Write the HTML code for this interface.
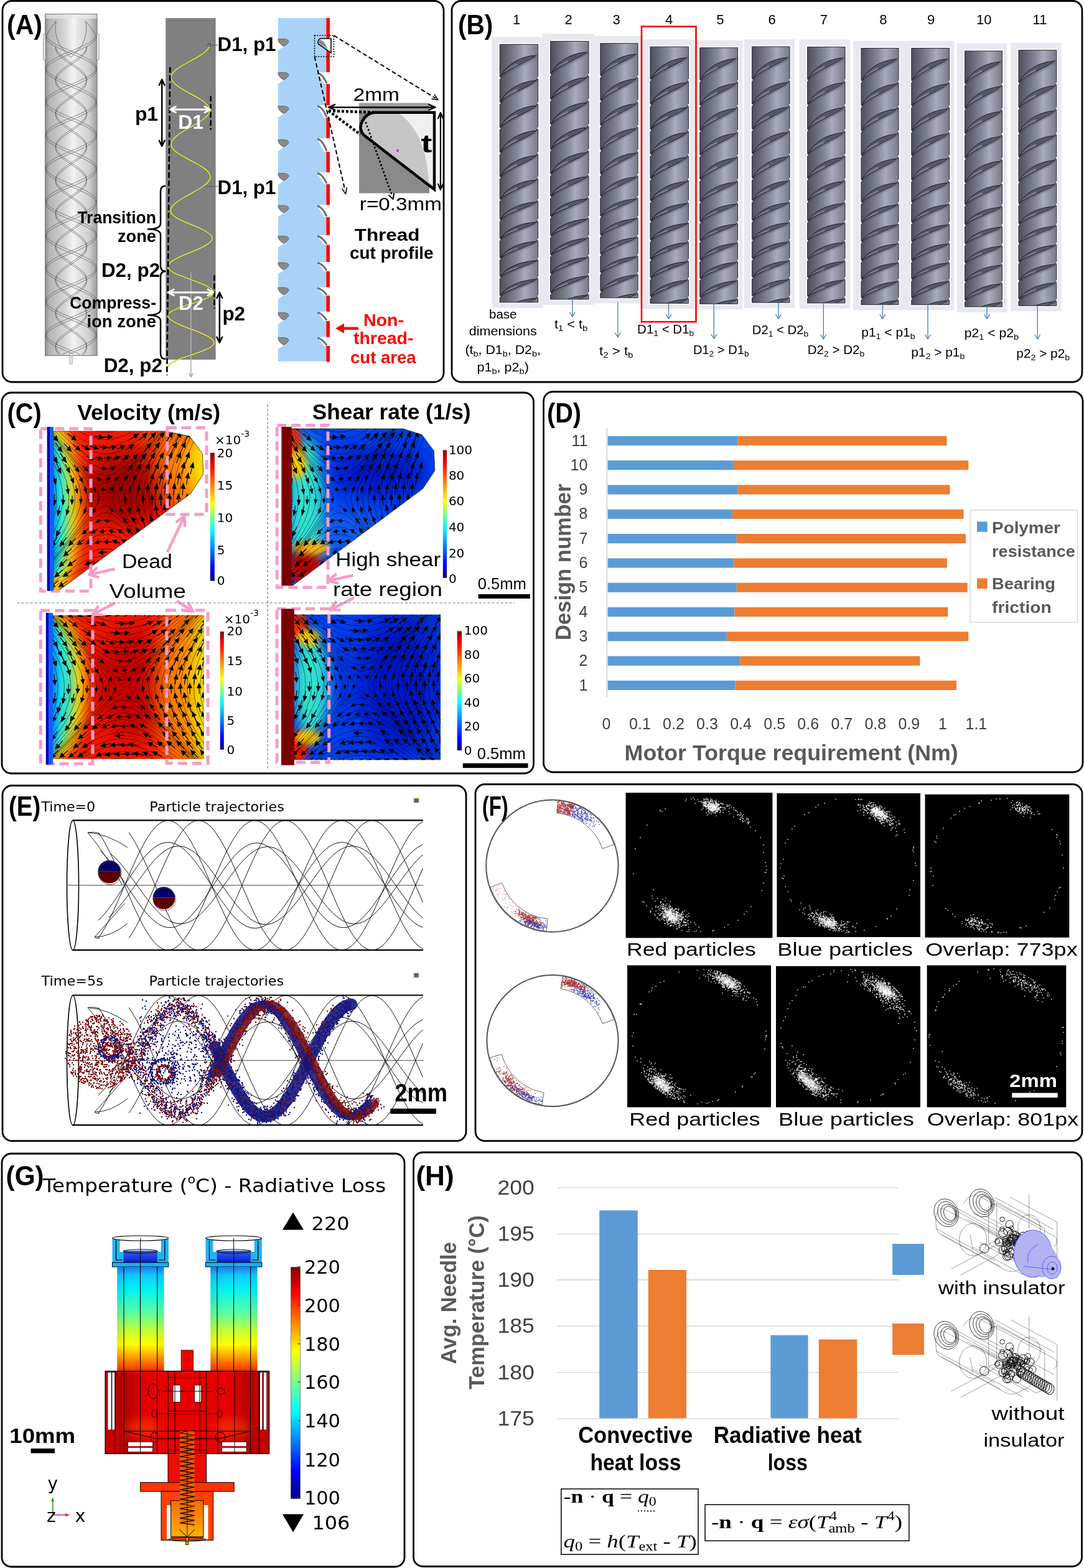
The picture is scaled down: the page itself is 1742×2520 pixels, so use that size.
<!DOCTYPE html>
<html><head><meta charset="utf-8"><title>Figure</title>
<style>html,body{margin:0;padding:0;background:#fff;}svg{display:block;}</style>
</head><body>
<svg width="1742" height="2520" viewBox="0 0 1742 2520">
<rect x="0" y="0" width="1742" height="2520" fill="#fff"/>
<rect x="4" y="1.5" width="709" height="612.5" rx="15" fill="none" stroke="#000" stroke-width="2.8"/>
<rect x="726" y="1.5" width="1013" height="612.5" rx="15" fill="none" stroke="#000" stroke-width="2.8"/>
<rect x="3" y="631" width="854.5" height="612" rx="15" fill="none" stroke="#000" stroke-width="2.8"/>
<rect x="873.5" y="629.5" width="866.5" height="611.5" rx="15" fill="none" stroke="#000" stroke-width="2.8"/>
<rect x="4" y="1262.5" width="745" height="571.1" rx="15" fill="none" stroke="#000" stroke-width="2.8"/>
<rect x="764" y="1260.5" width="975" height="573.1" rx="15" fill="none" stroke="#000" stroke-width="2.8"/>
<rect x="3" y="1854" width="647" height="664" rx="15" fill="none" stroke="#000" stroke-width="2.8"/>
<rect x="664.5" y="1852" width="1074" height="665.5" rx="15" fill="none" stroke="#000" stroke-width="2.8"/>
<defs><linearGradient id="cylA" x1="0" x2="1" y1="0" y2="0"><stop offset="0" stop-color="#8e8e8e"/><stop offset="0.08" stop-color="#b4b4b4"/><stop offset="0.35" stop-color="#d2d2d2"/><stop offset="0.55" stop-color="#f4f4f4"/><stop offset="0.62" stop-color="#e6e6e6"/><stop offset="0.85" stop-color="#cfcfcf"/><stop offset="1" stop-color="#9a9a9a"/></linearGradient><clipPath id="cylAclip"><rect x="73" y="23" width="83" height="548"/></clipPath></defs>
<rect x="72.7" y="22.6" width="83.3" height="548.8" fill="url(#cylA)" stroke="#6a6a6a" stroke-width="1"/>
<rect x="73.5" y="23" width="82" height="7" fill="#e8e8e8" opacity="0.7"/>
<rect x="69.4" y="55" width="3.6" height="41" fill="#e8e8e8" stroke="#888" stroke-width="0.8"/>
<rect x="155.5" y="55" width="3.5" height="41" fill="#e8e8e8" stroke="#888" stroke-width="0.8"/>
<rect x="112" y="571.4" width="4" height="13.6" fill="#f0f0f0" stroke="#888" stroke-width="0.8"/>
<g clip-path="url(#cylAclip)"><path d="M74 57 L75.1 59.5 L76.9 62 L79.6 64.5 L83.1 67 L87.2 69.5 L91.9 72 L97 74.5 L102.6 77 L108.4 79.5 L114.3 82 L120.2 84.5 L126 87 L131.6 89.5 L136.7 92 L141.4 94.5 L145.5 97 L149 99.5 L151.7 102 L153.5 104.5 L154.6 107 L154.8 109.5 L154.1 112 L152.5 114.5 L150.1 117 L147 119.5 L143.1 122 L138.7 124.5 L133.7 127 L128.3 129.5 L122.6 132 L116.7 134.5 L110.7 137 L104.9 139.5 L99.2 142 L93.9 144.5 L89 147 L84.6 149.5 L80.9 152 L77.9 154.5 L75.7 157 L74.3 159.5 L73.8 162 L74.2 164.5 L75.4 167 L77.4 169.5 L80.3 172 L83.8 174.5 L88.1 177 L92.9 179.5 L98.1 182 L103.7 184.5 L109.6 187 L115.5 189.5 L121.4 192 L127.2 194.5 L132.6 197 L137.7 199.5 L142.3 202 L146.3 204.5 L149.6 207 L152.1 209.5 L153.8 212 L154.7 214.5 L154.7 217 L153.8 219.5 L152.1 222 L149.6 224.5 L146.3 227 L142.3 229.5 L137.7 232 L132.6 234.5 L127.2 237 L121.4 239.5 L115.5 242 L109.6 244.5 L103.7 247 L98.1 249.5 L92.9 252 L88.1 254.5 L83.8 257 L80.3 259.5 L77.4 262 L75.4 264.5 L74.2 267 L73.8 269.5 L74.3 272 L75.7 274.5 L77.9 277 L80.9 279.5 L84.6 282 L89 284.5 L93.9 287 L99.2 289.5 L104.9 292 L110.7 294.5 L116.7 297 L122.6 299.5 L128.3 302 L133.7 304.5 L138.7 307 L143.1 309.5 L147 312 L150.1 314.5 L152.5 317 L154.1 319.5 L154.8 322 L154.6 324.5 L153.5 327 L151.7 329.5 L149 332 L145.5 334.5 L141.4 337 L136.7 339.5 L131.6 342 L126 344.5 L120.2 347 L114.3 349.5 L108.4 352 L102.6 354.5 L97 357 L91.9 359.5 L87.2 362 L83.1 364.5 L79.6 367 L76.9 369.5 L75.1 372 L74 374.5 L73.8 377 L74.5 379.5 L76.1 382 L78.5 384.5 L81.6 387 L85.5 389.5 L89.9 392 L94.9 394.5 L100.3 397 L106 399.5 L111.9 402 L117.9 404.5 L123.7 407 L129.4 409.5 L134.7 412 L139.6 414.5 L144 417 L147.7 419.5 L150.7 422 L152.9 424.5 L154.3 427 L154.8 429.5 L154.4 432 L153.2 434.5 L151.2 437 L148.3 439.5 L144.8 442 L140.5 444.5 L135.7 447 L130.5 449.5 L124.9 452 L119 454.5 L113.1 457 L107.2 459.5 L101.4 462 L96 464.5 L90.9 467 L86.3 469.5 L82.3 472 L79 474.5 L76.5 477 L74.8 479.5 L73.9 482 L73.9 484.5 L74.8 487 L76.5 489.5 L79 492 L82.3 494.5 L86.3 497 L90.9 499.5 L96 502 L101.4 504.5 L107.2 507 L113.1 509.5 L119 512 L124.9 514.5 L130.5 517 L135.7 519.5 L140.5 522 L144.8 524.5 L148.3 527 L151.2 529.5 L153.2 532 L154.4 534.5 L154.8 537 L154.3 539.5 L152.9 542 L150.7 544.5 L147.7 547 L144 549.5 L139.6 552 L134.7 554.5 L129.4 557 L123.7 559.5 L117.9 562 L111.9 564.5 L106 567 L100.3 569.5 M74.2 57 L73.8 59.5 L74.3 62 L75.7 64.5 L77.9 67 L80.9 69.5 L84.6 72 L89 74.5 L93.9 77 L99.2 79.5 L104.9 82 L110.7 84.5 L116.7 87 L122.6 89.5 L128.3 92 L133.7 94.5 L138.7 97 L143.1 99.5 L147 102 L150.1 104.5 L152.5 107 L154.1 109.5 L154.8 112 L154.6 114.5 L153.5 117 L151.7 119.5 L149 122 L145.5 124.5 L141.4 127 L136.7 129.5 L131.6 132 L126 134.5 L120.2 137 L114.3 139.5 L108.4 142 L102.6 144.5 L97 147 L91.9 149.5 L87.2 152 L83.1 154.5 L79.6 157 L76.9 159.5 L75.1 162 L74 164.5 L73.8 167 L74.5 169.5 L76.1 172 L78.5 174.5 L81.6 177 L85.5 179.5 L89.9 182 L94.9 184.5 L100.3 187 L106 189.5 L111.9 192 L117.9 194.5 L123.7 197 L129.4 199.5 L134.7 202 L139.6 204.5 L144 207 L147.7 209.5 L150.7 212 L152.9 214.5 L154.3 217 L154.8 219.5 L154.4 222 L153.2 224.5 L151.2 227 L148.3 229.5 L144.8 232 L140.5 234.5 L135.7 237 L130.5 239.5 L124.9 242 L119 244.5 L113.1 247 L107.2 249.5 L101.4 252 L96 254.5 L90.9 257 L86.3 259.5 L82.3 262 L79 264.5 L76.5 267 L74.8 269.5 L73.9 272 L73.9 274.5 L74.8 277 L76.5 279.5 L79 282 L82.3 284.5 L86.3 287 L90.9 289.5 L96 292 L101.4 294.5 L107.2 297 L113.1 299.5 L119 302 L124.9 304.5 L130.5 307 L135.7 309.5 L140.5 312 L144.8 314.5 L148.3 317 L151.2 319.5 L153.2 322 L154.4 324.5 L154.8 327 L154.3 329.5 L152.9 332 L150.7 334.5 L147.7 337 L144 339.5 L139.6 342 L134.7 344.5 L129.4 347 L123.7 349.5 L117.9 352 L111.9 354.5 L106 357 L100.3 359.5 L94.9 362 L89.9 364.5 L85.5 367 L81.6 369.5 L78.5 372 L76.1 374.5 L74.5 377 L73.8 379.5 L74 382 L75.1 384.5 L76.9 387 L79.6 389.5 L83.1 392 L87.2 394.5 L91.9 397 L97 399.5 L102.6 402 L108.4 404.5 L114.3 407 L120.2 409.5 L126 412 L131.6 414.5 L136.7 417 L141.4 419.5 L145.5 422 L149 424.5 L151.7 427 L153.5 429.5 L154.6 432 L154.8 434.5 L154.1 437 L152.5 439.5 L150.1 442 L147 444.5 L143.1 447 L138.7 449.5 L133.7 452 L128.3 454.5 L122.6 457 L116.7 459.5 L110.7 462 L104.9 464.5 L99.2 467 L93.9 469.5 L89 472 L84.6 474.5 L80.9 477 L77.9 479.5 L75.7 482 L74.3 484.5 L73.8 487 L74.2 489.5 L75.4 492 L77.4 494.5 L80.3 497 L83.8 499.5 L88.1 502 L92.9 504.5 L98.1 507 L103.7 509.5 L109.6 512 L115.5 514.5 L121.4 517 L127.2 519.5 L132.6 522 L137.7 524.5 L142.3 527 L146.3 529.5 L149.6 532 L152.1 534.5 L153.8 537 L154.7 539.5 L154.7 542 L153.8 544.5 L152.1 547 L149.6 549.5 L146.3 552 L142.3 554.5 L137.7 557 L132.6 559.5 L127.2 562 L121.4 564.5 L115.5 567 L109.6 569.5 M154.6 57 L153.5 59.5 L151.7 62 L149 64.5 L145.5 67 L141.4 69.5 L136.7 72 L131.6 74.5 L126 77 L120.2 79.5 L114.3 82 L108.4 84.5 L102.6 87 L97 89.5 L91.9 92 L87.2 94.5 L83.1 97 L79.6 99.5 L76.9 102 L75.1 104.5 L74 107 L73.8 109.5 L74.5 112 L76.1 114.5 L78.5 117 L81.6 119.5 L85.5 122 L89.9 124.5 L94.9 127 L100.3 129.5 L106 132 L111.9 134.5 L117.9 137 L123.7 139.5 L129.4 142 L134.7 144.5 L139.6 147 L144 149.5 L147.7 152 L150.7 154.5 L152.9 157 L154.3 159.5 L154.8 162 L154.4 164.5 L153.2 167 L151.2 169.5 L148.3 172 L144.8 174.5 L140.5 177 L135.7 179.5 L130.5 182 L124.9 184.5 L119 187 L113.1 189.5 L107.2 192 L101.4 194.5 L96 197 L90.9 199.5 L86.3 202 L82.3 204.5 L79 207 L76.5 209.5 L74.8 212 L73.9 214.5 L73.9 217 L74.8 219.5 L76.5 222 L79 224.5 L82.3 227 L86.3 229.5 L90.9 232 L96 234.5 L101.4 237 L107.2 239.5 L113.1 242 L119 244.5 L124.9 247 L130.5 249.5 L135.7 252 L140.5 254.5 L144.8 257 L148.3 259.5 L151.2 262 L153.2 264.5 L154.4 267 L154.8 269.5 L154.3 272 L152.9 274.5 L150.7 277 L147.7 279.5 L144 282 L139.6 284.5 L134.7 287 L129.4 289.5 L123.7 292 L117.9 294.5 L111.9 297 L106 299.5 L100.3 302 L94.9 304.5 L89.9 307 L85.5 309.5 L81.6 312 L78.5 314.5 L76.1 317 L74.5 319.5 L73.8 322 L74 324.5 L75.1 327 L76.9 329.5 L79.6 332 L83.1 334.5 L87.2 337 L91.9 339.5 L97 342 L102.6 344.5 L108.4 347 L114.3 349.5 L120.2 352 L126 354.5 L131.6 357 L136.7 359.5 L141.4 362 L145.5 364.5 L149 367 L151.7 369.5 L153.5 372 L154.6 374.5 L154.8 377 L154.1 379.5 L152.5 382 L150.1 384.5 L147 387 L143.1 389.5 L138.7 392 L133.7 394.5 L128.3 397 L122.6 399.5 L116.7 402 L110.7 404.5 L104.9 407 L99.2 409.5 L93.9 412 L89 414.5 L84.6 417 L80.9 419.5 L77.9 422 L75.7 424.5 L74.3 427 L73.8 429.5 L74.2 432 L75.4 434.5 L77.4 437 L80.3 439.5 L83.8 442 L88.1 444.5 L92.9 447 L98.1 449.5 L103.7 452 L109.6 454.5 L115.5 457 L121.4 459.5 L127.2 462 L132.6 464.5 L137.7 467 L142.3 469.5 L146.3 472 L149.6 474.5 L152.1 477 L153.8 479.5 L154.7 482 L154.7 484.5 L153.8 487 L152.1 489.5 L149.6 492 L146.3 494.5 L142.3 497 L137.7 499.5 L132.6 502 L127.2 504.5 L121.4 507 L115.5 509.5 L109.6 512 L103.7 514.5 L98.1 517 L92.9 519.5 L88.1 522 L83.8 524.5 L80.3 527 L77.4 529.5 L75.4 532 L74.2 534.5 L73.8 537 L74.3 539.5 L75.7 542 L77.9 544.5 L80.9 547 L84.6 549.5 L89 552 L93.9 554.5 L99.2 557 L104.9 559.5 L110.7 562 L116.7 564.5 L122.6 567 L128.3 569.5 M154.4 57 L154.8 59.5 L154.3 62 L152.9 64.5 L150.7 67 L147.7 69.5 L144 72 L139.6 74.5 L134.7 77 L129.4 79.5 L123.7 82 L117.9 84.5 L111.9 87 L106 89.5 L100.3 92 L94.9 94.5 L89.9 97 L85.5 99.5 L81.6 102 L78.5 104.5 L76.1 107 L74.5 109.5 L73.8 112 L74 114.5 L75.1 117 L76.9 119.5 L79.6 122 L83.1 124.5 L87.2 127 L91.9 129.5 L97 132 L102.6 134.5 L108.4 137 L114.3 139.5 L120.2 142 L126 144.5 L131.6 147 L136.7 149.5 L141.4 152 L145.5 154.5 L149 157 L151.7 159.5 L153.5 162 L154.6 164.5 L154.8 167 L154.1 169.5 L152.5 172 L150.1 174.5 L147 177 L143.1 179.5 L138.7 182 L133.7 184.5 L128.3 187 L122.6 189.5 L116.7 192 L110.7 194.5 L104.9 197 L99.2 199.5 L93.9 202 L89 204.5 L84.6 207 L80.9 209.5 L77.9 212 L75.7 214.5 L74.3 217 L73.8 219.5 L74.2 222 L75.4 224.5 L77.4 227 L80.3 229.5 L83.8 232 L88.1 234.5 L92.9 237 L98.1 239.5 L103.7 242 L109.6 244.5 L115.5 247 L121.4 249.5 L127.2 252 L132.6 254.5 L137.7 257 L142.3 259.5 L146.3 262 L149.6 264.5 L152.1 267 L153.8 269.5 L154.7 272 L154.7 274.5 L153.8 277 L152.1 279.5 L149.6 282 L146.3 284.5 L142.3 287 L137.7 289.5 L132.6 292 L127.2 294.5 L121.4 297 L115.5 299.5 L109.6 302 L103.7 304.5 L98.1 307 L92.9 309.5 L88.1 312 L83.8 314.5 L80.3 317 L77.4 319.5 L75.4 322 L74.2 324.5 L73.8 327 L74.3 329.5 L75.7 332 L77.9 334.5 L80.9 337 L84.6 339.5 L89 342 L93.9 344.5 L99.2 347 L104.9 349.5 L110.7 352 L116.7 354.5 L122.6 357 L128.3 359.5 L133.7 362 L138.7 364.5 L143.1 367 L147 369.5 L150.1 372 L152.5 374.5 L154.1 377 L154.8 379.5 L154.6 382 L153.5 384.5 L151.7 387 L149 389.5 L145.5 392 L141.4 394.5 L136.7 397 L131.6 399.5 L126 402 L120.2 404.5 L114.3 407 L108.4 409.5 L102.6 412 L97 414.5 L91.9 417 L87.2 419.5 L83.1 422 L79.6 424.5 L76.9 427 L75.1 429.5 L74 432 L73.8 434.5 L74.5 437 L76.1 439.5 L78.5 442 L81.6 444.5 L85.5 447 L89.9 449.5 L94.9 452 L100.3 454.5 L106 457 L111.9 459.5 L117.9 462 L123.7 464.5 L129.4 467 L134.7 469.5 L139.6 472 L144 474.5 L147.7 477 L150.7 479.5 L152.9 482 L154.3 484.5 L154.8 487 L154.4 489.5 L153.2 492 L151.2 494.5 L148.3 497 L144.8 499.5 L140.5 502 L135.7 504.5 L130.5 507 L124.9 509.5 L119 512 L113.1 514.5 L107.2 517 L101.4 519.5 L96 522 L90.9 524.5 L86.3 527 L82.3 529.5 L79 532 L76.5 534.5 L74.8 537 L73.9 539.5 L73.9 542 L74.8 544.5 L76.5 547 L79 549.5 L82.3 552 L86.3 554.5 L90.9 557 L96 559.5 L101.4 562 L107.2 564.5 L113.1 567 L119 569.5 M89.3 75 L89.8 77.5 L90.7 80 L92.2 82.5 L94.1 85 L96.5 87.5 L99.3 90 L102.3 92.5 L105.7 95 L109.2 97.5 L112.8 100 L116.5 102.5 L120.1 105 L123.6 107.5 L126.9 110 L129.9 112.5 L132.6 115 L134.9 117.5 L136.8 120 L138.1 122.5 L139 125 L139.3 127.5 L139.1 130 L138.3 132.5 L137.1 135 L135.3 137.5 L133.1 140 L130.5 142.5 L127.5 145 L124.3 147.5 L120.8 150 L117.2 152.5 L113.6 155 L109.9 157.5 L106.4 160 L103 162.5 L99.8 165 L97 167.5 L94.6 170 L92.5 172.5 L91 175 L89.9 177.5 L89.4 180 L89.4 182.5 L89.9 185 L91 187.5 L92.5 190 L94.6 192.5 L97 195 L99.8 197.5 L103 200 L106.4 202.5 L109.9 205 L113.6 207.5 L117.2 210 L120.8 212.5 L124.3 215 L127.5 217.5 L130.5 220 L133.1 222.5 L135.3 225 L137.1 227.5 L138.3 230 L139.1 232.5 L139.3 235 L139 237.5 L138.1 240 L136.8 242.5 L134.9 245 L132.6 247.5 L129.9 250 L126.9 252.5 L123.6 255 L120.1 257.5 L116.5 260 L112.8 262.5 L109.2 265 L105.7 267.5 L102.3 270 L99.3 272.5 L96.5 275 L94.1 277.5 L92.2 280 L90.7 282.5 L89.8 285 L89.3 287.5 L89.4 290 L90.1 292.5 L91.2 295 L92.9 297.5 L95 300 L97.6 302.5 L100.4 305 L103.6 307.5 L107.1 310 L110.6 312.5 L114.3 315 L118 317.5 L121.5 320 L125 322.5 L128.2 325 L131 327.5 L133.6 330 L135.7 332.5 L137.4 335 L138.5 337.5 L139.2 340 L139.3 342.5 L138.8 345 L137.9 347.5 L136.4 350 L134.5 352.5 L132.1 355 L129.3 357.5 L126.3 360 L122.9 362.5 L119.4 365 L115.8 367.5 L112.1 370 L108.5 372.5 L105 375 L101.7 377.5 L98.7 380 L96 382.5 L93.7 385 L91.8 387.5 L90.5 390 L89.6 392.5 L89.3 395 L89.5 397.5 L90.3 400 L91.5 402.5 L93.3 405 L95.5 407.5 L98.1 410 L101.1 412.5 L104.3 415 L107.8 417.5 L111.4 420 L115 422.5 L118.7 425 L122.2 427.5 L125.6 430 L128.8 432.5 L131.6 435 L134 437.5 L136.1 440 L137.6 442.5 L138.7 445 L139.2 447.5 L139.2 450 L138.7 452.5 L137.6 455 L136.1 457.5 L134 460 L131.6 462.5 L128.8 465 L125.6 467.5 L122.2 470 L118.7 472.5 L115 475 L111.4 477.5 L107.8 480 L104.3 482.5 L101.1 485 L98.1 487.5 L95.5 490 L93.3 492.5 L91.5 495 L90.3 497.5 L89.5 500 L89.3 502.5 L89.6 505 L90.5 507.5 L91.8 510 L93.7 512.5 L96 515 L98.7 517.5 L101.7 520 L105 522.5 L108.5 525 L112.1 527.5 L115.8 530 L119.4 532.5 L122.9 535 L126.3 537.5 L129.3 540 L132.1 542.5 L134.5 545 L136.4 547.5 L137.9 550 L138.8 552.5 L139.3 555 L139.2 557.5 L138.5 560 L137.4 562.5 L135.7 565 L133.6 567.5 L131 570 M89.5 75 L89.3 77.5 L89.6 80 L90.5 82.5 L91.8 85 L93.7 87.5 L96 90 L98.7 92.5 L101.7 95 L105 97.5 L108.5 100 L112.1 102.5 L115.8 105 L119.4 107.5 L122.9 110 L126.3 112.5 L129.3 115 L132.1 117.5 L134.5 120 L136.4 122.5 L137.9 125 L138.8 127.5 L139.3 130 L139.2 132.5 L138.5 135 L137.4 137.5 L135.7 140 L133.6 142.5 L131 145 L128.2 147.5 L125 150 L121.5 152.5 L118 155 L114.3 157.5 L110.6 160 L107.1 162.5 L103.6 165 L100.4 167.5 L97.6 170 L95 172.5 L92.9 175 L91.2 177.5 L90.1 180 L89.4 182.5 L89.3 185 L89.8 187.5 L90.7 190 L92.2 192.5 L94.1 195 L96.5 197.5 L99.3 200 L102.3 202.5 L105.7 205 L109.2 207.5 L112.8 210 L116.5 212.5 L120.1 215 L123.6 217.5 L126.9 220 L129.9 222.5 L132.6 225 L134.9 227.5 L136.8 230 L138.1 232.5 L139 235 L139.3 237.5 L139.1 240 L138.3 242.5 L137.1 245 L135.3 247.5 L133.1 250 L130.5 252.5 L127.5 255 L124.3 257.5 L120.8 260 L117.2 262.5 L113.6 265 L109.9 267.5 L106.4 270 L103 272.5 L99.8 275 L97 277.5 L94.6 280 L92.5 282.5 L91 285 L89.9 287.5 L89.4 290 L89.4 292.5 L89.9 295 L91 297.5 L92.5 300 L94.6 302.5 L97 305 L99.8 307.5 L103 310 L106.4 312.5 L109.9 315 L113.6 317.5 L117.2 320 L120.8 322.5 L124.3 325 L127.5 327.5 L130.5 330 L133.1 332.5 L135.3 335 L137.1 337.5 L138.3 340 L139.1 342.5 L139.3 345 L139 347.5 L138.1 350 L136.8 352.5 L134.9 355 L132.6 357.5 L129.9 360 L126.9 362.5 L123.6 365 L120.1 367.5 L116.5 370 L112.8 372.5 L109.2 375 L105.7 377.5 L102.3 380 L99.3 382.5 L96.5 385 L94.1 387.5 L92.2 390 L90.7 392.5 L89.8 395 L89.3 397.5 L89.4 400 L90.1 402.5 L91.2 405 L92.9 407.5 L95 410 L97.6 412.5 L100.4 415 L103.6 417.5 L107.1 420 L110.6 422.5 L114.3 425 L118 427.5 L121.5 430 L125 432.5 L128.2 435 L131 437.5 L133.6 440 L135.7 442.5 L137.4 445 L138.5 447.5 L139.2 450 L139.3 452.5 L138.8 455 L137.9 457.5 L136.4 460 L134.5 462.5 L132.1 465 L129.3 467.5 L126.3 470 L122.9 472.5 L119.4 475 L115.8 477.5 L112.1 480 L108.5 482.5 L105 485 L101.7 487.5 L98.7 490 L96 492.5 L93.7 495 L91.8 497.5 L90.5 500 L89.6 502.5 L89.3 505 L89.5 507.5 L90.3 510 L91.5 512.5 L93.3 515 L95.5 517.5 L98.1 520 L101.1 522.5 L104.3 525 L107.8 527.5 L111.4 530 L115 532.5 L118.7 535 L122.2 537.5 L125.6 540 L128.8 542.5 L131.6 545 L134 547.5 L136.1 550 L137.6 552.5 L138.7 555 L139.2 557.5 L139.2 560 L138.7 562.5 L137.6 565 L136.1 567.5 L134 570 M139.3 75 L138.8 77.5 L137.9 80 L136.4 82.5 L134.5 85 L132.1 87.5 L129.3 90 L126.3 92.5 L122.9 95 L119.4 97.5 L115.8 100 L112.1 102.5 L108.5 105 L105 107.5 L101.7 110 L98.7 112.5 L96 115 L93.7 117.5 L91.8 120 L90.5 122.5 L89.6 125 L89.3 127.5 L89.5 130 L90.3 132.5 L91.5 135 L93.3 137.5 L95.5 140 L98.1 142.5 L101.1 145 L104.3 147.5 L107.8 150 L111.4 152.5 L115 155 L118.7 157.5 L122.2 160 L125.6 162.5 L128.8 165 L131.6 167.5 L134 170 L136.1 172.5 L137.6 175 L138.7 177.5 L139.2 180 L139.2 182.5 L138.7 185 L137.6 187.5 L136.1 190 L134 192.5 L131.6 195 L128.8 197.5 L125.6 200 L122.2 202.5 L118.7 205 L115 207.5 L111.4 210 L107.8 212.5 L104.3 215 L101.1 217.5 L98.1 220 L95.5 222.5 L93.3 225 L91.5 227.5 L90.3 230 L89.5 232.5 L89.3 235 L89.6 237.5 L90.5 240 L91.8 242.5 L93.7 245 L96 247.5 L98.7 250 L101.7 252.5 L105 255 L108.5 257.5 L112.1 260 L115.8 262.5 L119.4 265 L122.9 267.5 L126.3 270 L129.3 272.5 L132.1 275 L134.5 277.5 L136.4 280 L137.9 282.5 L138.8 285 L139.3 287.5 L139.2 290 L138.5 292.5 L137.4 295 L135.7 297.5 L133.6 300 L131 302.5 L128.2 305 L125 307.5 L121.5 310 L118 312.5 L114.3 315 L110.6 317.5 L107.1 320 L103.6 322.5 L100.4 325 L97.6 327.5 L95 330 L92.9 332.5 L91.2 335 L90.1 337.5 L89.4 340 L89.3 342.5 L89.8 345 L90.7 347.5 L92.2 350 L94.1 352.5 L96.5 355 L99.3 357.5 L102.3 360 L105.7 362.5 L109.2 365 L112.8 367.5 L116.5 370 L120.1 372.5 L123.6 375 L126.9 377.5 L129.9 380 L132.6 382.5 L134.9 385 L136.8 387.5 L138.1 390 L139 392.5 L139.3 395 L139.1 397.5 L138.3 400 L137.1 402.5 L135.3 405 L133.1 407.5 L130.5 410 L127.5 412.5 L124.3 415 L120.8 417.5 L117.2 420 L113.6 422.5 L109.9 425 L106.4 427.5 L103 430 L99.8 432.5 L97 435 L94.6 437.5 L92.5 440 L91 442.5 L89.9 445 L89.4 447.5 L89.4 450 L89.9 452.5 L91 455 L92.5 457.5 L94.6 460 L97 462.5 L99.8 465 L103 467.5 L106.4 470 L109.9 472.5 L113.6 475 L117.2 477.5 L120.8 480 L124.3 482.5 L127.5 485 L130.5 487.5 L133.1 490 L135.3 492.5 L137.1 495 L138.3 497.5 L139.1 500 L139.3 502.5 L139 505 L138.1 507.5 L136.8 510 L134.9 512.5 L132.6 515 L129.9 517.5 L126.9 520 L123.6 522.5 L120.1 525 L116.5 527.5 L112.8 530 L109.2 532.5 L105.7 535 L102.3 537.5 L99.3 540 L96.5 542.5 L94.1 545 L92.2 547.5 L90.7 550 L89.8 552.5 L89.3 555 L89.4 557.5 L90.1 560 L91.2 562.5 L92.9 565 L95 567.5 L97.6 570 M139.1 75 L139.3 77.5 L139 80 L138.1 82.5 L136.8 85 L134.9 87.5 L132.6 90 L129.9 92.5 L126.9 95 L123.6 97.5 L120.1 100 L116.5 102.5 L112.8 105 L109.2 107.5 L105.7 110 L102.3 112.5 L99.3 115 L96.5 117.5 L94.1 120 L92.2 122.5 L90.7 125 L89.8 127.5 L89.3 130 L89.4 132.5 L90.1 135 L91.2 137.5 L92.9 140 L95 142.5 L97.6 145 L100.4 147.5 L103.6 150 L107.1 152.5 L110.6 155 L114.3 157.5 L118 160 L121.5 162.5 L125 165 L128.2 167.5 L131 170 L133.6 172.5 L135.7 175 L137.4 177.5 L138.5 180 L139.2 182.5 L139.3 185 L138.8 187.5 L137.9 190 L136.4 192.5 L134.5 195 L132.1 197.5 L129.3 200 L126.3 202.5 L122.9 205 L119.4 207.5 L115.8 210 L112.1 212.5 L108.5 215 L105 217.5 L101.7 220 L98.7 222.5 L96 225 L93.7 227.5 L91.8 230 L90.5 232.5 L89.6 235 L89.3 237.5 L89.5 240 L90.3 242.5 L91.5 245 L93.3 247.5 L95.5 250 L98.1 252.5 L101.1 255 L104.3 257.5 L107.8 260 L111.4 262.5 L115 265 L118.7 267.5 L122.2 270 L125.6 272.5 L128.8 275 L131.6 277.5 L134 280 L136.1 282.5 L137.6 285 L138.7 287.5 L139.2 290 L139.2 292.5 L138.7 295 L137.6 297.5 L136.1 300 L134 302.5 L131.6 305 L128.8 307.5 L125.6 310 L122.2 312.5 L118.7 315 L115 317.5 L111.4 320 L107.8 322.5 L104.3 325 L101.1 327.5 L98.1 330 L95.5 332.5 L93.3 335 L91.5 337.5 L90.3 340 L89.5 342.5 L89.3 345 L89.6 347.5 L90.5 350 L91.8 352.5 L93.7 355 L96 357.5 L98.7 360 L101.7 362.5 L105 365 L108.5 367.5 L112.1 370 L115.8 372.5 L119.4 375 L122.9 377.5 L126.3 380 L129.3 382.5 L132.1 385 L134.5 387.5 L136.4 390 L137.9 392.5 L138.8 395 L139.3 397.5 L139.2 400 L138.5 402.5 L137.4 405 L135.7 407.5 L133.6 410 L131 412.5 L128.2 415 L125 417.5 L121.5 420 L118 422.5 L114.3 425 L110.6 427.5 L107.1 430 L103.6 432.5 L100.4 435 L97.6 437.5 L95 440 L92.9 442.5 L91.2 445 L90.1 447.5 L89.4 450 L89.3 452.5 L89.8 455 L90.7 457.5 L92.2 460 L94.1 462.5 L96.5 465 L99.3 467.5 L102.3 470 L105.7 472.5 L109.2 475 L112.8 477.5 L116.5 480 L120.1 482.5 L123.6 485 L126.9 487.5 L129.9 490 L132.6 492.5 L134.9 495 L136.8 497.5 L138.1 500 L139 502.5 L139.3 505 L139.1 507.5 L138.3 510 L137.1 512.5 L135.3 515 L133.1 517.5 L130.5 520 L127.5 522.5 L124.3 525 L120.8 527.5 L117.2 530 L113.6 532.5 L109.9 535 L106.4 537.5 L103 540 L99.8 542.5 L97 545 L94.6 547.5 L92.5 550 L91 552.5 L89.9 555 L89.4 557.5 L89.4 560 L89.9 562.5 L91 565 L92.5 567.5 L94.6 570 M90 34 Q86 52 96 72 Q106 86 114 92 M90 34 Q80 46 74 58 M137.5 34 Q142 52 132 72 Q122 86 114 92 M137.5 34 Q148 46 155 58" fill="none" stroke="#4a4a4a" stroke-width="0.9" opacity="0.7"/></g>
<rect x="266.2" y="29.1" width="80.4" height="548.9" fill="#808080"/>
<path d="M336.3 72.4 L335.5 76.1 L333.3 79.8 L329.6 83.5 L324.8 87.1 L318.9 90.8 L312.5 94.5 L305.7 98.2 L298.8 101.9 L292.4 105.6 L286.5 109.3 L281.7 112.9 L278 116.6 L275.8 120.3 L275 124 L275.8 127.8 L278.1 131.6 L281.8 135.4 L286.7 139.1 L292.5 142.9 L299.1 146.7 L306 150.5 L312.9 154.3 L319.5 158.1 L325.3 161.9 L330.2 165.6 L333.9 169.4 L336.2 173.2 L337 177 L336.2 180.9 L333.9 184.9 L330.2 188.8 L325.3 192.7 L319.5 196.6 L312.9 200.6 L306 204.5 L299.1 208.4 L292.5 212.4 L286.7 216.3 L281.8 220.2 L278.1 224.1 L275.8 228.1 L275 232 L275.8 235.7 L278.1 239.4 L281.9 243.1 L286.9 246.9 L292.8 250.6 L299.5 254.3 L306.5 258 L313.5 261.7 L320.2 265.4 L326.1 269.1 L331.1 272.9 L334.9 276.6 L337.2 280.3 L338 284 L337.2 287.9 L334.8 291.9 L331 295.8 L326 299.7 L319.9 303.6 L313.1 307.6 L306 311.5 L298.9 315.4 L292.1 319.4 L286 323.3 L281 327.2 L277.2 331.1 L274.8 335.1 L274 339 L274.8 342.1 L277.3 345.3 L281.3 348.4 L286.6 351.6 L293 354.7 L300 357.9 L307.5 361 L315 364.1 L322 367.3 L328.4 370.4 L333.7 373.6 L337.7 376.7 L340.2 379.9 L341 383 L340.1 386.2 L337.5 389.5 L333.3 392.8 L327.6 396 L320.9 399.2 L313.4 402.5 L305.5 405.8 L297.6 409 L290.1 412.2 L283.4 415.5 L277.7 418.8 L273.5 422 L270.9 425.2 L270 428.5 L270.9 431.5 L273.6 434.4 L278 437.4 L283.7 440.4 L290.7 443.3 L298.4 446.3 L306.5 449.2 L314.6 452.2 L322.3 455.2 L329.3 458.1 L335 461.1 L339.4 464.1 L342.1 467 L343 470 L342.1 472.6 L339.4 475.3 L335 477.9 L329.3 480.6 L322.3 483.2 L314.6 485.9 L306.5 488.5 L298.4 491.1 L290.7 493.8 L283.7 496.4 L278 499.1 L273.6 501.7 L270.9 504.4 L270 507 L270.9 510.1 L273.7 513.3 L278.1 516.4 L283.9 519.6 L290.9 522.7 L298.8 525.9 L307 529 L315.2 532.1 L323.1 535.3 L330.1 538.4 L335.9 541.6 L340.3 544.7 L343.1 547.9 L344 551 L343.1 553.8 L340.3 556.6 L335.9 559.4 L330.1 562.1 L323.1 564.9 L315.2 567.7 L307 570.5 L298.8 573.3 L290.9 576.1 L283.9 578.9 L278.1 581.6 L273.7 584.4 L270.9 587.2 L270 590" fill="none" stroke="#3a3aa0" stroke-width="2.6" opacity="0.35"/>
<path d="M336.3 72.4 L335.5 76.1 L333.3 79.8 L329.6 83.5 L324.8 87.1 L318.9 90.8 L312.5 94.5 L305.7 98.2 L298.8 101.9 L292.4 105.6 L286.5 109.3 L281.7 112.9 L278 116.6 L275.8 120.3 L275 124 L275.8 127.8 L278.1 131.6 L281.8 135.4 L286.7 139.1 L292.5 142.9 L299.1 146.7 L306 150.5 L312.9 154.3 L319.5 158.1 L325.3 161.9 L330.2 165.6 L333.9 169.4 L336.2 173.2 L337 177 L336.2 180.9 L333.9 184.9 L330.2 188.8 L325.3 192.7 L319.5 196.6 L312.9 200.6 L306 204.5 L299.1 208.4 L292.5 212.4 L286.7 216.3 L281.8 220.2 L278.1 224.1 L275.8 228.1 L275 232 L275.8 235.7 L278.1 239.4 L281.9 243.1 L286.9 246.9 L292.8 250.6 L299.5 254.3 L306.5 258 L313.5 261.7 L320.2 265.4 L326.1 269.1 L331.1 272.9 L334.9 276.6 L337.2 280.3 L338 284 L337.2 287.9 L334.8 291.9 L331 295.8 L326 299.7 L319.9 303.6 L313.1 307.6 L306 311.5 L298.9 315.4 L292.1 319.4 L286 323.3 L281 327.2 L277.2 331.1 L274.8 335.1 L274 339 L274.8 342.1 L277.3 345.3 L281.3 348.4 L286.6 351.6 L293 354.7 L300 357.9 L307.5 361 L315 364.1 L322 367.3 L328.4 370.4 L333.7 373.6 L337.7 376.7 L340.2 379.9 L341 383 L340.1 386.2 L337.5 389.5 L333.3 392.8 L327.6 396 L320.9 399.2 L313.4 402.5 L305.5 405.8 L297.6 409 L290.1 412.2 L283.4 415.5 L277.7 418.8 L273.5 422 L270.9 425.2 L270 428.5 L270.9 431.5 L273.6 434.4 L278 437.4 L283.7 440.4 L290.7 443.3 L298.4 446.3 L306.5 449.2 L314.6 452.2 L322.3 455.2 L329.3 458.1 L335 461.1 L339.4 464.1 L342.1 467 L343 470 L342.1 472.6 L339.4 475.3 L335 477.9 L329.3 480.6 L322.3 483.2 L314.6 485.9 L306.5 488.5 L298.4 491.1 L290.7 493.8 L283.7 496.4 L278 499.1 L273.6 501.7 L270.9 504.4 L270 507 L270.9 510.1 L273.7 513.3 L278.1 516.4 L283.9 519.6 L290.9 522.7 L298.8 525.9 L307 529 L315.2 532.1 L323.1 535.3 L330.1 538.4 L335.9 541.6 L340.3 544.7 L343.1 547.9 L344 551 L343.1 553.8 L340.3 556.6 L335.9 559.4 L330.1 562.1 L323.1 564.9 L315.2 567.7 L307 570.5 L298.8 573.3 L290.9 576.1 L283.9 578.9 L278.1 581.6 L273.7 584.4 L270.9 587.2 L270 590" fill="none" stroke="#f2ee1a" stroke-width="1.6"/>
<circle cx="336.3" cy="72.4" r="2.2" fill="none" stroke="#333" stroke-width="1"/>
<line x1="338.5" y1="72.4" x2="350" y2="72.4" stroke="#555" stroke-width="1"/>
<line x1="329" y1="299.7" x2="350" y2="299.7" stroke="#555" stroke-width="1"/>
<line x1="268" y1="436" x2="266" y2="436" stroke="#555" stroke-width="1"/>
<line x1="306.8" y1="438" x2="306.8" y2="603" stroke="#b0b0b0" stroke-width="1.6"/>
<path d="M303.9 600.7 L306.8 606 L309.7 600.7" fill="none" stroke="#9a9a9a" stroke-width="1.5" stroke-linecap="round" stroke-linejoin="round"/>
<line x1="273.3" y1="108" x2="268.3" y2="603" stroke="#000" stroke-width="2.6" stroke-dasharray="9 4"/>
<line x1="338.6" y1="154" x2="338.6" y2="208.6" stroke="#000" stroke-width="2.6" stroke-dasharray="9 4"/>
<line x1="344.4" y1="442.6" x2="344.4" y2="496" stroke="#000" stroke-width="2.6" stroke-dasharray="9 4"/>
<line x1="260.2" y1="128.8" x2="260.2" y2="234" stroke="#000" stroke-width="2.5"/><path d="M264.5 136.8 L260.2 127.8 L255.9 136.8" fill="none" stroke="#000" stroke-width="2.5" stroke-linecap="round" stroke-linejoin="round"/><path d="M255.9 226 L260.2 235 L264.5 226" fill="none" stroke="#000" stroke-width="2.5" stroke-linecap="round" stroke-linejoin="round"/>
<line x1="352.8" y1="471" x2="352.8" y2="549.7" stroke="#000" stroke-width="2.5"/><path d="M357.1 479 L352.8 470 L348.5 479" fill="none" stroke="#000" stroke-width="2.5" stroke-linecap="round" stroke-linejoin="round"/><path d="M348.5 541.7 L352.8 550.7 L357.1 541.7" fill="none" stroke="#000" stroke-width="2.5" stroke-linecap="round" stroke-linejoin="round"/>
<line x1="274.5" y1="176" x2="337" y2="176" stroke="#fff" stroke-width="3"/><path d="M282.3 171.2 L273.5 176 L282.3 180.8" fill="none" stroke="#fff" stroke-width="3" stroke-linecap="round" stroke-linejoin="round"/><path d="M329.2 180.8 L338 176 L329.2 171.2" fill="none" stroke="#fff" stroke-width="3" stroke-linecap="round" stroke-linejoin="round"/>
<line x1="271.5" y1="470" x2="342" y2="470" stroke="#fff" stroke-width="3"/><path d="M279.3 465.2 L270.5 470 L279.3 474.8" fill="none" stroke="#fff" stroke-width="3" stroke-linecap="round" stroke-linejoin="round"/><path d="M334.2 474.8 L343 470 L334.2 465.2" fill="none" stroke="#fff" stroke-width="3" stroke-linecap="round" stroke-linejoin="round"/>
<path d="M266 298.8 Q258 298.8 258 307.8 L258 359.3 Q258 368.3 237 368.3 Q258 368.3 258 377.3 L258 427 Q258 436 266 436" fill="none" stroke="#000" stroke-width="2.5"/>
<path d="M266 436 Q258 436 258 445 L258 497.5 Q258 506.5 237 506.5 Q258 506.5 258 515.5 L258 568 Q258 577 266 577" fill="none" stroke="#000" stroke-width="2.5"/>
<text x="11" y="55" font-family="'Liberation Sans', Arial, sans-serif" font-size="44" font-weight="bold" fill="#000" textLength="57" lengthAdjust="spacingAndGlyphs">(A)</text>
<text x="349.6" y="82" font-family="'Liberation Sans', Arial, sans-serif" font-size="31" font-weight="bold" fill="#000" textLength="93.9" lengthAdjust="spacingAndGlyphs">D1, p1</text>
<text x="349.6" y="311.7" font-family="'Liberation Sans', Arial, sans-serif" font-size="31" font-weight="bold" fill="#000" textLength="93.7" lengthAdjust="spacingAndGlyphs">D1, p1</text>
<text x="216.9" y="193.6" font-family="'Liberation Sans', Arial, sans-serif" font-size="31" font-weight="bold" fill="#000" textLength="37.2" lengthAdjust="spacingAndGlyphs">p1</text>
<text x="286.3" y="206.8" font-family="'Liberation Sans', Arial, sans-serif" font-size="32" font-weight="bold" fill="#fff" textLength="40.8" lengthAdjust="spacingAndGlyphs">D1</text>
<text x="251" y="359" font-family="'Liberation Sans', Arial, sans-serif" font-size="28" font-weight="bold" fill="#000" text-anchor="end" textLength="126.6" lengthAdjust="spacingAndGlyphs">Transition</text>
<text x="251" y="389" font-family="'Liberation Sans', Arial, sans-serif" font-size="28" font-weight="bold" fill="#000" text-anchor="end" textLength="62" lengthAdjust="spacingAndGlyphs">zone</text>
<text x="162.9" y="445.4" font-family="'Liberation Sans', Arial, sans-serif" font-size="31" font-weight="bold" fill="#000" textLength="94.2" lengthAdjust="spacingAndGlyphs">D2, p2</text>
<text x="251" y="496" font-family="'Liberation Sans', Arial, sans-serif" font-size="28" font-weight="bold" fill="#000" text-anchor="end" textLength="139" lengthAdjust="spacingAndGlyphs">Compress-</text>
<text x="251" y="526" font-family="'Liberation Sans', Arial, sans-serif" font-size="28" font-weight="bold" fill="#000" text-anchor="end" textLength="111.6" lengthAdjust="spacingAndGlyphs">ion zone</text>
<text x="166.7" y="597.7" font-family="'Liberation Sans', Arial, sans-serif" font-size="31" font-weight="bold" fill="#000" textLength="94.2" lengthAdjust="spacingAndGlyphs">D2, p2</text>
<text x="286.9" y="498" font-family="'Liberation Sans', Arial, sans-serif" font-size="32" font-weight="bold" fill="#fff" textLength="39.8" lengthAdjust="spacingAndGlyphs">D2</text>
<text x="357.4" y="515" font-family="'Liberation Sans', Arial, sans-serif" font-size="31" font-weight="bold" fill="#000" textLength="36.7" lengthAdjust="spacingAndGlyphs">p2</text>
<rect x="447" y="29" width="77.6" height="551.8" fill="#a8d2fa"/>
<path d="M446.5 62 L460 62 L464 67 L457 74.5 L446.5 81 Z" fill="#fff"/>
<path d="M447 62.5 L458 62.5 Q464 63.5 464 67.5 Q461 72 456 74.5 Q449 71 447 65 Z" fill="#8a8a8a" stroke="#555" stroke-width="0.8"/>
<path d="M446.5 116 L460 116 L464 121 L457 128.5 L446.5 135 Z" fill="#fff"/>
<path d="M447 116.5 L458 116.5 Q464 117.5 464 121.5 Q461 126 456 128.5 Q449 125 447 119 Z" fill="#8a8a8a" stroke="#555" stroke-width="0.8"/>
<path d="M446.5 170 L460 170 L464 175 L457 182.5 L446.5 189 Z" fill="#fff"/>
<path d="M447 170.5 L458 170.5 Q464 171.5 464 175.5 Q461 180 456 182.5 Q449 179 447 173 Z" fill="#8a8a8a" stroke="#555" stroke-width="0.8"/>
<path d="M446.5 224 L460 224 L464 229 L457 236.5 L446.5 243 Z" fill="#fff"/>
<path d="M447 224.5 L458 224.5 Q464 225.5 464 229.5 Q461 234 456 236.5 Q449 233 447 227 Z" fill="#8a8a8a" stroke="#555" stroke-width="0.8"/>
<path d="M446.5 278 L460 278 L464 283 L457 290.5 L446.5 297 Z" fill="#fff"/>
<path d="M447 278.5 L458 278.5 Q464 279.5 464 283.5 Q461 288 456 290.5 Q449 287 447 281 Z" fill="#8a8a8a" stroke="#555" stroke-width="0.8"/>
<path d="M446.5 329.6 L460 329.6 L464 334.6 L457 342.1 L446.5 348.6 Z" fill="#fff"/>
<path d="M447 330.1 L458 330.1 Q464 331.1 464 335.1 Q461 339.6 456 342.1 Q449 338.6 447 332.6 Z" fill="#8a8a8a" stroke="#555" stroke-width="0.8"/>
<path d="M446.5 378.7 L460 378.7 L464 383.7 L457 391.2 L446.5 397.7 Z" fill="#fff"/>
<path d="M447 379.2 L458 379.2 Q464 380.2 464 384.2 Q461 388.7 456 391.2 Q449 387.7 447 381.7 Z" fill="#8a8a8a" stroke="#555" stroke-width="0.8"/>
<path d="M446.5 421.4 L460 421.4 L464 426.4 L457 433.9 L446.5 440.4 Z" fill="#fff"/>
<path d="M447 421.9 L458 421.9 Q464 422.9 464 426.9 Q461 431.4 456 433.9 Q449 430.4 447 424.4 Z" fill="#8a8a8a" stroke="#555" stroke-width="0.8"/>
<path d="M446.5 461.4 L460 461.4 L464 466.4 L457 473.9 L446.5 480.4 Z" fill="#fff"/>
<path d="M447 461.9 L458 461.9 Q464 462.9 464 466.9 Q461 471.4 456 473.9 Q449 470.4 447 464.4 Z" fill="#8a8a8a" stroke="#555" stroke-width="0.8"/>
<path d="M446.5 502 L460 502 L464 507 L457 514.5 L446.5 521 Z" fill="#fff"/>
<path d="M447 502.5 L458 502.5 Q464 503.5 464 507.5 Q461 512 456 514.5 Q449 511 447 505 Z" fill="#8a8a8a" stroke="#555" stroke-width="0.8"/>
<path d="M446.5 542 L460 542 L464 547 L457 554.5 L446.5 561 Z" fill="#fff"/>
<path d="M447 542.5 L458 542.5 Q464 543.5 464 547.5 Q461 552 456 554.5 Q449 551 447 545 Z" fill="#8a8a8a" stroke="#555" stroke-width="0.8"/>
<rect x="524.4" y="29" width="5.6" height="87" fill="#ff0000"/>
<rect x="524.4" y="135" width="5.6" height="34" fill="#ff0000"/>
<rect x="524.4" y="189" width="5.6" height="33" fill="#ff0000"/>
<rect x="524.4" y="244" width="5.6" height="33" fill="#ff0000"/>
<rect x="524.4" y="296" width="5.6" height="33.5" fill="#ff0000"/>
<rect x="524.4" y="349" width="5.6" height="29" fill="#ff0000"/>
<rect x="524.4" y="393.6" width="5.6" height="27.4" fill="#ff0000"/>
<rect x="524.4" y="436" width="5.6" height="25.7" fill="#ff0000"/>
<rect x="524.4" y="475" width="5.6" height="25.8" fill="#ff0000"/>
<rect x="524.4" y="516" width="5.6" height="25.7" fill="#ff0000"/>
<rect x="524.4" y="556" width="5.6" height="25.7" fill="#ff0000"/>
<path d="M509 116 L525 116 L525 135 L521 135 Z" fill="#fff"/>
<path d="M510 117 Q519 120 525 134" fill="none" stroke="#707070" stroke-width="3"/>
<path d="M509 169 L525 169 L525 189 L521 189 Z" fill="#fff"/>
<path d="M510 170 Q519 173 525 188" fill="none" stroke="#707070" stroke-width="3"/>
<path d="M509 222 L525 222 L525 244 L521 244 Z" fill="#fff"/>
<path d="M510 223 Q519 226 525 243" fill="none" stroke="#707070" stroke-width="3"/>
<path d="M509 277 L525 277 L525 296 L521 296 Z" fill="#fff"/>
<path d="M510 278 Q519 281 525 295" fill="none" stroke="#707070" stroke-width="3"/>
<path d="M509 329.5 L525 329.5 L525 349 L521 349 Z" fill="#fff"/>
<path d="M510 330.5 Q519 333.5 525 348" fill="none" stroke="#707070" stroke-width="3"/>
<path d="M509 378 L525 378 L525 393.6 L521 393.6 Z" fill="#fff"/>
<path d="M510 379 Q519 382 525 392.6" fill="none" stroke="#707070" stroke-width="3"/>
<path d="M509 421 L525 421 L525 436 L521 436 Z" fill="#fff"/>
<path d="M510 422 Q519 425 525 435" fill="none" stroke="#707070" stroke-width="3"/>
<path d="M509 461.7 L525 461.7 L525 475 L521 475 Z" fill="#fff"/>
<path d="M510 462.7 Q519 465.7 525 474" fill="none" stroke="#707070" stroke-width="3"/>
<path d="M509 500.8 L525 500.8 L525 516 L521 516 Z" fill="#fff"/>
<path d="M510 501.8 Q519 504.8 525 515" fill="none" stroke="#707070" stroke-width="3"/>
<path d="M509 541.7 L525 541.7 L525 556 L521 556 Z" fill="#fff"/>
<path d="M510 542.7 Q519 545.7 525 555" fill="none" stroke="#707070" stroke-width="3"/>
<rect x="505.5" y="57" width="30.9" height="34" fill="none" stroke="#000" stroke-width="1.6" stroke-dasharray="2 2"/>
<path d="M514 62 L532 62 L532 85 L512 71 Q509 66 514 62 Z" fill="#fff" stroke="#000" stroke-width="1.6"/>
<path d="M514 63.5 Q520 64 527 79 L513 70 Q510 66 514 63.5 Z" fill="#8a8a8a"/>
<line x1="536.4" y1="57" x2="700" y2="158" stroke="#000" stroke-width="2" stroke-dasharray="7 4"/>
<path d="M694.1 159 L704 160.5 L698.2 152.3" fill="none" stroke="#000" stroke-width="1.6" stroke-linecap="round" stroke-linejoin="round"/>
<line x1="505.5" y1="91" x2="554.5" y2="306" stroke="#000" stroke-width="2" stroke-dasharray="7 4"/>
<path d="M549.7 303.6 L555.5 311.7 L557.3 301.9" fill="none" stroke="#000" stroke-width="1.6" stroke-linecap="round" stroke-linejoin="round"/>
<rect x="577" y="165.7" width="113" height="144.8" fill="#8a8a8a"/>
<rect x="577" y="165.7" width="113" height="14.3" fill="#9c9c9c"/>
<path d="M602 180.7 L698 180.7 L698 304.5 L585.2 217.6 Q576 208 581.7 196 Q588 182 602 180.7 Z" fill="#c6c6c6"/>
<path d="M641 182 Q684 212 689 292 L698 300 L698 181 Z" fill="#efefef"/>
<path d="M602 180.7 L698 180.7 L698 304.5 L585.2 217.6 Q576 208 581.7 196 Q588 182 602 180.7 Z" fill="none" stroke="#000" stroke-width="4.5" stroke-linejoin="miter"/>
<path d="M528 178 L600 180.7 M528 178 L579 216" fill="none" stroke="#000" stroke-width="4.5" stroke-dasharray="4 3"/>
<line x1="529" y1="172.4" x2="698.5" y2="172.4" stroke="#000" stroke-width="2.5"/><path d="M538.1 168.1 L528 172.4 L538.1 176.7" fill="none" stroke="#000" stroke-width="2.5" stroke-linecap="round" stroke-linejoin="round"/><path d="M689.4 176.7 L699.5 172.4 L689.4 168.1" fill="none" stroke="#000" stroke-width="2.5" stroke-linecap="round" stroke-linejoin="round"/>
<line x1="707.9" y1="182" x2="707.9" y2="304" stroke="#000" stroke-width="2.2"/><path d="M711.8 190.2 L707.9 181 L704 190.2" fill="none" stroke="#000" stroke-width="2.2" stroke-linecap="round" stroke-linejoin="round"/><path d="M704 295.8 L707.9 305 L711.8 295.8" fill="none" stroke="#000" stroke-width="2.2" stroke-linecap="round" stroke-linejoin="round"/>
<line x1="587.6" y1="196.2" x2="630" y2="314" stroke="#000" stroke-width="2.6" stroke-dasharray="3 3"/>
<path d="M625 314 L631.7 320 L633.1 311.1" fill="none" stroke="#000" stroke-width="2" stroke-linecap="round" stroke-linejoin="round"/>
<rect x="637" y="240" width="4" height="4" fill="#d040d0"/>
<text x="567.6" y="161.7" font-family="'Liberation Sans', Arial, sans-serif" font-size="29" fill="#000" textLength="74.4" lengthAdjust="spacingAndGlyphs">2mm</text>
<text x="676.6" y="245" font-family="'Liberation Sans', Arial, sans-serif" font-size="40" font-weight="bold" fill="#000" textLength="17.8" lengthAdjust="spacingAndGlyphs">t</text>
<text x="577.8" y="337.5" font-family="'Liberation Sans', Arial, sans-serif" font-size="29" fill="#000" textLength="132.2" lengthAdjust="spacingAndGlyphs">r=0.3mm</text>
<text x="569.7" y="387" font-family="'Liberation Sans', Arial, sans-serif" font-size="28" font-weight="bold" fill="#000" textLength="104.8" lengthAdjust="spacingAndGlyphs">Thread</text>
<text x="562" y="416" font-family="'Liberation Sans', Arial, sans-serif" font-size="28" font-weight="bold" fill="#000" textLength="134.6" lengthAdjust="spacingAndGlyphs">cut profile</text>
<text x="584" y="524" font-family="'Liberation Sans', Arial, sans-serif" font-size="28" font-weight="bold" fill="#ff0000" textLength="65" lengthAdjust="spacingAndGlyphs">Non-</text>
<text x="568" y="552.6" font-family="'Liberation Sans', Arial, sans-serif" font-size="28" font-weight="bold" fill="#ff0000" textLength="96.5" lengthAdjust="spacingAndGlyphs">thread-</text>
<text x="563" y="584" font-family="'Liberation Sans', Arial, sans-serif" font-size="28" font-weight="bold" fill="#ff0000" textLength="105.7" lengthAdjust="spacingAndGlyphs">cut area</text>
<line x1="576" y1="527.8" x2="548" y2="527.8" stroke="#ff0000" stroke-width="4.5"/>
<path d="M539 527.8 L553 519.8 L553 535.8 Z" fill="#ff0000"/>
<defs><linearGradient id="scrG" x1="0" x2="1" y1="0" y2="0"><stop offset="0" stop-color="#4c4f5b"/><stop offset="0.2" stop-color="#646775"/><stop offset="0.45" stop-color="#858898"/><stop offset="0.65" stop-color="#a8abbc"/><stop offset="0.8" stop-color="#9497a8"/><stop offset="1" stop-color="#767988"/></linearGradient><clipPath id="scclip"><rect x="0" y="0" width="61" height="415" rx="3"/></clipPath><g id="scr"><rect x="-13" y="-12" width="82" height="436" fill="#e6e9f0"/><rect x="-2.5" y="-2.5" width="66" height="420" fill="#f7f8fb"/><rect x="0" y="0" width="61" height="415" fill="url(#scrG)" stroke="#2a2a30" stroke-width="1"/><g clip-path="url(#scclip)"><path d="M0 54 L1.7 51.5 L4.2 48.9 L7.3 46.4 L11.1 43.9 L15.5 41.3 L20.2 38.8 L25.3 36.3 L30.5 33.8 L35.7 31.2 L40.8 28.7 L45.5 26.2 L49.9 23.6 L53.7 21.1 L56.8 18.6 L59.3 16 L61 13.5 M0 94.5 L1.7 92 L4.2 89.4 L7.3 86.9 L11.1 84.4 L15.5 81.8 L20.2 79.3 L25.3 76.8 L30.5 74.2 L35.7 71.7 L40.8 69.2 L45.5 66.7 L49.9 64.1 L53.7 61.6 L56.8 59.1 L59.3 56.5 L61 54 M0 135 L1.7 132.5 L4.2 129.9 L7.3 127.4 L11.1 124.9 L15.5 122.3 L20.2 119.8 L25.3 117.3 L30.5 114.8 L35.7 112.2 L40.8 109.7 L45.5 107.2 L49.9 104.6 L53.7 102.1 L56.8 99.6 L59.3 97 L61 94.5 M0 175 L1.7 172.5 L4.2 170 L7.3 167.5 L11.1 165 L15.5 162.5 L20.2 160 L25.3 157.5 L30.5 155 L35.7 152.5 L40.8 150 L45.5 147.5 L49.9 145 L53.7 142.5 L56.8 140 L59.3 137.5 L61 135 M0 214.5 L1.7 212 L4.2 209.6 L7.3 207.1 L11.1 204.6 L15.5 202.2 L20.2 199.7 L25.3 197.2 L30.5 194.8 L35.7 192.3 L40.8 189.8 L45.5 187.3 L49.9 184.9 L53.7 182.4 L56.8 179.9 L59.3 177.5 L61 175 M0 250.5 L1.7 248.2 L4.2 246 L7.3 243.8 L11.1 241.5 L15.5 239.2 L20.2 237 L25.3 234.8 L30.5 232.5 L35.7 230.2 L40.8 228 L45.5 225.8 L49.9 223.5 L53.7 221.2 L56.8 219 L59.3 216.8 L61 214.5 M0 283 L1.7 281 L4.2 278.9 L7.3 276.9 L11.1 274.9 L15.5 272.8 L20.2 270.8 L25.3 268.8 L30.5 266.8 L35.7 264.7 L40.8 262.7 L45.5 260.7 L49.9 258.6 L53.7 256.6 L56.8 254.6 L59.3 252.5 L61 250.5 M0 314 L1.7 312.1 L4.2 310.1 L7.3 308.2 L11.1 306.2 L15.5 304.3 L20.2 302.4 L25.3 300.4 L30.5 298.5 L35.7 296.6 L40.8 294.6 L45.5 292.7 L49.9 290.8 L53.7 288.8 L56.8 286.9 L59.3 284.9 L61 283 M0 345 L1.7 343.1 L4.2 341.1 L7.3 339.2 L11.1 337.2 L15.5 335.3 L20.2 333.4 L25.3 331.4 L30.5 329.5 L35.7 327.6 L40.8 325.6 L45.5 323.7 L49.9 321.8 L53.7 319.8 L56.8 317.9 L59.3 315.9 L61 314 M0 375 L1.7 373.1 L4.2 371.2 L7.3 369.4 L11.1 367.5 L15.5 365.6 L20.2 363.8 L25.3 361.9 L30.5 360 L35.7 358.1 L40.8 356.2 L45.5 354.4 L49.9 352.5 L53.7 350.6 L56.8 348.8 L59.3 346.9 L61 345 M0 405.5 L1.7 403.6 L4.2 401.7 L7.3 399.8 L11.1 397.9 L15.5 396 L20.2 394.1 L25.3 392.2 L30.5 390.2 L35.7 388.3 L40.8 386.4 L45.5 384.5 L49.9 382.6 L53.7 380.7 L56.8 378.8 L59.3 376.9 L61 375 M0 436 L1.7 434.1 L4.2 432.2 L7.3 430.3 L11.1 428.4 L15.5 426.5 L20.2 424.6 L25.3 422.7 L30.5 420.8 L35.7 418.8 L40.8 416.9 L45.5 415 L49.9 413.1 L53.7 411.2 L56.8 409.3 L59.3 407.4 L61 405.5" fill="none" stroke="#2e3038" stroke-width="3" opacity="0.22" transform="translate(0 2)"/><path d="M1 51.9 L3.2 49.4 L6 46.9 L9.5 44.4 L13.6 41.9 L18.1 39.4 L22.9 37 L28 34.5 L33.1 32 L38.2 29.5 L43 27 L47.5 24.5 L51.6 22 L55.1 19.5 L57.9 17 L57.9 17.5 L55.4 17.8 L52.2 18.1 L48.5 18.7 L44.2 19.6 L39.5 20.9 L34.6 22.6 L29.5 24.8 L24.4 27.6 L19.4 30.8 L14.7 34.5 L10.4 38.6 L6.7 43 L3.5 47.6 L1 52.4 Z M1 92.4 L3.2 89.9 L6 87.4 L9.5 84.9 L13.6 82.4 L18.1 79.9 L22.9 77.5 L28 75 L33.1 72.5 L38.2 70 L43 67.5 L47.5 65 L51.6 62.5 L55.1 60 L57.9 57.5 L57.9 58 L55.4 58.3 L52.2 58.6 L48.5 59.2 L44.2 60.1 L39.5 61.4 L34.6 63.1 L29.5 65.3 L24.4 68.1 L19.4 71.3 L14.7 75 L10.4 79.1 L6.7 83.5 L3.5 88.1 L1 92.9 Z M1 132.9 L3.2 130.4 L6 127.9 L9.5 125.4 L13.6 122.9 L18.1 120.4 L22.9 118 L28 115.5 L33.1 113 L38.2 110.5 L43 108 L47.5 105.5 L51.6 103 L55.1 100.5 L57.9 98 L57.9 98.5 L55.4 98.8 L52.2 99.1 L48.5 99.7 L44.2 100.6 L39.5 101.9 L34.6 103.6 L29.5 105.8 L24.4 108.6 L19.4 111.8 L14.7 115.5 L10.4 119.6 L6.7 124 L3.5 128.6 L1 133.4 Z M1 172.9 L3.2 170.4 L6 168 L9.5 165.5 L13.6 163.1 L18.1 160.6 L22.9 158.2 L28 155.7 L33.1 153.2 L38.2 150.8 L43 148.3 L47.5 145.9 L51.6 143.4 L55.1 141 L57.9 138.5 L57.9 139 L55.4 139.2 L52.2 139.6 L48.5 140.1 L44.2 141 L39.5 142.3 L34.6 144 L29.5 146.2 L24.4 148.9 L19.4 152.1 L14.7 155.8 L10.4 159.8 L6.7 164.1 L3.5 168.7 L1 173.4 Z M1 212.4 L3.2 210 L6 207.6 L9.5 205.1 L13.6 202.7 L18.1 200.3 L22.9 197.9 L28 195.4 L33.1 193 L38.2 190.6 L43 188.2 L47.5 185.7 L51.6 183.3 L55.1 180.9 L57.9 178.4 L57.9 178.9 L55.4 179.2 L52.2 179.5 L48.5 180.1 L44.2 180.9 L39.5 182.2 L34.6 183.9 L29.5 186.1 L24.4 188.7 L19.4 191.9 L14.7 195.5 L10.4 199.5 L6.7 203.8 L3.5 208.3 L1 212.9 Z M1 248.6 L3.2 246.3 L6 244.1 L9.5 241.9 L13.6 239.7 L18.1 237.5 L22.9 235.3 L28 233.1 L33.1 230.9 L38.2 228.7 L43 226.4 L47.5 224.2 L51.6 222 L55.1 219.8 L57.9 217.6 L57.9 218.1 L55.4 218.3 L52.2 218.6 L48.5 219.1 L44.2 219.9 L39.5 221 L34.6 222.6 L29.5 224.6 L24.4 227 L19.4 229.9 L14.7 233.2 L10.4 236.8 L6.7 240.7 L3.5 244.8 L1 249.1 Z M1 281.2 L3.2 279.2 L6 277.2 L9.5 275.2 L13.6 273.2 L18.1 271.2 L22.9 269.2 L28 267.2 L33.1 265.2 L38.2 263.2 L43 261.2 L47.5 259.2 L51.6 257.2 L55.1 255.2 L57.9 253.2 L57.9 253.8 L55.4 253.9 L52.2 254.2 L48.5 254.7 L44.2 255.4 L39.5 256.4 L34.6 257.8 L29.5 259.6 L24.4 261.8 L19.4 264.4 L14.7 267.4 L10.4 270.6 L6.7 274.2 L3.5 277.9 L1 281.7 Z M1 312.3 L3.2 310.4 L6 308.5 L9.5 306.5 L13.6 304.6 L18.1 302.7 L22.9 300.8 L28 298.9 L33.1 297 L38.2 295.1 L43 293.2 L47.5 291.3 L51.6 289.4 L55.1 287.5 L57.9 285.6 L57.9 286.1 L55.4 286.3 L52.2 286.5 L48.5 287 L44.2 287.7 L39.5 288.6 L34.6 290 L29.5 291.7 L24.4 293.8 L19.4 296.3 L14.7 299.1 L10.4 302.2 L6.7 305.6 L3.5 309.1 L1 312.8 Z M1 343.3 L3.2 341.4 L6 339.5 L9.5 337.5 L13.6 335.6 L18.1 333.7 L22.9 331.8 L28 329.9 L33.1 328 L38.2 326.1 L43 324.2 L47.5 322.3 L51.6 320.4 L55.1 318.5 L57.9 316.6 L57.9 317.1 L55.4 317.3 L52.2 317.5 L48.5 318 L44.2 318.7 L39.5 319.6 L34.6 321 L29.5 322.7 L24.4 324.8 L19.4 327.3 L14.7 330.1 L10.4 333.2 L6.7 336.6 L3.5 340.1 L1 343.8 Z M1 373.3 L3.2 371.5 L6 369.6 L9.5 367.8 L13.6 365.9 L18.1 364.1 L22.9 362.2 L28 360.4 L33.1 358.6 L38.2 356.7 L43 354.9 L47.5 353 L51.6 351.2 L55.1 349.3 L57.9 347.5 L57.9 348 L55.4 348.2 L52.2 348.4 L48.5 348.9 L44.2 349.5 L39.5 350.5 L34.6 351.7 L29.5 353.4 L24.4 355.4 L19.4 357.8 L14.7 360.6 L10.4 363.6 L6.7 366.9 L3.5 370.3 L1 373.8 Z M1 403.8 L3.2 401.9 L6 400 L9.5 398.2 L13.6 396.3 L18.1 394.4 L22.9 392.5 L28 390.7 L33.1 388.8 L38.2 386.9 L43 385 L47.5 383.2 L51.6 381.3 L55.1 379.4 L57.9 377.6 L57.9 378.1 L55.4 378.2 L52.2 378.5 L48.5 378.9 L44.2 379.6 L39.5 380.5 L34.6 381.9 L29.5 383.5 L24.4 385.6 L19.4 388 L14.7 390.8 L10.4 393.9 L6.7 397.2 L3.5 400.7 L1 404.3 Z M1 434.3 L3.2 432.4 L6 430.5 L9.5 428.7 L13.6 426.8 L18.1 424.9 L22.9 423 L28 421.2 L33.1 419.3 L38.2 417.4 L43 415.5 L47.5 413.7 L51.6 411.8 L55.1 409.9 L57.9 408.1 L57.9 408.6 L55.4 408.7 L52.2 409 L48.5 409.4 L44.2 410.1 L39.5 411 L34.6 412.4 L29.5 414 L24.4 416.1 L19.4 418.5 L14.7 421.3 L10.4 424.4 L6.7 427.7 L3.5 431.2 L1 434.8 Z" fill="#555866"/><path d="M1 51.9 L3.2 49.4 L6 46.9 L9.5 44.4 L13.6 41.9 L18.1 39.4 L22.9 37 L28 34.5 L28 30.4 L22.9 33 L18.1 35.8 L13.6 38.9 L9.5 42.1 L6 45.4 L3.2 48.9 L1 52.4 Z M1 92.4 L3.2 89.9 L6 87.4 L9.5 84.9 L13.6 82.4 L18.1 79.9 L22.9 77.5 L28 75 L28 70.9 L22.9 73.5 L18.1 76.3 L13.6 79.4 L9.5 82.6 L6 85.9 L3.2 89.4 L1 92.9 Z M1 132.9 L3.2 130.4 L6 127.9 L9.5 125.4 L13.6 122.9 L18.1 120.4 L22.9 118 L28 115.5 L28 111.4 L22.9 114 L18.1 116.8 L13.6 119.9 L9.5 123.1 L6 126.4 L3.2 129.9 L1 133.4 Z M1 172.9 L3.2 170.4 L6 168 L9.5 165.5 L13.6 163.1 L18.1 160.6 L22.9 158.2 L28 155.7 L28 151.7 L22.9 154.3 L18.1 157.1 L13.6 160.1 L9.5 163.2 L6 166.5 L3.2 169.9 L1 173.4 Z M1 212.4 L3.2 210 L6 207.6 L9.5 205.1 L13.6 202.7 L18.1 200.3 L22.9 197.9 L28 195.4 L28 191.5 L22.9 194 L18.1 196.8 L13.6 199.7 L9.5 202.9 L6 206.1 L3.2 209.5 L1 212.9 Z M1 248.6 L3.2 246.3 L6 244.1 L9.5 241.9 L13.6 239.7 L18.1 237.5 L22.9 235.3 L28 233.1 L28 229.5 L22.9 231.8 L18.1 234.4 L13.6 237 L9.5 239.9 L6 242.9 L3.2 245.9 L1 249.1 Z M1 281.2 L3.2 279.2 L6 277.2 L9.5 275.2 L13.6 273.2 L18.1 271.2 L22.9 269.2 L28 267.2 L28 264.1 L22.9 266.2 L18.1 268.4 L13.6 270.9 L9.5 273.4 L6 276.1 L3.2 278.9 L1 281.7 Z M1 312.3 L3.2 310.4 L6 308.5 L9.5 306.5 L13.6 304.6 L18.1 302.7 L22.9 300.8 L28 298.9 L28 295.9 L22.9 297.9 L18.1 300.1 L13.6 302.4 L9.5 304.9 L6 307.4 L3.2 310.1 L1 312.8 Z M1 343.3 L3.2 341.4 L6 339.5 L9.5 337.5 L13.6 335.6 L18.1 333.7 L22.9 331.8 L28 329.9 L28 326.9 L22.9 328.9 L18.1 331.1 L13.6 333.4 L9.5 335.9 L6 338.4 L3.2 341.1 L1 343.8 Z M1 373.3 L3.2 371.5 L6 369.6 L9.5 367.8 L13.6 365.9 L18.1 364.1 L22.9 362.2 L28 360.4 L28 357.5 L22.9 359.5 L18.1 361.5 L13.6 363.8 L9.5 366.2 L6 368.6 L3.2 371.2 L1 373.8 Z M1 403.8 L3.2 401.9 L6 400 L9.5 398.2 L13.6 396.3 L18.1 394.4 L22.9 392.5 L28 390.7 L28 387.7 L22.9 389.7 L18.1 391.8 L13.6 394.1 L9.5 396.5 L6 399 L3.2 401.6 L1 404.3 Z M1 434.3 L3.2 432.4 L6 430.5 L9.5 428.7 L13.6 426.8 L18.1 424.9 L22.9 423 L28 421.2 L28 418.2 L22.9 420.2 L18.1 422.3 L13.6 424.6 L9.5 427 L6 429.5 L3.2 432.1 L1 434.8 Z" fill="#9a9dad" opacity="0.55"/><path d="M1 51.9 L3.2 49.4 L6 46.9 L9.5 44.4 L13.6 41.9 L18.1 39.4 L22.9 37 L28 34.5 L33.1 32 L38.2 29.5 L43 27 L47.5 24.5 L51.6 22 L55.1 19.5 L57.9 17 M1 52.4 L3.5 47.6 L6.7 43 L10.4 38.6 L14.7 34.5 L19.4 30.8 L24.4 27.6 L29.5 24.8 L34.6 22.6 L39.5 20.9 L44.2 19.6 L48.5 18.7 L52.2 18.1 L55.4 17.8 L57.9 17.5 M0 94.5 L1.7 92 L4.2 89.4 L7.3 86.9 L11.1 84.4 L15.5 81.8 L20.2 79.3 L25.3 76.8 L30.5 74.2 L35.7 71.7 L40.8 69.2 L45.5 66.7 L49.9 64.1 L53.7 61.6 L56.8 59.1 L59.3 56.5 L61 54 M1 92.9 L3.5 88.1 L6.7 83.5 L10.4 79.1 L14.7 75 L19.4 71.3 L24.4 68.1 L29.5 65.3 L34.6 63.1 L39.5 61.4 L44.2 60.1 L48.5 59.2 L52.2 58.6 L55.4 58.3 L57.9 58 M0 135 L1.7 132.5 L4.2 129.9 L7.3 127.4 L11.1 124.9 L15.5 122.3 L20.2 119.8 L25.3 117.3 L30.5 114.8 L35.7 112.2 L40.8 109.7 L45.5 107.2 L49.9 104.6 L53.7 102.1 L56.8 99.6 L59.3 97 L61 94.5 M1 133.4 L3.5 128.6 L6.7 124 L10.4 119.6 L14.7 115.5 L19.4 111.8 L24.4 108.6 L29.5 105.8 L34.6 103.6 L39.5 101.9 L44.2 100.6 L48.5 99.7 L52.2 99.1 L55.4 98.8 L57.9 98.5 M0 175 L1.7 172.5 L4.2 170 L7.3 167.5 L11.1 165 L15.5 162.5 L20.2 160 L25.3 157.5 L30.5 155 L35.7 152.5 L40.8 150 L45.5 147.5 L49.9 145 L53.7 142.5 L56.8 140 L59.3 137.5 L61 135 M1 173.4 L3.5 168.7 L6.7 164.1 L10.4 159.8 L14.7 155.8 L19.4 152.1 L24.4 148.9 L29.5 146.2 L34.6 144 L39.5 142.3 L44.2 141 L48.5 140.1 L52.2 139.6 L55.4 139.2 L57.9 139 M0 214.5 L1.7 212 L4.2 209.6 L7.3 207.1 L11.1 204.6 L15.5 202.2 L20.2 199.7 L25.3 197.2 L30.5 194.8 L35.7 192.3 L40.8 189.8 L45.5 187.3 L49.9 184.9 L53.7 182.4 L56.8 179.9 L59.3 177.5 L61 175 M1 212.9 L3.5 208.3 L6.7 203.8 L10.4 199.5 L14.7 195.5 L19.4 191.9 L24.4 188.7 L29.5 186.1 L34.6 183.9 L39.5 182.2 L44.2 180.9 L48.5 180.1 L52.2 179.5 L55.4 179.2 L57.9 178.9 M0 250.5 L1.7 248.2 L4.2 246 L7.3 243.8 L11.1 241.5 L15.5 239.2 L20.2 237 L25.3 234.8 L30.5 232.5 L35.7 230.2 L40.8 228 L45.5 225.8 L49.9 223.5 L53.7 221.2 L56.8 219 L59.3 216.8 L61 214.5 M1 249.1 L3.5 244.8 L6.7 240.7 L10.4 236.8 L14.7 233.2 L19.4 229.9 L24.4 227 L29.5 224.6 L34.6 222.6 L39.5 221 L44.2 219.9 L48.5 219.1 L52.2 218.6 L55.4 218.3 L57.9 218.1 M0 283 L1.7 281 L4.2 278.9 L7.3 276.9 L11.1 274.9 L15.5 272.8 L20.2 270.8 L25.3 268.8 L30.5 266.8 L35.7 264.7 L40.8 262.7 L45.5 260.7 L49.9 258.6 L53.7 256.6 L56.8 254.6 L59.3 252.5 L61 250.5 M1 281.7 L3.5 277.9 L6.7 274.2 L10.4 270.6 L14.7 267.4 L19.4 264.4 L24.4 261.8 L29.5 259.6 L34.6 257.8 L39.5 256.4 L44.2 255.4 L48.5 254.7 L52.2 254.2 L55.4 253.9 L57.9 253.8 M0 314 L1.7 312.1 L4.2 310.1 L7.3 308.2 L11.1 306.2 L15.5 304.3 L20.2 302.4 L25.3 300.4 L30.5 298.5 L35.7 296.6 L40.8 294.6 L45.5 292.7 L49.9 290.8 L53.7 288.8 L56.8 286.9 L59.3 284.9 L61 283 M1 312.8 L3.5 309.1 L6.7 305.6 L10.4 302.2 L14.7 299.1 L19.4 296.3 L24.4 293.8 L29.5 291.7 L34.6 290 L39.5 288.6 L44.2 287.7 L48.5 287 L52.2 286.5 L55.4 286.3 L57.9 286.1 M0 345 L1.7 343.1 L4.2 341.1 L7.3 339.2 L11.1 337.2 L15.5 335.3 L20.2 333.4 L25.3 331.4 L30.5 329.5 L35.7 327.6 L40.8 325.6 L45.5 323.7 L49.9 321.8 L53.7 319.8 L56.8 317.9 L59.3 315.9 L61 314 M1 343.8 L3.5 340.1 L6.7 336.6 L10.4 333.2 L14.7 330.1 L19.4 327.3 L24.4 324.8 L29.5 322.7 L34.6 321 L39.5 319.6 L44.2 318.7 L48.5 318 L52.2 317.5 L55.4 317.3 L57.9 317.1 M0 375 L1.7 373.1 L4.2 371.2 L7.3 369.4 L11.1 367.5 L15.5 365.6 L20.2 363.8 L25.3 361.9 L30.5 360 L35.7 358.1 L40.8 356.2 L45.5 354.4 L49.9 352.5 L53.7 350.6 L56.8 348.8 L59.3 346.9 L61 345 M1 373.8 L3.5 370.3 L6.7 366.9 L10.4 363.6 L14.7 360.6 L19.4 357.8 L24.4 355.4 L29.5 353.4 L34.6 351.7 L39.5 350.5 L44.2 349.5 L48.5 348.9 L52.2 348.4 L55.4 348.2 L57.9 348 M0 405.5 L1.7 403.6 L4.2 401.7 L7.3 399.8 L11.1 397.9 L15.5 396 L20.2 394.1 L25.3 392.2 L30.5 390.2 L35.7 388.3 L40.8 386.4 L45.5 384.5 L49.9 382.6 L53.7 380.7 L56.8 378.8 L59.3 376.9 L61 375 M1 404.3 L3.5 400.7 L6.7 397.2 L10.4 393.9 L14.7 390.8 L19.4 388 L24.4 385.6 L29.5 383.5 L34.6 381.9 L39.5 380.5 L44.2 379.6 L48.5 378.9 L52.2 378.5 L55.4 378.2 L57.9 378.1 M0 436 L1.7 434.1 L4.2 432.2 L7.3 430.3 L11.1 428.4 L15.5 426.5 L20.2 424.6 L25.3 422.7 L30.5 420.8 L35.7 418.8 L40.8 416.9 L45.5 415 L49.9 413.1 L53.7 411.2 L56.8 409.3 L59.3 407.4 L61 405.5 M1 434.8 L3.5 431.2 L6.7 427.7 L10.4 424.4 L14.7 421.3 L19.4 418.5 L24.4 416.1 L29.5 414 L34.6 412.4 L39.5 411 L44.2 410.1 L48.5 409.4 L52.2 409 L55.4 408.7 L57.9 408.6" fill="none" stroke="#1c1c22" stroke-width="1"/></g><path d="M-1 52 a2 2 0 0 1 0 4 Z M62 52 a2 2 0 0 0 0 4 Z M-1 92.5 a2 2 0 0 1 0 4 Z M62 92.5 a2 2 0 0 0 0 4 Z M-1 133 a2 2 0 0 1 0 4 Z M62 133 a2 2 0 0 0 0 4 Z M-1 173 a2 2 0 0 1 0 4 Z M62 173 a2 2 0 0 0 0 4 Z M-1 212.5 a2 2 0 0 1 0 4 Z M62 212.5 a2 2 0 0 0 0 4 Z M-1 248.5 a2 2 0 0 1 0 4 Z M62 248.5 a2 2 0 0 0 0 4 Z M-1 281 a2 2 0 0 1 0 4 Z M62 281 a2 2 0 0 0 0 4 Z M-1 312 a2 2 0 0 1 0 4 Z M62 312 a2 2 0 0 0 0 4 Z M-1 343 a2 2 0 0 1 0 4 Z M62 343 a2 2 0 0 0 0 4 Z M-1 373 a2 2 0 0 1 0 4 Z M62 373 a2 2 0 0 0 0 4 Z M-1 403.5 a2 2 0 0 1 0 4 Z M62 403.5 a2 2 0 0 0 0 4 Z" fill="#f7f8fb"/></g></defs>
<use href="#scr" transform="translate(803.2 71.4) scale(1.0066 0.9986)"/>
<text x="830" y="38.8" font-family="'Liberation Sans', Arial, sans-serif" font-size="22" fill="#000" text-anchor="middle">1</text>
<use href="#scr" transform="translate(884.6 66.4) scale(1.0066 0.9990)"/>
<text x="913.5" y="38.8" font-family="'Liberation Sans', Arial, sans-serif" font-size="22" fill="#000" text-anchor="middle">2</text>
<use href="#scr" transform="translate(964.8 69.7) scale(0.9869 0.9855)"/>
<text x="990.7" y="38.8" font-family="'Liberation Sans', Arial, sans-serif" font-size="22" fill="#000" text-anchor="middle">3</text>
<use href="#scr" transform="translate(1045 75.2) scale(1.0066 0.9933)"/>
<text x="1075" y="38.8" font-family="'Liberation Sans', Arial, sans-serif" font-size="22" fill="#000" text-anchor="middle">4</text>
<use href="#scr" transform="translate(1124.7 76.8) scale(0.9967 0.9916)"/>
<text x="1157.4" y="38.8" font-family="'Liberation Sans', Arial, sans-serif" font-size="22" fill="#000" text-anchor="middle">5</text>
<use href="#scr" transform="translate(1208.6 75) scale(0.9902 0.9908)"/>
<text x="1240.6" y="38.8" font-family="'Liberation Sans', Arial, sans-serif" font-size="22" fill="#000" text-anchor="middle">6</text>
<use href="#scr" transform="translate(1297.6 75.6) scale(0.9902 0.9913)"/>
<text x="1323.9" y="38.8" font-family="'Liberation Sans', Arial, sans-serif" font-size="22" fill="#000" text-anchor="middle">7</text>
<use href="#scr" transform="translate(1384 77.5) scale(0.9836 0.9930)"/>
<text x="1419.3" y="38.8" font-family="'Liberation Sans', Arial, sans-serif" font-size="22" fill="#000" text-anchor="middle">8</text>
<use href="#scr" transform="translate(1464.8 77.5) scale(0.9951 0.9930)"/>
<text x="1496" y="38.8" font-family="'Liberation Sans', Arial, sans-serif" font-size="22" fill="#000" text-anchor="middle">9</text>
<use href="#scr" transform="translate(1550.6 82) scale(0.9820 0.9904)"/>
<text x="1581.3" y="38.8" font-family="'Liberation Sans', Arial, sans-serif" font-size="22" fill="#000" text-anchor="middle">10</text>
<use href="#scr" transform="translate(1637 80.7) scale(0.9967 0.9894)"/>
<text x="1671" y="38.8" font-family="'Liberation Sans', Arial, sans-serif" font-size="22" fill="#000" text-anchor="middle">11</text>
<text x="736" y="55" font-family="'Liberation Sans', Arial, sans-serif" font-size="44" font-weight="bold" fill="#000" textLength="56.4" lengthAdjust="spacingAndGlyphs">(B)</text>
<rect x="1031" y="42.6" width="87.5" height="474.6" fill="none" stroke="#ff0000" stroke-width="2.6"/>
<line x1="919.8" y1="482" x2="919.8" y2="509" stroke="#4f86c6" stroke-width="1.4"/>
<path d="M915.6 502.2 L919.8 509 L924 502.2" fill="none" stroke="#4f86c6" stroke-width="1.4" stroke-linecap="round" stroke-linejoin="round"/>
<line x1="992.7" y1="485.8" x2="992.7" y2="542" stroke="#4f86c6" stroke-width="1.4"/>
<path d="M988.5 535.2 L992.7 542 L996.9 535.2" fill="none" stroke="#4f86c6" stroke-width="1.4" stroke-linecap="round" stroke-linejoin="round"/>
<line x1="1074.5" y1="487.4" x2="1074.5" y2="512.4" stroke="#4f86c6" stroke-width="1.4"/>
<path d="M1070.3 505.6 L1074.5 512.4 L1078.7 505.6" fill="none" stroke="#4f86c6" stroke-width="1.4" stroke-linecap="round" stroke-linejoin="round"/>
<line x1="1147.3" y1="488.3" x2="1147.3" y2="544.5" stroke="#4f86c6" stroke-width="1.4"/>
<path d="M1143.1 537.7 L1147.3 544.5 L1151.5 537.7" fill="none" stroke="#4f86c6" stroke-width="1.4" stroke-linecap="round" stroke-linejoin="round"/>
<line x1="1251" y1="486.2" x2="1251" y2="512.4" stroke="#4f86c6" stroke-width="1.4"/>
<path d="M1246.8 505.6 L1251 512.4 L1255.2 505.6" fill="none" stroke="#4f86c6" stroke-width="1.4" stroke-linecap="round" stroke-linejoin="round"/>
<line x1="1323.3" y1="487" x2="1323.3" y2="545" stroke="#4f86c6" stroke-width="1.4"/>
<path d="M1319.1 538.2 L1323.3 545 L1327.5 538.2" fill="none" stroke="#4f86c6" stroke-width="1.4" stroke-linecap="round" stroke-linejoin="round"/>
<line x1="1418.3" y1="489.6" x2="1418.3" y2="512.4" stroke="#4f86c6" stroke-width="1.4"/>
<path d="M1414.1 505.6 L1418.3 512.4 L1422.5 505.6" fill="none" stroke="#4f86c6" stroke-width="1.4" stroke-linecap="round" stroke-linejoin="round"/>
<line x1="1491" y1="489.6" x2="1491" y2="545" stroke="#4f86c6" stroke-width="1.4"/>
<path d="M1486.8 538.2 L1491 545 L1495.2 538.2" fill="none" stroke="#4f86c6" stroke-width="1.4" stroke-linecap="round" stroke-linejoin="round"/>
<line x1="1586" y1="493" x2="1586" y2="512.4" stroke="#4f86c6" stroke-width="1.4"/>
<path d="M1581.8 505.6 L1586 512.4 L1590.2 505.6" fill="none" stroke="#4f86c6" stroke-width="1.4" stroke-linecap="round" stroke-linejoin="round"/>
<line x1="1667.2" y1="491.3" x2="1667.2" y2="545" stroke="#4f86c6" stroke-width="1.4"/>
<path d="M1663 538.2 L1667.2 545 L1671.4 538.2" fill="none" stroke="#4f86c6" stroke-width="1.4" stroke-linecap="round" stroke-linejoin="round"/>
<text x="808.2" y="512" font-family="'Liberation Sans', Arial, sans-serif" font-size="20" fill="#000" text-anchor="middle" textLength="44.4" lengthAdjust="spacingAndGlyphs">base</text>
<text x="808.2" y="539.3" font-family="'Liberation Sans', Arial, sans-serif" font-size="20" fill="#000" text-anchor="middle" textLength="108.9" lengthAdjust="spacingAndGlyphs">dimensions</text>
<text x="808.2" y="569" font-family="'Liberation Sans', Arial, sans-serif" font-size="20" fill="#000" text-anchor="middle" textLength="121.4" lengthAdjust="spacingAndGlyphs">(t<tspan font-size="13.6" baseline-shift="-28%">b</tspan>, D1<tspan font-size="13.6" baseline-shift="-28%">b</tspan>, D2<tspan font-size="13.6" baseline-shift="-28%">b</tspan>,</text>
<text x="808.2" y="596.5" font-family="'Liberation Sans', Arial, sans-serif" font-size="20" fill="#000" text-anchor="middle" textLength="83.4" lengthAdjust="spacingAndGlyphs">p1<tspan font-size="13.6" baseline-shift="-28%">b</tspan>, p2<tspan font-size="13.6" baseline-shift="-28%">b</tspan>)</text>
<text x="890.9" y="528.4" font-family="'Liberation Sans', Arial, sans-serif" font-size="20" fill="#000" textLength="53.4" lengthAdjust="spacingAndGlyphs">t<tspan font-size="13.6" baseline-shift="-28%">1</tspan> < t<tspan font-size="13.6" baseline-shift="-28%">b</tspan></text>
<text x="963.1" y="570.8" font-family="'Liberation Sans', Arial, sans-serif" font-size="20" fill="#000" textLength="54.4" lengthAdjust="spacingAndGlyphs">t<tspan font-size="13.6" baseline-shift="-28%">2</tspan> > t<tspan font-size="13.6" baseline-shift="-28%">b</tspan></text>
<text x="1024.1" y="536" font-family="'Liberation Sans', Arial, sans-serif" font-size="20" fill="#000" textLength="91.2" lengthAdjust="spacingAndGlyphs">D1<tspan font-size="13.6" baseline-shift="-28%">1</tspan> < D1<tspan font-size="13.6" baseline-shift="-28%">b</tspan></text>
<text x="1113.9" y="569" font-family="'Liberation Sans', Arial, sans-serif" font-size="20" fill="#000" textLength="89.6" lengthAdjust="spacingAndGlyphs">D1<tspan font-size="13.6" baseline-shift="-28%">2</tspan> > D1<tspan font-size="13.6" baseline-shift="-28%">b</tspan></text>
<text x="1208.8" y="537" font-family="'Liberation Sans', Arial, sans-serif" font-size="20" fill="#000" textLength="90.4" lengthAdjust="spacingAndGlyphs">D2<tspan font-size="13.6" baseline-shift="-28%">1</tspan> < D2<tspan font-size="13.6" baseline-shift="-28%">b</tspan></text>
<text x="1297.8" y="569.4" font-family="'Liberation Sans', Arial, sans-serif" font-size="20" fill="#000" textLength="91.4" lengthAdjust="spacingAndGlyphs">D2<tspan font-size="13.6" baseline-shift="-28%">2</tspan> > D2<tspan font-size="13.6" baseline-shift="-28%">b</tspan></text>
<text x="1384.3" y="540.5" font-family="'Liberation Sans', Arial, sans-serif" font-size="20" fill="#000" textLength="86.4" lengthAdjust="spacingAndGlyphs">p1<tspan font-size="13.6" baseline-shift="-28%">1</tspan> < p1<tspan font-size="13.6" baseline-shift="-28%">b</tspan></text>
<text x="1464.2" y="572.8" font-family="'Liberation Sans', Arial, sans-serif" font-size="20" fill="#000" textLength="86.2" lengthAdjust="spacingAndGlyphs">p1<tspan font-size="13.6" baseline-shift="-28%">2</tspan> > p1<tspan font-size="13.6" baseline-shift="-28%">b</tspan></text>
<text x="1549.7" y="542.2" font-family="'Liberation Sans', Arial, sans-serif" font-size="20" fill="#000" textLength="87.3" lengthAdjust="spacingAndGlyphs">p2<tspan font-size="13.6" baseline-shift="-28%">1</tspan> < p2<tspan font-size="13.6" baseline-shift="-28%">b</tspan></text>
<text x="1633.3" y="574.5" font-family="'Liberation Sans', Arial, sans-serif" font-size="20" fill="#000" textLength="85.9" lengthAdjust="spacingAndGlyphs">p2<tspan font-size="13.6" baseline-shift="-28%">2</tspan> > p2<tspan font-size="13.6" baseline-shift="-28%">b</tspan></text>
<defs><linearGradient id="jetV" x1="0" x2="0" y1="0" y2="1"><stop offset="0" stop-color="#7f0000"/><stop offset="0.1" stop-color="#ff0000"/><stop offset="0.4" stop-color="#ffff00"/><stop offset="0.6" stop-color="#00ffff"/><stop offset="0.9" stop-color="#0000ff"/><stop offset="1" stop-color="#00007f"/></linearGradient><g id="fp"><path d="M-144 144.4 L-132 132.4 L-120 120.4 L-108 108.5 L-96 96.6 L-84 84.6 L-72 72.7 L-60 60.9 L-48 49.1 L-36 37.5 L-24 26.2 L-12 15.9 L0 10.4 L12 15.9 L24 26.2 L36 37.5 L48 49.1 L60 60.9 L72 72.7 L84 84.6 L96 96.6 L108 108.5 L120 120.4 L132 132.4 L144 144.4 M144.4 -144 L132.4 -132 L120.4 -120 L108.5 -108 L96.6 -96 L84.6 -84 L72.7 -72 L60.9 -60 L49.1 -48 L37.5 -36 L26.2 -24 L15.9 -12 L10.4 0 L15.9 12 L26.2 24 L37.5 36 L49.1 48 L60.9 60 L72.7 72 L84.6 84 L96.6 96 L108.5 108 L120.4 120 L132.4 132 L144.4 144 M-144 -144.4 L-132 -132.4 L-120 -120.4 L-108 -108.5 L-96 -96.6 L-84 -84.6 L-72 -72.7 L-60 -60.9 L-48 -49.1 L-36 -37.5 L-24 -26.2 L-12 -15.9 L0 -10.4 L12 -15.9 L24 -26.2 L36 -37.5 L48 -49.1 L60 -60.9 L72 -72.7 L84 -84.6 L96 -96.6 L108 -108.5 L120 -120.4 L132 -132.4 L144 -144.4 M-144.4 -144 L-132.4 -132 L-120.4 -120 L-108.5 -108 L-96.6 -96 L-84.6 -84 L-72.7 -72 L-60.9 -60 L-49.1 -48 L-37.5 -36 L-26.2 -24 L-15.9 -12 L-10.4 0 L-15.9 12 L-26.2 24 L-37.5 36 L-49.1 48 L-60.9 60 L-72.7 72 L-84.6 84 L-96.6 96 L-108.5 108 L-120.4 120 L-132.4 132 L-144.4 144 M-144 145.5 L-132 133.6 L-120 121.8 L-108 110 L-96 98.2 L-84 86.5 L-72 74.9 L-60 63.5 L-48 52.3 L-36 41.6 L-24 31.8 L-12 24 L0 20.8 L12 24 L24 31.8 L36 41.6 L48 52.3 L60 63.5 L72 74.9 L84 86.5 L96 98.2 L108 110 L120 121.8 L132 133.6 L144 145.5 M145.5 -144 L133.6 -132 L121.8 -120 L110 -108 L98.2 -96 L86.5 -84 L74.9 -72 L63.5 -60 L52.3 -48 L41.6 -36 L31.8 -24 L24 -12 L20.8 0 L24 12 L31.8 24 L41.6 36 L52.3 48 L63.5 60 L74.9 72 L86.5 84 L98.2 96 L110 108 L121.8 120 L133.6 132 L145.5 144 M-144 -145.5 L-132 -133.6 L-120 -121.8 L-108 -110 L-96 -98.2 L-84 -86.5 L-72 -74.9 L-60 -63.5 L-48 -52.3 L-36 -41.6 L-24 -31.8 L-12 -24 L0 -20.8 L12 -24 L24 -31.8 L36 -41.6 L48 -52.3 L60 -63.5 L72 -74.9 L84 -86.5 L96 -98.2 L108 -110 L120 -121.8 L132 -133.6 L144 -145.5 M-145.5 -144 L-133.6 -132 L-121.8 -120 L-110 -108 L-98.2 -96 L-86.5 -84 L-74.9 -72 L-63.5 -60 L-52.3 -48 L-41.6 -36 L-31.8 -24 L-24 -12 L-20.8 0 L-24 12 L-31.8 24 L-41.6 36 L-52.3 48 L-63.5 60 L-74.9 72 L-86.5 84 L-98.2 96 L-110 108 L-121.8 120 L-133.6 132 L-145.5 144 M-144 147.3 L-132 135.6 L-120 124 L-108 112.4 L-96 100.9 L-84 89.6 L-72 78.5 L-60 67.6 L-48 57.2 L-36 47.6 L-24 39.4 L-12 33.4 L0 31.2 L12 33.4 L24 39.4 L36 47.6 L48 57.2 L60 67.6 L72 78.5 L84 89.6 L96 100.9 L108 112.4 L120 124 L132 135.6 L144 147.3 M147.3 -144 L135.6 -132 L124 -120 L112.4 -108 L100.9 -96 L89.6 -84 L78.5 -72 L67.6 -60 L57.2 -48 L47.6 -36 L39.4 -24 L33.4 -12 L31.2 0 L33.4 12 L39.4 24 L47.6 36 L57.2 48 L67.6 60 L78.5 72 L89.6 84 L100.9 96 L112.4 108 L124 120 L135.6 132 L147.3 144 M-144 -147.3 L-132 -135.6 L-120 -124 L-108 -112.4 L-96 -100.9 L-84 -89.6 L-72 -78.5 L-60 -67.6 L-48 -57.2 L-36 -47.6 L-24 -39.4 L-12 -33.4 L0 -31.2 L12 -33.4 L24 -39.4 L36 -47.6 L48 -57.2 L60 -67.6 L72 -78.5 L84 -89.6 L96 -100.9 L108 -112.4 L120 -124 L132 -135.6 L144 -147.3 M-147.3 -144 L-135.6 -132 L-124 -120 L-112.4 -108 L-100.9 -96 L-89.6 -84 L-78.5 -72 L-67.6 -60 L-57.2 -48 L-47.6 -36 L-39.4 -24 L-33.4 -12 L-31.2 0 L-33.4 12 L-39.4 24 L-47.6 36 L-57.2 48 L-67.6 60 L-78.5 72 L-89.6 84 L-100.9 96 L-112.4 108 L-124 120 L-135.6 132 L-147.3 144 M-144 149.9 L-132 138.4 L-120 127 L-108 115.7 L-96 104.6 L-84 93.7 L-72 83.2 L-60 73 L-48 63.5 L-36 55 L-24 48 L-12 43.3 L0 41.6 L12 43.3 L24 48 L36 55 L48 63.5 L60 73 L72 83.2 L84 93.7 L96 104.6 L108 115.7 L120 127 L132 138.4 L144 149.9 M149.9 -144 L138.4 -132 L127 -120 L115.7 -108 L104.6 -96 L93.7 -84 L83.2 -72 L73 -60 L63.5 -48 L55 -36 L48 -24 L43.3 -12 L41.6 0 L43.3 12 L48 24 L55 36 L63.5 48 L73 60 L83.2 72 L93.7 84 L104.6 96 L115.7 108 L127 120 L138.4 132 L149.9 144 M-144 -149.9 L-132 -138.4 L-120 -127 L-108 -115.7 L-96 -104.6 L-84 -93.7 L-72 -83.2 L-60 -73 L-48 -63.5 L-36 -55 L-24 -48 L-12 -43.3 L0 -41.6 L12 -43.3 L24 -48 L36 -55 L48 -63.5 L60 -73 L72 -83.2 L84 -93.7 L96 -104.6 L108 -115.7 L120 -127 L132 -138.4 L144 -149.9 M-149.9 -144 L-138.4 -132 L-127 -120 L-115.7 -108 L-104.6 -96 L-93.7 -84 L-83.2 -72 L-73 -60 L-63.5 -48 L-55 -36 L-48 -24 L-43.3 -12 L-41.6 0 L-43.3 12 L-48 24 L-55 36 L-63.5 48 L-73 60 L-83.2 72 L-93.7 84 L-104.6 96 L-115.7 108 L-127 120 L-138.4 132 L-149.9 144 M-144 153.1 L-132 141.9 L-120 130.8 L-108 119.9 L-96 109.2 L-84 98.8 L-72 88.8 L-60 79.4 L-48 70.8 L-36 63.2 L-24 57.3 L-12 53.4 L0 52 L12 53.4 L24 57.3 L36 63.2 L48 70.8 L60 79.4 L72 88.8 L84 98.8 L96 109.2 L108 119.9 L120 130.8 L132 141.9 L144 153.1 M153.1 -144 L141.9 -132 L130.8 -120 L119.9 -108 L109.2 -96 L98.8 -84 L88.8 -72 L79.4 -60 L70.8 -48 L63.2 -36 L57.3 -24 L53.4 -12 L52 0 L53.4 12 L57.3 24 L63.2 36 L70.8 48 L79.4 60 L88.8 72 L98.8 84 L109.2 96 L119.9 108 L130.8 120 L141.9 132 L153.1 144 M-144 -153.1 L-132 -141.9 L-120 -130.8 L-108 -119.9 L-96 -109.2 L-84 -98.8 L-72 -88.8 L-60 -79.4 L-48 -70.8 L-36 -63.2 L-24 -57.3 L-12 -53.4 L0 -52 L12 -53.4 L24 -57.3 L36 -63.2 L48 -70.8 L60 -79.4 L72 -88.8 L84 -98.8 L96 -109.2 L108 -119.9 L120 -130.8 L132 -141.9 L144 -153.1 M-153.1 -144 L-141.9 -132 L-130.8 -120 L-119.9 -108 L-109.2 -96 L-98.8 -84 L-88.8 -72 L-79.4 -60 L-70.8 -48 L-63.2 -36 L-57.3 -24 L-53.4 -12 L-52 0 L-53.4 12 L-57.3 24 L-63.2 36 L-70.8 48 L-79.4 60 L-88.8 72 L-98.8 84 L-109.2 96 L-119.9 108 L-130.8 120 L-141.9 132 L-153.1 144 M-144 156.9 L-132 146 L-120 135.3 L-108 124.7 L-96 114.5 L-84 104.6 L-72 95.3 L-60 86.6 L-48 78.7 L-36 72 L-24 66.9 L-12 63.5 L0 62.4 L12 63.5 L24 66.9 L36 72 L48 78.7 L60 86.6 L72 95.3 L84 104.6 L96 114.5 L108 124.7 L120 135.3 L132 146 L144 156.9 M156.9 -144 L146 -132 L135.3 -120 L124.7 -108 L114.5 -96 L104.6 -84 L95.3 -72 L86.6 -60 L78.7 -48 L72 -36 L66.9 -24 L63.5 -12 L62.4 0 L63.5 12 L66.9 24 L72 36 L78.7 48 L86.6 60 L95.3 72 L104.6 84 L114.5 96 L124.7 108 L135.3 120 L146 132 L156.9 144 M-144 -156.9 L-132 -146 L-120 -135.3 L-108 -124.7 L-96 -114.5 L-84 -104.6 L-72 -95.3 L-60 -86.6 L-48 -78.7 L-36 -72 L-24 -66.9 L-12 -63.5 L0 -62.4 L12 -63.5 L24 -66.9 L36 -72 L48 -78.7 L60 -86.6 L72 -95.3 L84 -104.6 L96 -114.5 L108 -124.7 L120 -135.3 L132 -146 L144 -156.9 M-156.9 -144 L-146 -132 L-135.3 -120 L-124.7 -108 L-114.5 -96 L-104.6 -84 L-95.3 -72 L-86.6 -60 L-78.7 -48 L-72 -36 L-66.9 -24 L-63.5 -12 L-62.4 0 L-63.5 12 L-66.9 24 L-72 36 L-78.7 48 L-86.6 60 L-95.3 72 L-104.6 84 L-114.5 96 L-124.7 108 L-135.3 120 L-146 132 L-156.9 144 M-132 150.7 L-120 140.4 L-108 130.2 L-96 120.5 L-84 111.2 L-72 102.4 L-60 94.3 L-48 87.2 L-36 81.2 L-24 76.7 L-12 73.8 L0 72.8 L12 73.8 L24 76.7 L36 81.2 L48 87.2 L60 94.3 L72 102.4 L84 111.2 L96 120.5 L108 130.2 L120 140.4 L132 150.7 M150.7 -132 L140.4 -120 L130.2 -108 L120.5 -96 L111.2 -84 L102.4 -72 L94.3 -60 L87.2 -48 L81.2 -36 L76.7 -24 L73.8 -12 L72.8 0 L73.8 12 L76.7 24 L81.2 36 L87.2 48 L94.3 60 L102.4 72 L111.2 84 L120.5 96 L130.2 108 L140.4 120 L150.7 132 M-132 -150.7 L-120 -140.4 L-108 -130.2 L-96 -120.5 L-84 -111.2 L-72 -102.4 L-60 -94.3 L-48 -87.2 L-36 -81.2 L-24 -76.7 L-12 -73.8 L0 -72.8 L12 -73.8 L24 -76.7 L36 -81.2 L48 -87.2 L60 -94.3 L72 -102.4 L84 -111.2 L96 -120.5 L108 -130.2 L120 -140.4 L132 -150.7 M-150.7 -132 L-140.4 -120 L-130.2 -108 L-120.5 -96 L-111.2 -84 L-102.4 -72 L-94.3 -60 L-87.2 -48 L-81.2 -36 L-76.7 -24 L-73.8 -12 L-72.8 0 L-73.8 12 L-76.7 24 L-81.2 36 L-87.2 48 L-94.3 60 L-102.4 72 L-111.2 84 L-120.5 96 L-130.2 108 L-140.4 120 L-150.7 132 M-132 156 L-120 146 L-108 136.3 L-96 127 L-84 118.2 L-72 110 L-60 102.6 L-48 96.1 L-36 90.7 L-24 86.6 L-12 84.1 L0 83.2 L12 84.1 L24 86.6 L36 90.7 L48 96.1 L60 102.6 L72 110 L84 118.2 L96 127 L108 136.3 L120 146 L132 156 M156 -132 L146 -120 L136.3 -108 L127 -96 L118.2 -84 L110 -72 L102.6 -60 L96.1 -48 L90.7 -36 L86.6 -24 L84.1 -12 L83.2 0 L84.1 12 L86.6 24 L90.7 36 L96.1 48 L102.6 60 L110 72 L118.2 84 L127 96 L136.3 108 L146 120 L156 132 M-132 -156 L-120 -146 L-108 -136.3 L-96 -127 L-84 -118.2 L-72 -110 L-60 -102.6 L-48 -96.1 L-36 -90.7 L-24 -86.6 L-12 -84.1 L0 -83.2 L12 -84.1 L24 -86.6 L36 -90.7 L48 -96.1 L60 -102.6 L72 -110 L84 -118.2 L96 -127 L108 -136.3 L120 -146 L132 -156 M-156 -132 L-146 -120 L-136.3 -108 L-127 -96 L-118.2 -84 L-110 -72 L-102.6 -60 L-96.1 -48 L-90.7 -36 L-86.6 -24 L-84.1 -12 L-83.2 0 L-84.1 12 L-86.6 24 L-90.7 36 L-96.1 48 L-102.6 60 L-110 72 L-118.2 84 L-127 96 L-136.3 108 L-146 120 L-156 132 M-120 152.2 L-108 142.9 L-96 134.1 L-84 125.8 L-72 118.1 L-60 111.2 L-48 105.2 L-36 100.3 L-24 96.6 L-12 94.4 L0 93.6 L12 94.4 L24 96.6 L36 100.3 L48 105.2 L60 111.2 L72 118.1 L84 125.8 L96 134.1 L108 142.9 L120 152.2 M152.2 -120 L142.9 -108 L134.1 -96 L125.8 -84 L118.1 -72 L111.2 -60 L105.2 -48 L100.3 -36 L96.6 -24 L94.4 -12 L93.6 0 L94.4 12 L96.6 24 L100.3 36 L105.2 48 L111.2 60 L118.1 72 L125.8 84 L134.1 96 L142.9 108 L152.2 120 M-120 -152.2 L-108 -142.9 L-96 -134.1 L-84 -125.8 L-72 -118.1 L-60 -111.2 L-48 -105.2 L-36 -100.3 L-24 -96.6 L-12 -94.4 L0 -93.6 L12 -94.4 L24 -96.6 L36 -100.3 L48 -105.2 L60 -111.2 L72 -118.1 L84 -125.8 L96 -134.1 L108 -142.9 L120 -152.2 M-152.2 -120 L-142.9 -108 L-134.1 -96 L-125.8 -84 L-118.1 -72 L-111.2 -60 L-105.2 -48 L-100.3 -36 L-96.6 -24 L-94.4 -12 L-93.6 0 L-94.4 12 L-96.6 24 L-100.3 36 L-105.2 48 L-111.2 60 L-118.1 72 L-125.8 84 L-134.1 96 L-142.9 108 L-152.2 120 M-120 158.8 L-108 149.9 L-96 141.5 L-84 133.7 L-72 126.5 L-60 120.1 L-48 114.5 L-36 110.1 L-24 106.7 L-12 104.7 L0 104 L12 104.7 L24 106.7 L36 110.1 L48 114.5 L60 120.1 L72 126.5 L84 133.7 L96 141.5 L108 149.9 L120 158.8 M158.8 -120 L149.9 -108 L141.5 -96 L133.7 -84 L126.5 -72 L120.1 -60 L114.5 -48 L110.1 -36 L106.7 -24 L104.7 -12 L104 0 L104.7 12 L106.7 24 L110.1 36 L114.5 48 L120.1 60 L126.5 72 L133.7 84 L141.5 96 L149.9 108 L158.8 120 M-120 -158.8 L-108 -149.9 L-96 -141.5 L-84 -133.7 L-72 -126.5 L-60 -120.1 L-48 -114.5 L-36 -110.1 L-24 -106.7 L-12 -104.7 L0 -104 L12 -104.7 L24 -106.7 L36 -110.1 L48 -114.5 L60 -120.1 L72 -126.5 L84 -133.7 L96 -141.5 L108 -149.9 L120 -158.8 M-158.8 -120 L-149.9 -108 L-141.5 -96 L-133.7 -84 L-126.5 -72 L-120.1 -60 L-114.5 -48 L-110.1 -36 L-106.7 -24 L-104.7 -12 L-104 0 L-104.7 12 L-106.7 24 L-110.1 36 L-114.5 48 L-120.1 60 L-126.5 72 L-133.7 84 L-141.5 96 L-149.9 108 L-158.8 120 M-108 157.3 L-96 149.3 L-84 141.9 L-72 135.2 L-60 129.2 L-48 124.1 L-36 119.9 L-24 116.9 L-12 115 L0 114.4 L12 115 L24 116.9 L36 119.9 L48 124.1 L60 129.2 L72 135.2 L84 141.9 L96 149.3 L108 157.3 M157.3 -108 L149.3 -96 L141.9 -84 L135.2 -72 L129.2 -60 L124.1 -48 L119.9 -36 L116.9 -24 L115 -12 L114.4 0 L115 12 L116.9 24 L119.9 36 L124.1 48 L129.2 60 L135.2 72 L141.9 84 L149.3 96 L157.3 108 M-108 -157.3 L-96 -149.3 L-84 -141.9 L-72 -135.2 L-60 -129.2 L-48 -124.1 L-36 -119.9 L-24 -116.9 L-12 -115 L0 -114.4 L12 -115 L24 -116.9 L36 -119.9 L48 -124.1 L60 -129.2 L72 -135.2 L84 -141.9 L96 -149.3 L108 -157.3 M-157.3 -108 L-149.3 -96 L-141.9 -84 L-135.2 -72 L-129.2 -60 L-124.1 -48 L-119.9 -36 L-116.9 -24 L-115 -12 L-114.4 0 L-115 12 L-116.9 24 L-119.9 36 L-124.1 48 L-129.2 60 L-135.2 72 L-141.9 84 L-149.3 96 L-157.3 108 M-96 157.5 L-84 150.4 L-72 144.1 L-60 138.5 L-48 133.7 L-36 129.9 L-24 127.1 L-12 125.4 L0 124.8 L12 125.4 L24 127.1 L36 129.9 L48 133.7 L60 138.5 L72 144.1 L84 150.4 L96 157.5 M157.5 -96 L150.4 -84 L144.1 -72 L138.5 -60 L133.7 -48 L129.9 -36 L127.1 -24 L125.4 -12 L124.8 0 L125.4 12 L127.1 24 L129.9 36 L133.7 48 L138.5 60 L144.1 72 L150.4 84 L157.5 96 M-96 -157.5 L-84 -150.4 L-72 -144.1 L-60 -138.5 L-48 -133.7 L-36 -129.9 L-24 -127.1 L-12 -125.4 L0 -124.8 L12 -125.4 L24 -127.1 L36 -129.9 L48 -133.7 L60 -138.5 L72 -144.1 L84 -150.4 L96 -157.5 M-157.5 -96 L-150.4 -84 L-144.1 -72 L-138.5 -60 L-133.7 -48 L-129.9 -36 L-127.1 -24 L-125.4 -12 L-124.8 0 L-125.4 12 L-127.1 24 L-129.9 36 L-133.7 48 L-138.5 60 L-144.1 72 L-150.4 84 L-157.5 96" fill="none" stroke="#000" stroke-width="0.7" opacity="0.7"/><path d="M-153 -153L-145.9 -145.9M-141 -141L-148.2 -143.7L-143.7 -148.2ZM-138.3 -152.7L-130.9 -146M-125.7 -141.3L-133 -143.7L-128.8 -148.3ZM-123.7 -152.3L-115.8 -146.1M-110.3 -141.7L-117.8 -143.6L-113.9 -148.5ZM-109 -151.8L-100.8 -146.1M-95 -142.2L-102.6 -143.6L-99 -148.7ZM-94.3 -151.3L-85.7 -146.2M-79.7 -142.7L-87.3 -143.5L-84.1 -148.9ZM-50.2 -149.3L-40.6 -146.6M-33.8 -144.7L-41.4 -143.6L-39.7 -149.6ZM-35.4 -148.5L-25.5 -146.7M-18.6 -145.5L-26.1 -143.6L-25 -149.8ZM-20.5 -147.7L-10.5 -146.9M-3.5 -146.3L-10.8 -143.7L-10.2 -150ZM-5.5 -146.8L4.5 -147M11.5 -147.2L4.6 -143.9L4.4 -150.2ZM9.6 -146L19.5 -147.2M26.4 -148L19.9 -144.1L19.1 -150.3ZM24.7 -145.1L34.5 -147.3M41.3 -148.9L35.2 -144.3L33.8 -150.4ZM39.9 -144.4L49.4 -147.5M56.1 -149.6L50.4 -144.5L48.4 -150.5ZM55.2 -143.7L64.4 -147.6M70.8 -150.3L65.6 -144.7L63.1 -150.5ZM85.8 -142.5L94.3 -147.8M100.2 -151.5L96 -145.1L92.6 -150.5ZM101.2 -142L109.2 -147.9M114.8 -152L111.1 -145.3L107.3 -150.4ZM116.5 -141.5L124.2 -148M129.5 -152.5L126.2 -145.5L122.1 -150.4ZM131.8 -141.2L139.1 -148M144.2 -152.8L141.2 -145.7L136.9 -150.3ZM-145.3 -138.2L-138.5 -130.9M-133.7 -125.8L-140.8 -128.7L-136.2 -133.1ZM-116 -137.4L-108.3 -131M-103 -126.6L-110.4 -128.6L-106.3 -133.5ZM-101.4 -136.9L-93.3 -131.1M-87.6 -127.1L-95.1 -128.6L-91.4 -133.7ZM-86.8 -136.4L-78.2 -131.2M-72.2 -127.6L-79.8 -128.5L-76.6 -133.9ZM-57.5 -135L-48.1 -131.5M-41.5 -129L-49.2 -128.5L-47 -134.4ZM-42.7 -134.1L-33 -131.6M-26.3 -129.9L-33.8 -128.6L-32.3 -134.7ZM-27.9 -133.2L-18 -131.8M-11.1 -130.8L-18.5 -128.7L-17.6 -134.9ZM-13 -132.3L-3 -131.9M4 -131.7L-3.1 -128.8L-2.9 -135.1ZM2 -131.3L12 -132.1M19 -132.7L12.2 -129L11.7 -135.3ZM17.2 -130.4L27 -132.3M33.8 -133.6L27.6 -129.2L26.4 -135.4ZM32.4 -129.5L41.9 -132.4M48.6 -134.5L42.9 -129.4L41 -135.5ZM47.7 -128.7L56.9 -132.6M63.3 -135.3L58.1 -129.7L55.7 -135.5ZM63 -128L71.8 -132.7M78 -136L73.3 -129.9L70.3 -135.5ZM78.4 -127.4L86.8 -132.8M92.6 -136.6L88.5 -130.2L85 -135.5ZM93.7 -126.9L101.7 -132.9M107.3 -137.1L103.6 -130.4L99.8 -135.4ZM139.8 -125.7L146.5 -133.1M151.2 -138.3L148.8 -131L144.2 -135.2ZM-152.3 -123.7L-146.1 -115.8M-141.7 -110.3L-148.5 -113.9L-143.6 -117.8ZM-137.6 -123.4L-131 -115.9M-126.4 -110.6L-133.4 -113.8L-128.6 -118ZM-123 -123L-115.9 -115.9M-111 -111L-118.2 -113.7L-113.7 -118.2ZM-108.4 -122.6L-100.9 -116M-95.6 -111.4L-102.9 -113.6L-98.8 -118.4ZM-93.8 -122.1L-85.8 -116.1M-80.2 -111.9L-87.7 -113.6L-83.9 -118.6ZM-79.2 -121.5L-70.7 -116.2M-64.8 -112.5L-72.4 -113.5L-69.1 -118.9ZM-64.6 -120.7L-55.7 -116.3M-49.4 -113.3L-57 -113.5L-54.3 -119.2ZM-50 -119.9L-40.6 -116.5M-34 -114.1L-41.7 -113.5L-39.5 -119.5ZM-35.3 -118.9L-25.5 -116.7M-18.7 -115.1L-26.2 -113.6L-24.8 -119.7ZM-20.5 -117.9L-10.5 -116.8M-3.5 -116.1L-10.8 -113.7L-10.2 -120ZM-5.5 -116.8L4.5 -117M11.5 -117.2L4.6 -113.9L4.4 -120.2ZM9.6 -115.7L19.5 -117.2M26.4 -118.3L20 -114.1L19 -120.3ZM24.8 -114.7L34.4 -117.4M41.2 -119.3L35.3 -114.4L33.6 -120.4ZM40.1 -113.8L49.4 -117.6M55.9 -120.2L50.6 -114.7L48.2 -120.5ZM55.5 -113L64.3 -117.7M70.5 -121L65.8 -114.9L62.8 -120.5ZM86.3 -111.7L94.2 -117.9M99.7 -122.3L96.1 -115.5L92.2 -120.4ZM101.8 -111.2L109.1 -118M114.2 -122.8L111.2 -115.7L107 -120.3ZM117.1 -110.8L124 -118.1M128.9 -123.2L126.3 -115.9L121.8 -120.3ZM132.5 -110.5L139 -118.1M143.5 -123.5L141.4 -116.1L136.6 -120.2ZM-144.5 -108.9L-138.6 -100.8M-134.5 -95.1L-141.2 -98.9L-136.1 -102.6ZM-129.9 -108.6L-123.5 -100.8M-119.1 -95.4L-126 -98.8L-121.1 -102.8ZM-115.3 -108.2L-108.5 -100.9M-103.7 -95.8L-110.8 -98.8L-106.2 -103ZM-100.7 -107.8L-93.4 -101M-88.3 -96.2L-95.5 -98.7L-91.3 -103.3ZM-86.2 -107.2L-78.3 -101.1M-72.8 -96.8L-80.3 -98.6L-76.4 -103.6ZM-57.1 -105.7L-48.2 -101.3M-41.9 -98.3L-49.5 -98.5L-46.8 -104.2ZM-42.6 -104.7L-33.1 -101.5M-26.4 -99.3L-34.1 -98.5L-32.1 -104.5ZM-13 -102.4L-3 -101.9M4 -101.6L-3.1 -98.8L-2.9 -105.1ZM2 -101.1L12 -102.2M19 -102.9L12.3 -99L11.7 -105.3ZM32.6 -98.9L41.9 -102.6M48.4 -105.1L43.1 -99.6L40.7 -105.5ZM48 -97.9L56.8 -102.7M63 -106.1L58.3 -99.9L55.3 -105.5ZM63.5 -97.2L71.7 -102.9M77.5 -106.8L73.5 -100.3L69.9 -105.4ZM94.4 -96L101.6 -103.1M106.6 -108L103.8 -100.8L99.4 -105.3ZM125.3 -95.3L131.4 -103.2M135.7 -108.7L133.9 -101.2L128.9 -105.1ZM140.6 -95L146.4 -103.2M150.4 -109L148.9 -101.4L143.8 -105ZM-151.3 -94.3L-146.2 -85.7M-142.7 -79.7L-148.9 -84.1L-143.5 -87.3ZM-136.7 -94.1L-131.2 -85.7M-127.3 -79.9L-133.8 -84L-128.5 -87.5ZM-122.1 -93.8L-116.1 -85.8M-111.9 -80.2L-118.6 -83.9L-113.6 -87.7ZM-107.5 -93.5L-101 -85.9M-96.5 -80.5L-103.4 -83.8L-98.6 -87.9ZM-93 -93L-85.9 -85.9M-81 -81L-88.2 -83.7L-83.7 -88.2ZM-64.1 -91.7L-55.7 -86.2M-49.9 -82.3L-57.5 -83.5L-54 -88.8ZM-19.7 -88.1L-11.1 -86.9M-4.3 -85.9L-11.5 -83.8L-10.7 -89.9ZM-4.7 -86.7L3.9 -87M10.7 -87.3L4 -84L3.8 -90.1ZM40.6 -82.9L49.3 -87.7M55.4 -91.1L50.8 -84.9L47.8 -90.5ZM56.1 -82L64.2 -87.9M69.9 -92L66.1 -85.3L62.4 -90.4ZM71.7 -81.3L79.1 -88M84.3 -92.7L81.2 -85.7L77 -90.3ZM87.2 -80.8L94 -88.1M98.8 -93.2L96.3 -85.9L91.7 -90.2ZM102.7 -80.4L108.9 -88.2M113.3 -93.6L111.4 -86.2L106.5 -90.1ZM118.1 -80.1L123.9 -88.2M127.9 -93.9L126.4 -86.4L121.3 -90ZM133.5 -79.8L138.8 -88.3M142.5 -94.2L141.5 -86.6L136.1 -89.9ZM-143.4 -79.6L-138.8 -70.7M-135.6 -64.4L-141.6 -69.2L-136 -72.1ZM-128.8 -79.4L-123.7 -70.7M-120.2 -64.6L-126.5 -69.1L-121 -72.3ZM-114.2 -79.1L-108.7 -70.7M-104.8 -64.9L-111.3 -69L-106 -72.5ZM-99.7 -78.8L-93.6 -70.8M-89.3 -65.2L-96.1 -68.9L-91.1 -72.7ZM-85.2 -78.3L-78.5 -70.9M-73.8 -65.7L-80.8 -68.8L-76.2 -73ZM-70.7 -77.5L-63.5 -71.1M-58.3 -66.5L-65.6 -68.8L-61.4 -73.5ZM-55.9 -76.4L-48.8 -71.5M-43.1 -67.6L-50.5 -69L-47 -74ZM-41.1 -75.2L-33.9 -71.7M-27.9 -68.8L-35.1 -69L-32.6 -74.4ZM-26.2 -73.8L-19 -71.9M-12.8 -70.2L-19.7 -69.1L-18.2 -74.6ZM-11.3 -72.4L-4 -72M2.3 -71.6L-4.2 -69.1L-3.8 -74.8ZM3.7 -71L11 -72.1M17.3 -73L11.4 -69.2L10.6 -74.9ZM18.8 -69.6L26.1 -72.2M32.2 -74.4L27.1 -69.5L25.1 -74.9ZM34 -68.3L41.2 -72.4M47 -75.7L42.7 -69.8L39.7 -75ZM64.4 -66.1L71.6 -73M76.6 -77.9L73.8 -70.8L69.4 -75.3ZM80 -65.5L86.5 -73.1M91 -78.5L88.9 -71.1L84.1 -75.2ZM111 -64.8L116.3 -73.3M120 -79.2L119 -71.6L113.6 -74.9ZM126.4 -64.6L131.2 -73.3M134.6 -79.4L134 -71.8L128.5 -74.8ZM-150.1 -64.9L-146.5 -55.6M-143.9 -49.1L-149.4 -54.5L-143.5 -56.7ZM-135.4 -64.8L-131.4 -55.6M-128.6 -49.2L-134.3 -54.4L-128.5 -56.9ZM-120.7 -64.6L-116.3 -55.7M-113.3 -49.4L-119.2 -54.3L-113.5 -57ZM-106.1 -64.4L-101.3 -55.7M-97.9 -49.6L-104 -54.2L-98.5 -57.2ZM-91.7 -64.1L-86.2 -55.7M-82.3 -49.9L-88.8 -54L-83.5 -57.5ZM-77 -63.3L-71.4 -56.2M-67 -50.7L-73.8 -54.2L-68.9 -58.1ZM-32.7 -59.7L-26.8 -56.9M-21.3 -54.3L-27.9 -54.4L-25.6 -59.3ZM-17.9 -58.2L-11.9 -57M-6.1 -55.8L-12.4 -54.4L-11.3 -59.6ZM-2.9 -56.7L3.1 -57M8.9 -57.3L3.2 -54.4L3 -59.6ZM12.2 -55.2L18.2 -57.1M23.8 -58.8L19 -54.5L17.4 -59.6ZM27.4 -53.8L33.3 -57.2M38.6 -60.2L34.7 -54.8L31.9 -59.6ZM42.7 -52.5L48.4 -57.4M53.3 -61.5L50.3 -55.2L46.6 -59.6ZM57.9 -51.4L63.6 -57.6M68.1 -62.6L65.8 -55.6L61.3 -59.7ZM73.1 -50.3L78.8 -58M82.9 -63.7L81.3 -56.2L76.2 -59.9ZM88.6 -49.8L93.8 -58.3M97.4 -64.2L96.5 -56.6L91.1 -59.9ZM104 -49.5L108.7 -58.3M112 -64.5L111.5 -56.9L105.9 -59.8ZM119.4 -49.3L123.6 -58.4M126.6 -64.7L126.5 -57L120.8 -59.7ZM134.8 -49.1L138.6 -58.4M141.2 -64.9L141.5 -57.2L135.7 -59.6ZM-142 -50.1L-139.1 -40.6M-137 -33.9L-142.1 -39.7L-136.1 -41.5ZM-112.5 -49.9L-109 -40.6M-106.5 -34.1L-111.9 -39.5L-106 -41.7ZM-98 -49.8L-93.9 -40.6M-91 -34.2L-96.8 -39.3L-91 -41.9ZM-83.2 -49L-79 -41.1M-75.8 -35L-81.8 -39.7L-76.3 -42.6ZM-68.4 -48L-64.2 -41.5M-60.6 -36L-66.6 -39.9L-61.7 -43.1ZM-53.6 -46.9L-49.3 -41.8M-45.4 -37.1L-51.4 -40L-47.2 -43.5ZM-39 -45.7L-34.5 -42M-30 -38.3L-36.1 -40L-32.8 -44ZM-9.5 -42.5L-4.8 -42M0.5 -41.5L-5 -39.7L-4.5 -44.4ZM5.6 -40.8L10.3 -41.9M15.4 -43.2L10.8 -39.6L9.7 -44.3ZM36.2 -37.8L40.6 -42.1M44.8 -46.2L42.4 -40.2L38.8 -44ZM51.5 -36.7L55.8 -42.3M59.5 -47.3L58 -40.7L53.5 -44ZM66.7 -35.6L70.9 -42.7M74.3 -48.4L73.5 -41.1L68.3 -44.2ZM81.9 -34.6L86 -43.1M89.1 -49.4L88.9 -41.7L83.2 -44.5ZM97.2 -34.2L101.1 -43.4M103.8 -49.8L104 -42.2L98.2 -44.6ZM127.9 -33.9L131 -43.4M133.1 -50.1L134 -42.5L128 -44.4ZM143.1 -33.8L145.9 -43.4M147.9 -50.2L148.9 -42.6L142.9 -44.3ZM-148.5 -35.4L-146.7 -25.5M-145.5 -18.6L-149.8 -25L-143.6 -26.1ZM-133.7 -35.3L-131.7 -25.5M-130.3 -18.7L-134.8 -24.9L-128.6 -26.2ZM-118.9 -35.3L-116.7 -25.5M-115.1 -18.7L-119.7 -24.8L-113.6 -26.2ZM-89.4 -34.6L-86.7 -26M-84.6 -19.4L-89.7 -25.1L-83.7 -27ZM-59.7 -32.7L-56.9 -26.8M-54.3 -21.3L-59.3 -25.6L-54.4 -27.9ZM-45 -31.6L-42 -27.1M-39 -22.4L-44.2 -25.7L-39.9 -28.4ZM-15.9 -28.7L-12.6 -27.3M-8.1 -25.3L-13.5 -25.2L-11.7 -29.3ZM-1.1 -26.5L2.3 -26.9M7.1 -27.5L2.6 -24.8L2.1 -29.1ZM14.3 -24.5L17.5 -26.7M21.7 -29.5L18.8 -24.8L16.3 -28.6ZM29.8 -23.1L32.8 -26.8M36.2 -30.9L34.7 -25.3L31 -28.3ZM45.2 -21.9L48 -27M50.8 -32.1L50.3 -25.8L45.8 -28.3ZM75.6 -20L78.3 -27.7M80.4 -34L81.1 -26.8L75.4 -28.7ZM90.7 -19L93.4 -28.3M95.3 -35L96.4 -27.4L90.3 -29.1ZM105.9 -18.8L108.4 -28.5M110.1 -35.2L111.4 -27.7L105.3 -29.2ZM121.2 -18.7L123.3 -28.5M124.8 -35.3L126.4 -27.8L120.2 -29.1ZM136.4 -18.7L138.3 -28.5M139.6 -35.3L141.4 -27.9L135.2 -29.1ZM-140.2 -20.5L-139.4 -10.5M-138.8 -3.5L-142.5 -10.2L-136.2 -10.8ZM-125.3 -20.5L-124.4 -10.5M-123.7 -3.5L-127.5 -10.2L-121.2 -10.8ZM-110.4 -20.4L-109.3 -10.5M-108.6 -3.6L-112.5 -10.2L-106.2 -10.9ZM-65.7 -18.3L-64.4 -11.7M-63.3 -5.7L-67.1 -11.2L-61.7 -12.2ZM-50.8 -17.4L-49.5 -12.1M-48.2 -6.6L-52 -11.5L-47.1 -12.6ZM-36 -16.4L-34.6 -12.4M-33 -7.6L-36.8 -11.7L-32.5 -13.2ZM-21.5 -15.3L-19.9 -12.7M-17.5 -8.7L-21.7 -11.6L-18.1 -13.8ZM-7.6 -13.1L-5.5 -12.4M-1.4 -10.9L-6.2 -10.5L-4.8 -14.2ZM7.9 -9.7L9.8 -11.4M13.1 -14.3L11.1 -9.9L8.4 -12.9ZM23.7 -8.2L25.2 -11.4M27.3 -15.8L27.2 -10.5L23.2 -12.3ZM39.1 -7.2L40.4 -11.7M41.9 -16.8L42.7 -11L38.1 -12.4ZM54.3 -6.2L55.5 -12.1M56.7 -17.8L58.1 -11.5L53 -12.6ZM69.4 -5.3L70.6 -12.5M71.6 -18.7L73.4 -12L67.8 -13ZM84.4 -4.4L85.6 -12.9M86.6 -19.6L88.7 -12.4L82.6 -13.3ZM99.5 -3.6L100.7 -13.5M101.5 -20.4L103.8 -13.1L97.6 -13.9ZM114.6 -3.5L115.7 -13.5M116.4 -20.5L118.8 -13.2L112.5 -13.8ZM129.7 -3.5L130.6 -13.5M131.3 -20.5L133.8 -13.2L127.5 -13.8ZM-146.8 -5.5L-147 4.5M-147.2 11.5L-150.2 4.4L-143.9 4.6ZM-131.8 -5.5L-132 4.5M-132.2 11.5L-135.2 4.4L-128.9 4.6ZM-116.8 -5.5L-117 4.5M-117.2 11.5L-120.2 4.4L-113.9 4.6ZM-86.7 -4.7L-87 3.9M-87.3 10.7L-90.1 3.8L-84 4ZM-71.7 -3.8L-72 3.5M-72.3 9.8L-74.9 3.4L-69.2 3.6ZM-56.7 -2.9L-57 3.1M-57.3 8.9L-59.6 3L-54.4 3.2ZM-41.6 -2L-42 2.7M-42.4 8L-44.4 2.5L-39.6 2.9ZM-26.5 -1.1L-26.9 2.3M-27.5 7.1L-29.1 2.1L-24.8 2.6ZM-11.2 -0.1L-11.7 2M-12.8 6.1L-13.6 1.5L-9.9 2.4ZM33.4 7.5L33 3.5M32.6 -1.5L35.3 3.3L30.8 3.7ZM63.3 9.3L63 2.7M62.7 -3.3L65.7 2.6L60.3 2.9ZM78.3 10.2L78 2.3M77.7 -4.2L80.9 2.2L75 2.5ZM93.3 11.1L93 1.9M92.7 -5.1L96.1 1.8L89.8 2ZM108.2 11.5L108 1.5M107.8 -5.5L111.1 1.4L104.8 1.6ZM123.2 11.5L123 1.5M122.8 -5.5L126.1 1.4L119.8 1.6ZM138.2 11.5L138 1.5M137.8 -5.5L141.1 1.4L134.8 1.6ZM-138.4 9.6L-139.7 19.5M-140.6 26.4L-142.8 19.1L-136.6 19.9ZM-123.3 9.6L-124.7 19.5M-125.7 26.4L-127.8 19L-121.6 19.9ZM-108.1 9.6L-109.7 19.5M-110.9 26.4L-112.9 19L-106.6 20ZM-93 9.9L-94.7 19.2M-96 26.1L-97.8 18.7L-91.6 19.8ZM-77.9 10.8L-79.7 18.7M-81.1 25.2L-82.6 18.1L-76.8 19.4ZM-62.7 11.7L-64.6 18.4M-66.3 24.3L-67.3 17.6L-61.9 19.1ZM-32.3 13.7L-34.3 17.7M-36.7 22.3L-36.4 16.6L-32.3 18.8ZM-16.7 15L-19 17.5M-22.3 21L-20.6 16L-17.4 18.9ZM13.7 19.9L11.2 18.4M7.3 16.1L12.3 16.6L10.2 20.2ZM28 21.6L25.8 18.5M23 14.4L27.7 17.2L24 19.8ZM42.6 22.7L40.6 18.2M38.4 13.3L42.8 17.2L38.4 19.2ZM57.4 23.7L55.5 17.9M53.6 12.3L58 17.1L52.9 18.7ZM87.1 25.6L85.3 17.1M83.9 10.4L88.3 16.5L82.3 17.7ZM102 26.4L100.2 16.5M99 9.6L103.3 16L97.1 17.1ZM131.7 26.4L130.3 16.5M129.3 9.6L133.4 16.1L127.2 16.9ZM146.5 26.4L145.3 16.5M144.5 9.6L148.4 16.1L142.2 16.9ZM-145.1 24.7L-147.3 34.5M-148.9 41.3L-150.4 33.8L-144.3 35.2ZM-129.9 24.8L-132.4 34.5M-134.1 41.2L-135.4 33.7L-129.3 35.2ZM-114.7 24.8L-117.4 34.4M-119.3 41.2L-120.4 33.6L-114.4 35.3ZM-99.4 24.9L-102.5 34.4M-104.6 41.1L-105.5 33.5L-99.5 35.4ZM-7.7 31.4L-11.6 32.8M-16.3 34.6L-12.3 30.7L-10.8 35ZM7.5 33.4L3.5 33M-1.5 32.6L3.7 30.8L3.3 35.3ZM36.7 36.7L33.1 33.1M29.3 29.3L34.9 31.4L31.4 34.9ZM51.4 37.9L47.9 32.9M44.6 28.1L50.1 31.4L45.7 34.4ZM66.1 39L62.8 32.6M59.9 27L65.3 31.3L60.3 33.9ZM81 40L77.7 32.2M75 26L80.5 31L74.9 33.4ZM95.8 40.9L92.5 31.7M90.2 25.1L95.5 30.6L89.6 32.7ZM110.5 41.1L107.6 31.6M105.5 24.9L110.6 30.6L104.5 32.5ZM125.2 41.2L122.6 31.6M120.8 24.8L125.7 30.7L119.6 32.4ZM-136.7 40L-140 49.4M-142.3 56L-143 48.4L-137 50.4ZM-106.1 40.2L-110.1 49.4M-112.9 55.8L-113 48.1L-107.2 50.6ZM-90.7 40.4L-95.2 49.3M-98.3 55.6L-98 47.9L-92.4 50.8ZM-75.3 41.1L-80.1 48.9M-83.7 54.9L-82.8 47.3L-77.4 50.5ZM-29.6 44.5L-34.6 48.1M-39.4 51.5L-36.2 45.9L-33.1 50.2ZM-14.3 45.9L-19.5 48M-24.7 50.1L-20.4 45.6L-18.5 50.3ZM0.9 47.5L-4.4 48M-9.9 48.5L-4.6 45.5L-4.1 50.5ZM15.8 49.2L10.6 48M5.2 46.8L11.1 45.6L10.1 50.5ZM30.6 50.7L25.5 48M20.4 45.3L26.7 45.7L24.3 50.3ZM45.3 52L40.3 47.8M35.7 44L42 45.8L38.6 49.9ZM60 53.2L55.1 47.6M51 42.8L57.3 45.7L53 49.5ZM74.8 54.3L70 47.3M66.2 41.7L72.5 45.6L67.5 49ZM89.6 55.3L84.8 46.8M81.4 40.7L87.6 45.3L82.1 48.3ZM104.2 55.7L99.9 46.6M96.8 40.3L102.7 45.3L97 48ZM118.8 55.8L114.9 46.6M112.2 40.2L117.8 45.4L112 47.8ZM133.4 56L130 46.6M127.6 40L132.9 45.5L127 47.7ZM148.2 56.1L145 46.6M142.8 39.9L148 45.6L142 47.6ZM-143.7 55.2L-147.6 64.4M-150.3 70.8L-150.5 63.1L-144.7 65.6ZM-128.3 55.3L-132.6 64.4M-135.7 70.7L-135.5 63L-129.8 65.7ZM-113 55.5L-117.7 64.3M-121 70.5L-120.5 62.8L-114.9 65.8ZM-82 56.1L-87.9 64.2M-92 69.9L-90.4 62.4L-85.3 66.1ZM-66.6 56.8L-72.8 63.9M-77.4 69.2L-75.2 61.9L-70.4 66ZM-51.4 57.9L-57.6 63.6M-62.6 68.1L-59.7 61.3L-55.6 65.8ZM-36.1 59.1L-42.5 63.3M-47.9 66.9L-44.1 60.9L-40.9 65.7ZM-20.9 60.4L-27.4 63.2M-33.1 65.6L-28.5 60.6L-26.3 65.7ZM-5.8 61.8L-12.3 63.1M-18.2 64.2L-12.8 60.4L-11.8 65.7ZM9.3 63.3L2.7 63M-3.3 62.7L2.9 60.3L2.6 65.7ZM24.2 64.8L17.7 62.9M11.8 61.2L18.4 60.3L16.9 65.5ZM39 66.1L32.6 62.8M27 59.9L33.9 60.3L31.3 65.3ZM68.5 68.5L62.3 62.3M57.5 57.5L64.5 60.1L60.1 64.5ZM83.3 69.6L77.1 61.8M72.7 56.4L79.5 59.9L74.6 63.8ZM97.8 70L92.2 61.8M88.2 56L94.8 60L89.6 63.5ZM112.3 70.3L107.2 61.7M103.7 55.7L110 60.1L104.5 63.3ZM126.9 70.6L122.3 61.7M119.1 55.4L125.1 60.2L119.5 63.1ZM141.5 70.7L137.4 61.6M134.5 55.3L140.2 60.3L134.5 62.9ZM-135.4 70.6L-140.2 79.3M-143.6 85.4L-143 77.8L-137.5 80.8ZM-104.6 71.1L-110.4 79.2M-114.4 84.9L-112.9 77.4L-107.8 81ZM-57.9 72.6L-65.7 79M-71.1 83.4L-67.7 76.5L-63.6 81.4ZM2.7 77.6L-5.2 78M-11.7 78.4L-5.3 75.1L-5 81ZM47.4 81.6L39.7 77.6M33.6 74.4L41.1 74.8L38.3 80.3ZM76.8 83.7L69.4 77M64.2 72.3L71.5 74.7L67.3 79.3ZM91.2 84.3L84.5 76.9M79.8 71.7L86.8 74.8L82.2 79ZM105.7 84.7L99.6 76.8M95.3 71.3L102.1 74.9L97.1 78.7ZM120.3 85L114.7 76.8M110.7 71L117.3 75L112.1 78.5ZM134.9 85.3L129.7 76.7M126.1 70.7L132.4 75.1L127 78.3ZM149.5 85.5L144.8 76.7M141.5 70.5L147.6 75.2L142 78.2ZM-127.1 86.1L-132.9 94.2M-136.9 99.9L-135.4 92.4L-130.3 96ZM-111.7 86.3L-117.9 94.2M-122.3 99.7L-120.4 92.2L-115.5 96.1ZM-96.3 86.7L-103 94.1M-107.7 99.3L-105.3 92L-100.7 96.2ZM-65.3 87.8L-73.2 93.9M-78.7 98.2L-75.1 91.4L-71.3 96.4ZM-49.8 88.6L-58.3 93.8M-64.2 97.4L-59.9 91.1L-56.6 96.5ZM-19 90.7L-28.3 93.4M-35 95.3L-29.1 90.3L-27.4 96.4ZM-3.9 92L-13.1 93.1M-20.1 94L-13.5 90L-12.7 96.3ZM11.1 93.3L1.9 93M-5.1 92.7L2 89.8L1.8 96.1ZM26 94.6L16.8 92.8M10 91.4L17.4 89.7L16.2 95.9ZM55.6 96.9L46.7 92.3M40.4 89.1L48.1 89.5L45.2 95.1ZM70 97.8L61.8 92.2M56 88.2L63.5 89.6L60 94.8ZM84.5 98.5L76.9 92M71.5 87.5L78.9 89.6L74.8 94.4ZM99 99L91.9 91.9M87 87L94.2 89.7L89.7 94.2ZM113.5 99.4L107 91.9M102.5 86.6L109.4 89.8L104.6 93.9ZM128.1 99.8L122.1 91.8M117.9 86.2L124.6 89.9L119.6 93.7ZM142.8 100L137.2 91.8M133.2 86L139.8 90L134.5 93.5ZM-134.3 101.3L-140.4 109.2M-144.7 114.7L-142.9 107.3L-137.9 111.1ZM-103.5 101.9L-110.6 109.1M-115.5 114.1L-112.8 106.9L-108.3 111.3ZM-88.1 102.4L-95.6 109M-100.9 113.6L-97.7 106.6L-93.6 111.4ZM-72.7 103L-80.7 108.9M-86.3 113L-82.6 106.4L-78.8 111.4ZM-57.2 103.6L-65.8 108.8M-71.8 112.4L-67.4 106.1L-64.2 111.5ZM-26.4 105.4L-35.9 108.5M-42.6 110.6L-36.9 105.5L-35 111.5ZM-11.1 106.5L-21 108.3M-27.9 109.5L-21.5 105.2L-20.4 111.4ZM4 107.6L-6 108.1M-13 108.4L-6.1 104.9L-5.9 111.2ZM19 108.8L9 107.9M2 107.2L9.3 104.7L8.7 111ZM33.8 110L24 107.7M17.2 106L24.8 104.6L23.3 110.7ZM48.5 111L39.1 107.5M32.5 105L40.2 104.5L38 110.4ZM63.1 111.9L54.2 107.3M47.9 104.1L55.6 104.5L52.7 110.1ZM106.7 113.8L99.4 107M94.3 102.2L101.5 104.7L97.3 109.3ZM121.3 114.2L114.5 106.9M109.7 101.8L116.8 104.8L112.2 109.1ZM135.9 114.5L129.5 106.8M125.1 101.5L132 104.8L127.1 108.9ZM150.6 114.8L144.6 106.8M140.4 101.2L147.1 104.9L142.1 108.7ZM-141.5 116.5L-148 124.2M-152.5 129.5L-150.4 122.1L-145.5 126.2ZM-110.8 117.1L-118.1 124M-123.2 128.9L-120.3 121.8L-115.9 126.3ZM-80.1 118.1L-88.2 123.9M-93.9 127.9L-90 121.3L-86.4 126.4ZM-64.7 118.7L-73.3 123.8M-79.3 127.3L-74.9 121L-71.7 126.5ZM-49.3 119.4L-58.4 123.6M-64.7 126.6L-59.7 120.8L-57 126.5ZM-34 120.3L-43.4 123.5M-50 125.7L-44.4 120.5L-42.4 126.5ZM-18.7 121.2L-28.5 123.3M-35.3 124.8L-29.1 120.2L-27.8 126.4ZM-3.5 122.2L-13.5 123.1M-20.5 123.8L-13.8 120L-13.2 126.3ZM11.5 123.2L1.5 123M-5.5 122.8L1.6 119.8L1.4 126.1ZM26.4 124.2L16.5 122.8M9.6 121.8L17 119.7L16.1 125.9ZM41.2 125.2L31.6 122.6M24.8 120.8L32.4 119.6L30.7 125.7ZM55.9 126.1L46.6 122.5M40.1 119.9L47.7 119.5L45.5 125.4ZM70.6 126.9L61.7 122.3M55.4 119.1L63.1 119.5L60.2 125.1ZM85.2 127.6L76.7 122.2M70.8 118.4L78.4 119.5L75 124.9ZM114.4 128.6L106.9 122M101.6 117.4L109 119.6L104.8 124.4ZM129 129L121.9 121.9M117 117L124.2 119.7L119.7 124.2ZM-133.5 132L-140.6 139.1M-145.5 144L-142.8 136.9L-138.3 141.3ZM-118.2 132.3L-125.6 139M-130.8 143.7L-127.7 136.7L-123.5 141.3ZM-102.8 132.7L-110.7 138.9M-116.2 143.3L-112.6 136.5L-108.7 141.4ZM-72.1 133.8L-80.8 138.7M-86.9 142.2L-82.4 136L-79.2 141.5ZM-56.8 134.4L-65.9 138.6M-72.2 141.6L-67.2 135.8L-64.5 141.5ZM-41.5 135.1L-50.9 138.5M-57.5 140.9L-52 135.5L-49.8 141.5ZM-26.3 135.9L-36 138.4M-42.7 140.1L-36.7 135.3L-35.2 141.4ZM-11.1 136.8L-21 138.2M-27.9 139.2L-21.4 135.1L-20.5 141.3ZM4 137.7L-6 138M-13 138.3L-6.1 134.9L-5.9 141.2ZM19 138.6L9 137.9M2 137.4L9.2 134.7L8.8 141ZM33.9 139.5L24 137.7M17.1 136.5L24.6 134.6L23.5 140.8ZM48.7 140.4L39.1 137.6M32.3 135.6L39.9 134.6L38.2 140.6ZM63.4 141.2L54.1 137.4M47.6 134.8L55.3 134.5L52.9 140.4ZM78.1 141.9L69.2 137.3M62.9 134.1L70.6 134.5L67.7 140.1ZM92.7 142.5L84.2 137.2M78.3 133.5L85.9 134.5L82.6 139.9ZM107.4 143L99.3 137.1M93.6 133L101.1 134.6L97.4 139.7ZM122 143.5L114.3 137M109 132.5L116.4 134.6L112.3 139.5ZM136.7 143.8L129.4 137M124.3 132.2L131.6 134.7L127.2 139.3ZM151.3 144.2L144.5 136.9M139.7 131.8L146.8 134.7L142.2 139.1Z" fill="#000" stroke="#000" stroke-width="1.2"/></g><filter id="bl3" x="-50%" y="-50%" width="200%" height="200%"><feGaussianBlur stdDeviation="3"/></filter><filter id="bl4" x="-50%" y="-50%" width="200%" height="200%"><feGaussianBlur stdDeviation="4"/></filter><filter id="bl5" x="-50%" y="-50%" width="200%" height="200%"><feGaussianBlur stdDeviation="5"/></filter><filter id="bl6" x="-50%" y="-50%" width="200%" height="200%"><feGaussianBlur stdDeviation="6"/></filter><filter id="bl8" x="-50%" y="-50%" width="200%" height="200%"><feGaussianBlur stdDeviation="8"/></filter><filter id="bl10" x="-50%" y="-50%" width="200%" height="200%"><feGaussianBlur stdDeviation="10"/></filter><filter id="bl12" x="-50%" y="-50%" width="200%" height="200%"><feGaussianBlur stdDeviation="12"/></filter><filter id="bl15" x="-50%" y="-50%" width="200%" height="200%"><feGaussianBlur stdDeviation="15"/></filter><filter id="bl18" x="-50%" y="-50%" width="200%" height="200%"><feGaussianBlur stdDeviation="18"/></filter><filter id="bl22" x="-50%" y="-50%" width="200%" height="200%"><feGaussianBlur stdDeviation="22"/></filter><filter id="bl25" x="-50%" y="-50%" width="200%" height="200%"><feGaussianBlur stdDeviation="25"/></filter><clipPath id="cv1"><path d="M86 693 L266 693 L304.7 701 L325.3 729 L326.7 762 L306 793.7 L93.7 949.5 L86 949.5 Z"/></clipPath><clipPath id="cs1"><path d="M468.6 689 L647.8 689 L678 698.6 L697.4 724.8 L698.8 756.5 L679.5 785.4 L470 941.2 L468.6 941.2 Z"/></clipPath><clipPath id="cv2"><path d="M85 988.8 L327.5 988.8 L327.5 1219.8 L85 1219.8 Z"/></clipPath><clipPath id="cs2"><path d="M472.7 987.7 L708 987.7 L708 1221.2 L472.7 1221.2 Z"/></clipPath></defs>
<g clip-path="url(#cv1)">
<rect x="80" y="680" width="260" height="280" fill="#f21a00"/>
<ellipse cx="205" cy="785" rx="70" ry="55" fill="#a00000" filter="url(#bl18)"/>
<ellipse cx="300" cy="740" rx="45" ry="85" fill="#ff8a00" filter="url(#bl18)"/>
<ellipse cx="330" cy="745" rx="25" ry="60" fill="#ffe000" filter="url(#bl10)"/>
<ellipse cx="270" cy="700" rx="50" ry="12" fill="#ff6000" filter="url(#bl8)" opacity="0.7"/>
<ellipse cx="88" cy="818" rx="40" ry="140" fill="#ffe000" filter="url(#bl10)"/>
<ellipse cx="86" cy="820" rx="24" ry="118" fill="#20e8d8" filter="url(#bl8)"/>
<ellipse cx="85" cy="820" rx="7" ry="120" fill="#0090ff" filter="url(#bl4)"/>
<ellipse cx="96" cy="938" rx="12" ry="12" fill="#ffc000" filter="url(#bl5)"/>
<use href="#fp" transform="translate(170 800) scale(0.950 1.125)"/>
</g>
<path d="M86 693 L266 693 L304.7 701 L325.3 729 L326.7 762 L306 793.7 L93.7 949.5 L86 949.5 Z" fill="none" stroke="#333" stroke-width="0.8"/>
<rect x="75.8" y="686" width="4.2" height="263.5" fill="#0000b0"/>
<rect x="80" y="686" width="6" height="263.5" fill="#1060ff"/>
<g clip-path="url(#cs1)">
<rect x="460" y="680" width="250" height="270" fill="#0044ee"/>
<ellipse cx="610" cy="760" rx="80" ry="40" fill="#0018c8" filter="url(#bl18)"/>
<ellipse cx="560" cy="860" rx="60" ry="40" fill="#0a5af0" filter="url(#bl15)"/>
<ellipse cx="492" cy="820" rx="28" ry="120" fill="#30e0d0" filter="url(#bl10)"/>
<ellipse cx="472" cy="720" rx="12" ry="40" fill="#ff3000" filter="url(#bl6)"/>
<ellipse cx="478" cy="745" rx="14" ry="25" fill="#ffd000" filter="url(#bl6)"/>
<ellipse cx="490" cy="912" rx="30" ry="30" fill="#c00000" filter="url(#bl8)"/>
<ellipse cx="500" cy="880" rx="30" ry="10" fill="#ffb000" filter="url(#bl5)"/>
<use href="#fp" transform="translate(545 800) scale(0.900 1.125)"/>
</g>
<path d="M468.6 689 L647.8 689 L678 698.6 L697.4 724.8 L698.8 756.5 L679.5 785.4 L470 941.2 L468.6 941.2 Z" fill="none" stroke="#333" stroke-width="0.8"/>
<rect x="452.6" y="686" width="16" height="255.2" fill="#7a0000"/>
<g clip-path="url(#cv2)">
<rect x="80" y="980" width="255" height="245" fill="#f01800"/>
<ellipse cx="215" cy="1100" rx="60" ry="90" fill="#c00000" filter="url(#bl22)"/>
<ellipse cx="295" cy="1105" rx="40" ry="140" fill="#ff8800" filter="url(#bl18)"/>
<ellipse cx="325" cy="1105" rx="18" ry="140" fill="#f0e000" filter="url(#bl10)"/>
<ellipse cx="88" cy="1104" rx="50" ry="118" fill="#ffe000" filter="url(#bl10)"/>
<ellipse cx="86" cy="1104" rx="32" ry="104" fill="#20e0d8" filter="url(#bl8)"/>
<ellipse cx="85" cy="1104" rx="8" ry="115" fill="#0090ff" filter="url(#bl4)"/>
<use href="#fp" transform="translate(197 1104) scale(1.000 1.000)"/>
</g>
<rect x="73.9" y="985" width="4.1" height="243.6" fill="#0000b0"/>
<rect x="78" y="985" width="7" height="243.6" fill="#1060ff"/>
<g clip-path="url(#cs2)">
<rect x="465" y="980" width="250" height="245" fill="#0040ec"/>
<ellipse cx="640" cy="1100" rx="70" ry="120" fill="#0016c4" filter="url(#bl22)"/>
<ellipse cx="500" cy="1100" rx="28" ry="85" fill="#30e0d0" filter="url(#bl10)"/>
<ellipse cx="478" cy="1005" rx="16" ry="22" fill="#ff3000" filter="url(#bl5)"/>
<ellipse cx="495" cy="1025" rx="18" ry="14" fill="#ffd000" filter="url(#bl5)"/>
<ellipse cx="478" cy="1200" rx="18" ry="25" fill="#ff2000" filter="url(#bl5)"/>
<ellipse cx="495" cy="1185" rx="20" ry="12" fill="#ffd000" filter="url(#bl5)"/>
<use href="#fp" transform="translate(580 1100) scale(0.950 1.000)"/>
</g>
<rect x="452" y="978.6" width="20.7" height="250.9" fill="#7a0000"/>
<rect x="65.3" y="689" width="80.7" height="261" fill="none" stroke="#f79cc8" stroke-width="5" stroke-dasharray="15 8"/>
<rect x="268.8" y="687.5" width="63.2" height="139.3" fill="none" stroke="#f79cc8" stroke-width="5" stroke-dasharray="15 8"/>
<rect x="445.2" y="683.4" width="81.8" height="260.6" fill="none" stroke="#f79cc8" stroke-width="5" stroke-dasharray="15 8"/>
<rect x="65.3" y="981.3" width="83.6" height="246.2" fill="none" stroke="#f79cc8" stroke-width="5" stroke-dasharray="15 8"/>
<rect x="268" y="980.8" width="66" height="245.9" fill="none" stroke="#f79cc8" stroke-width="5" stroke-dasharray="15 8"/>
<rect x="445" y="978.6" width="83.7" height="246.7" fill="none" stroke="#f79cc8" stroke-width="5" stroke-dasharray="15 8"/>
<rect x="75.8" y="686" width="4.2" height="263.5" fill="#0000b0"/><rect x="80" y="686" width="6" height="263.5" fill="#1060ff"/>
<rect x="73.9" y="985" width="4.1" height="243.6" fill="#0000b0"/><rect x="78" y="985" width="7" height="243.6" fill="#1060ff"/>
<rect x="452.6" y="686" width="16" height="255.2" fill="#7a0000"/>
<rect x="452" y="978.6" width="20.7" height="250.9" fill="#7a0000"/>
<line x1="268.8" y1="887.4" x2="295.1" y2="832.2" stroke="#f79cc8" stroke-width="4.5"/><path d="M297.2 844.5 L296.4 829.5 L284.2 838.3" fill="none" stroke="#f79cc8" stroke-width="4.5" stroke-linecap="round" stroke-linejoin="round"/>
<line x1="184.7" y1="914.5" x2="146.3" y2="922.7" stroke="#f79cc8" stroke-width="4.5"/><path d="M154.8 913.5 L143.4 923.3 L157.8 927.6" fill="none" stroke="#f79cc8" stroke-width="4.5" stroke-linecap="round" stroke-linejoin="round"/>
<line x1="184.7" y1="969" x2="151.6" y2="986.3" stroke="#f79cc8" stroke-width="4.5"/><path d="M157.2 975.2 L148.9 987.7 L163.9 988" fill="none" stroke="#f79cc8" stroke-width="4.5" stroke-linecap="round" stroke-linejoin="round"/>
<line x1="284" y1="965.6" x2="307.7" y2="981.1" stroke="#f79cc8" stroke-width="4.5"/><path d="M295.2 981.5 L310.2 982.7 L303.1 969.5" fill="none" stroke="#f79cc8" stroke-width="4.5" stroke-linecap="round" stroke-linejoin="round"/>
<line x1="567.9" y1="924.7" x2="530.8" y2="932.4" stroke="#f79cc8" stroke-width="4.5"/><path d="M539.3 923.3 L527.9 933 L542.3 937.4" fill="none" stroke="#f79cc8" stroke-width="4.5" stroke-linecap="round" stroke-linejoin="round"/>
<line x1="569.2" y1="960.7" x2="533.3" y2="978.7" stroke="#f79cc8" stroke-width="4.5"/><path d="M539.2 967.7 L530.6 980 L545.6 980.5" fill="none" stroke="#f79cc8" stroke-width="4.5" stroke-linecap="round" stroke-linejoin="round"/>
<line x1="430" y1="650" x2="430" y2="1235" stroke="#777" stroke-width="1.2" stroke-dasharray="4 3"/>
<line x1="27.6" y1="969" x2="827" y2="969" stroke="#777" stroke-width="1.2" stroke-dasharray="4 3"/>
<rect x="337.8" y="727.7" width="7.1" height="205.9" fill="url(#jetV)"/>
<text x="348.7" y="735.4" font-family="'DejaVu Sans', 'Liberation Sans', sans-serif" font-size="20" fill="#000">20</text>
<text x="348.7" y="787" font-family="'DejaVu Sans', 'Liberation Sans', sans-serif" font-size="20" fill="#000">15</text>
<text x="348.7" y="839.1" font-family="'DejaVu Sans', 'Liberation Sans', sans-serif" font-size="20" fill="#000">10</text>
<text x="348.7" y="890.6" font-family="'DejaVu Sans', 'Liberation Sans', sans-serif" font-size="20" fill="#000">5</text>
<text x="348.7" y="940.3" font-family="'DejaVu Sans', 'Liberation Sans', sans-serif" font-size="20" fill="#000">0</text>
<text x="345" y="714" font-family="'DejaVu Sans', 'Liberation Sans', sans-serif" font-size="20" fill="#000">×10<tspan font-size="14" dy="-12">-3</tspan></text>
<rect x="711.8" y="723.4" width="6.2" height="205.4" fill="url(#jetV)"/>
<text x="720.9" y="730.3" font-family="'DejaVu Sans', 'Liberation Sans', sans-serif" font-size="20" fill="#000">100</text>
<text x="720.9" y="771" font-family="'DejaVu Sans', 'Liberation Sans', sans-serif" font-size="20" fill="#000">80</text>
<text x="720.9" y="812.4" font-family="'DejaVu Sans', 'Liberation Sans', sans-serif" font-size="20" fill="#000">60</text>
<text x="720.9" y="854.4" font-family="'DejaVu Sans', 'Liberation Sans', sans-serif" font-size="20" fill="#000">40</text>
<text x="720.9" y="895.7" font-family="'DejaVu Sans', 'Liberation Sans', sans-serif" font-size="20" fill="#000">20</text>
<text x="720.9" y="937" font-family="'DejaVu Sans', 'Liberation Sans', sans-serif" font-size="20" fill="#000">0</text>
<rect x="353.7" y="1015" width="6.1" height="189.7" fill="url(#jetV)"/>
<text x="364.5" y="1021.3" font-family="'DejaVu Sans', 'Liberation Sans', sans-serif" font-size="20" fill="#000">20</text>
<text x="364.5" y="1068.7" font-family="'DejaVu Sans', 'Liberation Sans', sans-serif" font-size="20" fill="#000">15</text>
<text x="364.5" y="1117.8" font-family="'DejaVu Sans', 'Liberation Sans', sans-serif" font-size="20" fill="#000">10</text>
<text x="364.5" y="1164.7" font-family="'DejaVu Sans', 'Liberation Sans', sans-serif" font-size="20" fill="#000">5</text>
<text x="364.5" y="1212.4" font-family="'DejaVu Sans', 'Liberation Sans', sans-serif" font-size="20" fill="#000">0</text>
<text x="359.8" y="1002" font-family="'DejaVu Sans', 'Liberation Sans', sans-serif" font-size="20" fill="#000">×10<tspan font-size="14" dy="-12">-3</tspan></text>
<rect x="734.7" y="1014.4" width="7.3" height="191.6" fill="url(#jetV)"/>
<text x="745.7" y="1020" font-family="'DejaVu Sans', 'Liberation Sans', sans-serif" font-size="20" fill="#000">100</text>
<text x="745.7" y="1058.5" font-family="'DejaVu Sans', 'Liberation Sans', sans-serif" font-size="20" fill="#000">80</text>
<text x="745.7" y="1097" font-family="'DejaVu Sans', 'Liberation Sans', sans-serif" font-size="20" fill="#000">60</text>
<text x="745.7" y="1135.7" font-family="'DejaVu Sans', 'Liberation Sans', sans-serif" font-size="20" fill="#000">40</text>
<text x="745.7" y="1174.3" font-family="'DejaVu Sans', 'Liberation Sans', sans-serif" font-size="20" fill="#000">20</text>
<text x="745.7" y="1213" font-family="'DejaVu Sans', 'Liberation Sans', sans-serif" font-size="20" fill="#000">0</text>
<text x="767.7" y="946.7" font-family="'Liberation Sans', Arial, sans-serif" font-size="25" fill="#000" textLength="78.2" lengthAdjust="spacingAndGlyphs">0.5mm</text>
<rect x="768.6" y="955" width="83.2" height="7" fill="#000"/>
<text x="766.8" y="1219.8" font-family="'Liberation Sans', Arial, sans-serif" font-size="25" fill="#000" textLength="77.8" lengthAdjust="spacingAndGlyphs">0.5mm</text>
<rect x="743.8" y="1226.7" width="104.7" height="7.5" fill="#000"/>
<text x="11.6" y="679" font-family="'Liberation Sans', Arial, sans-serif" font-size="44" font-weight="bold" fill="#000" textLength="55.2" lengthAdjust="spacingAndGlyphs">(C)</text>
<text x="124.2" y="675" font-family="'Liberation Sans', Arial, sans-serif" font-size="35" font-weight="bold" fill="#000" textLength="230" lengthAdjust="spacingAndGlyphs">Velocity (m/s)</text>
<text x="501.8" y="673.8" font-family="'Liberation Sans', Arial, sans-serif" font-size="35" font-weight="bold" fill="#000" textLength="254.8" lengthAdjust="spacingAndGlyphs">Shear rate (1/s)</text>
<text x="195.9" y="912.8" font-family="'Liberation Sans', Arial, sans-serif" font-size="31" fill="#000" textLength="80.9" lengthAdjust="spacingAndGlyphs">Dead</text>
<text x="175.4" y="960.7" font-family="'Liberation Sans', Arial, sans-serif" font-size="31" fill="#000" textLength="123.5" lengthAdjust="spacingAndGlyphs">Volume</text>
<text x="539.2" y="909.5" font-family="'Liberation Sans', Arial, sans-serif" font-size="31" fill="#000" textLength="168.9" lengthAdjust="spacingAndGlyphs">High shear</text>
<text x="534.9" y="958" font-family="'Liberation Sans', Arial, sans-serif" font-size="31" fill="#000" textLength="176" lengthAdjust="spacingAndGlyphs">rate region</text>
<rect x="976.7" y="700.8" width="209" height="15.2" fill="#5b9bd5"/>
<rect x="1185.7" y="700.8" width="335.8" height="15.2" fill="#ed7d31"/>
<text x="944.4" y="716.5" font-family="'Liberation Sans', Arial, sans-serif" font-size="25" fill="#404040" text-anchor="end">11</text>
<rect x="976.7" y="740.1" width="201.3" height="15.2" fill="#5b9bd5"/>
<rect x="1178" y="740.1" width="378.3" height="15.2" fill="#ed7d31"/>
<text x="944.4" y="755.8" font-family="'Liberation Sans', Arial, sans-serif" font-size="25" fill="#404040" text-anchor="end">10</text>
<rect x="976.7" y="779.4" width="209" height="15.2" fill="#5b9bd5"/>
<rect x="1185.7" y="779.4" width="340.8" height="15.2" fill="#ed7d31"/>
<text x="944.4" y="795.1" font-family="'Liberation Sans', Arial, sans-serif" font-size="25" fill="#404040" text-anchor="end">9</text>
<rect x="976.7" y="818.7" width="200.2" height="15.2" fill="#5b9bd5"/>
<rect x="1176.9" y="818.7" width="371.7" height="15.2" fill="#ed7d31"/>
<text x="944.4" y="834.4" font-family="'Liberation Sans', Arial, sans-serif" font-size="25" fill="#404040" text-anchor="end">8</text>
<rect x="976.7" y="858" width="207.1" height="15.2" fill="#5b9bd5"/>
<rect x="1183.8" y="858" width="368.1" height="15.2" fill="#ed7d31"/>
<text x="944.4" y="873.7" font-family="'Liberation Sans', Arial, sans-serif" font-size="25" fill="#404040" text-anchor="end">7</text>
<rect x="976.7" y="897.3" width="202.9" height="15.2" fill="#5b9bd5"/>
<rect x="1179.6" y="897.3" width="342.4" height="15.2" fill="#ed7d31"/>
<text x="944.4" y="913" font-family="'Liberation Sans', Arial, sans-serif" font-size="25" fill="#404040" text-anchor="end">6</text>
<rect x="976.7" y="936.6" width="207.1" height="15.2" fill="#5b9bd5"/>
<rect x="1183.8" y="936.6" width="370.9" height="15.2" fill="#ed7d31"/>
<text x="944.4" y="952.3" font-family="'Liberation Sans', Arial, sans-serif" font-size="25" fill="#404040" text-anchor="end">5</text>
<rect x="976.7" y="975.9" width="203.8" height="15.2" fill="#5b9bd5"/>
<rect x="1180.5" y="975.9" width="342.7" height="15.2" fill="#ed7d31"/>
<text x="944.4" y="991.6" font-family="'Liberation Sans', Arial, sans-serif" font-size="25" fill="#404040" text-anchor="end">4</text>
<rect x="976.7" y="1015.2" width="191.1" height="15.2" fill="#5b9bd5"/>
<rect x="1167.8" y="1015.2" width="388.5" height="15.2" fill="#ed7d31"/>
<text x="944.4" y="1030.9" font-family="'Liberation Sans', Arial, sans-serif" font-size="25" fill="#404040" text-anchor="end">3</text>
<rect x="976.7" y="1054.5" width="212.7" height="15.2" fill="#5b9bd5"/>
<rect x="1189.4" y="1054.5" width="289" height="15.2" fill="#ed7d31"/>
<text x="944.4" y="1070.2" font-family="'Liberation Sans', Arial, sans-serif" font-size="25" fill="#404040" text-anchor="end">2</text>
<rect x="976.7" y="1093.8" width="204.9" height="15.2" fill="#5b9bd5"/>
<rect x="1181.6" y="1093.8" width="355.4" height="15.2" fill="#ed7d31"/>
<text x="944.4" y="1109.5" font-family="'Liberation Sans', Arial, sans-serif" font-size="25" fill="#404040" text-anchor="end">1</text>
<line x1="975.3" y1="687.5" x2="975.3" y2="1120" stroke="#c8c8c8" stroke-width="1.3"/>
<text x="974.4" y="1171.5" font-family="'Liberation Sans', Arial, sans-serif" font-size="25" fill="#404040" text-anchor="middle">0</text>
<text x="1028.5" y="1171.5" font-family="'Liberation Sans', Arial, sans-serif" font-size="25" fill="#404040" text-anchor="middle">0.1</text>
<text x="1082.5" y="1171.5" font-family="'Liberation Sans', Arial, sans-serif" font-size="25" fill="#404040" text-anchor="middle">0.2</text>
<text x="1136.5" y="1171.5" font-family="'Liberation Sans', Arial, sans-serif" font-size="25" fill="#404040" text-anchor="middle">0.3</text>
<text x="1190.6" y="1171.5" font-family="'Liberation Sans', Arial, sans-serif" font-size="25" fill="#404040" text-anchor="middle">0.4</text>
<text x="1244.7" y="1171.5" font-family="'Liberation Sans', Arial, sans-serif" font-size="25" fill="#404040" text-anchor="middle">0.5</text>
<text x="1298.7" y="1171.5" font-family="'Liberation Sans', Arial, sans-serif" font-size="25" fill="#404040" text-anchor="middle">0.6</text>
<text x="1352.8" y="1171.5" font-family="'Liberation Sans', Arial, sans-serif" font-size="25" fill="#404040" text-anchor="middle">0.7</text>
<text x="1406.8" y="1171.5" font-family="'Liberation Sans', Arial, sans-serif" font-size="25" fill="#404040" text-anchor="middle">0.8</text>
<text x="1460.8" y="1171.5" font-family="'Liberation Sans', Arial, sans-serif" font-size="25" fill="#404040" text-anchor="middle">0.9</text>
<text x="1514.9" y="1171.5" font-family="'Liberation Sans', Arial, sans-serif" font-size="25" fill="#404040" text-anchor="middle">1</text>
<text x="1568.9" y="1171.5" font-family="'Liberation Sans', Arial, sans-serif" font-size="25" fill="#404040" text-anchor="middle">1.1</text>
<text x="1003.6" y="1222.4" font-family="'Liberation Sans', Arial, sans-serif" font-size="35" font-weight="bold" fill="#595959" textLength="536.2" lengthAdjust="spacingAndGlyphs">Motor Torque requirement (Nm)</text>
<text x="0" y="0" font-family="'Liberation Sans', Arial, sans-serif" font-size="35" font-weight="bold" fill="#595959" textLength="251.5" lengthAdjust="spacingAndGlyphs" transform="translate(917 1029) rotate(-90)">Design number</text>
<rect x="1559" y="820" width="172.5" height="180.2" fill="#fff" stroke="#d0d0d0" stroke-width="1.3"/>
<rect x="1570" y="838.3" width="16.7" height="16.6" fill="#5b9bd5"/>
<rect x="1570" y="929.5" width="16.7" height="16.5" fill="#ed7d31"/>
<text x="1594.1" y="856.5" font-family="'Liberation Sans', Arial, sans-serif" font-size="26" font-weight="bold" fill="#595959" textLength="109.8" lengthAdjust="spacingAndGlyphs">Polymer</text>
<text x="1594.1" y="894.7" font-family="'Liberation Sans', Arial, sans-serif" font-size="26" font-weight="bold" fill="#595959" textLength="133.8" lengthAdjust="spacingAndGlyphs">resistance</text>
<text x="1594.1" y="947.2" font-family="'Liberation Sans', Arial, sans-serif" font-size="26" font-weight="bold" fill="#595959" textLength="101.8" lengthAdjust="spacingAndGlyphs">Bearing</text>
<text x="1594.1" y="984.7" font-family="'Liberation Sans', Arial, sans-serif" font-size="26" font-weight="bold" fill="#595959" textLength="95.8" lengthAdjust="spacingAndGlyphs">friction</text>
<text x="879" y="679" font-family="'Liberation Sans', Arial, sans-serif" font-size="44" font-weight="bold" fill="#000" textLength="55" lengthAdjust="spacingAndGlyphs">(D)</text>
<text x="14" y="1311" font-family="'Liberation Sans', Arial, sans-serif" font-size="44" font-weight="bold" fill="#000" textLength="51.2" lengthAdjust="spacingAndGlyphs">(E)</text>
<text x="66.5" y="1304" font-family="'DejaVu Sans', 'Liberation Sans', sans-serif" font-size="21" fill="#000" textLength="86.7" lengthAdjust="spacingAndGlyphs">Time=0</text>
<text x="240.3" y="1303.5" font-family="'DejaVu Sans', 'Liberation Sans', sans-serif" font-size="21" fill="#000" textLength="216.5" lengthAdjust="spacingAndGlyphs">Particle trajectories</text>
<text x="66.5" y="1584.4" font-family="'DejaVu Sans', 'Liberation Sans', sans-serif" font-size="21" fill="#000" textLength="99.5" lengthAdjust="spacingAndGlyphs">Time=5s</text>
<text x="239.6" y="1584.4" font-family="'DejaVu Sans', 'Liberation Sans', sans-serif" font-size="21" fill="#000" textLength="216.5" lengthAdjust="spacingAndGlyphs">Particle trajectories</text>
<rect x="665" y="1283" width="8" height="7" fill="#2a5fd0" stroke="#e0c020" stroke-width="1.2"/>
<rect x="665" y="1564" width="8" height="7" fill="#2a5fd0" stroke="#e0c020" stroke-width="1.2"/>
<line x1="116.5" y1="1318.4" x2="680" y2="1318.4" stroke="#000" stroke-width="2.2"/>
<line x1="116.5" y1="1526.9" x2="680" y2="1526.9" stroke="#000" stroke-width="2.2"/>
<ellipse cx="117" cy="1422.8" rx="9.5" ry="104.2" fill="none" stroke="#000" stroke-width="1.6"/>
<line x1="107" y1="1422.8" x2="680" y2="1422.8" stroke="#444" stroke-width="1.1"/>
<path d="M158 1507.6 L164 1498.7 L170 1488.4 L176 1476.9 L182 1464.4 L188 1451.2 L194 1437.4 L200 1423.4 L206 1409.3 L212 1395.5 L218 1382.2 L224 1369.7 L230 1358.1 L236 1347.7 L242 1338.6 L248 1331.1 L254 1325.3 L260 1321.2 L266 1319 L272 1318.7 L278 1320.3 L284 1323.7 L290 1329 L296 1336 L302 1344.5 L308 1354.5 L314 1365.7 L320 1378 L326 1391 L332 1404.7 L338 1418.7 L344 1432.8 L350 1446.6 L356 1460.1 L362 1472.9 L368 1484.7 L374 1495.4 L380 1504.8 L386 1512.7 L392 1519 L398 1523.5 L404 1526.2 L410 1527 L416 1525.9 L422 1522.9 L428 1518.1 L434 1511.5 L440 1503.4 L446 1493.7 L452 1482.8 L458 1470.8 L464 1457.9 L470 1444.3 L476 1430.4 L482 1416.4 L488 1402.4 L494 1388.8 L500 1375.9 L506 1363.8 L512 1352.7 L518 1343 L524 1334.7 L530 1328 L536 1323 L542 1319.9 L548 1318.6 L554 1319.3 L560 1321.8 L566 1326.1 L572 1332.3 L578 1340 L584 1349.3 L590 1360 L596 1371.7 L602 1384.4 L608 1397.8 L614 1411.7 L620 1425.7 L626 1439.7 L632 1453.4 L638 1466.6 L644 1478.9 L650 1490.2 L656 1500.3 L662 1509 L668 1516.1 L674 1521.5 L679.5 1524.9 M207 1507.6 L213 1498.7 L219 1488.4 L225 1476.9 L231 1464.4 L237 1451.2 L243 1437.4 L249 1423.4 L255 1409.3 L261 1395.5 L267 1382.2 L273 1369.7 L279 1358.1 L285 1347.7 L291 1338.6 L297 1331.1 L303 1325.3 L309 1321.2 L315 1319 L321 1318.7 L327 1320.3 L333 1323.7 L339 1329 L345 1336 L351 1344.5 L357 1354.5 L363 1365.7 L369 1378 L375 1391 L381 1404.7 L387 1418.7 L393 1432.8 L399 1446.6 L405 1460.1 L411 1472.9 L417 1484.7 L423 1495.4 L429 1504.8 L435 1512.7 L441 1519 L447 1523.5 L453 1526.2 L459 1527 L465 1525.9 L471 1522.9 L477 1518.1 L483 1511.5 L489 1503.4 L495 1493.7 L501 1482.8 L507 1470.8 L513 1457.9 L519 1444.3 L525 1430.4 L531 1416.4 L537 1402.4 L543 1388.8 L549 1375.9 L555 1363.8 L561 1352.7 L567 1343 L573 1334.7 L579 1328 L585 1323 L591 1319.9 L597 1318.6 L603 1319.3 L609 1321.8 L615 1326.1 L621 1332.3 L627 1340 L633 1349.3 L639 1360 L645 1371.7 L651 1384.4 L657 1397.8 L663 1411.7 L669 1425.7 L675 1439.7 L679.5 1450.1 M158 1338 L164 1346.9 L170 1357.2 L176 1368.7 L182 1381.2 L188 1394.4 L194 1408.2 L200 1422.2 L206 1436.3 L212 1450.1 L218 1463.4 L224 1475.9 L230 1487.5 L236 1497.9 L242 1507 L248 1514.5 L254 1520.3 L260 1524.4 L266 1526.6 L272 1526.9 L278 1525.3 L284 1521.9 L290 1516.6 L296 1509.6 L302 1501.1 L308 1491.1 L314 1479.9 L320 1467.6 L326 1454.6 L332 1440.9 L338 1426.9 L344 1412.8 L350 1399 L356 1385.5 L362 1372.7 L368 1360.9 L374 1350.2 L380 1340.8 L386 1332.9 L392 1326.6 L398 1322.1 L404 1319.4 L410 1318.6 L416 1319.7 L422 1322.7 L428 1327.5 L434 1334.1 L440 1342.2 L446 1351.9 L452 1362.8 L458 1374.8 L464 1387.7 L470 1401.3 L476 1415.2 L482 1429.2 L488 1443.2 L494 1456.8 L500 1469.7 L506 1481.8 L512 1492.9 L518 1502.6 L524 1510.9 L530 1517.6 L536 1522.6 L542 1525.7 L548 1527 L554 1526.3 L560 1523.8 L566 1519.5 L572 1513.3 L578 1505.6 L584 1496.3 L590 1485.6 L596 1473.9 L602 1461.2 L608 1447.8 L614 1433.9 L620 1419.9 L626 1405.9 L632 1392.2 L638 1379 L644 1366.7 L650 1355.4 L656 1345.3 L662 1336.6 L668 1329.5 L674 1324.1 L679.5 1320.7 M207 1338 L213 1346.9 L219 1357.2 L225 1368.7 L231 1381.2 L237 1394.4 L243 1408.2 L249 1422.2 L255 1436.3 L261 1450.1 L267 1463.4 L273 1475.9 L279 1487.5 L285 1497.9 L291 1507 L297 1514.5 L303 1520.3 L309 1524.4 L315 1526.6 L321 1526.9 L327 1525.3 L333 1521.9 L339 1516.6 L345 1509.6 L351 1501.1 L357 1491.1 L363 1479.9 L369 1467.6 L375 1454.6 L381 1440.9 L387 1426.9 L393 1412.8 L399 1399 L405 1385.5 L411 1372.7 L417 1360.9 L423 1350.2 L429 1340.8 L435 1332.9 L441 1326.6 L447 1322.1 L453 1319.4 L459 1318.6 L465 1319.7 L471 1322.7 L477 1327.5 L483 1334.1 L489 1342.2 L495 1351.9 L501 1362.8 L507 1374.8 L513 1387.7 L519 1401.3 L525 1415.2 L531 1429.2 L537 1443.2 L543 1456.8 L549 1469.7 L555 1481.8 L561 1492.9 L567 1502.6 L573 1510.9 L579 1517.6 L585 1522.6 L591 1525.7 L597 1527 L603 1526.3 L609 1523.8 L615 1519.5 L621 1513.3 L627 1505.6 L633 1496.3 L639 1485.6 L645 1473.9 L651 1461.2 L657 1447.8 L663 1433.9 L669 1419.9 L675 1405.9 L679.5 1395.5 M158 1479 L164 1473.1 L170 1466.3 L176 1458.6 L182 1450.4 L188 1441.6 L194 1432.5 L200 1423.2 L206 1413.9 L212 1404.8 L218 1395.9 L224 1387.6 L230 1380 L236 1373.1 L242 1367.1 L248 1362.1 L254 1358.2 L260 1355.5 L266 1354.1 L272 1353.9 L278 1354.9 L284 1357.2 L290 1360.7 L296 1365.3 L302 1371 L308 1377.6 L314 1385 L320 1393.1 L326 1401.8 L332 1410.8 L338 1420.1 L344 1429.4 L350 1438.6 L356 1447.5 L362 1455.9 L368 1463.8 L374 1470.9 L380 1477.1 L386 1482.4 L392 1486.5 L398 1489.5 L404 1491.3 L410 1491.8 L416 1491.1 L422 1489.1 L428 1485.9 L434 1481.6 L440 1476.2 L446 1469.8 L452 1462.5 L458 1454.6 L464 1446 L470 1437.1 L476 1427.8 L482 1418.5 L488 1409.3 L494 1400.3 L500 1391.7 L506 1383.7 L512 1376.4 L518 1369.9 L524 1364.4 L530 1360 L536 1356.7 L542 1354.7 L548 1353.8 L554 1354.2 L560 1355.9 L566 1358.8 L572 1362.9 L578 1368 L584 1374.1 L590 1381.2 L596 1389 L602 1397.4 L608 1406.3 L614 1415.4 L620 1424.7 L626 1434 L632 1443.1 L638 1451.8 L644 1460 L650 1467.4 L656 1474.1 L662 1479.9 L668 1484.6 L674 1488.2 L679.5 1490.4 M175 1474.1 L181 1468.7 L187 1462.5 L193 1455.5 L199 1448 L205 1440 L211 1431.6 L217 1423.2 L223 1414.7 L229 1406.3 L235 1398.3 L241 1390.7 L247 1383.7 L253 1377.4 L259 1371.9 L265 1367.4 L271 1363.8 L277 1361.4 L283 1360.1 L289 1359.9 L295 1360.8 L301 1362.9 L307 1366.1 L313 1370.3 L319 1375.5 L325 1381.5 L331 1388.3 L337 1395.7 L343 1403.6 L349 1411.9 L355 1420.3 L361 1428.8 L367 1437.2 L373 1445.3 L379 1453.1 L385 1460.2 L391 1466.7 L397 1472.4 L403 1477.2 L409 1481 L415 1483.7 L421 1485.3 L427 1485.8 L433 1485.1 L439 1483.3 L445 1480.4 L451 1476.5 L457 1471.5 L463 1465.7 L469 1459.1 L475 1451.8 L481 1444 L487 1435.8 L493 1427.4 L499 1418.9 L505 1410.5 L511 1402.3 L517 1394.4 L523 1387.1 L529 1380.4 L535 1374.5 L541 1369.5 L547 1365.5 L553 1362.5 L559 1360.6 L565 1359.8 L571 1360.2 L577 1361.7 L583 1364.4 L589 1368.1 L595 1372.8 L601 1378.4 L607 1384.8 L613 1391.9 L619 1399.6 L625 1407.7 L631 1416.1 L637 1424.6 L643 1433 L649 1441.3 L655 1449.3 L661 1456.7 L667 1463.6 L673 1469.7 L679 1474.9 L679.5 1475.3 M161 1367.4 L167 1373.3 L173 1380 L179 1387.5 L185 1395.6 L191 1404.3 L197 1413.3 L203 1422.4 L209 1431.6 L215 1440.6 L221 1449.3 L227 1457.5 L233 1465 L239 1471.8 L245 1477.7 L251 1482.6 L257 1486.4 L263 1489.1 L269 1490.5 L275 1490.7 L281 1489.7 L287 1487.4 L293 1484 L299 1479.5 L305 1473.9 L311 1467.4 L317 1460.1 L323 1452.1 L329 1443.5 L335 1434.6 L341 1425.5 L347 1416.3 L353 1407.2 L359 1398.5 L365 1390.1 L371 1382.4 L377 1375.4 L383 1369.3 L389 1364.1 L395 1360 L401 1357.1 L407 1355.3 L413 1354.8 L419 1355.5 L425 1357.5 L431 1360.6 L437 1364.9 L443 1370.2 L449 1376.5 L455 1383.6 L461 1391.5 L467 1399.9 L473 1408.7 L479 1417.8 L485 1427 L491 1436.1 L497 1445 L503 1453.4 L509 1461.3 L515 1468.5 L521 1474.9 L527 1480.3 L533 1484.7 L539 1487.9 L545 1490 L551 1490.8 L557 1490.4 L563 1488.7 L569 1485.9 L575 1481.9 L581 1476.8 L587 1470.7 L593 1463.8 L599 1456.1 L605 1447.8 L611 1439.1 L617 1430.1 L623 1420.9 L629 1411.7 L635 1402.8 L641 1394.2 L647 1386.2 L653 1378.8 L659 1372.2 L665 1366.6 L671 1361.9 L677 1358.4 L679.5 1357.3 M178 1372.3 L184 1377.6 L190 1383.8 L196 1390.6 L202 1398 L208 1405.9 L214 1414.1 L220 1422.5 L226 1430.8 L232 1439 L238 1446.9 L244 1454.4 L250 1461.3 L256 1467.5 L262 1472.9 L268 1477.3 L274 1480.8 L280 1483.2 L286 1484.5 L292 1484.7 L298 1483.8 L304 1481.7 L310 1478.6 L316 1474.5 L322 1469.4 L328 1463.4 L334 1456.8 L340 1449.5 L346 1441.7 L352 1433.6 L358 1425.2 L364 1416.9 L370 1408.6 L376 1400.6 L382 1393 L388 1386 L394 1379.6 L400 1374 L406 1369.3 L412 1365.6 L418 1362.9 L424 1361.3 L430 1360.8 L436 1361.5 L442 1363.2 L448 1366.1 L454 1370 L460 1374.9 L466 1380.6 L472 1387.1 L478 1394.2 L484 1401.9 L490 1410 L496 1418.3 L502 1426.6 L508 1434.9 L514 1443 L520 1450.7 L526 1457.9 L532 1464.5 L538 1470.3 L544 1475.2 L550 1479.2 L556 1482.2 L562 1484 L568 1484.8 L574 1484.4 L580 1482.9 L586 1480.3 L592 1476.7 L598 1472 L604 1466.5 L610 1460.2 L616 1453.2 L622 1445.6 L628 1437.7 L634 1429.4 L640 1421.1 L646 1412.7 L652 1404.6 L658 1396.8 L664 1389.4 L670 1382.7 L676 1376.7 L679.5 1373.6" fill="none" stroke="#111" stroke-width="1"/>
<path d="M160 1339.5 Q150 1336 141 1338 Q170 1372 196 1422 M141 1338 Q172 1340 205 1362 M160 1507 Q158 1510 152 1506 Q178 1506 205 1484 M152 1506 Q176 1480 200 1452" fill="none" stroke="#222" stroke-width="1"/>
<clipPath id="bc175"><circle cx="175.7" cy="1401.2" r="18.5"/></clipPath><g clip-path="url(#bc175)"><rect x="157.2" y="1382.7" width="37" height="17.5" fill="#000066"/><rect x="157.2" y="1400.2" width="37" height="19.5" fill="#5a0000"/></g><circle cx="176.7" cy="1403.2" r="18.5" fill="none" stroke="#444" stroke-width="0.8"/>
<clipPath id="bc263"><circle cx="263.3" cy="1443.3" r="18"/></clipPath><g clip-path="url(#bc263)"><rect x="245.3" y="1425.3" width="36" height="17" fill="#000066"/><rect x="245.3" y="1442.3" width="36" height="19" fill="#5a0000"/></g><circle cx="264.3" cy="1445.3" r="18" fill="none" stroke="#444" stroke-width="0.8"/>
<line x1="116.5" y1="1599.5" x2="680" y2="1599.5" stroke="#000" stroke-width="2.2"/>
<line x1="116.5" y1="1808.2" x2="680" y2="1808.2" stroke="#000" stroke-width="2.2"/>
<ellipse cx="117" cy="1704.2" rx="9.5" ry="104.4" fill="none" stroke="#000" stroke-width="1.6"/>
<line x1="107" y1="1704.2" x2="680" y2="1704.2" stroke="#444" stroke-width="1.1"/>
<path d="M158 1789 L164 1780.1 L170 1769.8 L176 1758.3 L182 1745.8 L188 1732.6 L194 1718.8 L200 1704.8 L206 1690.7 L212 1676.9 L218 1663.6 L224 1651.1 L230 1639.5 L236 1629.1 L242 1620 L248 1612.5 L254 1606.7 L260 1602.6 L266 1600.4 L272 1600.1 L278 1601.7 L284 1605.1 L290 1610.4 L296 1617.4 L302 1625.9 L308 1635.9 L314 1647.1 L320 1659.4 L326 1672.4 L332 1686.1 L338 1700.1 L344 1714.2 L350 1728 L356 1741.5 L362 1754.3 L368 1766.1 L374 1776.8 L380 1786.2 L386 1794.1 L392 1800.4 L398 1804.9 L404 1807.6 L410 1808.4 L416 1807.3 L422 1804.3 L428 1799.5 L434 1792.9 L440 1784.8 L446 1775.1 L452 1764.2 L458 1752.2 L464 1739.3 L470 1725.7 L476 1711.8 L482 1697.8 L488 1683.8 L494 1670.2 L500 1657.3 L506 1645.2 L512 1634.1 L518 1624.4 L524 1616.1 L530 1609.4 L536 1604.4 L542 1601.3 L548 1600 L554 1600.7 L560 1603.2 L566 1607.5 L572 1613.7 L578 1621.4 L584 1630.7 L590 1641.4 L596 1653.1 L602 1665.8 L608 1679.2 L614 1693.1 L620 1707.1 L626 1721.1 L632 1734.8 L638 1748 L644 1760.3 L650 1771.6 L656 1781.7 L662 1790.4 L668 1797.5 L674 1802.9 L679.5 1806.3 M207 1789 L213 1780.1 L219 1769.8 L225 1758.3 L231 1745.8 L237 1732.6 L243 1718.8 L249 1704.8 L255 1690.7 L261 1676.9 L267 1663.6 L273 1651.1 L279 1639.5 L285 1629.1 L291 1620 L297 1612.5 L303 1606.7 L309 1602.6 L315 1600.4 L321 1600.1 L327 1601.7 L333 1605.1 L339 1610.4 L345 1617.4 L351 1625.9 L357 1635.9 L363 1647.1 L369 1659.4 L375 1672.4 L381 1686.1 L387 1700.1 L393 1714.2 L399 1728 L405 1741.5 L411 1754.3 L417 1766.1 L423 1776.8 L429 1786.2 L435 1794.1 L441 1800.4 L447 1804.9 L453 1807.6 L459 1808.4 L465 1807.3 L471 1804.3 L477 1799.5 L483 1792.9 L489 1784.8 L495 1775.1 L501 1764.2 L507 1752.2 L513 1739.3 L519 1725.7 L525 1711.8 L531 1697.8 L537 1683.8 L543 1670.2 L549 1657.3 L555 1645.2 L561 1634.1 L567 1624.4 L573 1616.1 L579 1609.4 L585 1604.4 L591 1601.3 L597 1600 L603 1600.7 L609 1603.2 L615 1607.5 L621 1613.7 L627 1621.4 L633 1630.7 L639 1641.4 L645 1653.1 L651 1665.8 L657 1679.2 L663 1693.1 L669 1707.1 L675 1721.1 L679.5 1731.5 M158 1619.4 L164 1628.3 L170 1638.6 L176 1650.1 L182 1662.6 L188 1675.8 L194 1689.6 L200 1703.6 L206 1717.7 L212 1731.5 L218 1744.8 L224 1757.3 L230 1768.9 L236 1779.3 L242 1788.4 L248 1795.9 L254 1801.7 L260 1805.8 L266 1808 L272 1808.3 L278 1806.7 L284 1803.3 L290 1798 L296 1791 L302 1782.5 L308 1772.5 L314 1761.3 L320 1749 L326 1736 L332 1722.3 L338 1708.3 L344 1694.2 L350 1680.4 L356 1666.9 L362 1654.1 L368 1642.3 L374 1631.6 L380 1622.2 L386 1614.3 L392 1608 L398 1603.5 L404 1600.8 L410 1600 L416 1601.1 L422 1604.1 L428 1608.9 L434 1615.5 L440 1623.6 L446 1633.3 L452 1644.2 L458 1656.2 L464 1669.1 L470 1682.7 L476 1696.6 L482 1710.6 L488 1724.6 L494 1738.2 L500 1751.1 L506 1763.2 L512 1774.3 L518 1784 L524 1792.3 L530 1799 L536 1804 L542 1807.1 L548 1808.4 L554 1807.7 L560 1805.2 L566 1800.9 L572 1794.7 L578 1787 L584 1777.7 L590 1767 L596 1755.3 L602 1742.6 L608 1729.2 L614 1715.3 L620 1701.3 L626 1687.3 L632 1673.6 L638 1660.4 L644 1648.1 L650 1636.8 L656 1626.7 L662 1618 L668 1610.9 L674 1605.5 L679.5 1602.1 M207 1619.4 L213 1628.3 L219 1638.6 L225 1650.1 L231 1662.6 L237 1675.8 L243 1689.6 L249 1703.6 L255 1717.7 L261 1731.5 L267 1744.8 L273 1757.3 L279 1768.9 L285 1779.3 L291 1788.4 L297 1795.9 L303 1801.7 L309 1805.8 L315 1808 L321 1808.3 L327 1806.7 L333 1803.3 L339 1798 L345 1791 L351 1782.5 L357 1772.5 L363 1761.3 L369 1749 L375 1736 L381 1722.3 L387 1708.3 L393 1694.2 L399 1680.4 L405 1666.9 L411 1654.1 L417 1642.3 L423 1631.6 L429 1622.2 L435 1614.3 L441 1608 L447 1603.5 L453 1600.8 L459 1600 L465 1601.1 L471 1604.1 L477 1608.9 L483 1615.5 L489 1623.6 L495 1633.3 L501 1644.2 L507 1656.2 L513 1669.1 L519 1682.7 L525 1696.6 L531 1710.6 L537 1724.6 L543 1738.2 L549 1751.1 L555 1763.2 L561 1774.3 L567 1784 L573 1792.3 L579 1799 L585 1804 L591 1807.1 L597 1808.4 L603 1807.7 L609 1805.2 L615 1800.9 L621 1794.7 L627 1787 L633 1777.7 L639 1767 L645 1755.3 L651 1742.6 L657 1729.2 L663 1715.3 L669 1701.3 L675 1687.3 L679.5 1676.9 M158 1760.4 L164 1754.5 L170 1747.7 L176 1740 L182 1731.8 L188 1723 L194 1713.9 L200 1704.6 L206 1695.3 L212 1686.2 L218 1677.3 L224 1669 L230 1661.4 L236 1654.5 L242 1648.5 L248 1643.5 L254 1639.6 L260 1636.9 L266 1635.5 L272 1635.3 L278 1636.3 L284 1638.6 L290 1642.1 L296 1646.7 L302 1652.4 L308 1659 L314 1666.4 L320 1674.5 L326 1683.2 L332 1692.2 L338 1701.5 L344 1710.8 L350 1720 L356 1728.9 L362 1737.3 L368 1745.2 L374 1752.3 L380 1758.5 L386 1763.8 L392 1767.9 L398 1770.9 L404 1772.7 L410 1773.2 L416 1772.5 L422 1770.5 L428 1767.3 L434 1763 L440 1757.6 L446 1751.2 L452 1743.9 L458 1736 L464 1727.4 L470 1718.5 L476 1709.2 L482 1699.9 L488 1690.7 L494 1681.7 L500 1673.1 L506 1665.1 L512 1657.8 L518 1651.3 L524 1645.8 L530 1641.4 L536 1638.1 L542 1636.1 L548 1635.2 L554 1635.6 L560 1637.3 L566 1640.2 L572 1644.3 L578 1649.4 L584 1655.5 L590 1662.6 L596 1670.4 L602 1678.8 L608 1687.7 L614 1696.8 L620 1706.1 L626 1715.4 L632 1724.5 L638 1733.2 L644 1741.4 L650 1748.8 L656 1755.5 L662 1761.3 L668 1766 L674 1769.6 L679.5 1771.8 M175 1755.5 L181 1750.1 L187 1743.9 L193 1736.9 L199 1729.4 L205 1721.4 L211 1713 L217 1704.6 L223 1696.1 L229 1687.7 L235 1679.7 L241 1672.1 L247 1665.1 L253 1658.8 L259 1653.3 L265 1648.8 L271 1645.2 L277 1642.8 L283 1641.5 L289 1641.3 L295 1642.2 L301 1644.3 L307 1647.5 L313 1651.7 L319 1656.9 L325 1662.9 L331 1669.7 L337 1677.1 L343 1685 L349 1693.3 L355 1701.7 L361 1710.2 L367 1718.6 L373 1726.7 L379 1734.5 L385 1741.6 L391 1748.1 L397 1753.8 L403 1758.6 L409 1762.4 L415 1765.1 L421 1766.7 L427 1767.2 L433 1766.5 L439 1764.7 L445 1761.8 L451 1757.9 L457 1752.9 L463 1747.1 L469 1740.5 L475 1733.2 L481 1725.4 L487 1717.2 L493 1708.8 L499 1700.3 L505 1691.9 L511 1683.7 L517 1675.8 L523 1668.5 L529 1661.8 L535 1655.9 L541 1650.9 L547 1646.9 L553 1643.9 L559 1642 L565 1641.2 L571 1641.6 L577 1643.1 L583 1645.8 L589 1649.5 L595 1654.2 L601 1659.8 L607 1666.2 L613 1673.3 L619 1681 L625 1689.1 L631 1697.5 L637 1706 L643 1714.4 L649 1722.7 L655 1730.7 L661 1738.1 L667 1745 L673 1751.1 L679 1756.3 L679.5 1756.7 M161 1648.8 L167 1654.7 L173 1661.4 L179 1668.9 L185 1677 L191 1685.7 L197 1694.7 L203 1703.8 L209 1713 L215 1722 L221 1730.7 L227 1738.9 L233 1746.4 L239 1753.2 L245 1759.1 L251 1764 L257 1767.8 L263 1770.5 L269 1771.9 L275 1772.1 L281 1771.1 L287 1768.8 L293 1765.4 L299 1760.9 L305 1755.3 L311 1748.8 L317 1741.5 L323 1733.5 L329 1724.9 L335 1716 L341 1706.9 L347 1697.7 L353 1688.6 L359 1679.9 L365 1671.5 L371 1663.8 L377 1656.8 L383 1650.7 L389 1645.5 L395 1641.4 L401 1638.5 L407 1636.7 L413 1636.2 L419 1636.9 L425 1638.9 L431 1642 L437 1646.3 L443 1651.6 L449 1657.9 L455 1665 L461 1672.9 L467 1681.3 L473 1690.1 L479 1699.2 L485 1708.4 L491 1717.5 L497 1726.4 L503 1734.8 L509 1742.7 L515 1749.9 L521 1756.3 L527 1761.7 L533 1766.1 L539 1769.3 L545 1771.4 L551 1772.2 L557 1771.8 L563 1770.1 L569 1767.3 L575 1763.3 L581 1758.2 L587 1752.1 L593 1745.2 L599 1737.5 L605 1729.2 L611 1720.5 L617 1711.5 L623 1702.3 L629 1693.1 L635 1684.2 L641 1675.6 L647 1667.6 L653 1660.2 L659 1653.6 L665 1648 L671 1643.3 L677 1639.8 L679.5 1638.7 M178 1653.7 L184 1659 L190 1665.2 L196 1672 L202 1679.4 L208 1687.3 L214 1695.5 L220 1703.9 L226 1712.2 L232 1720.4 L238 1728.3 L244 1735.8 L250 1742.7 L256 1748.9 L262 1754.3 L268 1758.7 L274 1762.2 L280 1764.6 L286 1765.9 L292 1766.1 L298 1765.2 L304 1763.1 L310 1760 L316 1755.9 L322 1750.8 L328 1744.8 L334 1738.2 L340 1730.9 L346 1723.1 L352 1715 L358 1706.6 L364 1698.3 L370 1690 L376 1682 L382 1674.4 L388 1667.4 L394 1661 L400 1655.4 L406 1650.7 L412 1647 L418 1644.3 L424 1642.7 L430 1642.2 L436 1642.9 L442 1644.6 L448 1647.5 L454 1651.4 L460 1656.3 L466 1662 L472 1668.5 L478 1675.6 L484 1683.3 L490 1691.4 L496 1699.7 L502 1708 L508 1716.3 L514 1724.4 L520 1732.1 L526 1739.3 L532 1745.9 L538 1751.7 L544 1756.6 L550 1760.6 L556 1763.6 L562 1765.4 L568 1766.2 L574 1765.8 L580 1764.3 L586 1761.7 L592 1758.1 L598 1753.4 L604 1747.9 L610 1741.6 L616 1734.6 L622 1727 L628 1719.1 L634 1710.8 L640 1702.5 L646 1694.1 L652 1686 L658 1678.2 L664 1670.8 L670 1664.1 L676 1658.1 L679.5 1655" fill="none" stroke="#111" stroke-width="1"/>
<path d="M160 1620.8 Q150 1617.3 141 1619.3 Q170 1653.3 196 1703.3 M141 1619.3 Q172 1621.3 205 1643.3 M160 1788.3 Q158 1791.3 152 1787.3 Q178 1787.3 205 1765.3 M152 1787.3 Q176 1761.3 200 1733.3" fill="none" stroke="#222" stroke-width="1"/>
<path d="M345 1682.2 L349 1690.1 L353 1698.1 L357 1706.2 L361 1714.3 L365 1722.3 L369 1730.1 L373 1737.7 L377 1745.1 L381 1752.1 L385 1758.7 L389 1764.9 L393 1770.6 L397 1775.8 L401 1780.4 L405 1784.4 L409 1787.7 L413 1790.4 L417 1792.4 L421 1793.6 L425 1794.2 L429 1794 L433 1793.1 L437 1791.5 L441 1789.1 L445 1786.1 L449 1782.5 L453 1778.2 L457 1773.3 L461 1767.8 L465 1761.9 L469 1755.5 L473 1748.6 L477 1741.4 L481 1733.9 L485 1726.2 L489 1718.3 L493 1710.3 L497 1702.2 L501 1694.1 L505 1686.1 L509 1678.3 L513 1670.7 L517 1663.3 L521 1656.3 L525 1649.7 L529 1643.5 L533 1637.8 L537 1632.6 L541 1628 L545 1624 L549 1620.7 L553 1618 L557 1616 L561 1614.8 L565 1614.2" fill="none" stroke="#16167e" stroke-width="19" stroke-linecap="round" opacity="0.88"/>
<g transform="translate(-5 0)"><path d="M345 1726.2 L349 1718.3 L353 1710.3 L357 1702.2 L361 1694.1 L365 1686.1 L369 1678.3 L373 1670.7 L377 1663.3 L381 1656.3 L385 1649.7 L389 1643.5 L393 1637.8 L397 1632.6 L401 1628 L405 1624 L409 1620.7 L413 1618 L417 1616 L421 1614.8 L425 1614.2 L429 1614.4 L433 1615.3 L437 1616.9 L441 1619.3 L445 1622.3 L449 1625.9 L453 1630.2 L457 1635.1 L461 1640.6 L465 1646.5 L469 1652.9 L473 1659.8 L477 1667 L481 1674.5 L485 1682.2 L489 1690.1 L493 1698.1 L497 1706.2 L501 1714.3 L505 1722.3 L509 1730.1 L513 1737.7 L517 1745.1 L521 1752.1 L525 1758.7 L529 1764.9 L533 1770.6 L537 1775.8 L541 1780.4 L545 1784.4 L549 1787.7 L553 1790.4 L557 1792.4 L561 1793.6 L565 1794.2 L569 1794 L573 1793.1 L577 1791.5 L581 1789.1 L585 1786.1 L589 1782.5 L593 1778.2 L597 1773.3" fill="none" stroke="#16167e" stroke-width="12" stroke-linecap="round" opacity="0.88"/></g>
<g transform="translate(6 0)"><path d="M345 1726.2 L349 1718.3 L353 1710.3 L357 1702.2 L361 1694.1 L365 1686.1 L369 1678.3 L373 1670.7 L377 1663.3 L381 1656.3 L385 1649.7 L389 1643.5 L393 1637.8 L397 1632.6 L401 1628 L405 1624 L409 1620.7 L413 1618 L417 1616 L421 1614.8 L425 1614.2 L429 1614.4 L433 1615.3 L437 1616.9 L441 1619.3 L445 1622.3 L449 1625.9 L453 1630.2 L457 1635.1 L461 1640.6 L465 1646.5 L469 1652.9 L473 1659.8 L477 1667 L481 1674.5 L485 1682.2 L489 1690.1 L493 1698.1 L497 1706.2 L501 1714.3 L505 1722.3 L509 1730.1 L513 1737.7 L517 1745.1 L521 1752.1 L525 1758.7 L529 1764.9 L533 1770.6 L537 1775.8 L541 1780.4 L545 1784.4 L549 1787.7 L553 1790.4 L557 1792.4 L561 1793.6 L565 1794.2 L569 1794 L573 1793.1 L577 1791.5 L581 1789.1 L585 1786.1 L589 1782.5 L593 1778.2 L597 1773.3" fill="none" stroke="#7c1010" stroke-width="12" stroke-linecap="round" opacity="0.88"/></g>
<path d="M477 1735h0M453 1771h0M365 1722h0M469 1772h0M359 1709h0M535 1643h0M527 1648h0M467 1773h0M410 1791h0M378 1752h0M558 1610h0M558 1611h0M433 1786h0M397 1771h0M475 1757h0M452 1793h0M518 1666h0M532 1624h0M477 1736h0M517 1663h0M375 1728h0M357 1699h0M458 1762h0M395 1766h0M503 1677h0M461 1749h0M506 1691h0M524 1650h0M439 1790h0M539 1628h0M356 1710h0M455 1780h0M372 1740h0M469 1761h0M425 1796h0M389 1764h0M385 1757h0M543 1627h0M378 1746h0M352 1682h0M513 1684h0M556 1617h0M410 1789h0M426 1789h0M448 1790h0M410 1781h0M533 1634h0M328 1671h0M434 1796h0M346 1665h0M455 1775h0M371 1707h0M504 1692h0M380 1750h0M514 1661h0M527 1655h0M371 1737h0M478 1761h0M486 1732h0M471 1737h0M407 1785h0M507 1683h0M380 1773h0M478 1733h0M386 1756h0M417 1798h0M360 1688h0M395 1774h0M344 1717h0M496 1689h0M428 1785h0M369 1716h0M545 1614h0M482 1734h0M545 1626h0M457 1772h0M443 1777h0M497 1713h0M412 1792h0M451 1779h0M367 1750h0M414 1781h0M344 1666h0M337 1665h0M358 1702h0M345 1686h0M479 1735h0M399 1767h0M407 1786h0M356 1686h0M472 1746h0M430 1783h0M460 1750h0M530 1655h0M468 1767h0M471 1747h0M509 1677h0M343 1679h0M376 1767h0M497 1695h0M407 1789h0M350 1688h0M533 1645h0M476 1753h0M522 1646h0M426 1800h0M437 1796h0M509 1647h0M514 1664h0M557 1618h0M460 1770h0M427 1786h0M538 1624h0M476 1733h0M400 1772h0M342 1690h0M381 1779h0M405 1790h0M521 1651h0M455 1788h0M402 1791h0M421 1798h0M371 1746h0M545 1636h0M481 1736h0M381 1758h0M401 1787h0M521 1649h0M513 1698h0M563 1626h0M414 1792h0M350 1720h0M430 1800h0M526 1625h0M463 1767h0M451 1781h0M354 1696h0M440 1787h0M401 1770h0M420 1791h0M409 1789h0M434 1792h0M498 1684h0M483 1752h0M455 1774h0M365 1733h0M515 1655h0M354 1691h0M371 1734h0M472 1757h0M539 1639h0M360 1714h0M409 1798h0M335 1674h0M566 1623h0M397 1774h0M521 1644h0M442 1795h0M493 1738h0M434 1780h0M396 1771h0M529 1664h0M535 1653h0M478 1751h0M388 1768h0M452 1781h0M518 1642h0M454 1788h0M555 1614h0M479 1745h0M370 1746h0M529 1632h0M357 1695h0M404 1797h0M518 1655h0M559 1617h0M508 1678h0M484 1714h0M452 1782h0M479 1724h0M369 1734h0M383 1756h0M500 1699h0M355 1693h0M394 1764h0M357 1713h0M347 1658h0M484 1750h0M486 1727h0M496 1714h0M381 1742h0M338 1673h0M454 1770h0M428 1788h0M402 1780h0M339 1669h0M386 1762h0M365 1723h0M544 1640h0M473 1756h0M428 1794h0M459 1783h0M367 1776h0M487 1684h0M380 1670h0M576 1799h0M402 1635h0M502 1743h0M352 1720h0M412 1617h0M599 1779h0M564 1788h0M514 1732h0M512 1736h0M542 1802h0M484 1691h0M407 1637h0M477 1664h0M505 1717h0M518 1745h0M411 1643h0M580 1798h0M538 1766h0M377 1682h0M393 1638h0M433 1606h0M450 1632h0M510 1748h0M510 1726h0M415 1616h0M501 1695h0M329 1732h0M351 1707h0M381 1655h0M596 1775h0M465 1644h0M353 1718h0M408 1626h0M477 1644h0M583 1784h0M522 1752h0M372 1701h0M387 1624h0M517 1737h0M493 1695h0M343 1729h0M512 1724h0M516 1737h0M379 1664h0M550 1786h0M355 1719h0M367 1702h0M538 1756h0M465 1647h0M423 1626h0M413 1624h0M602 1773h0M503 1715h0M353 1709h0M362 1697h0M542 1781h0M367 1691h0M559 1795h0M382 1655h0M361 1676h0M600 1777h0M454 1648h0M462 1638h0M367 1690h0M606 1770h0M565 1792h0M427 1618h0M565 1783h0M434 1622h0M401 1638h0M536 1764h0M554 1791h0M558 1804h0M486 1669h0M574 1805h0M354 1723h0M426 1607h0M399 1624h0M425 1627h0M356 1709h0M421 1622h0M499 1695h0M513 1740h0M436 1603h0M454 1624h0M594 1757h0M387 1638h0M455 1645h0M406 1637h0M397 1648h0M529 1765h0M594 1800h0M363 1702h0M550 1787h0M425 1615h0M503 1714h0M362 1702h0M459 1652h0M497 1699h0M454 1621h0M579 1783h0M564 1793h0M488 1675h0M394 1657h0M352 1737h0M442 1612h0M547 1785h0M481 1672h0M384 1665h0M342 1735h0M377 1669h0M453 1628h0M533 1778h0M494 1704h0M368 1679h0M528 1758h0M453 1628h0M508 1769h0M387 1654h0M356 1717h0M579 1786h0M439 1616h0M340 1745h0M450 1620h0M599 1786h0M438 1613h0M580 1794h0M421 1615h0M469 1647h0M596 1799h0M502 1693h0M593 1794h0M413 1626h0M568 1783h0M351 1688h0M511 1734h0M456 1621h0M455 1647h0M510 1751h0M591 1761h0M509 1723h0M403 1627h0M578 1800h0M427 1619h0M555 1789h0M379 1646h0M546 1786h0M587 1805h0M597 1775h0M565 1784h0M372 1698h0M541 1769h0M487 1679h0M487 1702h0M385 1678h0M348 1734h0M598 1789h0M361 1716h0M471 1657h0M596 1775h0M340 1739h0M411 1627h0M370 1689h0M410 1625h0M596 1762h0M537 1763h0M430 1619h0M375 1661h0M493 1689h0M447 1622h0M449 1625h0M538 1778h0M372 1703h0M443 1613h0M470 1624h0M383 1652h0M468 1662h0M579 1788h0M340 1718h0M563 1791h0M426 1624h0M466 1662h0M524 1737h0M580 1795h0M392 1633h0M425 1613h0M354 1689h0M515 1742h0M555 1786h0M448 1652h0M345 1721h0M419 1602h0M493 1695h0M436 1609h0M414 1627h0M531 1761h0M438 1617h0M468 1644h0M488 1701h0M514 1739h0M480 1668h0M408 1633h0M432 1612h0M527 1774h0M400 1633h0M515 1719h0M412 1626h0M596 1779h0M504 1748h0M426 1611h0M549 1787h0M460 1625h0M421 1620h0M441 1636h0M495 1702h0M436 1618h0M509 1715h0M336 1733h0M580 1791h0M424 1624h0M361 1677h0M402 1632h0M438 1613h0M492 1673h0M411 1631h0M392 1639h0M366 1699h0M468 1659h0M542 1746h0M474 1658h0M432 1611h0M505 1711h0M438 1628h0M517 1736h0M337 1728h0M471 1636h0M375 1652h0M517 1725h0M476 1682h0M468 1645h0M520 1745h0M499 1715h0M461 1625h0M503 1737h0M532 1767h0M345 1740h0M525 1748h0M567 1799h0M356 1739h0M361 1715h0M382 1664h0M551 1785h0M518 1779h0M367 1701h0M567 1790h0M534 1749h0M410 1619h0M534 1747h0M398 1637h0M434 1603h0M429 1613h0M486 1660h0M390 1646h0M430 1616h0M509 1723h0M438 1612h0M407 1629h0M511 1715h0M547 1781h0M459 1624h0M437 1622h0M482 1671h0M388 1643h0M548 1775h0M548 1782h0M346 1708h0M491 1674h0M369 1695h0M393 1618h0M408 1631h0M418 1621h0M434 1619h0M386 1628h0M425 1623h0M609 1769h0M445 1612h0M362 1711h0M455 1628h0M560 1789h0M575 1793h0M520 1734h0M601 1774h0M512 1715h0M527 1761h0M516 1733h0M426 1617h0M518 1741h0M442 1629h0M481 1662h0M438 1642h0M411 1621h0M570 1795h0M453 1631h0M480 1660h0M590 1787h0M449 1622h0M529 1759h0M587 1791h0M344 1737h0M368 1678h0M395 1635h0M362 1699h0M403 1627h0M523 1782h0M367 1695h0M530 1748h0M474 1649h0M454 1628h0M415 1629h0M360 1701h0M472 1655h0M572 1786h0M359 1705h0M504 1712h0M460 1638h0M510 1731h0M455 1620h0M590 1758h0M593 1790h0M555 1776h0M385 1659h0M426 1622h0M416 1616h0M343 1741h0M589 1774h0M405 1628h0M369 1680h0M553 1789h0M512 1716h0M585 1791h0M588 1785h0M545 1773h0M356 1683h0M374 1680h0M453 1634h0M588 1768h0M474 1646h0M423 1621h0M605 1766h0M366 1699h0M563 1784h0M485 1698h0M501 1716h0M486 1671h0M368 1694h0M552 1786h0M438 1614h0M544 1776h0M569 1771h0M466 1632h0M507 1723h0M571 1793h0M401 1632h0M594 1782h0M490 1652h0M386 1664h0M451 1606h0M423 1609h0M378 1686h0M557 1793h0M522 1747h0M488 1687h0M574 1793h0M378 1686h0M542 1780h0M572 1796h0M355 1707h0M355 1700h0M402 1631h0M488 1663h0M365 1676h0M531 1774h0M587 1794h0M567 1791h0M409 1630h0M382 1666h0M575 1793h0M521 1733h0M475 1660h0M572 1772h0M584 1790h0M566 1774h0M465 1638h0M391 1647h0M589 1765h0M593 1786h0M501 1697h0M448 1639h0M348 1717h0M428 1617h0M555 1773h0M482 1671h0M515 1740h0M346 1729h0M505 1718h0M392 1654h0M560 1781h0M518 1730h0M602 1777h0M480 1668h0M430 1608h0M584 1757h0M573 1803h0M393 1642h0M474 1644h0M541 1783h0M410 1630h0M544 1776h0M520 1738h0M488 1666h0M390 1660h0M366 1683h0M416 1632h0M546 1768h0M355 1747h0M348 1737h0M423 1631h0M393 1640h0M433 1619h0M553 1781h0M353 1733h0M472 1651h0M346 1724h0M474 1669h0M374 1681h0M553 1769h0M426 1630h0M373 1686h0M506 1701h0M601 1785h0M422 1623h0M440 1616h0M363 1707h0M600 1786h0M493 1711h0M411 1624h0M583 1787h0M604 1767h0M399 1646h0M480 1701h0M375 1696h0M471 1648h0M551 1789h0M570 1789h0M596 1765h0M337 1735h0M444 1629h0M500 1700h0M607 1779h0M399 1645h0M487 1654h0M517 1732h0M468 1651h0M457 1620h0M456 1624h0M452 1625h0M597 1775h0M498 1699h0M408 1613h0M576 1794h0M599 1768h0M357 1711h0M588 1777h0M508 1725h0M484 1684h0M410 1621h0M381 1660h0M425 1618h0M545 1774h0M479 1664h0M463 1635h0M354 1709h0M395 1642h0M396 1621h0M509 1735h0M405 1626h0M559 1786h0M426 1635h0M562 1800h0M519 1729h0M373 1697h0M410 1618h0M360 1700h0M429 1614h0M448 1633h0M506 1720h0M467 1662h0M394 1662h0M481 1656h0M576 1793h0M347 1724h0M516 1753h0M518 1751h0M519 1733h0M374 1676h0M493 1674h0M568 1805h0M551 1781h0M422 1618h0M422 1622h0M380 1667h0M427 1607h0M473 1660h0M535 1745h0M567 1795h0M551 1788h0M597 1778h0M558 1782h0M446 1621h0M362 1699h0M517 1742h0M555 1785h0M324 1732h0M384 1667h0M547 1783h0M471 1645h0M493 1681h0M527 1762h0M601 1765h0M421 1614h0M584 1797h0M491 1680h0M591 1778h0M601 1785h0M399 1639h0M524 1739h0M536 1768h0M534 1758h0M347 1725h0M604 1773h0M370 1688h0M426 1620h0M416 1638h0M326 1729h0M397 1629h0M576 1780h0M524 1753h0M606 1766h0M495 1660h0M562 1792h0M396 1657h0M495 1700h0M527 1762h0M370 1648h0M542 1773h0M454 1625h0M489 1701h0M522 1753h0M422 1623h0M545 1793h0M518 1740h0M465 1640h0M505 1721h0M393 1645h0M604 1773h0M585 1786h0M333 1727h0M565 1792h0M411 1629h0M464 1657h0M411 1607h0M551 1778h0M534 1770h0M560 1789h0M473 1672h0M579 1793h0M547 1788h0M473 1662h0M425 1629h0M531 1795h0M544 1770h0M420 1602h0M438 1642h0M539 1767h0M353 1703h0M419 1617h0M381 1655h0M420 1624h0M497 1695h0M369 1678h0M393 1634h0M471 1649h0M402 1622h0M407 1627h0M343 1737h0M534 1771h0M577 1791h0M396 1645h0M482 1647h0M356 1706h0M515 1744h0M545 1794h0M536 1778h0M407 1635h0M370 1705h0M496 1700h0M488 1686h0M357 1703h0M482 1665h0M550 1773h0M405 1638h0M532 1754h0M612 1775h0M515 1741h0M583 1779h0M420 1622h0M386 1659h0M430 1605h0M371 1675h0M467 1651h0M451 1608h0M518 1722h0M481 1669h0M436 1615h0M415 1624h0M574 1789h0M395 1605h0M393 1641h0M544 1793h0M579 1802h0M408 1628h0M464 1639h0M413 1631h0M378 1659h0M462 1641h0M533 1760h0M605 1773h0M406 1627h0M576 1799h0M387 1651h0M608 1775h0M586 1789h0M361 1727h0M517 1770h0M477 1660h0M456 1632h0M559 1792h0M346 1717h0M558 1763h0M371 1684h0M332 1737h0M370 1689h0M572 1783h0M502 1707h0M545 1779h0M511 1733h0M481 1698h0M492 1695h0M463 1642h0M560 1782h0M405 1627h0M428 1627h0M348 1736h0M461 1625h0M484 1701h0M388 1645h0M487 1650h0M361 1700h0M531 1752h0M560 1792h0M523 1722h0M592 1780h0M572 1801h0M425 1620h0M580 1793h0M473 1647h0M508 1738h0M412 1626h0M417 1615h0M458 1653h0M532 1752h0M469 1644h0M529 1750h0M420 1621h0M533 1756h0M439 1616h0M519 1728h0M562 1786h0M434 1610h0M570 1786h0M432 1611h0M399 1618h0M608 1784h0M469 1663h0M353 1720h0M422 1612h0M549 1779h0M503 1725h0M486 1684h0M558 1789h0M506 1720h0M549 1780h0M372 1723h0M362 1708h0M565 1792h0M411 1623h0M386 1647h0M489 1674h0M472 1673h0M524 1737h0M532 1761h0M359 1683h0M388 1653h0M584 1799h0M402 1629h0M487 1695h0M555 1787h0M518 1732h0M495 1732h0M478 1657h0M398 1644h0M454 1621h0M486 1680h0M392 1644h0M402 1636h0M353 1734h0M371 1688h0M466 1659h0M571 1787h0M563 1786h0M395 1648h0M529 1773h0M348 1738h0M526 1725h0M489 1657h0M582 1769h0M395 1638h0M584 1774h0M530 1742h0M448 1610h0M524 1727h0M393 1633h0M540 1775h0M479 1653h0M522 1750h0M431 1609h0M560 1777h0M425 1616h0M343 1742h0M592 1777h0M471 1664h0M511 1730h0M487 1675h0M586 1800h0M388 1653h0M361 1717h0M482 1666h0M382 1659h0M389 1643h0M535 1784h0M378 1684h0M379 1656h0M551 1772h0M564 1788h0M369 1669h0M531 1760h0M531 1780h0M473 1658h0M399 1647h0M415 1631h0M346 1745h0M478 1660h0M519 1740h0M369 1714h0M575 1804h0M533 1770h0M448 1613h0M405 1624h0M563 1790h0M499 1686h0M321 1733h0M455 1644h0M404 1626h0M409 1630h0M518 1747h0M364 1689h0M410 1634h0M529 1759h0M482 1687h0M399 1629h0M456 1634h0M577 1801h0M422 1624h0M573 1796h0M394 1658h0M564 1793h0M484 1670h0M574 1791h0M371 1688h0M601 1766h0M468 1656h0M395 1618h0M370 1681h0M362 1698h0M572 1796h0M548 1794h0M559 1784h0M539 1776h0M519 1741h0M360 1718h0M502 1696h0M543 1773h0M391 1638h0M468 1668h0M479 1653h0M499 1690h0M573 1796h0M547 1784h0M473 1646h0M552 1788h0M553 1770h0M383 1654h0M367 1673h0M525 1746h0M409 1608h0M469 1685h0M401 1604h0M485 1705h0M372 1645h0M343 1724h0M550 1783h0M390 1680h0M355 1728h0M535 1785h0M412 1623h0M389 1671h0M397 1651h0M340 1742h0M588 1792h0M473 1662h0M490 1673h0M538 1772h0M516 1737h0M495 1693h0M394 1653h0M509 1743h0M333 1735h0M452 1620h0M569 1802h0M586 1782h0M397 1639h0M452 1624h0M334 1744h0M552 1791h0M412 1608h0M608 1766h0M541 1787h0M492 1667h0M483 1714h0M458 1625h0M438 1616h0M335 1735h0M376 1651h0M573 1803h0M598 1788h0M542 1785h0M450 1622h0M411 1620h0M531 1758h0M419 1617h0M390 1646h0M525 1752h0M351 1712h0M354 1715h0M348 1743h0M499 1692h0M425 1621h0M553 1790h0M480 1643h0M396 1635h0M363 1690h0M569 1785h0M366 1633h0M409 1625h0M425 1616h0M559 1778h0M464 1647h0M597 1781h0M507 1697h0M596 1787h0M563 1785h0M548 1764h0M403 1642h0M374 1682h0M458 1625h0M415 1616h0M524 1747h0M425 1626h0M540 1778h0M379 1674h0M438 1613h0M477 1666h0M441 1620h0M475 1665h0M576 1802h0M543 1773h0M490 1687h0M427 1605h0M437 1608h0M407 1621h0M473 1653h0M494 1697h0M426 1615h0M539 1774h0M467 1646h0M581 1778h0M499 1737h0M560 1785h0M434 1619h0M523 1752h0M584 1784h0M597 1768h0M399 1637h0M357 1709h0M372 1675h0M462 1611h0M364 1667h0M576 1788h0M512 1710h0M532 1772h0M506 1714h0M599 1778h0M242 1739h0M320 1754h0M331 1756h0M319 1633h0M269 1618h0M355 1709h0M295 1604h0M317 1628h0M340 1686h0M301 1786h0M310 1634h0M337 1657h0M302 1622h0M267 1780h0M257 1635h0M294 1637h0M230 1720h0M219 1675h0M245 1640h0M224 1670h0M231 1681h0M332 1733h0M238 1634h0M231 1695h0M345 1727h0M280 1795h0M275 1788h0M265 1789h0M242 1745h0M341 1667h0M310 1754h0M253 1632h0M224 1676h0M210 1687h0M234 1685h0M268 1791h0M221 1728h0M254 1772h0M238 1678h0M336 1681h0M247 1632h0M322 1742h0M354 1717h0M259 1765h0M345 1704h0M344 1713h0M245 1755h0M257 1788h0M284 1800h0M351 1691h0M263 1626h0M234 1717h0M311 1788h0M302 1608h0M241 1657h0M276 1618h0M338 1748h0M361 1701h0M266 1780h0M253 1781h0M281 1792h0M353 1707h0M288 1799h0M241 1749h0M292 1796h0M236 1737h0M262 1783h0M294 1804h0M272 1789h0M345 1698h0M206 1719h0M245 1763h0M275 1783h0M235 1657h0M265 1776h0M218 1703h0M343 1685h0M260 1770h0M314 1777h0M324 1656h0M330 1752h0M285 1621h0M248 1643h0M316 1798h0M217 1709h0M267 1789h0M263 1769h0M209 1694h0M337 1663h0M266 1625h0M260 1771h0M342 1722h0M220 1717h0M348 1716h0M217 1719h0M301 1783h0M335 1662h0M207 1690h0M222 1703h0M322 1641h0M292 1626h0M312 1616h0M282 1783h0M210 1716h0M308 1634h0M354 1684h0M342 1684h0M321 1769h0M306 1775h0M309 1767h0M345 1723h0M352 1715h0M251 1623h0M233 1694h0M248 1763h0M267 1773h0M318 1638h0M279 1795h0M314 1764h0M270 1795h0M209 1687h0M293 1791h0M294 1626h0M291 1612h0M300 1628h0M338 1708h0M235 1665h0M260 1638h0M348 1691h0M285 1617h0M324 1641h0M311 1626h0M199 1688h0M285 1621h0M343 1730h0M335 1664h0M299 1618h0M328 1753h0M243 1641h0M241 1760h0M237 1655h0M293 1624h0M281 1778h0M315 1661h0M335 1742h0M291 1606h0M360 1705h0M300 1788h0M267 1620h0M325 1772h0M243 1639h0M230 1713h0M194 1732h0M245 1765h0M321 1768h0M330 1752h0M267 1634h0M254 1648h0M305 1623h0M205 1722h0M204 1710h0M267 1766h0M235 1636h0M204 1727h0M317 1768h0M240 1654h0M259 1624h0M287 1605h0M288 1620h0M253 1637h0M266 1653h0M246 1763h0M310 1785h0M215 1704h0M224 1706h0M283 1797h0M294 1783h0M299 1633h0M309 1617h0M296 1622h0M273 1612h0M311 1783h0M282 1780h0M268 1781h0M346 1735h0M276 1628h0M342 1740h0M274 1639h0M249 1646h0M227 1756h0M267 1788h0M316 1632h0M311 1628h0M255 1631h0M336 1746h0M277 1792h0M306 1621h0M273 1780h0M272 1787h0M224 1706h0M340 1747h0M309 1625h0M239 1761h0M236 1736h0M256 1771h0M249 1664h0M263 1640h0M272 1631h0M229 1699h0M312 1773h0M345 1675h0M262 1769h0M227 1689h0M314 1762h0M336 1664h0M283 1632h0M316 1628h0M263 1648h0M359 1710h0M209 1692h0M212 1706h0M265 1783h0M306 1640h0M216 1715h0M306 1620h0M222 1734h0M293 1613h0M325 1767h0M259 1612h0M282 1618h0M351 1675h0M348 1700h0M323 1774h0M216 1703h0M224 1722h0M295 1796h0M295 1626h0M239 1729h0M324 1663h0M238 1652h0M289 1795h0M358 1712h0M257 1771h0M286 1605h0M238 1659h0M210 1683h0M211 1730h0M230 1678h0M236 1679h0M342 1675h0M263 1781h0M211 1714h0M304 1625h0M241 1685h0M312 1768h0M336 1760h0M260 1621h0M290 1790h0M307 1621h0M246 1750h0M228 1733h0M210 1730h0M333 1742h0M275 1773h0M348 1712h0M335 1737h0M233 1759h0M235 1672h0M251 1771h0M258 1638h0M218 1710h0M249 1731h0M322 1747h0M333 1741h0M249 1753h0M205 1695h0M303 1638h0M342 1728h0M330 1654h0M364 1694h0M238 1644h0M330 1656h0M294 1623h0M306 1627h0M301 1785h0M232 1681h0M332 1659h0M256 1626h0M216 1677h0M247 1747h0M251 1638h0M333 1755h0M264 1635h0M350 1706h0M272 1616h0M321 1644h0M318 1755h0M275 1792h0M230 1676h0M251 1654h0M248 1755h0M284 1607h0M229 1715h0M317 1789h0M288 1604h0M327 1651h0M233 1716h0M238 1748h0M299 1771h0M240 1774h0M273 1786h0M256 1636h0M301 1787h0M210 1705h0M323 1759h0M264 1630h0M217 1705h0M274 1636h0M240 1632h0M352 1691h0M249 1661h0M248 1651h0M304 1616h0M217 1713h0M276 1792h0M215 1691h0M241 1659h0M351 1719h0M338 1734h0M254 1625h0M258 1651h0M320 1773h0M343 1740h0M221 1666h0M231 1686h0M295 1616h0M308 1617h0M305 1780h0M331 1641h0M246 1771h0M350 1696h0M366 1693h0M275 1780h0M217 1699h0M209 1699h0M359 1707h0M234 1677h0M289 1797h0M304 1608h0M222 1707h0M344 1672h0M285 1798h0M229 1741h0M312 1782h0M227 1696h0M310 1771h0M331 1746h0M239 1746h0M227 1694h0M207 1712h0M216 1707h0M238 1746h0M293 1778h0M249 1675h0M339 1664h0M245 1743h0M261 1775h0M369 1683h0M321 1774h0M354 1705h0M347 1711h0M262 1640h0M258 1645h0M337 1647h0M208 1701h0M265 1787h0M250 1641h0M341 1739h0M290 1794h0M268 1622h0M252 1778h0M213 1691h0M292 1622h0M208 1690h0M263 1766h0M352 1698h0M317 1633h0M318 1776h0M221 1732h0M299 1783h0M301 1785h0M252 1750h0M252 1728h0M225 1702h0M258 1755h0M246 1762h0M337 1724h0M334 1678h0M343 1722h0M216 1701h0M214 1699h0M314 1635h0M360 1709h0M296 1634h0M357 1695h0M339 1721h0M209 1723h0M311 1759h0M333 1672h0M363 1696h0M291 1769h0M280 1617h0M223 1714h0M287 1616h0M255 1778h0M259 1623h0M255 1617h0M299 1774h0M316 1772h0M345 1666h0M362 1721h0M239 1742h0M259 1648h0M339 1744h0M219 1687h0M299 1619h0M251 1643h0M234 1732h0M251 1657h0M268 1777h0M255 1636h0M317 1651h0M221 1681h0M335 1669h0M339 1742h0M318 1642h0M344 1714h0M354 1704h0M328 1659h0M282 1632h0M350 1709h0M356 1699h0M285 1626h0M233 1738h0M360 1697h0M323 1773h0M230 1724h0M261 1652h0M346 1690h0M317 1640h0M341 1740h0M303 1780h0M296 1605h0M337 1742h0M244 1738h0M212 1685h0M301 1624h0M352 1728h0M282 1786h0M349 1714h0M270 1621h0M310 1770h0M227 1666h0M313 1644h0M247 1647h0M233 1742h0M310 1643h0M353 1685h0M288 1625h0M228 1689h0M303 1633h0M347 1686h0M252 1640h0M227 1634h0M216 1713h0M331 1642h0M216 1698h0M293 1620h0M203 1678h0M231 1663h0M345 1686h0M219 1712h0M352 1691h0M321 1766h0M272 1781h0M281 1779h0M266 1777h0M262 1761h0M258 1636h0M280 1783h0M299 1619h0M353 1705h0M227 1676h0M301 1801h0M289 1779h0M235 1760h0M348 1686h0M202 1686h0M270 1786h0M252 1640h0M339 1744h0M272 1623h0M213 1734h0M347 1693h0M296 1794h0M307 1764h0M223 1670h0M316 1631h0M258 1775h0M319 1635h0M213 1708h0M256 1627h0M287 1769h0M243 1662h0M304 1641h0M337 1738h0M231 1688h0M326 1664h0M229 1660h0M284 1615h0M351 1696h0M213 1708h0M316 1775h0M343 1747h0M283 1781h0M259 1630h0M304 1627h0M340 1739h0M218 1726h0M241 1759h0M252 1637h0M241 1669h0M216 1707h0M247 1745h0M262 1766h0M340 1711h0M282 1779h0M227 1691h0M236 1677h0M312 1630h0M293 1787h0M257 1756h0M223 1709h0M276 1787h0M296 1635h0M314 1766h0M296 1607h0M276 1790h0M223 1715h0M305 1633h0M357 1703h0M253 1777h0M264 1776h0M237 1746h0M228 1687h0M269 1629h0M244 1782h0M234 1690h0M359 1689h0M343 1743h0M337 1742h0M258 1780h0M258 1784h0M300 1768h0M226 1728h0M301 1618h0M252 1653h0M252 1639h0M273 1616h0M277 1803h0M267 1768h0M342 1697h0M234 1726h0M291 1794h0M214 1704h0M296 1798h0M208 1696h0M216 1725h0M343 1678h0M227 1723h0M287 1606h0M198 1725h0M227 1702h0M344 1674h0M287 1626h0M268 1626h0M233 1736h0M298 1800h0M286 1616h0M371 1695h0M250 1775h0M358 1695h0M208 1692h0M242 1642h0M357 1698h0M231 1741h0M228 1687h0M319 1781h0M335 1721h0M221 1687h0M342 1733h0M344 1677h0M346 1667h0M244 1754h0M268 1788h0M338 1737h0M340 1750h0M268 1776h0M261 1640h0M249 1784h0M348 1686h0M325 1645h0M289 1796h0M215 1707h0M284 1626h0M226 1740h0M261 1628h0M207 1713h0M312 1632h0M335 1755h0M313 1649h0M240 1742h0M265 1776h0M311 1780h0M349 1711h0M197 1716h0M226 1651h0M224 1688h0M275 1785h0M266 1790h0M286 1625h0M213 1702h0M288 1788h0M336 1739h0M309 1626h0M280 1616h0M220 1712h0M329 1664h0M302 1633h0M299 1620h0M242 1654h0M264 1619h0M270 1618h0M324 1766h0M242 1770h0M309 1787h0M250 1658h0M332 1652h0M302 1776h0M329 1751h0M235 1727h0M234 1731h0M307 1634h0M223 1730h0M338 1749h0M316 1790h0M243 1652h0M342 1678h0M273 1788h0M345 1725h0M332 1667h0M325 1665h0M340 1659h0M225 1716h0M231 1691h0M362 1701h0M227 1719h0M352 1724h0M263 1625h0M280 1769h0M300 1771h0M328 1773h0M298 1626h0M332 1673h0M280 1781h0M226 1693h0M329 1720h0M230 1692h0M335 1667h0M352 1726h0M245 1660h0M255 1762h0M213 1689h0M350 1712h0M318 1641h0M228 1696h0M302 1789h0M371 1690h0M247 1761h0M324 1638h0M327 1668h0M323 1760h0M230 1694h0M301 1786h0M217 1707h0M327 1724h0M317 1780h0M344 1693h0M323 1643h0M273 1622h0M303 1646h0M324 1737h0M306 1779h0M306 1654h0M236 1745h0M250 1772h0M211 1693h0M287 1612h0M353 1694h0M261 1769h0M233 1670h0M296 1789h0M248 1776h0M250 1639h0M241 1658h0M215 1690h0M207 1697h0M323 1764h0M263 1786h0M235 1679h0M203 1706h0M349 1707h0M308 1629h0M265 1781h0M316 1643h0M307 1633h0M303 1784h0M281 1622h0M303 1627h0M355 1697h0M208 1706h0M280 1606h0M267 1611h0M234 1680h0M231 1676h0M331 1761h0M339 1731h0M232 1737h0M345 1728h0M225 1711h0M266 1631h0M260 1785h0M222 1725h0M353 1682h0M275 1621h0M282 1787h0M308 1783h0M279 1785h0M249 1769h0M360 1713h0M229 1718h0M208 1716h0M304 1633h0M281 1606h0M320 1763h0M318 1765h0M245 1667h0M318 1777h0M291 1615h0M303 1784h0M292 1623h0M261 1762h0M289 1630h0M280 1618h0M356 1721h0M302 1617h0M256 1628h0M302 1792h0M266 1785h0M348 1727h0M322 1755h0M210 1706h0M294 1625h0M275 1792h0M223 1723h0M292 1627h0M346 1695h0M241 1667h0M276 1629h0M244 1656h0M316 1657h0M208 1689h0M199 1714h0M237 1680h0M355 1687h0M228 1698h0M305 1781h0M254 1643h0M281 1788h0M311 1613h0M315 1781h0M338 1735h0M241 1742h0M279 1609h0M314 1643h0M313 1775h0M269 1634h0M287 1608h0M270 1617h0M325 1638h0M265 1620h0M251 1664h0M287 1629h0M310 1644h0M261 1788h0M234 1737h0M294 1785h0M273 1792h0M342 1748h0M290 1610h0M254 1620h0M298 1622h0M327 1641h0M304 1622h0M344 1699h0M211 1712h0M331 1656h0M325 1760h0M332 1751h0M234 1667h0M234 1734h0M208 1690h0M318 1633h0M247 1638h0M299 1787h0M222 1734h0M357 1689h0M213 1683h0M347 1721h0M305 1782h0M211 1727h0M315 1618h0M223 1702h0M250 1645h0M243 1635h0M320 1666h0M222 1725h0M224 1672h0M279 1794h0M335 1665h0M282 1783h0M286 1617h0M345 1719h0M259 1635h0M335 1750h0M213 1709h0M273 1604h0M335 1743h0M235 1770h0M341 1747h0M278 1616h0M299 1793h0M344 1694h0M329 1684h0M236 1737h0M222 1681h0M330 1636h0M336 1752h0M275 1777h0M240 1723h0M322 1776h0M288 1790h0M253 1645h0M296 1794h0M331 1728h0M307 1627h0M217 1694h0M232 1644h0M219 1716h0M340 1737h0M285 1610h0M260 1772h0M227 1669h0M273 1613h0M275 1789h0M242 1747h0M283 1779h0M310 1627h0M252 1772h0M332 1744h0M346 1720h0M207 1695h0M317 1634h0M356 1688h0M324 1775h0M358 1706h0M336 1735h0M210 1712h0M265 1629h0M333 1748h0M272 1793h0M350 1725h0M292 1614h0M214 1710h0M324 1749h0M257 1628h0M232 1728h0M248 1636h0M339 1712h0M228 1702h0M259 1769h0M205 1690h0M261 1631h0M258 1758h0M254 1629h0M204 1727h0M244 1763h0M275 1794h0M275 1779h0M280 1784h0M349 1715h0M272 1614h0M278 1801h0M239 1663h0M336 1646h0M197 1723h0M279 1622h0M278 1775h0M212 1707h0M286 1632h0M335 1688h0M310 1778h0M238 1759h0M303 1617h0M258 1763h0M261 1637h0M309 1769h0M300 1802h0M300 1781h0M230 1749h0M207 1694h0M336 1654h0M273 1630h0M201 1707h0M309 1626h0M344 1732h0M287 1611h0M291 1796h0M295 1626h0M225 1732h0M276 1620h0M269 1771h0M295 1618h0M231 1724h0M295 1615h0M354 1692h0M244 1759h0M288 1618h0M219 1723h0M256 1661h0M313 1638h0M229 1680h0M255 1747h0M339 1735h0M244 1753h0M232 1720h0M265 1627h0M235 1659h0M298 1779h0M272 1789h0M284 1627h0M290 1792h0M325 1762h0M196 1724h0M225 1677h0M250 1648h0M218 1715h0M325 1631h0M330 1751h0M264 1639h0M302 1782h0M252 1747h0M297 1621h0M345 1730h0M313 1635h0M311 1632h0M291 1779h0M343 1677h0M292 1620h0M347 1720h0M346 1688h0M280 1793h0M351 1703h0M252 1661h0M274 1770h0M232 1683h0M343 1688h0M296 1608h0M349 1728h0M263 1632h0M240 1758h0M216 1702h0M271 1787h0M204 1713h0M310 1636h0M289 1613h0M242 1682h0M275 1778h0M186 1719h0M147 1710h0M138 1655h0M142 1638h0M119 1682h0M203 1705h0M150 1687h0M186 1661h0M145 1714h0M145 1665h0M202 1722h0M146 1656h0M167 1639h0M157 1666h0M190 1664h0M174 1667h0M119 1654h0M148 1710h0M186 1665h0M141 1703h0M127 1683h0M209 1700h0M185 1704h0M137 1656h0M153 1637h0M184 1689h0M163 1697h0M133 1652h0M146 1656h0M146 1727h0M132 1705h0M157 1671h0M140 1678h0M182 1637h0M181 1740h0M212 1694h0M157 1718h0M208 1684h0M135 1690h0M156 1658h0M166 1687h0M175 1720h0M154 1636h0M198 1653h0M126 1707h0M110 1692h0M140 1671h0M164 1650h0M175 1636h0M147 1685h0M198 1701h0M192 1691h0M172 1739h0M177 1671h0M149 1661h0M130 1654h0M164 1706h0M121 1725h0M130 1691h0M158 1679h0M210 1679h0M149 1659h0M196 1645h0M198 1679h0M122 1673h0M178 1732h0M125 1689h0M114 1670h0M194 1684h0M168 1705h0M194 1685h0M129 1714h0M167 1744h0M206 1715h0M202 1673h0M163 1737h0M170 1664h0M188 1677h0M191 1713h0M158 1639h0M208 1693h0M126 1692h0M206 1722h0M139 1722h0M118 1704h0M129 1693h0M202 1701h0M160 1724h0M142 1715h0M141 1713h0M166 1739h0M210 1718h0M156 1658h0M145 1736h0M154 1659h0M173 1655h0M193 1737h0M166 1739h0M195 1662h0M193 1656h0M154 1724h0M134 1724h0M160 1733h0M141 1673h0M163 1710h0M155 1673h0M158 1714h0M109 1683h0M143 1726h0M168 1647h0M183 1717h0M154 1665h0M197 1672h0M155 1663h0M154 1727h0M140 1736h0M136 1699h0M193 1710h0M115 1725h0M185 1716h0M170 1711h0M146 1685h0M188 1651h0M171 1661h0M207 1708h0M169 1715h0M160 1634h0M162 1705h0M145 1673h0M196 1676h0M149 1744h0M131 1690h0M171 1653h0M178 1670h0M127 1719h0M128 1738h0M210 1678h0M215 1684h0M167 1651h0M146 1742h0M195 1671h0M144 1740h0M198 1725h0M129 1673h0M193 1692h0M128 1660h0M184 1732h0M176 1694h0M202 1700h0M135 1690h0M147 1656h0M140 1688h0M173 1727h0M211 1666h0M161 1749h0M158 1681h0M130 1736h0M172 1659h0M125 1666h0M113 1683h0M113 1671h0M210 1693h0M194 1666h0M147 1651h0M199 1672h0M158 1706h0M177 1672h0M181 1745h0M162 1722h0M150 1645h0M174 1663h0M123 1691h0M128 1700h0M171 1693h0M147 1747h0M194 1685h0M188 1708h0M118 1723h0M147 1736h0M165 1711h0M113 1677h0M155 1642h0M143 1649h0M171 1714h0M181 1657h0M166 1662h0M156 1636h0M174 1704h0M171 1743h0M154 1685h0M182 1645h0M121 1661h0M192 1674h0M133 1699h0M144 1681h0M114 1685h0M195 1700h0M205 1703h0M124 1655h0M133 1643h0M151 1741h0M114 1660h0M130 1720h0M126 1649h0M129 1661h0M211 1686h0M186 1684h0M133 1703h0M180 1643h0M149 1723h0M120 1695h0M150 1726h0M167 1687h0M190 1672h0M196 1720h0M144 1708h0M181 1706h0M111 1693h0M139 1688h0M185 1648h0M170 1728h0M152 1684h0M202 1689h0M188 1700h0M147 1649h0M157 1719h0M175 1668h0M154 1735h0M160 1726h0M165 1682h0M141 1738h0M191 1675h0M152 1661h0M143 1744h0M140 1738h0M196 1737h0M153 1666h0M129 1700h0M189 1737h0M141 1671h0M135 1699h0M143 1669h0M205 1705h0M208 1670h0M168 1658h0M187 1670h0M146 1634h0M140 1722h0M179 1673h0M147 1634h0M133 1740h0M145 1692h0M114 1656h0M130 1646h0M125 1693h0M139 1709h0M210 1662h0M149 1645h0M141 1663h0M209 1716h0M187 1742h0M173 1692h0M159 1652h0M187 1680h0M193 1730h0M173 1742h0M207 1706h0M131 1734h0M204 1711h0M131 1718h0M142 1701h0M216 1703h0M131 1739h0M181 1640h0M129 1659h0M108 1710h0M110 1696h0M193 1689h0M181 1683h0M183 1736h0M213 1704h0M208 1678h0M204 1664h0M155 1640h0M210 1665h0M177 1722h0M189 1713h0M112 1714h0M205 1728h0M130 1665h0M152 1655h0M190 1696h0M109 1677h0M168 1657h0M155 1708h0M186 1657h0M119 1701h0M202 1670h0M175 1724h0M189 1723h0M146 1665h0M178 1726h0M163 1690h0M127 1648h0M119 1696h0M217 1687h0M128 1643h0M202 1668h0M134 1691h0M142 1730h0M123 1667h0M108 1704h0M126 1678h0M164 1691h0M168 1683h0M163 1634h0M139 1670h0M140 1684h0M143 1651h0M179 1681h0M205 1690h0M158 1672h0M213 1688h0M148 1716h0M144 1636h0M146 1678h0M171 1659h0M158 1671h0M181 1722h0M170 1661h0M215 1677h0M169 1682h0M126 1720h0M159 1678h0M170 1733h0M198 1711h0M193 1642h0M210 1688h0M137 1693h0M207 1657h0M196 1721h0M123 1676h0M151 1733h0M152 1717h0M189 1683h0M167 1714h0M200 1733h0M153 1697h0M138 1653h0M207 1662h0M163 1683h0M140 1672h0M198 1728h0M199 1671h0M138 1660h0M128 1730h0M154 1671h0M169 1686h0M124 1676h0M140 1685h0M139 1657h0M157 1708h0M167 1646h0M207 1698h0M117 1726h0M206 1685h0M128 1732h0M132 1688h0M188 1722h0M185 1651h0M143 1673h0M171 1733h0M195 1732h0M206 1714h0M154 1746h0M137 1647h0M167 1641h0M133 1701h0M151 1645h0M139 1720h0M199 1716h0M127 1716h0M139 1734h0M157 1677h0M190 1705h0M172 1686h0M187 1723h0M148 1685h0M197 1701h0M119 1688h0M195 1719h0M158 1687h0M158 1690h0M185 1662h0M186 1725h0M170 1669h0M138 1674h0M150 1723h0M136 1665h0M144 1721h0M181 1661h0M165 1631h0M125 1726h0M138 1645h0M164 1750h0M158 1690h0M141 1736h0M179 1746h0M188 1651h0M118 1729h0M191 1730h0M188 1722h0M112 1679h0M174 1688h0M185 1657h0M114 1660h0M145 1654h0M178 1728h0M161 1688h0M149 1634h0M183 1653h0M155 1724h0M199 1655h0M119 1682h0M127 1720h0M195 1707h0M176 1647h0M151 1656h0M142 1643h0M139 1698h0M194 1659h0M168 1695h0M168 1665h0M139 1685h0M150 1659h0M156 1729h0M193 1663h0M109 1678h0M204 1667h0M126 1656h0M199 1724h0M158 1735h0M196 1712h0M131 1687h0M212 1683h0M120 1649h0M121 1724h0M154 1710h0M118 1671h0M165 1710h0M205 1672h0M123 1685h0M158 1633h0M116 1677h0M137 1738h0M166 1677h0M199 1719h0M107 1703h0M195 1709h0M169 1668h0M118 1668h0M135 1724h0M211 1683h0M159 1708h0M142 1641h0M194 1730h0M125 1697h0M153 1686h0M138 1690h0M203 1719h0M160 1632h0M189 1710h0M118 1711h0M105 1701h0M137 1730h0M143 1702h0M134 1689h0M157 1660h0M138 1640h0M190 1701h0M121 1721h0M202 1731h0M189 1653h0M136 1711h0M190 1693h0M116 1724h0M213 1692h0M107 1694h0M143 1741h0M134 1697h0M143 1723h0M185 1695h0M166 1697h0M174 1667h0M118 1672h0M155 1705h0M205 1654h0M127 1734h0M161 1738h0M116 1680h0M202 1705h0M155 1718h0M146 1730h0M126 1691h0M134 1725h0M131 1674h0M158 1643h0M194 1723h0M139 1663h0M201 1662h0M121 1660h0M156 1737h0M132 1724h0M167 1724h0M216 1678h0M130 1687h0M168 1676h0M179 1665h0M134 1688h0M122 1662h0M156 1633h0M130 1716h0M127 1701h0M212 1700h0M151 1659h0M167 1671h0M186 1666h0M165 1661h0M137 1739h0M168 1645h0M111 1664h0M203 1654h0M177 1747h0M132 1663h0M197 1718h0M199 1668h0M179 1730h0M188 1672h0M193 1709h0M134 1676h0M138 1691h0M141 1654h0M172 1719h0M177 1727h0M128 1718h0M182 1741h0M154 1733h0M175 1707h0M119 1685h0M142 1647h0M176 1687h0M158 1748h0M167 1666h0M151 1677h0M192 1683h0M140 1691h0M175 1705h0M172 1641h0M183 1689h0M155 1712h0M160 1720h0M205 1693h0M182 1641h0M128 1643h0M156 1711h0M180 1681h0M151 1644h0M161 1637h0M184 1744h0M127 1696h0M116 1690h0M150 1718h0M203 1713h0M205 1719h0M187 1662h0M137 1687h0M181 1708h0M197 1662h0M193 1671h0M147 1659h0M184 1740h0M151 1740h0M183 1720h0M148 1745h0M181 1659h0M129 1672h0M171 1645h0M190 1663h0M188 1689h0M163 1684h0M190 1660h0M180 1703h0M118 1717h0M178 1664h0M172 1735h0M126 1663h0M149 1688h0M178 1733h0M123 1730h0M144 1731h0M198 1685h0M127 1698h0M137 1707h0M191 1682h0M195 1736h0M200 1657h0M204 1672h0M186 1674h0M140 1642h0M155 1650h0M185 1742h0M155 1682h0M173 1681h0M214 1689h0M142 1699h0M157 1676h0M176 1703h0M175 1713h0M208 1663h0M146 1642h0M172 1728h0M183 1703h0M158 1708h0M199 1709h0M118 1690h0M189 1706h0M182 1659h0M149 1640h0M176 1719h0M204 1717h0M136 1721h0M185 1698h0M133 1676h0M177 1651h0M205 1679h0M152 1717h0M182 1718h0M131 1690h0M152 1726h0M154 1638h0M108 1674h0M125 1664h0M135 1741h0M108 1688h0M172 1639h0M135 1672h0M181 1725h0M195 1679h0M184 1716h0M114 1699h0M192 1724h0M122 1704h0M118 1697h0M203 1687h0M179 1697h0M186 1714h0M161 1679h0M213 1692h0M167 1715h0M196 1688h0M149 1701h0M173 1732h0M152 1657h0M174 1642h0M137 1733h0M182 1692h0M174 1643h0M123 1660h0M196 1701h0M190 1716h0M164 1658h0M195 1661h0M152 1635h0M193 1738h0M128 1652h0M192 1721h0M194 1666h0M205 1668h0M207 1711h0M181 1659h0M113 1693h0M131 1715h0M140 1719h0M128 1668h0M172 1711h0M121 1669h0M121 1685h0M195 1689h0M131 1683h0M136 1670h0M133 1705h0M154 1701h0M132 1663h0M209 1706h0M163 1724h0M193 1668h0M152 1633h0M106 1690h0M191 1725h0M156 1741h0M166 1734h0M129 1716h0M108 1682h0M159 1742h0M121 1683h0M134 1707h0M166 1697h0M147 1659h0M151 1645h0M164 1708h0M197 1734h0M139 1681h0M188 1661h0M115 1662h0M125 1704h0M204 1728h0M164 1648h0M199 1718h0M207 1666h0M184 1736h0M194 1735h0M159 1683h0M170 1641h0M199 1709h0M154 1681h0M133 1733h0M125 1726h0M146 1653h0M133 1650h0M153 1669h0M162 1637h0M123 1664h0M189 1689h0M158 1749h0M162 1641h0M151 1730h0M180 1720h0M110 1684h0M174 1748h0M128 1642h0M194 1718h0M146 1690h0M148 1674h0M185 1676h0M205 1705h0M139 1639h0M142 1710h0M198 1659h0M174 1655h0M214 1673h0M180 1647h0M157 1674h0M131 1735h0M130 1735h0M136 1738h0M130 1659h0M178 1700h0M130 1705h0M205 1678h0M200 1732h0M197 1724h0M173 1699h0M147 1635h0M125 1670h0M197 1719h0M194 1667h0M158 1680h0M146 1687h0M182 1701h0M148 1697h0M195 1737h0M148 1727h0M168 1726h0M197 1685h0M171 1670h0M112 1703h0M116 1674h0M215 1709h0M182 1643h0M206 1681h0M151 1681h0M205 1713h0M178 1650h0M127 1723h0M205 1662h0M161 1719h0M163 1636h0M198 1688h0M114 1657h0M191 1710h0M156 1694h0M193 1710h0M179 1669h0M130 1730h0M178 1682h0M166 1633h0M142 1645h0M133 1679h0M160 1693h0M180 1707h0M116 1708h0M167 1657h0M140 1647h0M182 1742h0M195 1707h0M161 1639h0M155 1699h0M167 1675h0M162 1737h0M204 1669h0M121 1727h0M155 1697h0M153 1660h0M180 1662h0M185 1670h0M108 1675h0M164 1679h0M196 1731h0M202 1718h0M153 1723h0M147 1671h0M156 1748h0M157 1711h0M137 1738h0M184 1664h0M126 1718h0M194 1734h0M142 1672h0M145 1651h0M140 1640h0M157 1665h0M184 1706h0M138 1712h0M191 1719h0M128 1723h0M179 1639h0M138 1650h0M175 1681h0M210 1662h0M165 1707h0M176 1720h0M185 1707h0M191 1657h0M178 1660h0M114 1665h0M160 1746h0M134 1653h0M164 1690h0M132 1687h0M111 1697h0M181 1689h0M108 1692h0M193 1691h0M193 1686h0M191 1732h0M200 1715h0M199 1678h0M152 1690h0M207 1724h0M173 1652h0M110 1678h0M119 1678h0M207 1683h0M168 1738h0M134 1692h0M174 1643h0M172 1719h0M162 1672h0M171 1691h0M174 1653h0M155 1749h0M187 1712h0M168 1711h0M148 1638h0M168 1640h0M186 1685h0M157 1734h0M162 1744h0M161 1682h0M181 1689h0M134 1737h0M114 1658h0M152 1733h0M120 1653h0M149 1720h0M146 1719h0M112 1663h0M159 1643h0M150 1681h0M205 1716h0M106 1693h0M168 1689h0M178 1656h0M216 1702h0M131 1692h0M154 1658h0M127 1695h0M167 1652h0M129 1719h0M112 1711h0M200 1734h0M155 1673h0M212 1708h0M157 1655h0M115 1673h0M194 1654h0M130 1722h0M148 1714h0M193 1648h0M164 1726h0M214 1710h0M131 1711h0M207 1702h0M207 1702h0M137 1700h0M179 1739h0M207 1697h0M153 1712h0M167 1674h0M182 1650h0M125 1676h0M170 1686h0M141 1664h0M117 1720h0M164 1655h0M204 1661h0M142 1722h0M128 1666h0M183 1647h0M160 1738h0M169 1638h0M203 1722h0M183 1660h0M180 1722h0M158 1679h0M155 1699h0M180 1726h0M157 1650h0M154 1704h0M127 1656h0M152 1734h0M192 1675h0M152 1730h0M190 1717h0M201 1674h0M207 1691h0M178 1742h0M159 1701h0M203 1691h0M114 1723h0M159 1685h0M217 1699h0M178 1706h0M136 1715h0M171 1688h0M151 1741h0M116 1696h0M164 1744h0M155 1632h0M120 1671h0M207 1697h0M107 1694h0M145 1711h0M171 1640h0M141 1708h0M213 1713h0M195 1679h0M113 1684h0M196 1707h0M135 1734h0M176 1687h0M145 1693h0M115 1677h0M159 1652h0M153 1662h0M197 1682h0M170 1745h0M110 1709h0M181 1718h0M184 1696h0M141 1708h0M200 1662h0M207 1679h0M198 1647h0M191 1699h0M132 1724h0M217 1699h0M150 1747h0M155 1641h0M167 1649h0M198 1729h0M212 1685h0M118 1660h0M197 1717h0M149 1733h0M186 1678h0M170 1719h0M109 1678h0M188 1685h0M172 1679h0M186 1695h0M173 1676h0M171 1697h0M169 1700h0M168 1697h0M177 1676h0M186 1689h0M171 1679h0M177 1696h0M187 1683h0M183 1694h0M188 1689h0M185 1697h0M190 1688h0M179 1696h0M189 1685h0M186 1681h0M167 1683h0M165 1686h0M188 1683h0M168 1689h0M169 1680h0M186 1686h0M173 1678h0M168 1686h0M185 1694h0M178 1677h0M169 1697h0M179 1699h0M182 1679h0M166 1681h0M166 1695h0M168 1682h0M171 1698h0M165 1681h0M166 1688h0M177 1677h0M186 1691h0M185 1680h0M173 1699h0M174 1679h0M184 1698h0M179 1677h0M184 1683h0M189 1691h0M169 1689h0M167 1698h0M187 1685h0M188 1691h0M186 1690h0M183 1676h0M168 1686h0M165 1682h0M174 1700h0M182 1677h0M176 1700h0M167 1686h0M164 1689h0M183 1697h0M167 1692h0M168 1682h0M166 1686h0M185 1682h0M183 1677h0M183 1678h0M179 1697h0M185 1695h0M171 1679h0M182 1695h0M170 1679h0M174 1695h0M178 1679h0M166 1692h0M180 1699h0M187 1690h0M185 1691h0M184 1686h0M181 1699h0M170 1676h0M175 1698h0M186 1684h0M164 1689h0M174 1700h0M185 1694h0M172 1698h0M184 1691h0M177 1677h0M166 1685h0M184 1683h0M175 1680h0M177 1700h0M184 1694h0M165 1697h0M188 1689h0M185 1680h0M171 1678h0M168 1684h0M169 1695h0M166 1694h0M184 1681h0M167 1684h0M165 1687h0M171 1677h0M172 1678h0M175 1701h0M177 1677h0M181 1699h0M183 1695h0M166 1692h0M188 1681h0M168 1695h0M169 1699h0M167 1682h0M179 1698h0M185 1695h0M186 1683h0M189 1693h0M177 1680h0M186 1687h0M166 1681h0M185 1688h0M173 1698h0M175 1699h0M182 1698h0M189 1692h0M166 1687h0M174 1675h0M185 1676h0M165 1691h0M189 1689h0M184 1695h0M186 1683h0M170 1682h0M169 1688h0M168 1694h0M181 1697h0M186 1695h0M181 1696h0M186 1680h0M171 1698h0M178 1682h0M176 1681h0M179 1678h0M169 1687h0M187 1685h0M170 1682h0M168 1689h0M183 1676h0M257 1714h0M254 1731h0M277 1724h0M277 1730h0M276 1727h0M252 1720h0M280 1729h0M270 1735h0M254 1729h0M266 1736h0M266 1734h0M269 1714h0M257 1735h0M257 1734h0M274 1731h0M250 1727h0M262 1734h0M279 1724h0M260 1711h0M275 1716h0M252 1729h0M271 1712h0M277 1723h0M270 1734h0M278 1720h0M274 1729h0M271 1731h0M264 1715h0M256 1720h0M271 1716h0M252 1728h0M254 1727h0M276 1724h0M275 1726h0M254 1731h0M278 1729h0M257 1730h0M259 1738h0M264 1715h0M268 1715h0M274 1716h0M278 1728h0M253 1718h0M275 1718h0M256 1731h0M268 1713h0M257 1724h0M272 1735h0M279 1727h0M264 1715h0M269 1714h0M269 1736h0M262 1712h0M254 1733h0M276 1720h0M272 1732h0M254 1722h0M253 1726h0M272 1733h0M278 1718h0M274 1731h0M278 1720h0M275 1717h0M265 1714h0M259 1713h0M253 1724h0M270 1737h0M279 1725h0M260 1734h0M253 1723h0M273 1719h0M260 1714h0M276 1715h0M277 1717h0M277 1718h0M257 1738h0M258 1734h0M255 1714h0M272 1734h0M272 1713h0M256 1718h0M271 1716h0M257 1718h0M255 1720h0M261 1733h0M251 1730h0M269 1735h0M262 1713h0M268 1736h0M256 1730h0M252 1718h0M268 1736h0M259 1737h0M277 1717h0M276 1729h0M252 1723h0M272 1713h0M253 1734h0M257 1723h0M274 1722h0M273 1724h0M267 1715h0M255 1720h0M271 1734h0M253 1728h0M276 1720h0M268 1739h0M264 1737h0M254 1733h0M260 1737h0M277 1725h0M277 1718h0M267 1738h0M259 1733h0M257 1732h0M256 1717h0M266 1712h0M256 1720h0M270 1732h0M269 1736h0M277 1731h0M256 1733h0M257 1723h0M251 1719h0M274 1717h0M252 1722h0M277 1725h0M263 1715h0M252 1724h0M275 1721h0M275 1724h0M278 1725h0M256 1722h0M264 1712h0M262 1713h0M259 1735h0M255 1716h0M267 1714h0M269 1717h0M265 1713h0M259 1714h0M271 1715h0M275 1728h0M254 1723h0M271 1715h0M265 1711h0M256 1723h0M276 1723h0M273 1729h0M278 1728h0" stroke="#7c1010" stroke-width="2.4" stroke-linecap="round"/>
<path d="M407 1793h0M465 1775h0M350 1688h0M351 1694h0M434 1795h0M456 1749h0M542 1644h0M365 1731h0M373 1746h0M478 1728h0M344 1692h0M488 1710h0M441 1792h0M517 1660h0M500 1687h0M372 1731h0M512 1673h0M534 1630h0M477 1760h0M535 1647h0M351 1689h0M495 1733h0M424 1794h0M344 1671h0M348 1690h0M348 1702h0M405 1773h0M414 1804h0M385 1737h0M396 1760h0M335 1665h0M424 1779h0M449 1773h0M503 1720h0M541 1636h0M426 1792h0M348 1692h0M381 1757h0M331 1666h0M478 1742h0M396 1769h0M441 1786h0M414 1791h0M458 1774h0M536 1637h0M397 1772h0M460 1774h0M541 1646h0M524 1651h0M419 1788h0M342 1675h0M558 1621h0M560 1633h0M387 1760h0M536 1648h0M487 1725h0M543 1622h0M505 1678h0M412 1790h0M506 1693h0M357 1725h0M359 1735h0M561 1611h0M370 1720h0M527 1649h0M387 1770h0M416 1794h0M448 1778h0M461 1779h0M335 1665h0M384 1736h0M409 1790h0M464 1765h0M395 1768h0M506 1666h0M546 1623h0M470 1739h0M439 1790h0M551 1615h0M474 1769h0M367 1717h0M352 1696h0M372 1732h0M380 1763h0M563 1612h0M379 1733h0M377 1752h0M509 1696h0M338 1671h0M359 1711h0M396 1778h0M435 1803h0M466 1759h0M492 1707h0M344 1699h0M346 1695h0M393 1779h0M355 1715h0M345 1686h0M515 1678h0M452 1783h0M388 1774h0M501 1686h0M550 1618h0M518 1647h0M426 1797h0M499 1711h0M498 1699h0M428 1793h0M350 1696h0M393 1773h0M538 1635h0M400 1780h0M367 1737h0M383 1785h0M407 1786h0M445 1787h0M382 1752h0M356 1704h0M340 1684h0M471 1754h0M425 1786h0M563 1621h0M338 1686h0M536 1623h0M374 1723h0M456 1784h0M491 1710h0M370 1722h0M355 1713h0M473 1733h0M456 1792h0M451 1780h0M496 1726h0M348 1698h0M456 1790h0M443 1782h0M474 1725h0M369 1730h0M475 1766h0M350 1690h0M500 1718h0M449 1772h0M543 1629h0M561 1616h0M380 1759h0M382 1720h0M522 1649h0M444 1781h0M342 1661h0M367 1727h0M408 1787h0M529 1644h0M547 1618h0M424 1780h0M566 1609h0M401 1776h0M396 1767h0M544 1634h0M492 1741h0M494 1690h0M495 1683h0M399 1783h0M552 1625h0M400 1787h0M560 1614h0M472 1769h0M453 1784h0M549 1630h0M380 1749h0M412 1795h0M503 1677h0M421 1797h0M352 1689h0M464 1791h0M535 1637h0M428 1799h0M559 1624h0M352 1672h0M536 1621h0M535 1654h0M372 1707h0M451 1771h0M472 1721h0M440 1788h0M483 1727h0M485 1734h0M354 1717h0M424 1798h0M479 1750h0M557 1617h0M536 1627h0M557 1617h0M401 1791h0M432 1794h0M493 1720h0M414 1789h0M496 1713h0M460 1787h0M558 1611h0M377 1767h0M398 1788h0M388 1760h0M492 1720h0M366 1729h0M518 1694h0M516 1686h0M421 1796h0M369 1742h0M556 1617h0M558 1617h0M530 1653h0M379 1750h0M547 1631h0M513 1673h0M331 1685h0M414 1789h0M383 1784h0M408 1787h0M547 1623h0M555 1622h0M424 1794h0M553 1626h0M520 1657h0M465 1739h0M413 1782h0M373 1756h0M391 1770h0M543 1633h0M358 1707h0M495 1696h0M480 1740h0M513 1683h0M523 1639h0M460 1756h0M386 1774h0M365 1736h0M453 1780h0M565 1626h0M354 1676h0M357 1720h0M559 1633h0M531 1632h0M554 1619h0M470 1747h0M370 1726h0M400 1767h0M342 1666h0M494 1714h0M523 1663h0M345 1694h0M486 1733h0M375 1736h0M411 1782h0M418 1796h0M438 1784h0M358 1702h0M422 1790h0M380 1752h0M557 1624h0M548 1620h0M538 1619h0M509 1660h0M429 1801h0M394 1754h0M453 1775h0M353 1677h0M525 1642h0M466 1743h0M431 1791h0M432 1789h0M346 1671h0M449 1784h0M447 1798h0M446 1789h0M354 1706h0M460 1784h0M507 1688h0M459 1783h0M556 1619h0M541 1644h0M458 1793h0M356 1689h0M548 1633h0M378 1759h0M451 1779h0M495 1714h0M364 1714h0M475 1728h0M351 1715h0M519 1659h0M563 1609h0M436 1789h0M517 1688h0M468 1752h0M347 1676h0M363 1725h0M486 1725h0M360 1711h0M393 1758h0M475 1735h0M362 1727h0M359 1706h0M537 1634h0M343 1665h0M460 1759h0M556 1625h0M391 1771h0M429 1793h0M348 1689h0M552 1618h0M386 1749h0M519 1651h0M518 1666h0M331 1669h0M498 1679h0M384 1764h0M411 1793h0M501 1708h0M456 1760h0M513 1661h0M558 1615h0M542 1634h0M502 1679h0M438 1780h0M500 1706h0M462 1756h0M370 1728h0M355 1714h0M344 1674h0M489 1703h0M357 1689h0M548 1625h0M362 1714h0M534 1643h0M473 1730h0M350 1712h0M405 1793h0M340 1672h0M419 1798h0M553 1604h0M342 1677h0M436 1793h0M454 1767h0M542 1642h0M330 1667h0M512 1675h0M448 1783h0M383 1743h0M399 1781h0M352 1717h0M352 1701h0M471 1731h0M427 1783h0M546 1634h0M384 1754h0M395 1761h0M511 1679h0M416 1790h0M491 1722h0M383 1735h0M360 1722h0M540 1630h0M501 1703h0M368 1735h0M459 1778h0M407 1794h0M371 1703h0M515 1693h0M382 1750h0M425 1792h0M427 1797h0M473 1729h0M372 1725h0M542 1621h0M468 1758h0M510 1667h0M472 1724h0M409 1785h0M514 1665h0M480 1735h0M485 1742h0M494 1716h0M513 1667h0M449 1785h0M372 1736h0M551 1616h0M460 1769h0M447 1773h0M386 1755h0M415 1797h0M336 1670h0M432 1791h0M392 1759h0M550 1615h0M426 1793h0M363 1723h0M436 1778h0M382 1765h0M523 1650h0M442 1786h0M534 1650h0M531 1639h0M435 1799h0M336 1664h0M408 1780h0M432 1787h0M342 1691h0M379 1721h0M487 1723h0M356 1710h0M413 1795h0M472 1742h0M497 1721h0M387 1748h0M457 1761h0M385 1768h0M446 1792h0M336 1666h0M438 1781h0M422 1790h0M560 1624h0M338 1678h0M451 1777h0M550 1634h0M422 1786h0M383 1757h0M429 1782h0M523 1646h0M493 1727h0M413 1788h0M486 1735h0M346 1680h0M358 1679h0M332 1669h0M499 1728h0M541 1619h0M491 1702h0M494 1713h0M519 1678h0M489 1724h0M527 1651h0M410 1778h0M344 1689h0M336 1684h0M552 1628h0M563 1620h0M432 1801h0M365 1735h0M356 1726h0M505 1688h0M494 1684h0M502 1695h0M524 1652h0M445 1781h0M422 1787h0M371 1728h0M421 1788h0M425 1787h0M554 1619h0M500 1702h0M560 1610h0M421 1800h0M482 1751h0M342 1661h0M350 1679h0M527 1657h0M527 1636h0M498 1712h0M460 1763h0M381 1753h0M462 1737h0M443 1789h0M522 1664h0M352 1704h0M534 1625h0M380 1748h0M378 1744h0M427 1788h0M350 1741h0M354 1714h0M521 1666h0M461 1780h0M331 1684h0M465 1760h0M503 1660h0M390 1774h0M353 1701h0M542 1620h0M393 1774h0M491 1734h0M437 1788h0M560 1620h0M394 1772h0M551 1633h0M511 1661h0M486 1728h0M489 1712h0M352 1715h0M390 1776h0M386 1769h0M501 1718h0M372 1724h0M347 1712h0M437 1785h0M517 1645h0M385 1761h0M397 1774h0M372 1733h0M363 1745h0M491 1718h0M389 1777h0M359 1707h0M549 1634h0M562 1618h0M520 1655h0M530 1648h0M389 1740h0M472 1762h0M375 1745h0M362 1694h0M471 1742h0M477 1742h0M519 1652h0M502 1687h0M512 1698h0M459 1793h0M538 1634h0M375 1748h0M422 1788h0M342 1662h0M364 1718h0M527 1654h0M424 1790h0M339 1695h0M445 1770h0M473 1780h0M375 1746h0M392 1771h0M495 1703h0M345 1668h0M493 1699h0M536 1634h0M448 1781h0M396 1782h0M378 1726h0M425 1783h0M512 1667h0M530 1662h0M353 1684h0M558 1620h0M479 1733h0M463 1776h0M337 1674h0M560 1618h0M546 1636h0M494 1714h0M467 1774h0M452 1773h0M554 1616h0M358 1720h0M554 1612h0M458 1771h0M360 1721h0M399 1784h0M366 1697h0M464 1757h0M383 1752h0M470 1739h0M407 1786h0M423 1799h0M345 1665h0M472 1770h0M397 1784h0M372 1735h0M535 1632h0M437 1792h0M358 1714h0M356 1741h0M418 1788h0M518 1646h0M505 1685h0M507 1659h0M552 1630h0M520 1677h0M456 1787h0M471 1742h0M506 1694h0M425 1788h0M515 1663h0M448 1778h0M367 1730h0M480 1761h0M536 1647h0M332 1671h0M453 1753h0M447 1770h0M418 1792h0M412 1800h0M361 1707h0M557 1613h0M430 1778h0M445 1763h0M381 1737h0M466 1788h0M532 1621h0M373 1733h0M372 1751h0M479 1730h0M430 1795h0M341 1662h0M523 1638h0M446 1778h0M462 1754h0M358 1721h0M350 1713h0M459 1777h0M357 1687h0M509 1669h0M366 1744h0M352 1711h0M436 1786h0M434 1787h0M398 1763h0M448 1785h0M419 1788h0M559 1613h0M465 1776h0M428 1797h0M416 1793h0M380 1748h0M493 1721h0M372 1734h0M526 1644h0M440 1797h0M420 1783h0M451 1779h0M443 1796h0M548 1631h0M420 1794h0M543 1639h0M450 1774h0M424 1793h0M464 1759h0M410 1787h0M419 1790h0M400 1787h0M362 1722h0M409 1772h0M366 1723h0M490 1720h0M429 1788h0M524 1636h0M507 1688h0M341 1683h0M404 1785h0M347 1679h0M536 1648h0M500 1695h0M413 1798h0M528 1646h0M528 1636h0M346 1684h0M516 1684h0M512 1683h0M390 1788h0M555 1627h0M510 1687h0M355 1684h0M429 1779h0M510 1674h0M499 1702h0M557 1611h0M461 1768h0M431 1796h0M402 1791h0M384 1771h0M443 1768h0M373 1725h0M460 1766h0M378 1738h0M505 1669h0M363 1714h0M344 1693h0M382 1750h0M414 1783h0M418 1794h0M564 1616h0M358 1699h0M376 1705h0M436 1795h0M552 1628h0M488 1740h0M395 1767h0M340 1676h0M389 1741h0M533 1643h0M525 1646h0M408 1793h0M417 1804h0M420 1796h0M462 1758h0M440 1773h0M374 1733h0M501 1712h0M439 1794h0M436 1791h0M517 1664h0M403 1777h0M417 1785h0M495 1721h0M412 1774h0M463 1760h0M408 1791h0M555 1609h0M530 1659h0M401 1786h0M551 1609h0M338 1677h0M347 1706h0M422 1788h0M463 1759h0M356 1718h0M388 1775h0M451 1787h0M390 1761h0M470 1751h0M465 1768h0M523 1684h0M347 1715h0M425 1802h0M527 1676h0M518 1670h0M337 1671h0M387 1756h0M547 1635h0M379 1737h0M413 1792h0M372 1715h0M514 1690h0M472 1744h0M488 1713h0M390 1744h0M358 1717h0M359 1714h0M405 1779h0M422 1802h0M504 1712h0M557 1623h0M523 1660h0M493 1713h0M449 1791h0M545 1640h0M475 1754h0M378 1738h0M424 1800h0M341 1663h0M340 1686h0M392 1782h0M564 1611h0M466 1764h0M470 1727h0M558 1628h0M405 1785h0M472 1728h0M461 1765h0M444 1783h0M414 1795h0M332 1669h0M462 1757h0M370 1742h0M505 1691h0M547 1612h0M342 1705h0M474 1758h0M363 1687h0M393 1773h0M374 1737h0M428 1804h0M480 1749h0M411 1796h0M390 1741h0M546 1619h0M411 1789h0M483 1708h0M350 1688h0M412 1791h0M473 1748h0M553 1627h0M564 1623h0M409 1792h0M365 1737h0M530 1657h0M454 1766h0M470 1745h0M506 1684h0M523 1673h0M520 1673h0M359 1726h0M514 1669h0M564 1616h0M332 1680h0M356 1686h0M552 1618h0M364 1741h0M515 1668h0M498 1741h0M359 1713h0M354 1687h0M393 1757h0M399 1771h0M512 1677h0M401 1787h0M535 1633h0M392 1787h0M449 1786h0M471 1747h0M419 1790h0M396 1792h0M370 1732h0M353 1709h0M512 1701h0M399 1758h0M501 1711h0M435 1794h0M363 1718h0M370 1723h0M368 1731h0M454 1784h0M550 1625h0M373 1765h0M400 1775h0M395 1776h0M429 1795h0M416 1802h0M461 1769h0M506 1713h0M427 1793h0M433 1800h0M430 1793h0M394 1772h0M422 1794h0M533 1645h0M551 1631h0M487 1729h0M408 1787h0M532 1639h0M476 1753h0M507 1683h0M494 1694h0M496 1716h0M476 1733h0M443 1786h0M393 1756h0M545 1614h0M522 1652h0M372 1743h0M540 1638h0M525 1652h0M371 1733h0M523 1659h0M499 1707h0M448 1788h0M483 1707h0M456 1776h0M422 1800h0M383 1752h0M500 1694h0M409 1789h0M390 1748h0M420 1799h0M434 1785h0M430 1801h0M519 1652h0M552 1625h0M559 1614h0M414 1784h0M505 1674h0M547 1630h0M346 1671h0M526 1641h0M448 1791h0M450 1775h0M490 1716h0M486 1709h0M513 1671h0M356 1696h0M350 1713h0M343 1690h0M497 1697h0M432 1794h0M566 1620h0M419 1780h0M332 1668h0M408 1786h0M528 1633h0M349 1685h0M538 1637h0M392 1747h0M455 1768h0M474 1757h0M524 1660h0M334 1692h0M453 1768h0M395 1780h0M404 1780h0M439 1793h0M481 1730h0M541 1641h0M550 1624h0M512 1653h0M403 1783h0M536 1649h0M348 1714h0M522 1668h0M495 1710h0M343 1682h0M402 1783h0M472 1767h0M542 1619h0M425 1800h0M385 1762h0M366 1701h0M494 1714h0M557 1627h0M407 1777h0M555 1627h0M451 1789h0M361 1700h0M390 1783h0M544 1615h0M486 1722h0M414 1786h0M375 1745h0M399 1789h0M465 1768h0M471 1749h0M357 1707h0M370 1721h0M486 1719h0M369 1743h0M535 1632h0M360 1736h0M455 1787h0M366 1715h0M453 1780h0M384 1750h0M447 1783h0M465 1758h0M374 1731h0M348 1674h0M544 1632h0M469 1757h0M507 1702h0M404 1760h0M468 1735h0M518 1649h0M554 1629h0M549 1614h0M389 1771h0M495 1714h0M377 1754h0M444 1783h0M523 1671h0M386 1749h0M531 1642h0M417 1789h0M556 1611h0M544 1625h0M461 1745h0M528 1650h0M552 1604h0M560 1629h0M384 1778h0M387 1766h0M492 1709h0M513 1658h0M554 1621h0M480 1722h0M418 1782h0M342 1662h0M331 1675h0M481 1749h0M412 1791h0M483 1742h0M357 1702h0M497 1725h0M364 1718h0M379 1745h0M426 1778h0M563 1614h0M530 1649h0M441 1791h0M362 1707h0M541 1627h0M420 1788h0M476 1731h0M548 1628h0M418 1795h0M493 1710h0M438 1791h0M496 1674h0M358 1734h0M474 1760h0M485 1731h0M509 1673h0M563 1622h0M494 1696h0M396 1781h0M525 1665h0M379 1721h0M504 1684h0M404 1790h0M383 1744h0M400 1799h0M360 1712h0M560 1622h0M377 1757h0M479 1730h0M404 1792h0M472 1768h0M462 1777h0M480 1734h0M535 1654h0M415 1797h0M353 1694h0M507 1677h0M366 1711h0M492 1732h0M512 1668h0M552 1618h0M516 1653h0M373 1749h0M367 1723h0M484 1715h0M401 1775h0M519 1664h0M506 1676h0M549 1632h0M368 1722h0M406 1771h0M476 1747h0M391 1759h0M502 1719h0M495 1702h0M529 1644h0M367 1727h0M356 1686h0M342 1682h0M359 1714h0M407 1797h0M384 1760h0M518 1653h0M342 1677h0M432 1792h0M479 1734h0M447 1772h0M375 1770h0M551 1601h0M564 1621h0M442 1793h0M494 1696h0M428 1796h0M380 1750h0M387 1748h0M381 1751h0M562 1623h0M558 1625h0M354 1689h0M332 1672h0M402 1770h0M385 1731h0M358 1676h0M414 1801h0M365 1706h0M541 1618h0M446 1787h0M463 1760h0M560 1605h0M526 1656h0M362 1726h0M422 1794h0M528 1648h0M535 1624h0M452 1790h0M382 1755h0M346 1717h0M362 1722h0M488 1735h0M441 1800h0M446 1791h0M489 1715h0M491 1704h0M361 1731h0M395 1758h0M488 1736h0M331 1687h0M335 1684h0M387 1770h0M549 1618h0M547 1622h0M513 1678h0M560 1614h0M376 1735h0M466 1766h0M466 1746h0M346 1701h0M427 1797h0M518 1688h0M442 1791h0M487 1727h0M562 1621h0M413 1800h0M536 1644h0M421 1790h0M515 1673h0M495 1706h0M450 1772h0M508 1689h0M488 1689h0M436 1790h0M418 1787h0M372 1698h0M554 1625h0M537 1651h0M393 1770h0M403 1800h0M522 1673h0M366 1707h0M410 1783h0M557 1611h0M497 1709h0M367 1748h0M490 1707h0M401 1764h0M343 1674h0M556 1612h0M467 1749h0M410 1779h0M345 1696h0M361 1715h0M558 1613h0M380 1741h0M411 1778h0M508 1692h0M547 1614h0M535 1653h0M535 1640h0M345 1663h0M548 1629h0M495 1724h0M355 1735h0M495 1730h0M419 1793h0M396 1769h0M459 1777h0M399 1782h0M512 1674h0M423 1798h0M472 1724h0M490 1721h0M384 1769h0M442 1790h0M352 1708h0M384 1767h0M357 1719h0M553 1621h0M350 1696h0M543 1645h0M382 1773h0M535 1636h0M550 1623h0M510 1691h0M380 1756h0M414 1806h0M365 1750h0M485 1724h0M506 1684h0M396 1760h0M368 1729h0M553 1617h0M535 1616h0M397 1756h0M392 1755h0M438 1794h0M390 1764h0M476 1737h0M534 1650h0M412 1784h0M337 1675h0M372 1737h0M395 1773h0M364 1680h0M439 1629h0M578 1773h0M345 1700h0M516 1743h0M502 1734h0M594 1780h0M443 1623h0M342 1697h0M430 1627h0M520 1761h0M561 1781h0M406 1622h0M604 1771h0M425 1608h0M501 1719h0M526 1764h0M383 1645h0M505 1723h0M473 1672h0M497 1715h0M517 1770h0M587 1788h0M458 1639h0M472 1665h0M352 1707h0M526 1762h0M580 1781h0M496 1718h0M347 1694h0M576 1796h0M530 1772h0M426 1614h0M443 1629h0M326 1734h0M485 1715h0M403 1619h0M572 1789h0M409 1636h0M560 1806h0M505 1752h0M543 1787h0M532 1774h0M546 1796h0M415 1605h0M572 1781h0M481 1659h0M381 1686h0M338 1724h0M471 1668h0M385 1628h0M549 1791h0M440 1639h0M522 1763h0M423 1612h0M378 1645h0M371 1668h0M577 1786h0M536 1782h0M459 1661h0M481 1654h0M480 1686h0M443 1632h0M404 1623h0M331 1739h0M470 1664h0M401 1612h0M510 1724h0M373 1658h0M419 1610h0M453 1630h0M390 1662h0M440 1625h0M384 1670h0M476 1697h0M430 1615h0M480 1683h0M530 1773h0M496 1698h0M470 1641h0M429 1615h0M581 1782h0M431 1622h0M350 1715h0M586 1800h0M481 1680h0M569 1788h0M381 1650h0M510 1746h0M405 1627h0M511 1751h0M488 1693h0M571 1788h0M586 1780h0M326 1736h0M450 1616h0M591 1760h0M373 1659h0M376 1667h0M528 1771h0M429 1631h0M552 1790h0M448 1614h0M357 1699h0M527 1765h0M585 1786h0M453 1644h0M363 1653h0M459 1643h0M403 1617h0M569 1781h0M590 1771h0M366 1679h0M430 1625h0M567 1791h0M433 1610h0M398 1626h0M562 1788h0M594 1761h0M525 1763h0M481 1691h0M493 1700h0M366 1693h0M590 1772h0M512 1761h0M596 1784h0M492 1699h0M506 1747h0M356 1701h0M447 1628h0M416 1614h0M348 1713h0M517 1752h0M436 1629h0M450 1629h0M603 1769h0M458 1651h0M483 1697h0M359 1696h0M567 1791h0M430 1614h0M597 1761h0M587 1768h0M376 1637h0M404 1613h0M537 1794h0M411 1614h0M523 1762h0M386 1634h0M402 1615h0M517 1767h0M410 1619h0M565 1787h0M545 1780h0M451 1632h0M435 1616h0M381 1639h0M422 1608h0M417 1610h0M369 1685h0M548 1790h0M468 1642h0M346 1715h0M542 1786h0M451 1633h0M434 1619h0M590 1778h0M361 1682h0M422 1607h0M392 1627h0M455 1639h0M590 1775h0M496 1714h0M487 1687h0M590 1770h0M590 1790h0M418 1632h0M595 1763h0M390 1647h0M456 1667h0M342 1732h0M577 1781h0M333 1743h0M505 1753h0M347 1685h0M469 1660h0M381 1649h0M470 1656h0M529 1768h0M431 1625h0M345 1727h0M399 1626h0M568 1800h0M361 1671h0M335 1731h0M470 1682h0M366 1684h0M339 1731h0M433 1619h0M592 1772h0M435 1627h0M450 1636h0M552 1800h0M583 1776h0M358 1681h0M613 1781h0M394 1614h0M493 1715h0M360 1688h0M592 1777h0M503 1736h0M493 1686h0M594 1776h0M532 1775h0M416 1607h0M561 1804h0M376 1663h0M423 1609h0M447 1634h0M491 1695h0M398 1625h0M617 1779h0M481 1679h0M404 1620h0M384 1646h0M579 1780h0M357 1689h0M500 1734h0M527 1744h0M595 1786h0M354 1705h0M446 1623h0M441 1629h0M391 1623h0M445 1630h0M569 1792h0M528 1788h0M412 1624h0M556 1797h0M582 1783h0M522 1773h0M524 1759h0M541 1795h0M394 1632h0M421 1606h0M428 1616h0M546 1780h0M339 1735h0M368 1673h0M464 1661h0M402 1644h0M553 1790h0M540 1782h0M591 1763h0M558 1799h0M376 1676h0M540 1784h0M553 1793h0M509 1741h0M338 1727h0M422 1611h0M452 1653h0M595 1763h0M361 1676h0M585 1796h0M561 1806h0M435 1619h0M439 1609h0M433 1618h0M490 1697h0M594 1767h0M384 1658h0M419 1613h0M432 1628h0M347 1707h0M511 1734h0M550 1793h0M395 1631h0M326 1732h0M524 1767h0M396 1631h0M481 1694h0M541 1783h0M416 1609h0M355 1691h0M400 1623h0M486 1684h0M422 1617h0M488 1695h0M412 1604h0M428 1612h0M368 1673h0M486 1716h0M389 1621h0M382 1644h0M381 1646h0M544 1794h0M440 1623h0M485 1675h0M445 1623h0M460 1643h0M337 1730h0M590 1768h0M578 1780h0M446 1624h0M350 1716h0M343 1722h0M456 1639h0M482 1692h0M574 1776h0M530 1769h0M416 1616h0M373 1654h0M503 1734h0M441 1620h0M571 1798h0M400 1629h0M452 1648h0M401 1634h0M353 1678h0M344 1710h0M571 1783h0M494 1718h0M406 1631h0M528 1771h0M486 1692h0M452 1632h0M424 1610h0M440 1629h0M413 1605h0M396 1618h0M456 1627h0M540 1786h0M446 1630h0M438 1617h0M431 1619h0M425 1613h0M471 1680h0M406 1613h0M513 1761h0M596 1768h0M546 1799h0M372 1669h0M542 1788h0M435 1623h0M425 1622h0M367 1683h0M471 1677h0M545 1793h0M431 1625h0M403 1613h0M541 1788h0M577 1791h0M405 1614h0M430 1623h0M477 1668h0M563 1798h0M554 1797h0M354 1704h0M428 1617h0M356 1673h0M352 1670h0M476 1668h0M496 1716h0M464 1650h0M333 1740h0M379 1652h0M492 1700h0M534 1768h0M591 1789h0M475 1673h0M483 1685h0M475 1700h0M399 1620h0M431 1624h0M454 1640h0M464 1668h0M483 1684h0M338 1731h0M480 1696h0M407 1629h0M379 1623h0M370 1656h0M357 1689h0M358 1687h0M537 1780h0M377 1645h0M466 1687h0M599 1761h0M581 1777h0M533 1775h0M345 1726h0M588 1774h0M336 1743h0M482 1662h0M584 1791h0M507 1721h0M427 1613h0M333 1741h0M552 1792h0M561 1795h0M590 1764h0M485 1698h0M594 1758h0M541 1781h0M446 1623h0M414 1605h0M530 1770h0M388 1640h0M385 1625h0M441 1619h0M501 1724h0M458 1650h0M427 1635h0M421 1609h0M363 1681h0M496 1725h0M436 1618h0M568 1795h0M385 1641h0M554 1795h0M401 1619h0M370 1672h0M467 1670h0M347 1701h0M585 1778h0M560 1798h0M591 1776h0M538 1780h0M393 1634h0M460 1643h0M480 1686h0M421 1614h0M390 1641h0M478 1698h0M338 1723h0M345 1701h0M571 1785h0M385 1663h0M487 1692h0M504 1708h0M590 1778h0M363 1668h0M587 1783h0M581 1796h0M355 1686h0M536 1776h0M342 1698h0M489 1733h0M365 1678h0M363 1673h0M596 1773h0M364 1689h0M428 1628h0M491 1695h0M431 1625h0M419 1614h0M476 1670h0M345 1703h0M370 1657h0M393 1637h0M487 1691h0M478 1684h0M408 1616h0M587 1784h0M339 1724h0M578 1790h0M375 1657h0M347 1693h0M376 1671h0M522 1759h0M451 1645h0M361 1708h0M516 1763h0M422 1608h0M403 1613h0M527 1763h0M345 1725h0M578 1788h0M409 1616h0M536 1780h0M570 1790h0M524 1737h0M466 1657h0M543 1777h0M436 1625h0M512 1703h0M348 1702h0M592 1772h0M541 1795h0M422 1610h0M512 1718h0M462 1646h0M548 1791h0M354 1716h0M346 1721h0M374 1668h0M446 1634h0M447 1616h0M509 1750h0M583 1785h0M453 1640h0M349 1692h0M540 1786h0M598 1785h0M366 1674h0M569 1786h0M483 1677h0M486 1693h0M412 1613h0M389 1639h0M473 1666h0M583 1778h0M382 1647h0M559 1794h0M391 1636h0M378 1653h0M533 1786h0M416 1636h0M426 1603h0M511 1750h0M335 1737h0M363 1695h0M490 1677h0M511 1758h0M346 1690h0M381 1649h0M535 1764h0M439 1621h0M386 1628h0M512 1739h0M353 1712h0M405 1618h0M578 1790h0M395 1630h0M403 1607h0M533 1775h0M407 1616h0M564 1790h0M433 1617h0M352 1698h0M467 1651h0M560 1802h0M474 1693h0M496 1715h0M504 1723h0M520 1771h0M494 1728h0M572 1783h0M572 1789h0M560 1794h0M449 1647h0M541 1805h0M551 1787h0M589 1779h0M466 1673h0M485 1698h0M426 1619h0M597 1763h0M401 1620h0M417 1610h0M493 1705h0M341 1707h0M404 1617h0M585 1792h0M568 1799h0M352 1724h0M358 1694h0M460 1646h0M508 1759h0M418 1612h0M426 1639h0M587 1792h0M432 1625h0M444 1627h0M462 1638h0M433 1620h0M347 1736h0M512 1760h0M596 1774h0M381 1654h0M546 1799h0M545 1795h0M340 1723h0M527 1765h0M574 1786h0M425 1610h0M533 1777h0M456 1637h0M434 1626h0M496 1741h0M359 1682h0M488 1689h0M465 1649h0M349 1693h0M370 1685h0M518 1764h0M363 1686h0M439 1627h0M391 1657h0M358 1697h0M595 1764h0M551 1795h0M586 1781h0M348 1697h0M382 1652h0M595 1775h0M504 1750h0M573 1783h0M582 1802h0M343 1721h0M485 1672h0M593 1759h0M464 1673h0M578 1781h0M596 1769h0M398 1635h0M430 1615h0M482 1641h0M441 1626h0M418 1615h0M356 1688h0M530 1772h0M370 1676h0M536 1779h0M386 1647h0M419 1614h0M534 1776h0M510 1695h0M552 1788h0M355 1713h0M580 1778h0M405 1622h0M524 1784h0M543 1786h0M526 1765h0M339 1735h0M353 1731h0M476 1674h0M498 1732h0M363 1682h0M424 1626h0M475 1665h0M525 1744h0M442 1617h0M441 1629h0M360 1698h0M377 1652h0M520 1751h0M411 1612h0M510 1747h0M434 1613h0M360 1670h0M537 1766h0M269 1798h0M206 1685h0M253 1775h0M310 1775h0M320 1646h0M343 1741h0M330 1656h0M280 1630h0M204 1673h0M343 1687h0M301 1785h0M269 1629h0M253 1749h0M311 1778h0M211 1677h0M218 1714h0M284 1782h0M278 1624h0M242 1668h0M244 1659h0M336 1664h0M248 1772h0M285 1628h0M217 1687h0M287 1626h0M321 1766h0M211 1709h0M221 1741h0M260 1639h0M245 1652h0M292 1625h0M289 1797h0M319 1781h0M226 1659h0M333 1773h0M300 1784h0M353 1722h0M285 1622h0M247 1769h0M226 1724h0M332 1660h0M324 1645h0M291 1795h0M327 1663h0M270 1791h0M208 1691h0M296 1789h0M301 1615h0M260 1633h0M343 1682h0M301 1782h0M298 1793h0M203 1716h0M245 1655h0M261 1638h0M309 1625h0M340 1751h0M305 1775h0M339 1722h0M287 1613h0M219 1690h0M290 1623h0M310 1627h0M298 1616h0M214 1690h0M359 1700h0M277 1620h0M234 1666h0M248 1643h0M315 1790h0M248 1659h0M280 1784h0M206 1678h0M214 1705h0M275 1774h0M219 1719h0M252 1753h0M307 1639h0M309 1773h0M315 1634h0M246 1652h0M219 1694h0M266 1625h0M232 1727h0M235 1685h0M311 1780h0M266 1621h0M237 1657h0M235 1664h0M222 1720h0M329 1759h0M228 1680h0M332 1752h0M322 1751h0M305 1782h0M363 1699h0M318 1639h0M309 1625h0M247 1661h0M360 1690h0M211 1694h0M280 1629h0M275 1625h0M206 1704h0M296 1607h0M360 1686h0M339 1728h0M324 1754h0M312 1778h0M321 1754h0M238 1776h0M275 1615h0M323 1643h0M274 1632h0M224 1687h0M270 1628h0M258 1634h0M235 1746h0M358 1717h0M268 1625h0M318 1786h0M243 1653h0M233 1738h0M289 1787h0M203 1713h0M327 1763h0M325 1767h0M252 1632h0M318 1638h0M298 1608h0M350 1714h0M347 1727h0M321 1642h0M237 1640h0M260 1777h0M355 1706h0M304 1783h0M280 1607h0M290 1773h0M323 1771h0M305 1779h0M309 1765h0M321 1767h0M343 1669h0M326 1647h0M265 1787h0M315 1777h0M249 1645h0M352 1698h0M301 1784h0M340 1727h0M229 1711h0M347 1689h0M223 1676h0M213 1720h0M246 1767h0M239 1663h0M340 1738h0M286 1783h0M333 1734h0M243 1741h0M340 1727h0M256 1777h0M354 1705h0M222 1675h0M247 1637h0M260 1782h0M293 1791h0M264 1633h0M285 1771h0M363 1699h0M208 1693h0M228 1717h0M235 1721h0M357 1675h0M360 1706h0M352 1679h0M351 1683h0M307 1789h0M287 1792h0M311 1618h0M351 1703h0M253 1656h0M212 1730h0M299 1770h0M263 1772h0M210 1719h0M208 1732h0M227 1665h0M317 1783h0M345 1725h0M264 1634h0M284 1611h0M344 1674h0M233 1748h0M218 1691h0M231 1678h0M312 1767h0M194 1709h0M298 1791h0M330 1649h0M264 1624h0M226 1736h0M303 1637h0M339 1719h0M239 1727h0M352 1700h0M296 1618h0M286 1620h0M294 1605h0M294 1786h0M206 1711h0M252 1675h0M333 1682h0M280 1616h0M267 1785h0M265 1643h0M229 1670h0M281 1781h0M230 1662h0M337 1721h0M222 1724h0M219 1704h0M357 1709h0M272 1621h0M312 1636h0M221 1735h0M343 1690h0M276 1622h0M286 1795h0M314 1789h0M273 1627h0M338 1730h0M318 1759h0M230 1675h0M300 1799h0M335 1651h0M247 1644h0M336 1754h0M290 1770h0M271 1614h0M212 1732h0M338 1748h0M350 1711h0M287 1607h0M226 1728h0M227 1685h0M230 1729h0M330 1651h0M213 1694h0M333 1758h0M241 1656h0M336 1659h0M362 1692h0M245 1746h0M346 1708h0M275 1788h0M355 1696h0M252 1767h0M249 1757h0M299 1626h0M333 1731h0M333 1663h0M268 1789h0M295 1621h0M260 1774h0M281 1790h0M231 1659h0M258 1765h0M207 1686h0M215 1691h0M251 1639h0M333 1747h0M343 1665h0M230 1731h0M351 1702h0M237 1737h0M279 1786h0M314 1628h0M253 1660h0M233 1714h0M215 1717h0M254 1774h0M324 1663h0M247 1779h0M319 1772h0M251 1658h0M233 1746h0M358 1705h0M259 1639h0M306 1618h0M258 1631h0M246 1678h0M248 1655h0M201 1719h0M337 1730h0M340 1723h0M281 1632h0M275 1620h0M290 1632h0M265 1778h0M298 1788h0M309 1777h0M340 1683h0M251 1760h0M248 1752h0M339 1682h0M227 1717h0M238 1756h0M276 1614h0M348 1701h0M216 1737h0M262 1648h0M353 1694h0M253 1644h0M323 1720h0M261 1617h0M258 1634h0M331 1655h0M328 1662h0M240 1638h0M318 1763h0M245 1649h0M337 1751h0M353 1703h0M257 1782h0M336 1751h0M331 1756h0M329 1636h0M219 1695h0M232 1676h0M317 1637h0M250 1630h0M303 1628h0M286 1783h0M228 1701h0M263 1766h0M294 1777h0M301 1616h0M281 1795h0M271 1795h0M242 1653h0M333 1643h0M229 1682h0M206 1723h0M252 1759h0M267 1775h0M298 1629h0M241 1652h0M255 1770h0M268 1772h0M296 1622h0M262 1635h0M312 1775h0M210 1670h0M250 1750h0M244 1745h0M288 1616h0M302 1622h0M260 1647h0M323 1745h0M236 1708h0M293 1621h0M227 1692h0M252 1635h0M302 1627h0M272 1626h0M289 1783h0M252 1769h0M304 1792h0M277 1778h0M260 1795h0M343 1753h0M215 1676h0M327 1736h0M336 1640h0M330 1665h0M281 1607h0M334 1653h0M222 1671h0M352 1685h0M238 1749h0M353 1686h0M315 1774h0M226 1737h0M224 1708h0M361 1685h0M355 1714h0M228 1744h0M346 1691h0M230 1703h0M333 1661h0M220 1698h0M232 1693h0M315 1625h0M266 1765h0M257 1632h0M267 1794h0M347 1713h0M350 1728h0M267 1621h0M273 1620h0M324 1746h0M260 1785h0M315 1633h0M323 1773h0M227 1738h0M250 1658h0M270 1609h0M224 1718h0M321 1778h0M302 1630h0M223 1681h0M216 1718h0M231 1669h0M335 1744h0M280 1788h0M300 1777h0M239 1742h0M318 1765h0M278 1609h0M259 1769h0M207 1690h0M264 1777h0M323 1621h0M358 1679h0M268 1636h0M313 1778h0M223 1714h0M283 1612h0M339 1714h0M232 1654h0M225 1679h0M294 1789h0M371 1704h0M326 1640h0M287 1618h0M345 1734h0M272 1622h0M306 1627h0M361 1678h0M220 1694h0M248 1766h0M234 1657h0M301 1620h0M226 1647h0M334 1652h0M292 1789h0M260 1766h0M234 1672h0M243 1677h0M270 1785h0M289 1789h0M279 1626h0M290 1620h0M297 1636h0M302 1634h0M351 1708h0M362 1708h0M219 1721h0M237 1643h0M250 1633h0M311 1638h0M248 1784h0M299 1774h0M238 1751h0M318 1659h0M258 1636h0M359 1688h0M294 1614h0M361 1695h0M253 1779h0M264 1615h0M266 1781h0M342 1713h0M301 1630h0M289 1791h0M277 1615h0M336 1660h0M303 1792h0M249 1652h0M324 1644h0M312 1633h0M276 1796h0M210 1687h0M246 1661h0M328 1635h0M301 1635h0M299 1784h0M280 1629h0M228 1673h0M246 1658h0M256 1753h0M352 1724h0M261 1758h0M266 1611h0M264 1628h0M332 1641h0M321 1728h0M271 1763h0M322 1663h0M264 1668h0M237 1676h0M325 1685h0M253 1674h0M278 1724h0M327 1721h0M285 1707h0M282 1723h0M298 1656h0M299 1661h0M248 1719h0M237 1745h0M238 1676h0M318 1657h0M312 1711h0M258 1663h0M299 1629h0M243 1736h0M292 1734h0M265 1734h0M334 1671h0M245 1742h0M247 1657h0M290 1696h0M237 1707h0M237 1694h0M262 1702h0M243 1641h0M291 1787h0M240 1681h0M302 1755h0M261 1729h0M294 1726h0M260 1669h0M231 1662h0M300 1640h0M234 1674h0M242 1716h0M237 1700h0M320 1765h0M292 1675h0M324 1721h0M240 1759h0M255 1751h0M330 1685h0M260 1707h0M320 1723h0M283 1649h0M273 1640h0M268 1764h0M237 1658h0M260 1671h0M329 1669h0M327 1653h0M245 1734h0M237 1782h0M307 1686h0M329 1707h0M304 1679h0M304 1713h0M308 1687h0M264 1700h0M285 1668h0M277 1751h0M249 1670h0M303 1684h0M332 1693h0M289 1714h0M252 1724h0M245 1719h0M300 1663h0M325 1689h0M285 1707h0M253 1625h0M249 1679h0M306 1734h0M238 1689h0M313 1697h0M327 1648h0M272 1662h0M261 1689h0M251 1691h0M278 1662h0M242 1735h0M267 1714h0M334 1679h0M225 1789h0M326 1671h0M335 1734h0M315 1683h0M245 1700h0M319 1669h0M310 1664h0M261 1630h0M314 1738h0M300 1665h0M251 1641h0M290 1725h0M285 1694h0M278 1695h0M315 1711h0M333 1689h0M256 1729h0M313 1684h0M288 1681h0M240 1679h0M325 1739h0M330 1708h0M295 1637h0M312 1663h0M257 1715h0M294 1711h0M249 1664h0M263 1724h0M296 1734h0M313 1672h0M251 1749h0M237 1643h0M227 1665h0M226 1704h0M243 1709h0M295 1650h0M280 1775h0M328 1758h0M274 1746h0M271 1678h0M238 1701h0M271 1689h0M261 1685h0M231 1653h0M268 1740h0M328 1699h0M298 1737h0M286 1678h0M288 1723h0M276 1695h0M284 1738h0M262 1655h0M333 1679h0M282 1681h0M257 1648h0M317 1721h0M305 1737h0M237 1674h0M289 1714h0M332 1666h0M233 1669h0M290 1672h0M251 1666h0M327 1686h0M326 1667h0M285 1688h0M247 1755h0M238 1657h0M241 1672h0M238 1667h0M244 1764h0M240 1708h0M233 1688h0M311 1699h0M327 1667h0M289 1724h0M226 1743h0M330 1703h0M239 1635h0M314 1710h0M272 1602h0M266 1718h0M299 1662h0M308 1703h0M314 1737h0M333 1690h0M276 1724h0M243 1746h0M307 1691h0M271 1715h0M238 1719h0M294 1718h0M231 1702h0M280 1740h0M238 1662h0M240 1682h0M290 1676h0M229 1754h0M269 1736h0M260 1748h0M286 1709h0M304 1721h0M260 1711h0M226 1647h0M280 1709h0M304 1649h0M245 1703h0M270 1695h0M297 1730h0M278 1699h0M240 1753h0M317 1709h0M245 1673h0M286 1734h0M279 1701h0M312 1714h0M234 1749h0M282 1658h0M278 1707h0M262 1674h0M225 1636h0M272 1673h0M316 1743h0M311 1760h0M285 1639h0M227 1670h0M325 1614h0M272 1722h0M242 1721h0M258 1721h0M331 1756h0M316 1623h0M325 1649h0M271 1667h0M246 1712h0M315 1673h0M320 1725h0M290 1741h0M236 1703h0M280 1692h0M287 1756h0M275 1694h0M271 1608h0M302 1744h0M234 1766h0M297 1677h0M239 1701h0M269 1718h0M334 1727h0M309 1720h0M245 1661h0M230 1654h0M300 1674h0M259 1679h0M325 1743h0M275 1691h0M281 1681h0M321 1755h0M273 1700h0M234 1622h0M266 1610h0M239 1677h0M332 1688h0M294 1675h0M266 1692h0M225 1719h0M258 1723h0M277 1685h0M329 1680h0M294 1680h0M330 1687h0M267 1693h0M278 1749h0M248 1752h0M314 1736h0M332 1673h0M326 1653h0M233 1617h0M284 1712h0M313 1695h0M330 1659h0M228 1691h0M238 1684h0M229 1709h0M271 1735h0M288 1718h0M232 1670h0M324 1788h0M325 1678h0M285 1759h0M330 1743h0M264 1696h0M269 1701h0M250 1670h0M313 1719h0M270 1715h0M278 1734h0M233 1659h0M253 1696h0M324 1734h0M323 1690h0M271 1720h0M259 1656h0M260 1752h0M327 1645h0M327 1690h0M300 1699h0M290 1676h0M305 1715h0M310 1710h0M261 1717h0M256 1691h0M262 1683h0M312 1727h0M332 1707h0M332 1671h0M293 1626h0M270 1733h0M225 1698h0M235 1609h0M269 1682h0M281 1726h0M325 1729h0M333 1716h0M276 1699h0M277 1742h0M290 1659h0M244 1669h0M300 1650h0M225 1665h0M270 1712h0M281 1701h0M248 1645h0M278 1679h0M289 1685h0M287 1655h0M308 1645h0M234 1678h0M295 1718h0M323 1646h0M227 1740h0M253 1612h0M305 1669h0M323 1719h0M328 1683h0M243 1667h0M237 1678h0M260 1673h0M243 1634h0M263 1740h0M315 1679h0M335 1699h0M316 1698h0M315 1663h0M301 1754h0M262 1665h0M281 1628h0M284 1695h0M232 1704h0M312 1759h0M320 1686h0M276 1756h0M285 1743h0M290 1685h0M328 1663h0M287 1663h0M288 1668h0M330 1703h0M302 1713h0M303 1626h0M283 1693h0M248 1678h0M265 1721h0M242 1719h0M246 1670h0M238 1676h0M274 1692h0M241 1670h0M252 1693h0M330 1733h0M315 1703h0M309 1710h0M287 1715h0M305 1731h0M240 1667h0M229 1620h0M253 1656h0M301 1690h0M246 1687h0M279 1693h0M297 1708h0M229 1607h0M252 1725h0M311 1716h0M308 1677h0M285 1721h0M284 1764h0M313 1729h0M306 1732h0M240 1715h0M327 1697h0M282 1706h0M279 1633h0M287 1711h0M271 1709h0M283 1672h0M233 1696h0M287 1665h0M302 1704h0M280 1698h0M292 1702h0M329 1723h0M296 1714h0M254 1736h0M229 1758h0M331 1694h0M251 1682h0M243 1626h0M331 1699h0M251 1682h0M305 1675h0M228 1703h0M323 1729h0M307 1675h0M299 1722h0M278 1689h0M292 1768h0M311 1658h0M283 1634h0M307 1781h0M331 1681h0M275 1732h0M271 1723h0M306 1661h0M281 1749h0M258 1650h0M335 1732h0M300 1637h0M273 1701h0M264 1703h0M294 1716h0M302 1664h0M291 1759h0M226 1641h0M306 1667h0M232 1778h0M266 1741h0M230 1702h0M234 1671h0M226 1679h0M322 1713h0M319 1652h0M290 1703h0M229 1677h0M300 1675h0M307 1737h0M281 1664h0M267 1779h0M161 1690h0M161 1681h0M163 1673h0M159 1691h0M192 1679h0M192 1677h0M173 1704h0M168 1698h0M159 1685h0M186 1695h0M172 1703h0M174 1703h0M174 1699h0M181 1697h0M162 1683h0M168 1701h0M184 1700h0M156 1686h0M194 1680h0M192 1677h0M189 1695h0M188 1697h0M159 1688h0M192 1686h0M182 1705h0M160 1683h0M170 1700h0M179 1702h0M185 1673h0M196 1680h0M170 1670h0M191 1698h0M179 1702h0M188 1671h0M162 1685h0M159 1690h0M171 1699h0M171 1702h0M168 1695h0M183 1668h0M185 1675h0M194 1691h0M187 1671h0M186 1671h0M169 1700h0M167 1672h0M168 1672h0M182 1667h0M193 1675h0M160 1682h0M171 1700h0M188 1669h0M182 1672h0M196 1682h0M189 1700h0M195 1697h0M176 1705h0M182 1701h0M162 1695h0M180 1668h0M177 1698h0M167 1669h0M158 1694h0M192 1680h0M159 1682h0M185 1701h0M173 1703h0M180 1666h0M195 1687h0M163 1684h0M194 1683h0M190 1697h0M188 1699h0M187 1695h0M185 1670h0M175 1700h0M162 1698h0M193 1691h0M164 1691h0M161 1682h0M181 1701h0M170 1672h0M195 1683h0M178 1669h0M181 1701h0M181 1668h0M180 1703h0M184 1672h0M171 1668h0M184 1667h0M161 1692h0M190 1694h0M158 1684h0M193 1677h0M188 1672h0M186 1697h0M158 1683h0M183 1667h0M191 1693h0M163 1697h0M170 1666h0M168 1670h0M180 1703h0M187 1699h0M160 1689h0M165 1697h0M197 1690h0M163 1675h0M176 1702h0M160 1694h0M163 1673h0M164 1671h0M189 1671h0M165 1678h0M195 1691h0M165 1676h0M166 1699h0M192 1675h0M163 1688h0M158 1687h0M170 1699h0M163 1673h0M172 1666h0M173 1668h0M191 1677h0M195 1682h0M172 1704h0M175 1671h0M174 1699h0M174 1702h0M160 1676h0M164 1675h0M161 1691h0M194 1696h0M164 1687h0M183 1697h0M193 1680h0M170 1700h0M189 1700h0M189 1675h0M190 1689h0M189 1699h0M169 1697h0M180 1699h0M180 1704h0M166 1671h0M195 1690h0M164 1672h0M195 1690h0M166 1675h0M250 1708h0M245 1736h0M261 1703h0M248 1736h0M281 1730h0M244 1729h0M260 1702h0M268 1741h0M245 1732h0M267 1745h0M281 1716h0M245 1731h0M243 1711h0M277 1740h0M255 1707h0M279 1732h0M274 1736h0M262 1741h0M254 1740h0M273 1736h0M250 1706h0M259 1742h0M248 1734h0M274 1738h0M272 1703h0M269 1702h0M251 1737h0M251 1707h0M284 1733h0M280 1717h0M254 1706h0M269 1703h0M276 1710h0M269 1741h0M257 1741h0M247 1709h0M281 1728h0M244 1728h0M275 1706h0M253 1705h0M246 1736h0M247 1709h0M245 1725h0M245 1732h0M266 1703h0M267 1740h0M251 1707h0M244 1730h0M278 1713h0M247 1708h0M278 1728h0M285 1727h0M275 1736h0M282 1727h0M242 1720h0M258 1703h0M244 1716h0M249 1708h0M283 1722h0M281 1725h0M249 1737h0M249 1710h0M254 1705h0M262 1701h0M244 1726h0M243 1717h0M246 1708h0M245 1716h0M274 1705h0M276 1732h0M279 1714h0M262 1702h0M271 1739h0M253 1705h0M266 1703h0M265 1705h0M267 1739h0M258 1742h0M282 1712h0M281 1724h0M254 1740h0M259 1705h0M242 1714h0M278 1717h0M242 1722h0M262 1739h0M282 1715h0M281 1732h0M277 1709h0M252 1739h0M256 1703h0M254 1742h0M247 1734h0M257 1741h0M280 1711h0M267 1742h0M243 1723h0M279 1716h0M241 1724h0M245 1710h0M279 1733h0M262 1739h0M283 1717h0M274 1738h0M243 1726h0M278 1739h0M245 1723h0M244 1735h0M278 1737h0M247 1736h0M245 1733h0M244 1719h0M279 1736h0M254 1703h0M253 1740h0M277 1735h0M263 1742h0M272 1740h0M280 1720h0M281 1708h0M243 1729h0M251 1709h0M245 1713h0M249 1707h0M244 1708h0M244 1723h0M247 1709h0M274 1740h0M246 1711h0M259 1701h0M281 1708h0M248 1741h0M246 1730h0M271 1708h0M272 1707h0M280 1723h0M239 1717h0M258 1743h0M247 1704h0M270 1742h0M280 1729h0M243 1710h0M257 1741h0M270 1740h0M279 1735h0M251 1706h0M248 1704h0M269 1702h0M264 1702h0M251 1705h0" stroke="#16167e" stroke-width="2.4" stroke-linecap="round"/>
<text x="634.4" y="1770.4" font-family="'Liberation Sans', Arial, sans-serif" font-size="40" font-weight="bold" fill="#000" textLength="84.6" lengthAdjust="spacingAndGlyphs">2mm</text>
<rect x="627.4" y="1781.7" width="73.4" height="8.4" fill="#000"/>
<text x="774.8" y="1311" font-family="'Liberation Sans', Arial, sans-serif" font-size="44" font-weight="bold" fill="#000" textLength="42" lengthAdjust="spacingAndGlyphs">(F)</text>
<circle cx="887.4" cy="1391.6" r="106.2" fill="#fff" stroke="#555" stroke-width="2"/>
<path d="M896.6 1286.8 A105.2 105.2 0 0 1 986.9 1357.4 L968 1363.9 A85.2 85.2 0 0 0 894.8 1306.7 Z" fill="#fff" stroke="#666" stroke-width="1"/>
<path d="M878.2 1496.4 A105.2 105.2 0 0 1 787.9 1425.8 L806.8 1419.3 A85.2 85.2 0 0 0 880 1476.5 Z" fill="#fff" stroke="#666" stroke-width="1"/>
<circle cx="888" cy="1672.6" r="105.6" fill="#fff" stroke="#555" stroke-width="2"/>
<path d="M904.4 1569.3 A104.6 104.6 0 0 1 986.9 1638.5 L968 1645.1 A84.6 84.6 0 0 0 901.2 1589 Z" fill="#fff" stroke="#666" stroke-width="1"/>
<path d="M870.7 1775.8 A104.6 104.6 0 0 1 787 1699.7 L806.3 1694.5 A84.6 84.6 0 0 0 874 1756 Z" fill="#fff" stroke="#666" stroke-width="1"/>
<path d="M817 1443h0M793 1427h0M833 1465h0M800 1440h0M819 1445h0M814 1437h0M813 1452h0M798 1431h0M850 1488h0M806 1443h0M853 1485h0M823 1466h0M792 1428h0M847 1483h0M821 1466h0M828 1465h0M829 1457h0M829 1472h0M852 1472h0M801 1438h0M823 1451h0M847 1474h0M799 1428h0M805 1428h0M825 1464h0M810 1433h0M803 1433h0M853 1479h0M826 1468h0M800 1430h0M812 1446h0M812 1437h0M813 1440h0M819 1450h0M833 1462h0M829 1468h0M821 1456h0M811 1458h0M828 1468h0M815 1466h0M829 1471h0M840 1469h0M807 1445h0M840 1465h0M806 1436h0M810 1444h0M813 1452h0M792 1429h0M823 1461h0M835 1476h0M849 1474h0M811 1432h0M809 1447h0M819 1454h0M840 1483h0M802 1445h0M845 1482h0M841 1468h0M817 1458h0M844 1481h0M810 1458h0M797 1431h0M824 1473h0M812 1443h0M799 1437h0M838 1467h0M853 1481h0M838 1468h0M840 1466h0M824 1457h0M836 1467h0M815 1463h0M840 1481h0M801 1436h0M815 1459h0M816 1459h0M796 1432h0M840 1465h0M802 1428h0M810 1438h0" stroke="#d06060" stroke-width="1.6" stroke-linecap="round" opacity="0.7"/>
<path d="M926 1310h0M940 1304h0M919 1293h0M928 1304h0M953 1315h0M928 1314h0M911 1308h0M921 1295h0M936 1317h0M944 1315h0M932 1299h0M928 1307h0M913 1303h0M927 1310h0M921 1307h0M919 1298h0M929 1311h0M930 1316h0M943 1317h0M954 1314h0M936 1300h0M931 1298h0M954 1326h0M944 1316h0M942 1313h0M934 1300h0M933 1299h0M919 1296h0M928 1303h0M928 1306h0M933 1308h0M933 1316h0M913 1301h0M936 1315h0M921 1298h0M925 1304h0M929 1312h0M955 1318h0M951 1318h0M927 1301h0M941 1311h0M917 1297h0M920 1308h0M936 1301h0M934 1314h0M932 1310h0M928 1305h0M924 1313h0M949 1318h0M943 1312h0M919 1308h0M941 1316h0M928 1314h0M904 1305h0M941 1307h0M913 1305h0M925 1298h0M935 1312h0M907 1302h0M931 1308h0M947 1328h0M942 1323h0M919 1298h0M924 1308h0M930 1313h0M928 1302h0M944 1310h0M939 1308h0M929 1309h0M941 1308h0M929 1302h0M937 1309h0M962 1321h0M916 1302h0M934 1313h0M920 1304h0M952 1328h0M920 1305h0M923 1305h0M940 1315h0M940 1306h0M948 1317h0M937 1318h0M918 1297h0M935 1319h0M925 1304h0M917 1293h0M928 1303h0M934 1308h0M930 1301h0M939 1307h0M938 1303h0M943 1323h0M944 1310h0M924 1309h0M926 1299h0M908 1301h0M928 1309h0M950 1320h0M928 1305h0M931 1299h0M910 1301h0M944 1308h0M915 1295h0M950 1310h0M907 1296h0M912 1294h0M928 1307h0M927 1301h0M940 1302h0M924 1310h0M937 1312h0M920 1311h0M949 1313h0M941 1320h0M946 1315h0M941 1305h0M935 1316h0M931 1313h0M935 1307h0M948 1325h0M933 1315h0M944 1310h0M928 1299h0M946 1318h0M934 1300h0M955 1328h0M920 1308h0M963 1325h0M940 1315h0M914 1305h0M933 1298h0M923 1313h0M924 1304h0M916 1297h0M949 1317h0M935 1313h0M936 1315h0M944 1312h0M923 1294h0M927 1312h0M950 1314h0M959 1320h0M935 1303h0M943 1310h0M933 1317h0M919 1293h0M935 1307h0M942 1307h0M922 1305h0M940 1306h0M927 1311h0M914 1307h0M930 1300h0M924 1312h0M940 1317h0M910 1302h0M938 1307h0M942 1314h0M945 1305h0M936 1320h0M914 1303h0M930 1305h0M922 1304h0M932 1314h0M923 1306h0M925 1304h0M928 1308h0M945 1312h0M934 1304h0M939 1315h0M950 1315h0M925 1308h0M931 1315h0M924 1312h0M921 1309h0M912 1302h0M937 1319h0M915 1306h0M935 1311h0M933 1317h0M944 1315h0M926 1302h0M934 1311h0M906 1301h0M929 1308h0M935 1305h0M955 1321h0M930 1305h0M942 1317h0M935 1306h0M942 1314h0M943 1308h0M937 1318h0M917 1296h0M943 1318h0M922 1303h0M950 1309h0M947 1318h0M924 1310h0M908 1291h0M923 1312h0M924 1309h0M912 1303h0M925 1296h0M920 1310h0M948 1308h0M950 1319h0M953 1321h0M925 1296h0M932 1298h0M935 1318h0M917 1295h0M923 1309h0M957 1325h0M936 1309h0M921 1311h0M945 1305h0M938 1302h0M927 1302h0M924 1299h0M920 1297h0M938 1322h0M933 1316h0M944 1318h0M925 1304h0M927 1310h0M922 1300h0M924 1313h0M932 1298h0M938 1594h0M942 1599h0M933 1594h0M955 1612h0M929 1595h0M940 1602h0M935 1596h0M947 1603h0M952 1601h0M940 1601h0M939 1588h0M950 1613h0M941 1602h0M961 1616h0M922 1591h0M922 1593h0M938 1601h0M938 1592h0M938 1590h0M947 1591h0M943 1603h0M936 1590h0M963 1613h0M923 1591h0M919 1591h0M938 1582h0M940 1595h0M937 1594h0M962 1628h0M935 1598h0M958 1609h0M938 1602h0M954 1602h0M953 1601h0M936 1594h0M923 1590h0M945 1603h0M930 1598h0M943 1603h0M953 1608h0M940 1595h0M957 1611h0M945 1600h0M932 1585h0M940 1590h0M950 1605h0M959 1616h0M920 1585h0M942 1597h0M935 1593h0M945 1597h0M955 1603h0M938 1596h0M963 1614h0M923 1581h0M954 1609h0M959 1611h0M955 1605h0M938 1598h0M962 1620h0M938 1593h0M947 1605h0M957 1618h0M923 1594h0M951 1608h0M938 1601h0M940 1599h0M945 1604h0M951 1600h0M955 1605h0M934 1600h0M941 1597h0M925 1588h0M948 1603h0M936 1593h0M940 1594h0M955 1604h0M926 1589h0M919 1586h0M938 1594h0M935 1593h0M950 1591h0M944 1602h0M950 1592h0M925 1586h0M942 1599h0M950 1601h0M945 1603h0M937 1591h0M951 1609h0M942 1605h0M933 1597h0M954 1599h0M946 1599h0M957 1597h0M940 1602h0M935 1590h0M948 1605h0M928 1593h0M915 1580h0M942 1601h0M959 1612h0M923 1584h0M954 1608h0M939 1586h0M940 1593h0M923 1582h0M911 1579h0M926 1586h0M936 1601h0M953 1599h0M960 1605h0M946 1603h0M949 1607h0M951 1600h0M937 1601h0M956 1605h0M961 1614h0M954 1609h0M941 1597h0M940 1599h0M954 1598h0M944 1591h0M948 1602h0M952 1609h0M917 1580h0M935 1596h0M949 1608h0M948 1596h0M959 1609h0M938 1598h0M939 1590h0M945 1597h0M934 1591h0M941 1596h0M945 1603h0M928 1586h0M934 1587h0M954 1603h0M944 1596h0M945 1594h0M949 1598h0M953 1605h0M933 1586h0M951 1608h0M938 1590h0M928 1585h0M940 1595h0M923 1588h0M939 1601h0M939 1602h0M931 1593h0M943 1593h0M928 1596h0M946 1599h0M931 1586h0M932 1597h0M948 1594h0M950 1602h0M948 1602h0M927 1591h0M953 1604h0M941 1585h0M941 1601h0M945 1592h0M958 1613h0M936 1596h0M953 1593h0M948 1605h0M947 1601h0M939 1587h0M946 1600h0M936 1586h0M943 1604h0M944 1596h0M936 1596h0M943 1586h0M925 1592h0M933 1594h0M913 1584h0M936 1597h0M933 1590h0M932 1596h0M940 1592h0M957 1611h0M949 1604h0M928 1588h0M947 1596h0M939 1600h0M953 1599h0M963 1623h0M936 1596h0M927 1584h0M937 1598h0M929 1595h0M945 1604h0M929 1597h0M959 1611h0M924 1585h0M930 1593h0M933 1593h0M948 1598h0M912 1586h0M953 1604h0M921 1583h0M945 1600h0M934 1589h0M931 1595h0M941 1599h0M951 1608h0M963 1608h0M945 1598h0M931 1590h0M951 1595h0M950 1605h0M945 1601h0M941 1603h0M949 1597h0M944 1588h0M928 1592h0M938 1595h0M935 1596h0M941 1592h0M953 1596h0M932 1583h0M933 1597h0M930 1589h0M923 1584h0M949 1610h0M947 1604h0M932 1591h0M937 1593h0M948 1594h0M961 1620h0M943 1601h0M955 1617h0M959 1614h0M939 1599h0M940 1595h0M937 1596h0M850 1479h0M855 1479h0M846 1483h0M860 1486h0M864 1490h0M858 1485h0M853 1488h0M859 1483h0M860 1485h0M843 1482h0M868 1485h0M851 1485h0M852 1479h0M865 1489h0M846 1482h0M848 1485h0M853 1488h0M858 1489h0M849 1483h0M854 1482h0M859 1486h0M852 1484h0M856 1487h0M849 1485h0M860 1489h0M870 1484h0M851 1483h0M859 1482h0M865 1486h0M867 1492h0M860 1489h0M874 1490h0M858 1487h0M855 1488h0M856 1486h0M869 1488h0M860 1489h0M835 1480h0M859 1488h0M877 1490h0M870 1491h0M878 1491h0M848 1478h0M851 1484h0M837 1481h0M858 1487h0M852 1481h0M849 1484h0M869 1487h0M868 1487h0M840 1478h0M857 1483h0M846 1483h0M846 1477h0M864 1489h0M855 1487h0M853 1484h0M860 1484h0M861 1485h0M848 1485h0M862 1489h0M866 1488h0M864 1491h0M860 1489h0M863 1483h0M851 1485h0M854 1481h0M856 1480h0M836 1479h0M850 1480h0M850 1484h0M845 1486h0M873 1487h0M869 1488h0M862 1490h0M874 1485h0M857 1483h0M855 1486h0M848 1479h0M865 1492h0M858 1482h0M858 1480h0M873 1492h0M849 1488h0M861 1485h0M844 1484h0M861 1488h0M863 1491h0M861 1488h0M844 1476h0M877 1480h0M852 1484h0M867 1490h0M872 1483h0M864 1489h0M853 1484h0M864 1483h0M867 1486h0M859 1488h0M872 1494h0M870 1491h0M852 1485h0M859 1483h0M844 1481h0M864 1489h0M850 1486h0M871 1490h0M862 1489h0M862 1483h0M875 1490h0M867 1487h0M869 1492h0M860 1485h0M848 1482h0M847 1481h0M865 1491h0M850 1482h0M846 1479h0M865 1491h0M833 1472h0M876 1488h0M854 1483h0M858 1484h0M868 1490h0M870 1486h0M856 1488h0M864 1487h0M868 1486h0M864 1489h0M865 1491h0M873 1483h0M855 1481h0M851 1481h0M866 1491h0M856 1485h0M849 1485h0M863 1486h0M874 1490h0M848 1487h0M845 1481h0M851 1480h0M844 1483h0M871 1488h0M861 1488h0M863 1486h0M853 1484h0M875 1486h0M843 1481h0M861 1485h0M869 1487h0M852 1482h0M849 1476h0M866 1484h0M850 1480h0M873 1491h0M861 1484h0M858 1485h0M866 1490h0M861 1486h0M857 1482h0M850 1485h0M858 1483h0M872 1489h0M867 1490h0M875 1490h0M865 1488h0M858 1491h0M862 1485h0M851 1482h0M861 1488h0M869 1487h0M861 1485h0M862 1490h0M854 1483h0M844 1481h0M849 1485h0M859 1483h0M858 1480h0M854 1490h0M847 1487h0M841 1475h0M863 1483h0M873 1493h0M862 1489h0M859 1489h0M875 1489h0M866 1488h0M860 1489h0M853 1489h0M863 1488h0M863 1486h0M858 1486h0M855 1487h0M865 1484h0M877 1487h0M864 1490h0M866 1487h0M845 1481h0M852 1481h0M856 1483h0M852 1483h0M859 1487h0M864 1484h0M863 1486h0M855 1488h0M855 1484h0M850 1484h0M844 1480h0M862 1480h0M844 1485h0M859 1489h0M863 1485h0M866 1487h0M848 1480h0M866 1484h0M860 1487h0M863 1490h0M856 1485h0M845 1475h0M852 1482h0M855 1767h0M856 1762h0M820 1750h0M843 1756h0M847 1767h0M851 1765h0M831 1751h0M840 1758h0M845 1760h0M860 1769h0M855 1768h0M854 1767h0M843 1760h0M839 1760h0M835 1758h0M867 1768h0M841 1758h0M848 1766h0M827 1746h0M869 1770h0M851 1764h0M833 1754h0M840 1763h0M863 1770h0M861 1773h0M860 1770h0M823 1753h0M836 1747h0M833 1754h0M849 1763h0M847 1759h0M842 1759h0M845 1760h0M842 1755h0M826 1749h0M834 1761h0M833 1751h0M849 1766h0M825 1751h0M837 1760h0M831 1758h0M821 1739h0M867 1768h0M846 1761h0M814 1733h0M856 1765h0M845 1763h0M822 1751h0M848 1767h0M838 1751h0M820 1745h0M830 1753h0M840 1762h0M840 1757h0M850 1759h0M870 1770h0M858 1765h0M851 1765h0M855 1769h0M862 1770h0M851 1769h0M849 1763h0M818 1742h0M831 1759h0M835 1757h0M833 1755h0M852 1765h0M858 1762h0M811 1739h0M843 1765h0M853 1763h0M851 1761h0M826 1750h0M816 1745h0M865 1769h0M838 1756h0M826 1753h0M862 1764h0M846 1758h0M852 1761h0M850 1764h0M836 1750h0M827 1753h0M848 1760h0M852 1763h0M838 1758h0M849 1764h0M827 1751h0M829 1756h0M830 1755h0M823 1742h0M859 1763h0M839 1757h0M824 1747h0M854 1765h0M866 1773h0M848 1758h0M851 1764h0M828 1746h0M830 1752h0M860 1757h0M841 1757h0M854 1766h0M842 1756h0M859 1763h0M865 1764h0M832 1750h0M859 1763h0M850 1763h0M845 1760h0M870 1763h0M823 1745h0M842 1757h0M841 1763h0M811 1738h0M817 1744h0M823 1749h0M842 1760h0M849 1759h0M834 1754h0M840 1757h0M826 1751h0M850 1760h0M849 1758h0M853 1763h0M850 1768h0M849 1763h0M820 1745h0M847 1760h0M859 1767h0M831 1754h0M826 1745h0M831 1753h0M822 1739h0M836 1758h0M853 1769h0M845 1761h0M830 1752h0M862 1767h0M854 1767h0M852 1767h0M857 1763h0M830 1748h0M848 1756h0M859 1767h0M850 1764h0M831 1753h0M836 1759h0M823 1748h0M844 1762h0M838 1761h0M840 1750h0M841 1755h0M865 1768h0M855 1763h0M819 1741h0M843 1755h0M840 1759h0M818 1745h0M834 1757h0M823 1747h0M855 1764h0M865 1769h0M803 1716h0M835 1757h0M835 1755h0M848 1764h0M841 1757h0M845 1761h0M815 1737h0M840 1755h0M857 1762h0M847 1766h0M871 1770h0M812 1739h0M837 1755h0M843 1758h0M846 1766h0M847 1766h0M834 1752h0M839 1762h0M821 1751h0M856 1765h0M824 1746h0M828 1751h0M845 1758h0M838 1761h0M820 1744h0M824 1748h0M822 1741h0M833 1749h0M829 1750h0M845 1759h0M842 1758h0M810 1725h0M837 1760h0M821 1747h0M833 1755h0M869 1769h0M840 1758h0M869 1775h0M832 1757h0M836 1758h0M821 1747h0M867 1767h0M843 1763h0M839 1754h0M847 1758h0M837 1753h0M854 1760h0M828 1744h0M844 1762h0M871 1768h0M845 1765h0M826 1750h0M821 1740h0M850 1762h0M837 1755h0M816 1743h0M853 1764h0" stroke="#2020a0" stroke-width="1.7" stroke-linecap="round" opacity="0.85"/>
<path d="M907 1298h0M918 1302h0M908 1297h0M900 1297h0M912 1294h0M898 1301h0M899 1292h0M910 1308h0M922 1294h0M912 1298h0M898 1306h0M907 1307h0M900 1302h0M896 1298h0M908 1293h0M909 1296h0M909 1296h0M906 1303h0M923 1294h0M917 1297h0M903 1303h0M902 1305h0M914 1302h0M916 1303h0M921 1296h0M895 1302h0M918 1302h0M919 1304h0M898 1295h0M913 1305h0M898 1300h0M921 1298h0M898 1302h0M897 1305h0M913 1306h0M909 1300h0M901 1293h0M899 1295h0M898 1299h0M900 1302h0M921 1297h0M904 1291h0M901 1299h0M917 1299h0M899 1288h0M900 1302h0M914 1304h0M902 1305h0M898 1296h0M902 1296h0M905 1299h0M919 1302h0M911 1293h0M899 1304h0M920 1296h0M901 1303h0M916 1293h0M902 1289h0M918 1300h0M905 1305h0M897 1289h0M902 1294h0M903 1292h0M909 1303h0M901 1294h0M897 1302h0M911 1293h0M910 1303h0M916 1307h0M896 1301h0M905 1306h0M900 1300h0M908 1306h0M906 1291h0M920 1300h0M913 1299h0M898 1306h0M897 1290h0M915 1292h0M896 1295h0M908 1295h0M905 1289h0M898 1296h0M916 1293h0M915 1297h0M917 1294h0M905 1295h0M920 1295h0M907 1293h0M917 1300h0M910 1302h0M910 1297h0M898 1295h0M922 1296h0M913 1302h0M914 1299h0M908 1293h0M898 1293h0M897 1295h0M906 1303h0M913 1300h0M913 1292h0M901 1306h0M904 1295h0M900 1303h0M919 1299h0M908 1292h0M904 1295h0M900 1299h0M918 1294h0M916 1303h0M909 1303h0M899 1297h0M918 1295h0M915 1292h0M902 1304h0M906 1303h0M901 1299h0M911 1300h0M904 1292h0M919 1303h0M897 1306h0M914 1309h0M913 1299h0M904 1293h0M896 1304h0M905 1307h0M914 1305h0M898 1305h0M911 1301h0M912 1297h0M918 1293h0M911 1305h0M906 1304h0M896 1297h0M912 1306h0M902 1301h0M913 1300h0M912 1295h0M906 1293h0M915 1309h0M920 1298h0M899 1298h0M913 1292h0M905 1297h0M919 1296h0M918 1302h0M910 1305h0M915 1295h0M912 1296h0M902 1290h0M922 1294h0M910 1294h0M905 1291h0M916 1304h0M898 1298h0M910 1294h0M906 1307h0M913 1308h0M913 1306h0M905 1293h0M898 1304h0M909 1295h0M917 1298h0M919 1302h0M916 1309h0M901 1297h0M904 1294h0M911 1299h0M917 1300h0M903 1300h0M918 1294h0M902 1291h0M919 1302h0M908 1304h0M909 1299h0M908 1308h0M919 1302h0M907 1293h0M909 1299h0M911 1308h0M909 1301h0M921 1295h0M902 1298h0M899 1298h0M918 1294h0M907 1302h0M901 1295h0M916 1308h0M912 1309h0M900 1302h0M912 1303h0M905 1296h0M899 1293h0M899 1297h0M901 1303h0M908 1300h0M905 1300h0M907 1305h0M901 1295h0M911 1299h0M917 1299h0M915 1306h0M915 1295h0M917 1305h0M905 1290h0M902 1289h0M915 1308h0M902 1294h0M901 1305h0M916 1302h0M913 1307h0M906 1295h0M896 1302h0M914 1293h0M917 1309h0M909 1294h0M909 1296h0M899 1305h0M897 1305h0M909 1299h0M908 1305h0M900 1303h0M919 1293h0M916 1309h0M898 1289h0M908 1294h0M904 1299h0M908 1300h0M908 1308h0M914 1294h0M900 1298h0M913 1302h0M900 1303h0M906 1307h0M919 1296h0M915 1294h0M911 1301h0M910 1299h0M921 1297h0M903 1290h0M915 1296h0M915 1302h0M920 1295h0M914 1295h0M914 1302h0M911 1308h0M904 1299h0M896 1300h0M912 1297h0M903 1290h0M911 1303h0M912 1299h0M908 1301h0M921 1300h0M914 1296h0M917 1310h0M912 1295h0M902 1299h0M896 1303h0M922 1585h0M921 1582h0M917 1581h0M926 1580h0M918 1574h0M930 1580h0M939 1592h0M942 1584h0M925 1581h0M916 1590h0M903 1579h0M905 1572h0M925 1580h0M929 1587h0M930 1582h0M933 1590h0M926 1578h0M921 1591h0M907 1578h0M916 1580h0M927 1586h0M908 1576h0M916 1584h0M919 1582h0M902 1583h0M926 1581h0M933 1585h0M922 1583h0M904 1582h0M909 1577h0M914 1581h0M924 1582h0M920 1580h0M908 1581h0M910 1580h0M931 1588h0M921 1578h0M914 1576h0M923 1588h0M920 1582h0M925 1584h0M910 1580h0M918 1577h0M913 1578h0M926 1586h0M932 1589h0M917 1579h0M910 1576h0M931 1580h0M916 1584h0M939 1584h0M919 1575h0M933 1585h0M908 1576h0M907 1578h0M933 1586h0M905 1576h0M915 1583h0M929 1582h0M914 1576h0M915 1581h0M923 1585h0M922 1578h0M925 1580h0M917 1577h0M929 1580h0M922 1580h0M922 1586h0M914 1585h0M908 1586h0M914 1576h0M923 1578h0M923 1580h0M917 1582h0M930 1586h0M939 1584h0M914 1585h0M904 1579h0M921 1581h0M921 1579h0M924 1582h0M911 1574h0M920 1578h0M905 1579h0M908 1576h0M920 1580h0M921 1581h0M932 1589h0M927 1585h0M910 1582h0M934 1590h0M911 1582h0M914 1583h0M940 1588h0M946 1588h0M931 1581h0M918 1576h0M934 1586h0M935 1581h0M940 1590h0M923 1582h0M908 1581h0M914 1574h0M912 1578h0M918 1583h0M917 1584h0M911 1579h0M918 1584h0M916 1586h0M929 1583h0M939 1588h0M911 1573h0M909 1582h0M926 1578h0M913 1581h0M920 1577h0M906 1578h0M925 1580h0M940 1585h0M910 1575h0M936 1588h0M926 1582h0M916 1583h0M918 1578h0M904 1577h0M915 1579h0M915 1580h0M924 1584h0M918 1575h0M927 1582h0M909 1571h0M912 1582h0M919 1580h0M921 1576h0M935 1586h0M935 1585h0M917 1579h0M924 1585h0M905 1573h0M907 1579h0M940 1598h0M908 1578h0M931 1586h0M920 1576h0M906 1583h0M921 1580h0M925 1585h0M914 1579h0M923 1577h0M918 1590h0M913 1581h0M909 1579h0M919 1590h0M924 1578h0M926 1585h0M909 1577h0M934 1581h0M919 1577h0M937 1585h0M920 1583h0M915 1580h0M933 1590h0M903 1580h0M923 1577h0M912 1576h0M920 1581h0M934 1588h0M919 1585h0M925 1582h0M906 1580h0M904 1577h0M916 1579h0M914 1574h0M923 1579h0M918 1583h0M936 1584h0M907 1579h0M914 1576h0M917 1580h0M927 1579h0M907 1580h0M925 1579h0M913 1576h0M920 1584h0M922 1583h0M931 1588h0M924 1581h0M904 1584h0M921 1584h0M906 1579h0M938 1582h0M913 1580h0M907 1578h0M912 1577h0M905 1572h0M917 1579h0M915 1584h0M928 1583h0M934 1585h0M930 1581h0M918 1578h0M914 1585h0M908 1575h0M907 1582h0M909 1576h0M914 1580h0M902 1587h0M910 1572h0M931 1588h0M936 1583h0M914 1583h0M912 1580h0M917 1585h0M910 1576h0M908 1573h0M928 1588h0M923 1576h0M919 1576h0M915 1578h0M913 1580h0M933 1589h0M923 1585h0M931 1580h0M920 1581h0M912 1581h0M940 1586h0M915 1577h0M928 1584h0M908 1583h0M923 1579h0M912 1579h0M938 1587h0M930 1586h0M930 1582h0M903 1585h0M925 1584h0M915 1575h0M915 1582h0M924 1577h0M911 1581h0M933 1583h0M941 1588h0M912 1580h0M924 1582h0M915 1579h0M915 1576h0M906 1578h0M917 1575h0M923 1575h0M917 1578h0M856 1474h0M858 1474h0M844 1470h0M867 1481h0M860 1487h0M850 1478h0M860 1474h0M843 1477h0M859 1475h0M851 1479h0M853 1483h0M842 1478h0M862 1474h0M861 1478h0M836 1470h0M850 1471h0M847 1473h0M849 1473h0M862 1480h0M843 1469h0M842 1481h0M838 1476h0M852 1480h0M858 1480h0M857 1478h0M863 1482h0M852 1477h0M855 1481h0M850 1475h0M838 1478h0M841 1473h0M861 1476h0M839 1471h0M848 1478h0M848 1480h0M851 1477h0M838 1478h0M860 1482h0M834 1463h0M839 1474h0M831 1468h0M851 1474h0M855 1479h0M850 1481h0M842 1468h0M828 1468h0M861 1484h0M836 1473h0M853 1480h0M848 1472h0M835 1468h0M844 1473h0M835 1468h0M861 1475h0M869 1479h0M855 1475h0M830 1462h0M858 1477h0M852 1481h0M853 1472h0M850 1481h0M846 1473h0M842 1472h0M855 1476h0M834 1467h0M843 1469h0M848 1485h0M868 1486h0M848 1475h0M859 1484h0M854 1480h0M840 1468h0M859 1475h0M867 1476h0M850 1479h0M852 1480h0M833 1469h0M838 1470h0M839 1471h0M868 1482h0M858 1476h0M851 1472h0M854 1483h0M847 1473h0M863 1482h0M855 1478h0M850 1471h0M851 1473h0M847 1475h0M852 1481h0M855 1478h0M845 1472h0M848 1472h0M839 1466h0M852 1475h0M852 1478h0M856 1478h0M845 1470h0M869 1482h0M855 1474h0M844 1475h0M847 1475h0M841 1471h0M853 1477h0M828 1465h0M843 1471h0M839 1471h0M846 1481h0M851 1476h0M858 1479h0M837 1469h0M837 1473h0M856 1472h0M854 1472h0M840 1474h0M848 1472h0M863 1476h0M847 1476h0M858 1479h0M858 1477h0M846 1471h0M852 1477h0M845 1469h0M841 1467h0M869 1483h0M838 1476h0M844 1470h0M843 1475h0M849 1475h0M837 1475h0M858 1478h0M838 1475h0M834 1461h0M838 1467h0M849 1474h0M846 1477h0M856 1479h0M862 1484h0M847 1474h0M846 1477h0M837 1473h0M850 1471h0M842 1476h0M839 1469h0M835 1466h0M855 1479h0M843 1471h0M837 1469h0M843 1470h0M844 1474h0M851 1472h0M859 1483h0M835 1470h0M854 1475h0M863 1488h0M856 1479h0M834 1471h0M845 1472h0M849 1472h0M845 1470h0M849 1478h0M843 1469h0M850 1474h0M856 1481h0M846 1471h0M850 1470h0M860 1473h0M854 1482h0M849 1474h0M848 1473h0M850 1470h0M851 1472h0M848 1475h0M850 1470h0M835 1464h0M854 1476h0M858 1473h0M846 1478h0M861 1481h0M865 1478h0M858 1476h0M844 1477h0M834 1469h0M850 1472h0M829 1465h0M844 1474h0M835 1467h0M851 1472h0M853 1477h0M840 1467h0M862 1476h0M858 1484h0M841 1474h0M856 1477h0M867 1477h0M857 1475h0M860 1476h0M854 1476h0M836 1464h0M852 1476h0M840 1473h0M839 1471h0M847 1476h0M848 1474h0M846 1471h0M847 1480h0M865 1484h0M853 1471h0M840 1470h0M835 1465h0M842 1472h0M870 1484h0M864 1475h0M845 1467h0M864 1481h0M857 1474h0M839 1470h0M841 1477h0M845 1484h0M859 1483h0M810 1714h0M834 1744h0M813 1733h0M810 1726h0M804 1721h0M815 1737h0M809 1725h0M824 1740h0M812 1739h0M853 1765h0M801 1722h0M850 1760h0M814 1735h0M807 1738h0M839 1751h0M821 1737h0M818 1729h0M837 1754h0M837 1746h0M820 1734h0M815 1728h0M841 1752h0M808 1726h0M821 1734h0M812 1733h0M809 1726h0M825 1741h0M812 1728h0M821 1728h0M835 1749h0M816 1735h0M819 1739h0M831 1747h0M843 1759h0M820 1734h0M805 1719h0M834 1745h0M824 1731h0M818 1736h0M798 1718h0M824 1752h0M795 1703h0M801 1718h0M821 1727h0M814 1730h0M823 1753h0M837 1751h0M822 1739h0M815 1721h0M832 1754h0M818 1736h0M832 1750h0M813 1739h0M821 1733h0M827 1740h0M820 1749h0M821 1736h0M813 1725h0M812 1736h0M818 1736h0M811 1738h0M820 1734h0M813 1729h0M816 1745h0M814 1723h0M829 1741h0M814 1717h0M817 1744h0M846 1756h0M843 1750h0M821 1733h0M825 1749h0M841 1764h0M819 1730h0M831 1751h0M826 1738h0M817 1740h0M825 1740h0M823 1742h0M836 1752h0M831 1749h0M821 1742h0M799 1722h0M836 1752h0M818 1734h0M812 1728h0M825 1737h0M814 1744h0M806 1725h0M826 1739h0M819 1736h0M828 1743h0M816 1725h0M831 1751h0M829 1747h0M813 1723h0M799 1705h0M817 1740h0M817 1735h0M845 1761h0M818 1738h0M801 1718h0M798 1723h0M830 1737h0M817 1737h0M837 1751h0M810 1723h0M831 1747h0M824 1747h0M821 1743h0M826 1752h0M841 1758h0M832 1758h0M809 1734h0M842 1757h0M820 1738h0M849 1752h0M818 1731h0M841 1749h0M812 1728h0M846 1754h0M824 1733h0M817 1733h0M819 1745h0M820 1740h0M812 1731h0M813 1725h0M849 1759h0M820 1745h0M834 1750h0M840 1751h0M808 1735h0M808 1736h0M810 1738h0M835 1743h0M830 1759h0M823 1749h0M817 1746h0M824 1734h0M843 1752h0M852 1752h0M833 1753h0M816 1733h0M821 1737h0M808 1732h0M822 1739h0M803 1722h0M817 1732h0M820 1733h0M827 1748h0M830 1752h0M824 1738h0M820 1744h0M818 1741h0M831 1741h0M820 1738h0M804 1726h0M818 1734h0M803 1716h0M845 1748h0M835 1752h0M821 1748h0M801 1729h0M856 1763h0M832 1741h0M829 1745h0M821 1748h0M825 1741h0M799 1700h0M819 1735h0M829 1748h0M815 1727h0M831 1742h0M820 1744h0M825 1745h0M827 1743h0M802 1724h0M809 1725h0M821 1740h0M820 1749h0M839 1748h0M815 1745h0M813 1741h0M812 1741h0M826 1752h0M811 1725h0M831 1750h0M840 1749h0M814 1732h0M809 1732h0M828 1747h0M833 1750h0M814 1745h0M821 1749h0M821 1744h0M813 1741h0M823 1729h0M844 1756h0M813 1731h0M810 1737h0M822 1734h0M812 1737h0M822 1745h0M834 1752h0M825 1733h0M834 1759h0M815 1734h0M802 1722h0M839 1754h0M823 1749h0M825 1750h0M816 1737h0M823 1742h0M815 1739h0M826 1750h0M814 1735h0M814 1724h0M830 1754h0M809 1734h0M816 1736h0" stroke="#a01818" stroke-width="1.7" stroke-linecap="round" opacity="0.85"/>
<rect x="1005.6" y="1274" width="235.8" height="233.4" fill="#000"/>
<rect x="1248.4" y="1274.9" width="230.6" height="231.1" fill="#000"/>
<rect x="1486.5" y="1276.7" width="231.8" height="230" fill="#000"/>
<rect x="1008" y="1551.4" width="231" height="228.1" fill="#000"/>
<rect x="1247" y="1552.7" width="232" height="226.8" fill="#000"/>
<rect x="1489.6" y="1551.4" width="223.7" height="228.1" fill="#000"/>
<g fill="#fff" opacity="0.8" filter="url(#bl3)"><ellipse cx="1145.3" cy="1296.2" rx="7.6" ry="4.5" transform="rotate(13 1145.3 1296.2)"/><ellipse cx="1079.8" cy="1472.8" rx="13.1" ry="6.3" transform="rotate(208 1079.8 1472.8)"/><ellipse cx="1412.2" cy="1306.5" rx="13.7" ry="4.5" transform="rotate(30 1412.2 1306.5)"/><ellipse cx="1330.2" cy="1482.6" rx="13.9" ry="4.5" transform="rotate(200 1330.2 1482.6)"/><ellipse cx="1170" cy="1578.1" rx="15.6" ry="5.4" transform="rotate(28 1170 1578.1)"/><ellipse cx="1063.2" cy="1742.7" rx="16.9" ry="6.3" transform="rotate(218 1063.2 1742.7)"/><ellipse cx="1421.5" cy="1591.1" rx="17.9" ry="6.3" transform="rotate(38 1421.5 1591.1)"/><ellipse cx="1301.3" cy="1739.5" rx="19.6" ry="6.3" transform="rotate(220 1301.3 1739.5)"/></g>
<path d="M1152 1305h0M1150 1297h0M1131 1291h0M1133 1289h0M1142 1303h0M1148 1301h0M1157 1306h0M1149 1302h0M1145 1292h0M1143 1308h0M1150 1290h0M1162 1292h0M1143 1296h0M1147 1295h0M1142 1299h0M1162 1306h0M1132 1292h0M1140 1297h0M1144 1300h0M1152 1296h0M1139 1296h0M1141 1295h0M1147 1303h0M1140 1296h0M1138 1287h0M1139 1304h0M1139 1293h0M1150 1304h0M1143 1288h0M1144 1285h0M1150 1301h0M1147 1296h0M1134 1290h0M1137 1295h0M1153 1303h0M1146 1299h0M1143 1296h0M1151 1291h0M1147 1297h0M1138 1289h0M1138 1297h0M1140 1291h0M1141 1293h0M1141 1288h0M1142 1292h0M1158 1297h0M1151 1301h0M1150 1299h0M1149 1299h0M1148 1295h0M1138 1296h0M1138 1285h0M1142 1298h0M1131 1284h0M1135 1300h0M1152 1294h0M1148 1300h0M1158 1291h0M1147 1292h0M1147 1306h0M1146 1298h0M1142 1297h0M1139 1299h0M1140 1290h0M1143 1296h0M1154 1294h0M1143 1295h0M1153 1304h0M1128 1290h0M1149 1298h0M1135 1297h0M1134 1293h0M1147 1295h0M1152 1296h0M1152 1297h0M1145 1305h0M1143 1295h0M1148 1297h0M1143 1292h0M1152 1301h0M1157 1306h0M1145 1297h0M1147 1294h0M1138 1294h0M1141 1301h0M1150 1296h0M1151 1286h0M1138 1289h0M1145 1297h0M1134 1297h0M1145 1300h0M1138 1295h0M1143 1296h0M1149 1297h0M1136 1296h0M1158 1304h0M1144 1296h0M1146 1295h0M1148 1287h0M1139 1307h0M1139 1302h0M1143 1291h0M1150 1301h0M1139 1298h0M1139 1297h0M1140 1300h0M1146 1298h0M1145 1296h0M1159 1297h0M1155 1292h0M1145 1297h0M1131 1289h0M1142 1302h0M1155 1293h0M1147 1297h0M1155 1300h0M1128 1301h0M1146 1290h0M1153 1292h0M1139 1301h0M1145 1299h0M1149 1294h0M1158 1302h0M1144 1303h0M1135 1296h0M1142 1292h0M1143 1301h0M1145 1294h0M1151 1297h0M1152 1291h0M1148 1299h0M1141 1290h0M1141 1306h0M1149 1301h0M1138 1295h0M1132 1295h0M1148 1298h0M1131 1296h0M1143 1296h0M1141 1293h0M1134 1296h0M1142 1301h0M1156 1298h0M1145 1305h0M1153 1301h0M1142 1287h0M1154 1294h0M1135 1292h0M1159 1297h0M1144 1301h0M1165 1300h0M1146 1297h0M1131 1294h0M1151 1289h0M1128 1288h0M1141 1288h0M1151 1303h0M1133 1294h0M1136 1289h0M1143 1302h0M1150 1296h0M1135 1291h0M1145 1288h0M1135 1295h0M1146 1302h0M1139 1289h0M1142 1297h0M1132 1290h0M1155 1302h0M1147 1297h0M1153 1299h0M1135 1295h0M1148 1295h0M1132 1290h0M1133 1290h0M1147 1301h0M1147 1295h0M1141 1290h0M1146 1295h0M1145 1302h0M1138 1297h0M1143 1302h0M1141 1297h0M1152 1295h0M1152 1303h0M1153 1300h0M1139 1298h0M1141 1295h0M1139 1302h0M1138 1293h0M1137 1284h0M1133 1293h0M1138 1295h0M1157 1298h0M1151 1291h0M1149 1306h0M1158 1298h0M1135 1297h0M1152 1296h0M1147 1294h0M1142 1284h0M1145 1303h0M1151 1311h0M1153 1293h0M1150 1298h0M1145 1292h0M1141 1296h0M1143 1294h0M1148 1294h0M1126 1288h0M1141 1288h0M1150 1307h0M1144 1300h0M1137 1293h0M1151 1293h0M1149 1300h0M1168 1296h0M1150 1296h0M1149 1294h0M1142 1301h0M1139 1299h0M1151 1293h0M1153 1303h0M1154 1298h0M1142 1300h0M1151 1291h0M1141 1293h0M1156 1293h0M1147 1294h0M1146 1303h0M1145 1295h0M1155 1302h0M1160 1291h0M1150 1300h0M1146 1298h0M1159 1291h0M1156 1298h0M1155 1294h0M1150 1294h0M1145 1293h0M1154 1300h0M1142 1294h0M1156 1299h0M1146 1300h0M1130 1290h0M1130 1293h0M1151 1303h0M1138 1299h0M1138 1294h0M1152 1296h0M1146 1298h0M1145 1287h0M1131 1286h0M1162 1302h0M1144 1299h0M1150 1298h0M1148 1297h0M1146 1302h0M1149 1296h0M1165 1298h0M1139 1293h0M1138 1295h0M1130 1299h0M1155 1301h0M1149 1299h0M1147 1297h0M1138 1304h0M1144 1305h0M1135 1296h0M1133 1295h0M1133 1288h0M1139 1298h0M1135 1306h0M1141 1296h0M1149 1302h0M1145 1298h0M1134 1291h0M1145 1300h0M1139 1297h0M1138 1289h0M1154 1296h0M1144 1301h0M1137 1299h0M1137 1310h0M1145 1292h0M1139 1292h0M1135 1288h0M1117 1291h0M1148 1296h0M1161 1298h0M1141 1306h0M1147 1298h0M1135 1285h0M1135 1283h0M1156 1301h0M1156 1299h0M1138 1299h0M1163 1298h0M1123 1288h0M1151 1299h0M1150 1291h0M1179 1301h0M1195 1316h0M1206 1329h0M1200 1315h0M1201 1321h0M1179 1313h0M1185 1310h0M1203 1323h0M1190 1306h0M1172 1299h0M1173 1308h0M1193 1312h0M1189 1316h0M1161 1293h0M1194 1321h0M1193 1319h0M1183 1303h0M1190 1317h0M1179 1301h0M1193 1315h0M1202 1324h0M1200 1315h0M1202 1316h0M1185 1305h0M1185 1310h0M1182 1302h0M1171 1304h0M1169 1295h0M1188 1310h0M1191 1314h0M1186 1309h0M1179 1298h0M1193 1311h0M1197 1319h0M1190 1310h0M1168 1293h0M1204 1321h0M1203 1321h0M1194 1319h0M1080 1462h0M1106 1479h0M1068 1469h0M1063 1457h0M1072 1471h0M1065 1468h0M1091 1481h0M1095 1474h0M1089 1467h0M1065 1472h0M1073 1469h0M1071 1464h0M1074 1467h0M1081 1474h0M1067 1471h0M1063 1454h0M1106 1485h0M1076 1467h0M1062 1469h0M1102 1482h0M1079 1479h0M1078 1471h0M1080 1471h0M1073 1473h0M1087 1474h0M1072 1470h0M1087 1471h0M1076 1471h0M1048 1440h0M1104 1470h0M1048 1460h0M1084 1475h0M1080 1464h0M1078 1488h0M1118 1486h0M1085 1486h0M1079 1478h0M1072 1482h0M1086 1475h0M1096 1495h0M1077 1467h0M1066 1453h0M1090 1461h0M1083 1478h0M1090 1480h0M1088 1473h0M1067 1473h0M1068 1484h0M1078 1475h0M1092 1484h0M1076 1471h0M1089 1484h0M1074 1466h0M1086 1469h0M1069 1466h0M1092 1484h0M1080 1473h0M1082 1482h0M1086 1482h0M1059 1461h0M1079 1487h0M1105 1474h0M1064 1460h0M1098 1475h0M1070 1473h0M1101 1483h0M1086 1465h0M1089 1477h0M1073 1480h0M1095 1478h0M1096 1467h0M1066 1475h0M1070 1464h0M1091 1488h0M1084 1479h0M1088 1471h0M1080 1460h0M1073 1486h0M1076 1484h0M1110 1482h0M1101 1487h0M1075 1466h0M1077 1477h0M1087 1476h0M1078 1465h0M1078 1483h0M1087 1472h0M1072 1480h0M1077 1464h0M1092 1471h0M1079 1475h0M1082 1475h0M1061 1456h0M1073 1462h0M1075 1470h0M1090 1466h0M1089 1470h0M1067 1457h0M1063 1468h0M1078 1461h0M1087 1474h0M1086 1460h0M1087 1475h0M1073 1465h0M1086 1478h0M1082 1462h0M1099 1482h0M1095 1489h0M1099 1480h0M1059 1477h0M1088 1470h0M1095 1477h0M1076 1468h0M1076 1462h0M1098 1469h0M1101 1486h0M1077 1478h0M1069 1474h0M1087 1478h0M1091 1470h0M1065 1459h0M1067 1454h0M1089 1484h0M1074 1477h0M1083 1469h0M1050 1430h0M1094 1469h0M1080 1468h0M1074 1468h0M1072 1467h0M1083 1481h0M1063 1477h0M1084 1469h0M1099 1483h0M1061 1470h0M1076 1475h0M1076 1476h0M1075 1464h0M1077 1475h0M1069 1484h0M1091 1481h0M1082 1479h0M1054 1458h0M1084 1463h0M1107 1494h0M1093 1474h0M1053 1471h0M1087 1489h0M1083 1477h0M1102 1473h0M1068 1475h0M1084 1483h0M1074 1478h0M1100 1464h0M1076 1471h0M1091 1473h0M1104 1497h0M1085 1461h0M1066 1472h0M1080 1471h0M1075 1462h0M1102 1472h0M1103 1486h0M1079 1460h0M1068 1463h0M1123 1490h0M1092 1477h0M1107 1472h0M1079 1481h0M1100 1482h0M1079 1468h0M1103 1487h0M1058 1457h0M1086 1482h0M1067 1461h0M1084 1479h0M1081 1483h0M1107 1490h0M1076 1453h0M1091 1471h0M1075 1471h0M1062 1451h0M1046 1465h0M1068 1479h0M1074 1477h0M1086 1469h0M1082 1488h0M1078 1457h0M1077 1476h0M1077 1473h0M1057 1458h0M1082 1468h0M1067 1474h0M1102 1482h0M1065 1453h0M1065 1461h0M1087 1468h0M1082 1464h0M1077 1468h0M1097 1466h0M1084 1473h0M1086 1480h0M1069 1474h0M1078 1487h0M1105 1480h0M1092 1478h0M1093 1487h0M1087 1469h0M1096 1476h0M1089 1470h0M1088 1471h0M1101 1483h0M1069 1465h0M1057 1444h0M1073 1483h0M1083 1480h0M1090 1483h0M1068 1473h0M1078 1463h0M1071 1478h0M1081 1476h0M1075 1466h0M1097 1473h0M1077 1461h0M1071 1465h0M1084 1469h0M1083 1467h0M1087 1477h0M1116 1483h0M1100 1477h0M1080 1472h0M1091 1471h0M1069 1465h0M1070 1443h0M1087 1485h0M1080 1468h0M1069 1459h0M1092 1486h0M1088 1468h0M1068 1459h0M1081 1479h0M1081 1482h0M1066 1478h0M1093 1483h0M1098 1474h0M1079 1477h0M1066 1469h0M1091 1491h0M1087 1466h0M1090 1463h0M1065 1466h0M1084 1484h0M1094 1471h0M1070 1455h0M1076 1459h0M1074 1485h0M1095 1472h0M1079 1470h0M1098 1487h0M1072 1466h0M1061 1463h0M1071 1467h0M1077 1456h0M1093 1472h0M1095 1480h0M1096 1470h0M1070 1471h0M1052 1469h0M1088 1492h0M1069 1466h0M1076 1465h0M1086 1480h0M1070 1456h0M1088 1466h0M1080 1475h0M1102 1478h0M1107 1472h0M1075 1473h0M1082 1462h0M1073 1471h0M1053 1448h0M1077 1449h0M1072 1472h0M1074 1464h0M1090 1475h0M1071 1475h0M1089 1472h0M1083 1478h0M1083 1473h0M1087 1470h0M1079 1480h0M1084 1476h0M1082 1476h0M1049 1444h0M1077 1471h0M1072 1460h0M1083 1472h0M1069 1461h0M1083 1464h0M1086 1465h0M1091 1473h0M1076 1474h0M1083 1472h0M1070 1462h0M1073 1473h0M1092 1468h0M1083 1480h0M1067 1472h0M1069 1464h0M1106 1485h0M1087 1465h0M1081 1460h0M1069 1448h0M1076 1478h0M1077 1466h0M1107 1468h0M1079 1473h0M1094 1477h0M1092 1490h0M1058 1468h0M1104 1483h0M1054 1464h0M1078 1468h0M1070 1459h0M1076 1458h0M1073 1465h0M1088 1479h0M1073 1465h0M1075 1456h0M1078 1478h0M1082 1471h0M1060 1471h0M1075 1480h0M1079 1466h0M1084 1482h0M1079 1476h0M1079 1473h0M1061 1459h0M1091 1481h0M1085 1477h0M1072 1453h0M1087 1470h0M1062 1450h0M1096 1475h0M1090 1461h0M1090 1484h0M1080 1471h0M1070 1469h0M1097 1487h0M1064 1465h0M1079 1483h0M1075 1477h0M1094 1471h0M1087 1461h0M1095 1469h0M1097 1465h0M1074 1470h0M1096 1478h0M1064 1475h0M1079 1481h0M1078 1462h0M1074 1466h0M1065 1445h0M1078 1471h0M1062 1449h0M1091 1461h0M1073 1459h0M1088 1471h0M1070 1466h0M1067 1464h0M1075 1469h0M1078 1470h0M1083 1480h0M1087 1475h0M1066 1460h0M1065 1456h0M1054 1456h0M1075 1479h0M1094 1478h0M1066 1457h0M1107 1497h0M1021 1364h0M1119 1496h0M1029 1346h0M1018 1404h0M1195 1309h0M1035 1450h0M1227 1370h0M1142 1286h0M1040 1326h0M1116 1497h0M1045 1466h0M1171 1295h0M1114 1282h0M1207 1457h0M1077 1488h0M1200 1317h0M1155 1288h0M1111 1284h0M1061 1302h0M1164 1490h0M1191 1308h0M1039 1456h0M1232 1398h0M1102 1287h0M1231 1392h0M1061 1304h0M1133 1285h0M1126 1497h0M1111 1284h0M1222 1346h0M1033 1449h0M1060 1479h0M1150 1288h0M1173 1294h0M1170 1486h0M1200 1465h0M1214 1335h0M1224 1431h0M1227 1358h0M1196 1469h0M1069 1300h0M1145 1496h0M1186 1479h0M1121 1285h0M1116 1285h0M1088 1493h0M1064 1304h0M1096 1495h0M1045 1463h0M1147 1495h0M1229 1402h0M1203 1318h0M1227 1419h0M1175 1297h0M1056 1474h0M1056 1476h0M1231 1402h0M1103 1284h0M1230 1386h0M1430 1325h0M1424 1316h0M1427 1313h0M1403 1312h0M1419 1322h0M1417 1315h0M1409 1306h0M1388 1310h0M1446 1325h0M1425 1317h0M1388 1305h0M1420 1303h0M1419 1307h0M1402 1302h0M1388 1306h0M1411 1309h0M1409 1314h0M1410 1302h0M1424 1314h0M1412 1303h0M1401 1306h0M1424 1320h0M1409 1301h0M1430 1305h0M1382 1297h0M1390 1302h0M1383 1294h0M1419 1310h0M1408 1310h0M1413 1300h0M1403 1301h0M1413 1315h0M1412 1314h0M1418 1305h0M1418 1308h0M1403 1300h0M1425 1304h0M1400 1305h0M1415 1316h0M1438 1313h0M1395 1294h0M1399 1291h0M1434 1318h0M1429 1320h0M1414 1310h0M1404 1300h0M1406 1306h0M1401 1297h0M1414 1311h0M1433 1320h0M1379 1293h0M1418 1314h0M1422 1310h0M1436 1317h0M1414 1304h0M1420 1313h0M1430 1310h0M1398 1315h0M1428 1318h0M1417 1316h0M1394 1299h0M1396 1300h0M1403 1293h0M1406 1301h0M1397 1294h0M1407 1298h0M1410 1300h0M1406 1310h0M1406 1314h0M1405 1301h0M1404 1304h0M1395 1301h0M1422 1299h0M1389 1298h0M1396 1295h0M1417 1311h0M1415 1312h0M1420 1313h0M1419 1301h0M1431 1326h0M1407 1309h0M1414 1311h0M1413 1307h0M1378 1303h0M1387 1294h0M1394 1306h0M1409 1306h0M1411 1316h0M1419 1311h0M1409 1304h0M1407 1307h0M1411 1307h0M1418 1317h0M1399 1296h0M1402 1300h0M1415 1305h0M1417 1307h0M1425 1308h0M1429 1324h0M1424 1313h0M1403 1304h0M1406 1316h0M1413 1311h0M1406 1308h0M1398 1307h0M1411 1309h0M1385 1285h0M1408 1301h0M1393 1297h0M1405 1299h0M1433 1324h0M1413 1307h0M1404 1304h0M1441 1326h0M1432 1323h0M1430 1326h0M1421 1316h0M1392 1296h0M1431 1318h0M1421 1311h0M1404 1304h0M1414 1311h0M1404 1312h0M1433 1331h0M1419 1306h0M1417 1303h0M1424 1312h0M1422 1306h0M1426 1320h0M1402 1303h0M1418 1318h0M1408 1302h0M1416 1312h0M1404 1304h0M1406 1301h0M1417 1305h0M1401 1296h0M1412 1309h0M1405 1303h0M1408 1311h0M1412 1300h0M1441 1336h0M1410 1305h0M1407 1308h0M1388 1297h0M1414 1298h0M1423 1311h0M1407 1294h0M1404 1294h0M1431 1315h0M1414 1306h0M1420 1313h0M1414 1304h0M1409 1307h0M1403 1296h0M1400 1310h0M1410 1311h0M1408 1300h0M1429 1324h0M1403 1296h0M1411 1306h0M1402 1306h0M1425 1317h0M1454 1338h0M1411 1307h0M1402 1300h0M1383 1302h0M1415 1311h0M1405 1299h0M1411 1314h0M1410 1303h0M1405 1300h0M1425 1313h0M1416 1318h0M1415 1305h0M1414 1315h0M1417 1305h0M1421 1327h0M1401 1294h0M1409 1299h0M1420 1312h0M1426 1308h0M1420 1314h0M1404 1300h0M1440 1343h0M1406 1303h0M1439 1331h0M1397 1295h0M1423 1310h0M1414 1307h0M1406 1302h0M1425 1312h0M1408 1310h0M1424 1307h0M1419 1306h0M1413 1316h0M1442 1341h0M1415 1311h0M1423 1311h0M1421 1314h0M1400 1301h0M1416 1308h0M1401 1302h0M1440 1321h0M1413 1297h0M1422 1313h0M1409 1307h0M1432 1326h0M1415 1304h0M1413 1303h0M1435 1313h0M1411 1305h0M1413 1305h0M1431 1318h0M1409 1309h0M1397 1288h0M1416 1311h0M1424 1313h0M1395 1300h0M1408 1306h0M1409 1300h0M1389 1301h0M1399 1290h0M1408 1305h0M1404 1290h0M1418 1308h0M1407 1318h0M1387 1300h0M1417 1306h0M1412 1310h0M1420 1313h0M1444 1319h0M1413 1304h0M1432 1318h0M1421 1318h0M1413 1306h0M1404 1299h0M1389 1298h0M1411 1299h0M1430 1315h0M1408 1309h0M1392 1296h0M1407 1303h0M1416 1311h0M1400 1301h0M1403 1305h0M1401 1308h0M1420 1308h0M1410 1305h0M1410 1301h0M1435 1313h0M1426 1313h0M1405 1305h0M1395 1292h0M1407 1311h0M1430 1321h0M1435 1330h0M1425 1310h0M1393 1295h0M1432 1315h0M1408 1312h0M1405 1304h0M1398 1302h0M1416 1313h0M1404 1302h0M1408 1304h0M1407 1297h0M1393 1299h0M1417 1309h0M1426 1305h0M1409 1304h0M1410 1311h0M1403 1312h0M1404 1301h0M1408 1298h0M1408 1307h0M1414 1307h0M1420 1313h0M1427 1318h0M1423 1312h0M1418 1305h0M1403 1305h0M1415 1307h0M1412 1306h0M1408 1306h0M1421 1322h0M1414 1316h0M1405 1298h0M1416 1310h0M1425 1318h0M1416 1307h0M1419 1303h0M1422 1305h0M1409 1302h0M1426 1321h0M1413 1306h0M1402 1302h0M1416 1308h0M1432 1334h0M1413 1311h0M1411 1310h0M1423 1316h0M1429 1313h0M1416 1304h0M1415 1321h0M1410 1297h0M1390 1301h0M1417 1308h0M1406 1305h0M1417 1306h0M1392 1295h0M1410 1301h0M1392 1303h0M1409 1303h0M1401 1290h0M1400 1305h0M1418 1322h0M1426 1312h0M1400 1304h0M1418 1315h0M1393 1303h0M1401 1301h0M1407 1312h0M1414 1309h0M1387 1295h0M1444 1324h0M1409 1303h0M1405 1301h0M1414 1320h0M1403 1309h0M1435 1324h0M1414 1295h0M1415 1319h0M1414 1304h0M1407 1293h0M1417 1304h0M1406 1304h0M1414 1300h0M1409 1296h0M1408 1307h0M1413 1319h0M1407 1311h0M1409 1304h0M1419 1311h0M1416 1323h0M1417 1310h0M1421 1313h0M1379 1294h0M1422 1315h0M1417 1303h0M1421 1312h0M1423 1311h0M1395 1306h0M1404 1303h0M1381 1293h0M1411 1306h0M1411 1302h0M1420 1309h0M1418 1309h0M1435 1323h0M1394 1307h0M1405 1304h0M1408 1308h0M1407 1319h0M1420 1309h0M1419 1319h0M1402 1303h0M1417 1324h0M1417 1298h0M1414 1320h0M1399 1306h0M1426 1312h0M1412 1310h0M1397 1315h0M1405 1310h0M1403 1306h0M1410 1300h0M1414 1301h0M1413 1310h0M1416 1311h0M1326 1487h0M1337 1483h0M1315 1471h0M1338 1487h0M1344 1494h0M1342 1485h0M1339 1481h0M1371 1489h0M1334 1484h0M1331 1477h0M1357 1485h0M1352 1480h0M1339 1476h0M1337 1488h0M1318 1476h0M1337 1474h0M1341 1493h0M1319 1476h0M1361 1495h0M1336 1480h0M1341 1479h0M1325 1475h0M1312 1468h0M1337 1477h0M1331 1488h0M1354 1487h0M1340 1488h0M1328 1487h0M1320 1484h0M1323 1480h0M1346 1490h0M1341 1482h0M1328 1486h0M1316 1478h0M1325 1478h0M1307 1475h0M1331 1484h0M1301 1456h0M1341 1493h0M1330 1483h0M1294 1459h0M1328 1490h0M1334 1485h0M1316 1473h0M1309 1470h0M1325 1484h0M1338 1489h0M1309 1477h0M1317 1474h0M1325 1489h0M1334 1494h0M1322 1473h0M1352 1488h0M1339 1484h0M1320 1483h0M1364 1482h0M1338 1491h0M1334 1480h0M1325 1483h0M1330 1486h0M1304 1472h0M1330 1479h0M1332 1482h0M1328 1481h0M1335 1484h0M1324 1479h0M1340 1484h0M1333 1479h0M1335 1487h0M1336 1482h0M1301 1473h0M1326 1476h0M1328 1485h0M1316 1477h0M1330 1481h0M1317 1476h0M1312 1467h0M1323 1472h0M1341 1492h0M1339 1483h0M1347 1496h0M1319 1476h0M1331 1483h0M1347 1492h0M1338 1474h0M1322 1487h0M1342 1481h0M1325 1480h0M1362 1481h0M1327 1475h0M1337 1486h0M1319 1477h0M1291 1461h0M1328 1484h0M1307 1468h0M1340 1492h0M1317 1477h0M1352 1486h0M1349 1496h0M1325 1483h0M1340 1474h0M1299 1476h0M1334 1485h0M1336 1491h0M1349 1491h0M1299 1470h0M1361 1490h0M1333 1488h0M1307 1473h0M1318 1480h0M1358 1484h0M1324 1474h0M1377 1484h0M1340 1486h0M1324 1473h0M1345 1488h0M1311 1467h0M1343 1481h0M1331 1489h0M1330 1477h0M1356 1495h0M1332 1489h0M1314 1462h0M1311 1475h0M1332 1485h0M1330 1480h0M1346 1484h0M1340 1484h0M1333 1486h0M1309 1472h0M1327 1472h0M1365 1498h0M1342 1486h0M1331 1487h0M1320 1467h0M1334 1491h0M1323 1488h0M1318 1483h0M1321 1481h0M1374 1491h0M1355 1486h0M1314 1469h0M1336 1480h0M1341 1479h0M1318 1468h0M1363 1497h0M1341 1490h0M1324 1470h0M1329 1485h0M1332 1494h0M1327 1486h0M1333 1480h0M1340 1480h0M1319 1473h0M1361 1485h0M1324 1465h0M1323 1467h0M1333 1485h0M1331 1483h0M1339 1478h0M1328 1488h0M1322 1477h0M1344 1482h0M1333 1486h0M1318 1485h0M1340 1477h0M1336 1489h0M1352 1483h0M1320 1477h0M1325 1482h0M1335 1477h0M1313 1470h0M1301 1469h0M1331 1476h0M1322 1483h0M1361 1490h0M1338 1487h0M1332 1478h0M1326 1485h0M1325 1491h0M1336 1472h0M1287 1451h0M1335 1481h0M1337 1483h0M1308 1473h0M1315 1481h0M1330 1482h0M1322 1484h0M1318 1488h0M1314 1475h0M1313 1484h0M1320 1479h0M1328 1474h0M1306 1475h0M1339 1484h0M1331 1490h0M1344 1487h0M1303 1471h0M1317 1475h0M1313 1474h0M1313 1474h0M1325 1488h0M1317 1470h0M1325 1478h0M1339 1487h0M1317 1477h0M1355 1481h0M1325 1480h0M1302 1459h0M1352 1483h0M1317 1475h0M1348 1487h0M1342 1487h0M1343 1484h0M1334 1475h0M1312 1478h0M1331 1475h0M1337 1482h0M1351 1486h0M1350 1491h0M1316 1476h0M1334 1469h0M1335 1475h0M1326 1480h0M1337 1470h0M1344 1484h0M1339 1492h0M1341 1495h0M1343 1481h0M1340 1481h0M1332 1485h0M1335 1489h0M1333 1477h0M1324 1477h0M1308 1482h0M1317 1486h0M1310 1479h0M1351 1488h0M1340 1484h0M1332 1483h0M1357 1490h0M1312 1481h0M1319 1477h0M1337 1477h0M1349 1492h0M1304 1468h0M1325 1488h0M1317 1480h0M1306 1468h0M1327 1483h0M1342 1486h0M1330 1481h0M1319 1470h0M1330 1483h0M1328 1486h0M1341 1484h0M1362 1482h0M1344 1487h0M1327 1465h0M1333 1487h0M1333 1481h0M1340 1483h0M1319 1483h0M1331 1481h0M1328 1483h0M1335 1486h0M1340 1486h0M1329 1474h0M1305 1466h0M1321 1478h0M1341 1486h0M1370 1489h0M1333 1485h0M1356 1490h0M1348 1493h0M1319 1472h0M1338 1486h0M1341 1481h0M1311 1485h0M1358 1491h0M1339 1480h0M1323 1477h0M1331 1475h0M1311 1464h0M1308 1477h0M1339 1496h0M1350 1494h0M1328 1486h0M1334 1482h0M1322 1484h0M1344 1481h0M1340 1491h0M1342 1481h0M1337 1478h0M1302 1462h0M1343 1492h0M1317 1483h0M1325 1482h0M1316 1477h0M1321 1476h0M1363 1498h0M1343 1284h0M1272 1448h0M1389 1495h0M1293 1469h0M1472 1391h0M1254 1395h0M1266 1433h0M1426 1477h0M1433 1310h0M1433 1310h0M1337 1492h0M1428 1304h0M1343 1496h0M1353 1497h0M1259 1381h0M1259 1412h0M1383 1285h0M1315 1294h0M1446 1323h0M1257 1411h0M1352 1494h0M1375 1497h0M1416 1296h0M1301 1476h0M1441 1461h0M1285 1462h0M1360 1498h0M1266 1349h0M1375 1285h0M1277 1328h0M1309 1481h0M1397 1291h0M1380 1284h0M1311 1297h0M1293 1309h0M1462 1430h0M1461 1439h0M1316 1487h0M1468 1415h0M1302 1478h0M1380 1285h0M1467 1366h0M1262 1425h0M1300 1306h0M1468 1361h0M1273 1332h0M1468 1369h0M1432 1472h0M1262 1355h0M1468 1363h0M1408 1489h0M1255 1388h0M1453 1333h0M1270 1446h0M1471 1387h0M1290 1467h0M1260 1408h0M1325 1291h0M1426 1476h0M1627 1298h0M1643 1301h0M1652 1302h0M1643 1303h0M1651 1305h0M1630 1293h0M1649 1294h0M1645 1312h0M1644 1300h0M1648 1299h0M1645 1304h0M1630 1297h0M1643 1302h0M1657 1300h0M1662 1309h0M1638 1290h0M1643 1292h0M1641 1305h0M1639 1300h0M1639 1299h0M1625 1290h0M1642 1298h0M1637 1292h0M1655 1297h0M1639 1298h0M1645 1298h0M1638 1305h0M1657 1308h0M1633 1302h0M1646 1301h0M1643 1299h0M1650 1295h0M1647 1296h0M1636 1304h0M1645 1298h0M1635 1289h0M1630 1297h0M1652 1300h0M1640 1293h0M1639 1300h0M1635 1303h0M1649 1299h0M1656 1314h0M1646 1301h0M1632 1299h0M1627 1294h0M1632 1300h0M1646 1308h0M1640 1307h0M1635 1295h0M1646 1297h0M1648 1299h0M1658 1307h0M1648 1302h0M1634 1294h0M1642 1301h0M1633 1294h0M1638 1300h0M1648 1305h0M1648 1297h0M1646 1302h0M1634 1290h0M1638 1301h0M1645 1302h0M1641 1306h0M1642 1299h0M1639 1290h0M1641 1305h0M1651 1301h0M1636 1294h0M1651 1307h0M1652 1297h0M1639 1302h0M1643 1296h0M1658 1305h0M1635 1299h0M1645 1304h0M1647 1301h0M1638 1303h0M1646 1306h0M1635 1298h0M1633 1290h0M1655 1304h0M1653 1302h0M1638 1298h0M1624 1301h0M1656 1303h0M1650 1297h0M1640 1295h0M1633 1300h0M1580 1485h0M1587 1487h0M1588 1490h0M1552 1479h0M1587 1491h0M1552 1487h0M1567 1481h0M1577 1483h0M1577 1478h0M1574 1495h0M1595 1486h0M1582 1485h0M1566 1493h0M1560 1490h0M1572 1487h0M1554 1479h0M1558 1483h0M1594 1498h0M1568 1481h0M1586 1491h0M1561 1480h0M1576 1489h0M1557 1481h0M1561 1482h0M1561 1485h0M1563 1480h0M1563 1484h0M1557 1483h0M1562 1489h0M1562 1486h0M1558 1485h0M1553 1485h0M1571 1487h0M1563 1487h0M1546 1481h0M1559 1481h0M1591 1484h0M1565 1478h0M1560 1471h0M1570 1475h0M1562 1477h0M1575 1482h0M1565 1484h0M1572 1480h0M1563 1479h0M1573 1484h0M1574 1485h0M1555 1489h0M1546 1484h0M1562 1476h0M1594 1484h0M1578 1481h0M1565 1481h0M1566 1474h0M1577 1497h0M1573 1482h0M1574 1483h0M1570 1490h0M1584 1485h0M1560 1485h0M1575 1493h0M1562 1479h0M1565 1485h0M1574 1488h0M1556 1478h0M1564 1470h0M1563 1476h0M1574 1491h0M1592 1490h0M1569 1487h0M1588 1487h0M1587 1487h0M1573 1494h0M1577 1487h0M1555 1479h0M1562 1479h0M1571 1492h0M1571 1476h0M1585 1492h0M1564 1491h0M1552 1477h0M1577 1479h0M1567 1479h0M1579 1483h0M1570 1487h0M1567 1480h0M1568 1487h0M1573 1493h0M1569 1479h0M1587 1478h0M1563 1476h0M1593 1490h0M1578 1484h0M1567 1479h0M1578 1482h0M1565 1486h0M1556 1477h0M1578 1492h0M1560 1475h0M1578 1492h0M1593 1490h0M1583 1494h0M1575 1482h0M1570 1482h0M1560 1479h0M1560 1481h0M1566 1477h0M1572 1488h0M1585 1498h0M1578 1493h0M1699 1343h0M1695 1445h0M1649 1488h0M1704 1356h0M1709 1395h0M1687 1459h0M1506 1347h0M1535 1473h0M1703 1352h0M1699 1433h0M1627 1287h0M1528 1315h0M1617 1498h0M1502 1352h0M1516 1331h0M1523 1463h0M1500 1408h0M1536 1309h0M1691 1333h0M1696 1439h0M1505 1344h0M1520 1460h0M1601 1284h0M1559 1296h0M1531 1469h0M1580 1494h0M1574 1291h0M1669 1308h0M1533 1310h0M1605 1498h0M1638 1293h0M1641 1491h0M1653 1297h0M1573 1290h0M1593 1286h0M1499 1423h0M1619 1283h0M1496 1395h0M1613 1498h0M1702 1427h0M1594 1497h0M1639 1491h0M1607 1284h0M1604 1499h0M1671 1308h0M1577 1287h0M1704 1426h0M1550 1299h0M1581 1496h0M1667 1304h0M1653 1297h0M1542 1304h0M1698 1341h0M1504 1354h0M1698 1346h0M1707 1374h0M1678 1466h0M1497 1400h0M1495 1401h0M1608 1499h0M1186 1601h0M1159 1571h0M1186 1586h0M1175 1584h0M1181 1582h0M1167 1579h0M1170 1576h0M1167 1573h0M1159 1575h0M1174 1583h0M1164 1579h0M1152 1572h0M1190 1593h0M1168 1567h0M1154 1567h0M1134 1569h0M1170 1592h0M1183 1588h0M1163 1575h0M1139 1576h0M1178 1577h0M1159 1571h0M1150 1568h0M1140 1565h0M1175 1587h0M1163 1575h0M1161 1596h0M1185 1593h0M1173 1586h0M1186 1584h0M1169 1584h0M1167 1578h0M1166 1566h0M1182 1586h0M1146 1572h0M1165 1572h0M1181 1588h0M1153 1574h0M1172 1574h0M1163 1584h0M1190 1585h0M1161 1586h0M1177 1586h0M1171 1577h0M1184 1585h0M1174 1570h0M1152 1568h0M1155 1580h0M1201 1594h0M1172 1587h0M1183 1596h0M1121 1559h0M1169 1570h0M1160 1571h0M1185 1590h0M1200 1601h0M1161 1579h0M1152 1570h0M1160 1576h0M1164 1581h0M1174 1585h0M1180 1588h0M1168 1580h0M1169 1578h0M1166 1577h0M1171 1576h0M1131 1567h0M1150 1580h0M1178 1577h0M1175 1585h0M1169 1583h0M1176 1576h0M1183 1590h0M1171 1583h0M1165 1581h0M1164 1577h0M1150 1565h0M1170 1578h0M1156 1570h0M1139 1559h0M1156 1579h0M1180 1579h0M1176 1582h0M1196 1595h0M1148 1569h0M1152 1574h0M1161 1566h0M1174 1575h0M1159 1568h0M1161 1574h0M1176 1587h0M1178 1578h0M1183 1575h0M1161 1578h0M1172 1586h0M1169 1581h0M1159 1581h0M1151 1571h0M1176 1590h0M1165 1567h0M1148 1577h0M1175 1579h0M1151 1566h0M1184 1579h0M1185 1586h0M1149 1564h0M1180 1573h0M1173 1579h0M1159 1574h0M1169 1568h0M1196 1596h0M1196 1585h0M1157 1579h0M1173 1583h0M1176 1580h0M1151 1570h0M1152 1570h0M1185 1579h0M1182 1593h0M1173 1573h0M1167 1579h0M1178 1584h0M1177 1590h0M1164 1587h0M1173 1585h0M1177 1600h0M1162 1587h0M1148 1572h0M1179 1580h0M1197 1594h0M1179 1582h0M1165 1577h0M1156 1569h0M1203 1603h0M1164 1569h0M1189 1580h0M1184 1590h0M1185 1580h0M1174 1584h0M1166 1579h0M1153 1565h0M1137 1563h0M1156 1577h0M1183 1594h0M1179 1583h0M1182 1577h0M1188 1579h0M1146 1569h0M1181 1582h0M1175 1578h0M1156 1575h0M1177 1583h0M1161 1572h0M1172 1573h0M1160 1581h0M1177 1581h0M1194 1607h0M1170 1571h0M1154 1570h0M1163 1576h0M1177 1588h0M1171 1575h0M1162 1579h0M1177 1587h0M1183 1600h0M1168 1585h0M1193 1591h0M1159 1564h0M1156 1571h0M1190 1588h0M1163 1571h0M1161 1571h0M1159 1564h0M1159 1574h0M1169 1584h0M1155 1576h0M1194 1605h0M1180 1582h0M1190 1597h0M1170 1573h0M1168 1570h0M1181 1597h0M1179 1592h0M1177 1585h0M1138 1566h0M1174 1585h0M1172 1577h0M1156 1574h0M1175 1582h0M1183 1587h0M1179 1586h0M1195 1590h0M1182 1586h0M1169 1573h0M1145 1569h0M1180 1573h0M1188 1580h0M1171 1588h0M1156 1579h0M1170 1589h0M1178 1578h0M1174 1587h0M1168 1582h0M1161 1570h0M1168 1576h0M1169 1576h0M1163 1576h0M1186 1586h0M1161 1585h0M1164 1586h0M1176 1571h0M1170 1578h0M1177 1594h0M1166 1566h0M1167 1575h0M1148 1572h0M1138 1566h0M1161 1573h0M1188 1584h0M1168 1575h0M1157 1576h0M1139 1560h0M1167 1580h0M1166 1573h0M1164 1566h0M1186 1597h0M1170 1572h0M1195 1604h0M1139 1573h0M1179 1587h0M1173 1571h0M1169 1586h0M1191 1592h0M1145 1573h0M1162 1583h0M1158 1573h0M1191 1582h0M1177 1587h0M1173 1583h0M1142 1568h0M1166 1590h0M1153 1561h0M1179 1593h0M1157 1566h0M1176 1571h0M1185 1576h0M1164 1585h0M1158 1563h0M1195 1604h0M1182 1582h0M1172 1575h0M1161 1585h0M1169 1579h0M1152 1575h0M1142 1566h0M1179 1593h0M1158 1574h0M1168 1577h0M1187 1582h0M1153 1572h0M1185 1594h0M1199 1608h0M1138 1570h0M1175 1580h0M1163 1568h0M1149 1565h0M1154 1572h0M1167 1577h0M1181 1577h0M1181 1577h0M1178 1580h0M1181 1578h0M1124 1572h0M1155 1569h0M1185 1586h0M1165 1579h0M1178 1582h0M1178 1584h0M1157 1567h0M1168 1579h0M1156 1572h0M1166 1571h0M1169 1578h0M1158 1565h0M1176 1573h0M1188 1590h0M1171 1587h0M1163 1581h0M1153 1562h0M1182 1581h0M1146 1564h0M1172 1575h0M1196 1600h0M1186 1586h0M1195 1590h0M1181 1585h0M1155 1571h0M1189 1587h0M1192 1592h0M1161 1568h0M1179 1573h0M1176 1573h0M1161 1582h0M1165 1581h0M1178 1594h0M1149 1571h0M1177 1584h0M1170 1581h0M1189 1585h0M1156 1562h0M1172 1569h0M1166 1578h0M1176 1586h0M1143 1578h0M1181 1593h0M1149 1560h0M1172 1575h0M1163 1572h0M1162 1567h0M1145 1568h0M1165 1573h0M1187 1589h0M1190 1580h0M1162 1572h0M1178 1581h0M1152 1561h0M1173 1578h0M1180 1574h0M1152 1564h0M1187 1578h0M1078 1763h0M1077 1759h0M1071 1744h0M1094 1763h0M1080 1760h0M1082 1765h0M1078 1756h0M1073 1744h0M1045 1734h0M1057 1750h0M1098 1751h0M1058 1747h0M1048 1736h0M1073 1741h0M1091 1750h0M1060 1738h0M1074 1747h0M1051 1738h0M1055 1744h0M1088 1754h0M1063 1735h0M1070 1736h0M1088 1753h0M1049 1739h0M1093 1756h0M1075 1753h0M1060 1753h0M1063 1747h0M1057 1744h0M1099 1769h0M1047 1737h0M1077 1763h0M1077 1753h0M1055 1741h0M1065 1756h0M1095 1750h0M1047 1729h0M1042 1732h0M1046 1733h0M1044 1739h0M1060 1734h0M1071 1751h0M1049 1714h0M1058 1747h0M1068 1730h0M1057 1738h0M1062 1735h0M1064 1747h0M1066 1736h0M1062 1740h0M1039 1725h0M1063 1736h0M1059 1747h0M1076 1732h0M1057 1731h0M1077 1727h0M1055 1739h0M1070 1759h0M1050 1729h0M1065 1730h0M1058 1726h0M1038 1731h0M1068 1755h0M1073 1760h0M1053 1733h0M1035 1721h0M1074 1749h0M1073 1739h0M1072 1752h0M1064 1748h0M1047 1718h0M1073 1753h0M1063 1745h0M1068 1747h0M1036 1729h0M1059 1733h0M1046 1717h0M1068 1751h0M1099 1761h0M1071 1745h0M1065 1737h0M1068 1729h0M1069 1746h0M1090 1766h0M1064 1731h0M1051 1733h0M1062 1747h0M1069 1758h0M1070 1726h0M1070 1751h0M1079 1756h0M1099 1754h0M1069 1738h0M1090 1755h0M1083 1761h0M1052 1719h0M1079 1751h0M1062 1742h0M1043 1727h0M1055 1731h0M1060 1738h0M1041 1735h0M1073 1756h0M1055 1735h0M1065 1740h0M1088 1757h0M1062 1739h0M1053 1731h0M1065 1751h0M1038 1730h0M1061 1735h0M1058 1731h0M1053 1740h0M1101 1751h0M1072 1751h0M1070 1746h0M1062 1743h0M1097 1765h0M1057 1728h0M1073 1757h0M1062 1735h0M1046 1729h0M1071 1739h0M1069 1743h0M1059 1735h0M1063 1739h0M1073 1754h0M1071 1749h0M1056 1734h0M1093 1765h0M1079 1748h0M1076 1747h0M1062 1748h0M1077 1748h0M1065 1738h0M1062 1746h0M1065 1742h0M1057 1741h0M1041 1734h0M1062 1729h0M1081 1748h0M1052 1724h0M1042 1728h0M1067 1739h0M1090 1758h0M1064 1733h0M1070 1736h0M1083 1748h0M1044 1721h0M1074 1751h0M1042 1734h0M1092 1749h0M1074 1736h0M1056 1750h0M1066 1733h0M1064 1746h0M1078 1733h0M1066 1745h0M1047 1723h0M1044 1718h0M1067 1751h0M1062 1726h0M1049 1741h0M1066 1753h0M1053 1737h0M1068 1740h0M1061 1737h0M1069 1752h0M1065 1735h0M1064 1747h0M1077 1741h0M1091 1767h0M1059 1742h0M1051 1730h0M1043 1719h0M1030 1701h0M1054 1731h0M1068 1750h0M1057 1728h0M1091 1753h0M1080 1732h0M1082 1752h0M1053 1744h0M1053 1747h0M1076 1749h0M1076 1747h0M1064 1729h0M1048 1741h0M1058 1742h0M1043 1726h0M1093 1750h0M1036 1722h0M1058 1747h0M1054 1721h0M1059 1743h0M1061 1741h0M1084 1762h0M1074 1743h0M1070 1753h0M1079 1739h0M1065 1738h0M1045 1740h0M1050 1718h0M1061 1746h0M1053 1730h0M1059 1733h0M1054 1733h0M1062 1754h0M1060 1750h0M1062 1742h0M1062 1754h0M1089 1763h0M1054 1742h0M1066 1744h0M1090 1766h0M1067 1737h0M1035 1725h0M1046 1740h0M1070 1728h0M1051 1746h0M1067 1743h0M1081 1747h0M1072 1748h0M1110 1760h0M1075 1741h0M1066 1751h0M1076 1741h0M1055 1726h0M1076 1747h0M1066 1753h0M1063 1728h0M1071 1742h0M1048 1743h0M1070 1752h0M1041 1715h0M1058 1741h0M1079 1760h0M1066 1753h0M1061 1738h0M1075 1748h0M1073 1749h0M1066 1743h0M1080 1738h0M1040 1720h0M1053 1747h0M1073 1740h0M1076 1740h0M1057 1740h0M1074 1744h0M1049 1732h0M1066 1729h0M1101 1763h0M1081 1742h0M1030 1707h0M1081 1758h0M1059 1740h0M1079 1750h0M1073 1745h0M1079 1756h0M1058 1739h0M1062 1719h0M1072 1751h0M1058 1732h0M1060 1751h0M1068 1735h0M1055 1731h0M1065 1741h0M1054 1749h0M1043 1738h0M1086 1755h0M1089 1748h0M1067 1738h0M1053 1709h0M1058 1734h0M1060 1730h0M1084 1750h0M1057 1749h0M1047 1740h0M1053 1717h0M1059 1736h0M1036 1712h0M1021 1699h0M1058 1731h0M1044 1706h0M1084 1743h0M1071 1747h0M1051 1730h0M1068 1745h0M1052 1736h0M1047 1740h0M1067 1733h0M1046 1739h0M1073 1740h0M1090 1765h0M1064 1750h0M1078 1746h0M1061 1740h0M1077 1748h0M1042 1736h0M1058 1743h0M1057 1750h0M1077 1758h0M1063 1741h0M1061 1742h0M1049 1733h0M1065 1742h0M1074 1749h0M1065 1744h0M1099 1771h0M1046 1732h0M1074 1749h0M1062 1743h0M1061 1737h0M1053 1736h0M1060 1742h0M1053 1745h0M1047 1722h0M1058 1743h0M1070 1748h0M1056 1742h0M1081 1746h0M1067 1757h0M1091 1761h0M1083 1753h0M1071 1754h0M1075 1758h0M1058 1745h0M1062 1754h0M1046 1710h0M1058 1733h0M1060 1730h0M1047 1708h0M1064 1738h0M1065 1757h0M1083 1756h0M1060 1739h0M1069 1753h0M1079 1747h0M1068 1739h0M1063 1753h0M1057 1747h0M1086 1741h0M1054 1741h0M1061 1740h0M1054 1749h0M1058 1724h0M1055 1744h0M1034 1717h0M1069 1749h0M1052 1731h0M1054 1727h0M1086 1764h0M1074 1755h0M1083 1759h0M1059 1739h0M1057 1736h0M1044 1722h0M1085 1745h0M1071 1745h0M1081 1748h0M1029 1613h0M1193 1745h0M1131 1558h0M1100 1772h0M1047 1592h0M1016 1665h0M1084 1766h0M1017 1681h0M1231 1664h0M1230 1671h0M1231 1657h0M1066 1755h0M1048 1588h0M1199 1590h0M1211 1604h0M1215 1606h0M1216 1610h0M1182 1575h0M1054 1585h0M1143 1559h0M1202 1595h0M1067 1577h0M1031 1724h0M1209 1731h0M1153 1563h0M1205 1595h0M1076 1759h0M1018 1660h0M1081 1765h0M1024 1705h0M1148 1562h0M1023 1630h0M1128 1771h0M1205 1597h0M1207 1731h0M1153 1769h0M1193 1747h0M1229 1686h0M1145 1770h0M1212 1726h0M1182 1755h0M1031 1614h0M1136 1773h0M1061 1579h0M1121 1774h0M1214 1724h0M1230 1667h0M1043 1594h0M1139 1772h0M1155 1767h0M1085 1766h0M1142 1562h0M1091 1562h0M1203 1595h0M1029 1614h0M1232 1665h0M1172 1569h0M1019 1630h0M1072 1763h0M1217 1615h0M1419 1597h0M1416 1593h0M1453 1617h0M1406 1588h0M1396 1589h0M1418 1610h0M1388 1569h0M1388 1567h0M1428 1592h0M1441 1592h0M1428 1609h0M1431 1592h0M1396 1575h0M1422 1584h0M1419 1612h0M1395 1579h0M1428 1597h0M1429 1598h0M1400 1579h0M1441 1618h0M1436 1589h0M1436 1598h0M1402 1565h0M1413 1581h0M1417 1598h0M1419 1593h0M1428 1600h0M1446 1637h0M1422 1592h0M1394 1572h0M1392 1577h0M1423 1608h0M1420 1592h0M1452 1623h0M1427 1600h0M1431 1593h0M1438 1593h0M1420 1595h0M1419 1589h0M1398 1593h0M1410 1587h0M1420 1593h0M1432 1595h0M1417 1580h0M1424 1602h0M1446 1610h0M1422 1593h0M1418 1608h0M1423 1582h0M1416 1576h0M1426 1588h0M1426 1613h0M1391 1580h0M1422 1579h0M1431 1605h0M1424 1607h0M1415 1587h0M1423 1586h0M1403 1572h0M1402 1583h0M1406 1592h0M1441 1623h0M1447 1622h0M1445 1600h0M1416 1588h0M1419 1593h0M1415 1608h0M1402 1581h0M1453 1625h0M1422 1581h0M1405 1579h0M1421 1605h0M1397 1582h0M1441 1616h0M1414 1588h0M1410 1579h0M1445 1596h0M1437 1587h0M1440 1591h0M1409 1603h0M1394 1569h0M1423 1598h0M1420 1596h0M1391 1578h0M1419 1598h0M1450 1613h0M1428 1580h0M1424 1594h0M1413 1593h0M1427 1584h0M1424 1585h0M1412 1590h0M1441 1601h0M1428 1599h0M1433 1595h0M1402 1581h0M1399 1577h0M1436 1599h0M1438 1610h0M1430 1596h0M1417 1580h0M1414 1597h0M1375 1571h0M1444 1624h0M1430 1611h0M1424 1599h0M1392 1584h0M1441 1602h0M1404 1589h0M1427 1591h0M1438 1609h0M1439 1601h0M1413 1591h0M1430 1616h0M1403 1576h0M1431 1597h0M1422 1604h0M1438 1604h0M1411 1586h0M1409 1587h0M1424 1592h0M1444 1619h0M1403 1577h0M1415 1590h0M1445 1609h0M1430 1604h0M1425 1595h0M1428 1606h0M1414 1593h0M1414 1589h0M1383 1583h0M1399 1581h0M1425 1589h0M1421 1578h0M1438 1596h0M1430 1601h0M1422 1595h0M1421 1596h0M1387 1582h0M1426 1605h0M1437 1599h0M1419 1590h0M1421 1588h0M1415 1594h0M1424 1600h0M1420 1586h0M1443 1602h0M1377 1577h0M1426 1597h0M1434 1591h0M1403 1569h0M1436 1621h0M1417 1598h0M1401 1577h0M1428 1610h0M1414 1587h0M1412 1580h0M1427 1621h0M1449 1601h0M1417 1572h0M1418 1588h0M1419 1584h0M1390 1573h0M1430 1594h0M1419 1582h0M1423 1597h0M1434 1598h0M1437 1605h0M1408 1602h0M1427 1595h0M1416 1592h0M1422 1581h0M1454 1608h0M1392 1574h0M1420 1594h0M1442 1594h0M1424 1623h0M1436 1594h0M1435 1585h0M1446 1614h0M1410 1597h0M1443 1626h0M1409 1590h0M1410 1582h0M1408 1598h0M1407 1575h0M1419 1599h0M1434 1597h0M1409 1568h0M1443 1606h0M1446 1614h0M1424 1598h0M1408 1581h0M1418 1586h0M1423 1597h0M1427 1591h0M1437 1603h0M1389 1580h0M1429 1599h0M1436 1618h0M1440 1605h0M1428 1598h0M1428 1582h0M1401 1582h0M1421 1597h0M1428 1603h0M1435 1602h0M1428 1592h0M1427 1593h0M1437 1603h0M1423 1603h0M1410 1586h0M1438 1616h0M1423 1585h0M1407 1576h0M1439 1600h0M1429 1590h0M1410 1585h0M1413 1602h0M1437 1597h0M1418 1573h0M1423 1580h0M1438 1608h0M1436 1613h0M1427 1587h0M1458 1634h0M1411 1579h0M1394 1586h0M1442 1607h0M1412 1578h0M1415 1583h0M1449 1622h0M1408 1587h0M1420 1590h0M1421 1575h0M1414 1598h0M1436 1620h0M1428 1595h0M1423 1585h0M1415 1600h0M1416 1586h0M1427 1595h0M1424 1588h0M1445 1629h0M1429 1594h0M1436 1605h0M1427 1605h0M1431 1589h0M1420 1587h0M1422 1594h0M1395 1592h0M1397 1579h0M1420 1609h0M1445 1606h0M1408 1583h0M1405 1586h0M1418 1601h0M1399 1592h0M1410 1582h0M1441 1619h0M1386 1580h0M1413 1595h0M1433 1609h0M1445 1635h0M1362 1578h0M1432 1597h0M1375 1560h0M1443 1605h0M1414 1589h0M1425 1598h0M1404 1584h0M1430 1597h0M1420 1586h0M1415 1592h0M1428 1593h0M1424 1592h0M1424 1593h0M1423 1612h0M1402 1595h0M1413 1599h0M1436 1605h0M1436 1604h0M1420 1617h0M1424 1593h0M1403 1583h0M1432 1621h0M1387 1571h0M1420 1587h0M1416 1590h0M1433 1601h0M1437 1603h0M1436 1607h0M1440 1607h0M1423 1588h0M1430 1593h0M1454 1629h0M1405 1578h0M1424 1588h0M1427 1590h0M1389 1583h0M1438 1622h0M1435 1600h0M1391 1581h0M1418 1584h0M1444 1595h0M1412 1576h0M1406 1572h0M1429 1586h0M1416 1594h0M1399 1588h0M1409 1591h0M1426 1586h0M1410 1598h0M1391 1576h0M1431 1595h0M1423 1591h0M1448 1599h0M1420 1602h0M1415 1580h0M1409 1602h0M1447 1602h0M1404 1583h0M1451 1622h0M1421 1593h0M1428 1580h0M1443 1619h0M1430 1595h0M1416 1583h0M1408 1583h0M1447 1618h0M1454 1631h0M1431 1585h0M1446 1620h0M1432 1602h0M1420 1598h0M1415 1578h0M1390 1585h0M1424 1585h0M1421 1581h0M1416 1583h0M1427 1593h0M1364 1567h0M1424 1590h0M1389 1570h0M1427 1607h0M1405 1590h0M1442 1592h0M1406 1587h0M1451 1635h0M1425 1611h0M1442 1592h0M1433 1598h0M1398 1590h0M1433 1598h0M1402 1571h0M1425 1597h0M1439 1603h0M1419 1581h0M1416 1590h0M1397 1576h0M1393 1575h0M1431 1619h0M1448 1619h0M1427 1594h0M1428 1589h0M1427 1604h0M1413 1581h0M1431 1586h0M1424 1596h0M1433 1613h0M1440 1619h0M1425 1591h0M1398 1591h0M1398 1572h0M1425 1599h0M1436 1596h0M1425 1595h0M1370 1562h0M1394 1575h0M1416 1607h0M1399 1570h0M1420 1600h0M1442 1607h0M1393 1576h0M1416 1592h0M1388 1575h0M1430 1589h0M1391 1566h0M1421 1596h0M1430 1620h0M1425 1591h0M1410 1587h0M1420 1580h0M1426 1613h0M1446 1599h0M1405 1585h0M1423 1593h0M1415 1602h0M1427 1579h0M1439 1589h0M1421 1593h0M1437 1596h0M1405 1599h0M1429 1596h0M1420 1592h0M1412 1592h0M1415 1585h0M1391 1583h0M1393 1582h0M1430 1590h0M1428 1597h0M1415 1592h0M1444 1645h0M1446 1621h0M1411 1584h0M1443 1619h0M1403 1592h0M1416 1595h0M1389 1589h0M1434 1613h0M1409 1573h0M1416 1590h0M1429 1580h0M1427 1606h0M1421 1588h0M1425 1602h0M1431 1602h0M1415 1585h0M1441 1599h0M1436 1593h0M1389 1578h0M1417 1579h0M1411 1582h0M1414 1582h0M1430 1587h0M1416 1605h0M1416 1593h0M1412 1570h0M1423 1595h0M1415 1601h0M1402 1569h0M1430 1598h0M1421 1591h0M1424 1603h0M1422 1596h0M1442 1612h0M1417 1592h0M1424 1602h0M1418 1591h0M1408 1575h0M1440 1613h0M1437 1604h0M1408 1577h0M1438 1598h0M1437 1600h0M1425 1589h0M1395 1592h0M1434 1597h0M1429 1599h0M1442 1616h0M1299 1736h0M1293 1739h0M1287 1733h0M1314 1741h0M1320 1737h0M1300 1740h0M1293 1733h0M1288 1724h0M1288 1731h0M1288 1715h0M1283 1724h0M1285 1730h0M1278 1709h0M1284 1731h0M1289 1724h0M1287 1711h0M1301 1717h0M1307 1745h0M1273 1707h0M1285 1720h0M1306 1740h0M1282 1728h0M1277 1720h0M1288 1732h0M1284 1713h0M1336 1748h0M1301 1747h0M1309 1752h0M1313 1733h0M1280 1726h0M1293 1730h0M1323 1761h0M1296 1740h0M1320 1749h0M1291 1729h0M1306 1744h0M1322 1738h0M1295 1739h0M1331 1759h0M1289 1737h0M1319 1749h0M1295 1718h0M1283 1720h0M1321 1752h0M1336 1757h0M1293 1728h0M1303 1739h0M1324 1740h0M1285 1723h0M1293 1733h0M1298 1747h0M1307 1758h0M1293 1731h0M1285 1727h0M1311 1736h0M1284 1703h0M1291 1747h0M1296 1721h0M1328 1759h0M1296 1733h0M1267 1716h0M1285 1731h0M1316 1741h0M1291 1724h0M1308 1741h0M1295 1740h0M1299 1744h0M1321 1745h0M1296 1742h0M1313 1753h0M1285 1730h0M1295 1733h0M1282 1691h0M1290 1738h0M1298 1740h0M1323 1761h0M1304 1745h0M1313 1739h0M1316 1732h0M1284 1735h0M1306 1750h0M1313 1735h0M1280 1696h0M1265 1693h0M1303 1728h0M1327 1760h0M1297 1742h0M1303 1734h0M1298 1747h0M1277 1731h0M1266 1708h0M1328 1768h0M1319 1756h0M1309 1749h0M1297 1744h0M1307 1732h0M1293 1728h0M1303 1730h0M1289 1726h0M1310 1734h0M1287 1730h0M1286 1729h0M1337 1758h0M1294 1735h0M1278 1711h0M1313 1744h0M1293 1721h0M1296 1744h0M1307 1725h0M1306 1758h0M1303 1736h0M1295 1734h0M1302 1743h0M1289 1720h0M1273 1718h0M1297 1737h0M1299 1738h0M1291 1736h0M1282 1737h0M1302 1740h0M1293 1726h0M1295 1733h0M1324 1748h0M1314 1749h0M1290 1734h0M1290 1725h0M1304 1736h0M1300 1730h0M1344 1758h0M1304 1731h0M1316 1741h0M1289 1731h0M1316 1741h0M1275 1725h0M1290 1732h0M1287 1731h0M1335 1747h0M1285 1729h0M1296 1711h0M1315 1755h0M1318 1751h0M1289 1732h0M1305 1741h0M1273 1726h0M1294 1725h0M1339 1749h0M1286 1742h0M1296 1742h0M1319 1748h0M1313 1746h0M1285 1725h0M1351 1768h0M1275 1700h0M1309 1747h0M1312 1756h0M1290 1745h0M1281 1719h0M1285 1734h0M1297 1728h0M1304 1737h0M1344 1763h0M1289 1731h0M1291 1720h0M1305 1724h0M1316 1746h0M1310 1736h0M1305 1736h0M1304 1736h0M1305 1718h0M1333 1751h0M1294 1737h0M1298 1736h0M1287 1716h0M1310 1757h0M1354 1753h0M1285 1712h0M1299 1745h0M1290 1724h0M1320 1745h0M1324 1761h0M1303 1730h0M1324 1762h0M1292 1718h0M1291 1695h0M1313 1751h0M1324 1751h0M1290 1728h0M1285 1741h0M1304 1739h0M1305 1752h0M1310 1742h0M1309 1747h0M1308 1737h0M1286 1737h0M1313 1739h0M1307 1743h0M1298 1750h0M1334 1750h0M1303 1729h0M1302 1745h0M1333 1754h0M1290 1734h0M1305 1743h0M1324 1754h0M1285 1732h0M1288 1721h0M1305 1739h0M1296 1751h0M1312 1748h0M1284 1714h0M1306 1727h0M1336 1753h0M1348 1751h0M1321 1754h0M1292 1741h0M1280 1720h0M1315 1734h0M1294 1728h0M1313 1761h0M1307 1755h0M1301 1727h0M1311 1733h0M1312 1748h0M1306 1751h0M1313 1749h0M1316 1744h0M1280 1735h0M1303 1739h0M1318 1746h0M1293 1737h0M1326 1755h0M1317 1758h0M1300 1737h0M1289 1723h0M1288 1727h0M1308 1739h0M1288 1720h0M1282 1717h0M1319 1749h0M1321 1739h0M1284 1732h0M1299 1720h0M1300 1741h0M1292 1709h0M1306 1754h0M1327 1749h0M1303 1745h0M1319 1749h0M1286 1729h0M1303 1750h0M1322 1754h0M1327 1756h0M1312 1734h0M1306 1738h0M1269 1704h0M1286 1732h0M1282 1720h0M1308 1752h0M1312 1754h0M1318 1750h0M1320 1745h0M1289 1735h0M1307 1744h0M1326 1767h0M1316 1748h0M1295 1750h0M1313 1744h0M1310 1757h0M1294 1738h0M1304 1746h0M1284 1737h0M1322 1764h0M1314 1740h0M1317 1741h0M1303 1744h0M1306 1747h0M1318 1754h0M1340 1760h0M1296 1735h0M1306 1739h0M1311 1736h0M1282 1731h0M1329 1744h0M1290 1716h0M1327 1754h0M1300 1746h0M1323 1740h0M1303 1750h0M1312 1736h0M1306 1740h0M1294 1736h0M1310 1748h0M1299 1737h0M1323 1750h0M1327 1749h0M1331 1762h0M1301 1739h0M1277 1731h0M1292 1724h0M1276 1723h0M1291 1728h0M1301 1748h0M1292 1731h0M1312 1746h0M1312 1727h0M1307 1750h0M1288 1722h0M1294 1742h0M1292 1720h0M1287 1725h0M1284 1728h0M1270 1721h0M1322 1752h0M1285 1741h0M1314 1738h0M1295 1718h0M1339 1758h0M1307 1743h0M1296 1743h0M1326 1761h0M1289 1729h0M1318 1749h0M1303 1739h0M1295 1750h0M1326 1733h0M1285 1731h0M1273 1681h0M1311 1761h0M1313 1748h0M1309 1760h0M1294 1719h0M1309 1737h0M1286 1722h0M1286 1706h0M1327 1746h0M1291 1728h0M1298 1735h0M1284 1725h0M1287 1721h0M1294 1743h0M1301 1736h0M1305 1745h0M1291 1725h0M1297 1742h0M1307 1746h0M1328 1760h0M1326 1746h0M1292 1738h0M1269 1710h0M1300 1721h0M1298 1725h0M1296 1732h0M1308 1759h0M1300 1743h0M1281 1717h0M1282 1737h0M1316 1751h0M1283 1734h0M1311 1735h0M1294 1737h0M1279 1723h0M1306 1740h0M1285 1715h0M1331 1750h0M1311 1756h0M1330 1759h0M1290 1737h0M1275 1698h0M1275 1706h0M1291 1728h0M1295 1737h0M1327 1756h0M1294 1717h0M1334 1752h0M1316 1758h0M1282 1731h0M1332 1756h0M1291 1737h0M1280 1699h0M1346 1758h0M1318 1739h0M1320 1734h0M1311 1747h0M1283 1727h0M1318 1739h0M1291 1727h0M1288 1706h0M1326 1752h0M1309 1755h0M1304 1750h0M1296 1739h0M1303 1751h0M1298 1731h0M1324 1763h0M1283 1728h0M1305 1748h0M1307 1740h0M1287 1728h0M1323 1760h0M1265 1712h0M1305 1727h0M1317 1732h0M1299 1742h0M1300 1743h0M1322 1759h0M1296 1738h0M1296 1735h0M1297 1733h0M1294 1718h0M1304 1721h0M1303 1749h0M1289 1735h0M1299 1747h0M1296 1725h0M1309 1752h0M1281 1704h0M1319 1759h0M1283 1716h0M1341 1758h0M1291 1736h0M1379 1770h0M1305 1576h0M1450 1602h0M1273 1608h0M1468 1685h0M1395 1566h0M1328 1765h0M1464 1629h0M1367 1558h0M1323 1566h0M1300 1578h0M1439 1742h0M1314 1758h0M1419 1759h0M1378 1772h0M1385 1563h0M1255 1677h0M1279 1600h0M1399 1768h0M1257 1682h0M1470 1643h0M1352 1560h0M1266 1621h0M1452 1727h0M1438 1589h0M1269 1613h0M1316 1569h0M1282 1591h0M1460 1625h0M1455 1725h0M1462 1626h0M1470 1671h0M1450 1606h0M1438 1740h0M1258 1684h0M1470 1652h0M1430 1581h0M1340 1559h0M1416 1760h0M1430 1581h0M1301 1752h0M1419 1758h0M1335 1565h0M1461 1625h0M1374 1559h0M1262 1634h0M1255 1652h0M1259 1640h0M1340 1562h0M1463 1707h0M1291 1586h0M1263 1704h0M1387 1562h0M1294 1586h0M1318 1762h0M1473 1656h0M1305 1759h0M1351 1772h0M1443 1735h0M1275 1726h0M1658 1591h0M1663 1587h0M1653 1571h0M1632 1577h0M1655 1584h0M1650 1588h0M1672 1592h0M1642 1580h0M1646 1584h0M1635 1583h0M1656 1583h0M1645 1570h0M1611 1568h0M1619 1566h0M1675 1610h0M1634 1571h0M1667 1596h0M1684 1601h0M1632 1574h0M1610 1570h0M1639 1575h0M1637 1571h0M1639 1564h0M1640 1575h0M1608 1566h0M1683 1599h0M1621 1566h0M1617 1567h0M1630 1566h0M1644 1576h0M1617 1567h0M1661 1578h0M1632 1575h0M1665 1604h0M1642 1590h0M1657 1583h0M1641 1574h0M1627 1566h0M1654 1579h0M1632 1569h0M1665 1588h0M1652 1582h0M1644 1589h0M1656 1583h0M1621 1559h0M1591 1572h0M1664 1593h0M1637 1577h0M1632 1571h0M1664 1583h0M1642 1583h0M1625 1571h0M1657 1584h0M1642 1587h0M1663 1602h0M1642 1585h0M1647 1571h0M1667 1594h0M1673 1595h0M1647 1578h0M1645 1571h0M1666 1587h0M1625 1566h0M1675 1599h0M1668 1586h0M1643 1576h0M1662 1586h0M1677 1604h0M1657 1573h0M1650 1587h0M1637 1572h0M1678 1589h0M1610 1568h0M1667 1600h0M1661 1588h0M1656 1582h0M1637 1570h0M1648 1579h0M1653 1587h0M1637 1581h0M1662 1584h0M1641 1579h0M1656 1594h0M1647 1568h0M1660 1575h0M1666 1599h0M1648 1587h0M1653 1591h0M1647 1581h0M1666 1592h0M1628 1570h0M1616 1575h0M1659 1586h0M1632 1571h0M1611 1570h0M1650 1581h0M1674 1590h0M1629 1575h0M1623 1579h0M1668 1584h0M1608 1562h0M1628 1576h0M1636 1578h0M1624 1564h0M1642 1582h0M1659 1590h0M1646 1581h0M1629 1578h0M1628 1561h0M1671 1583h0M1623 1572h0M1670 1595h0M1645 1567h0M1676 1591h0M1611 1573h0M1631 1585h0M1623 1572h0M1656 1583h0M1645 1579h0M1635 1567h0M1618 1564h0M1658 1588h0M1647 1575h0M1629 1576h0M1662 1580h0M1680 1591h0M1641 1566h0M1670 1589h0M1657 1584h0M1622 1568h0M1647 1592h0M1629 1577h0M1644 1577h0M1665 1601h0M1637 1582h0M1645 1579h0M1630 1578h0M1655 1594h0M1650 1587h0M1647 1601h0M1651 1578h0M1663 1586h0M1619 1561h0M1649 1580h0M1645 1576h0M1639 1564h0M1613 1577h0M1641 1583h0M1630 1570h0M1668 1608h0M1530 1733h0M1561 1760h0M1560 1754h0M1542 1746h0M1543 1737h0M1558 1764h0M1546 1745h0M1552 1745h0M1545 1743h0M1505 1714h0M1543 1753h0M1557 1755h0M1538 1748h0M1527 1735h0M1572 1761h0M1526 1735h0M1543 1743h0M1549 1754h0M1536 1740h0M1550 1745h0M1541 1746h0M1542 1741h0M1562 1748h0M1533 1738h0M1533 1733h0M1509 1707h0M1561 1762h0M1533 1726h0M1572 1759h0M1564 1761h0M1540 1743h0M1522 1727h0M1587 1769h0M1545 1738h0M1564 1757h0M1553 1759h0M1526 1721h0M1527 1744h0M1542 1739h0M1520 1733h0M1533 1736h0M1542 1730h0M1518 1718h0M1541 1754h0M1538 1735h0M1538 1753h0M1567 1760h0M1549 1742h0M1520 1722h0M1554 1762h0M1573 1769h0M1552 1753h0M1540 1749h0M1558 1749h0M1528 1726h0M1556 1749h0M1533 1741h0M1550 1744h0M1537 1747h0M1564 1759h0M1564 1756h0M1531 1739h0M1546 1748h0M1550 1750h0M1528 1742h0M1558 1739h0M1546 1755h0M1532 1728h0M1555 1752h0M1528 1734h0M1545 1740h0M1578 1765h0M1534 1730h0M1567 1760h0M1539 1725h0M1525 1736h0M1521 1724h0M1560 1751h0M1554 1757h0M1533 1745h0M1532 1737h0M1556 1744h0M1533 1724h0M1565 1765h0M1537 1745h0M1547 1749h0M1559 1756h0M1566 1750h0M1553 1740h0M1551 1747h0M1545 1740h0M1534 1731h0M1529 1735h0M1543 1749h0M1561 1759h0M1524 1731h0M1546 1742h0M1540 1742h0M1541 1738h0M1543 1743h0M1587 1764h0M1555 1749h0M1546 1743h0M1524 1730h0M1539 1748h0M1544 1747h0M1545 1747h0M1535 1739h0M1553 1761h0M1523 1726h0M1566 1753h0M1590 1762h0M1582 1766h0M1516 1732h0M1539 1751h0M1550 1748h0M1552 1758h0M1558 1764h0M1544 1749h0M1524 1739h0M1541 1750h0M1535 1746h0M1533 1738h0M1538 1739h0M1539 1740h0M1556 1754h0M1549 1753h0M1525 1742h0M1559 1760h0M1534 1736h0M1570 1749h0M1518 1730h0M1532 1748h0M1533 1749h0M1562 1752h0M1543 1738h0M1547 1744h0M1535 1741h0M1555 1752h0M1536 1733h0M1540 1738h0M1555 1760h0M1551 1751h0M1514 1690h0M1566 1758h0M1536 1731h0M1539 1737h0M1514 1715h0M1530 1728h0M1586 1765h0M1623 1562h0M1532 1584h0M1686 1599h0M1508 1715h0M1707 1651h0M1684 1596h0M1683 1736h0M1528 1741h0M1709 1651h0M1599 1773h0M1510 1722h0M1707 1677h0M1494 1662h0M1525 1592h0M1705 1695h0M1505 1618h0M1495 1680h0M1537 1582h0M1518 1598h0M1632 1769h0M1508 1610h0M1517 1731h0M1512 1723h0M1707 1673h0M1493 1667h0M1620 1559h0M1503 1624h0M1503 1705h0M1515 1603h0M1634 1563h0M1584 1771h0M1493 1664h0M1662 1579h0M1529 1743h0M1630 1566h0M1662 1753h0M1664 1578h0M1571 1562h0M1588 1558h0M1597 1557h0M1674 1589h0M1504 1623h0M1647 1761h0M1581 1771h0M1577 1769h0M1543 1756h0M1704 1692h0M1516 1602h0M1526 1592h0M1698 1714h0M1709 1659h0M1676 1590h0M1607 1559h0M1541 1577h0M1589 1559h0M1690 1606h0M1672 1744h0M1655 1755h0M1532 1748h0M1526 1589h0" stroke="#fff" stroke-width="1.7" stroke-linecap="round"/>
<text x="1622.2" y="1747.2" font-family="'Liberation Sans', Arial, sans-serif" font-size="30" font-weight="bold" fill="#fff" textLength="76.7" lengthAdjust="spacingAndGlyphs">2mm</text>
<rect x="1626.3" y="1756.5" width="73.4" height="7.5" fill="#fff"/>
<text x="1007" y="1536" font-family="'Liberation Sans', Arial, sans-serif" font-size="30" fill="#000" textLength="207.9" lengthAdjust="spacingAndGlyphs">Red particles</text>
<text x="1249.2" y="1536" font-family="'Liberation Sans', Arial, sans-serif" font-size="30" fill="#000" textLength="217.8" lengthAdjust="spacingAndGlyphs">Blue particles</text>
<text x="1487.2" y="1536" font-family="'Liberation Sans', Arial, sans-serif" font-size="30" fill="#000" textLength="244.5" lengthAdjust="spacingAndGlyphs">Overlap: 773px</text>
<text x="1011.2" y="1809.4" font-family="'Liberation Sans', Arial, sans-serif" font-size="30" fill="#000" textLength="210.3" lengthAdjust="spacingAndGlyphs">Red particles</text>
<text x="1251" y="1809.4" font-family="'Liberation Sans', Arial, sans-serif" font-size="30" fill="#000" textLength="217.9" lengthAdjust="spacingAndGlyphs">Blue particles</text>
<text x="1489.8" y="1809.4" font-family="'Liberation Sans', Arial, sans-serif" font-size="30" fill="#000" textLength="243.3" lengthAdjust="spacingAndGlyphs">Overlap: 801px</text>
<defs><linearGradient id="gBody" x1="0" x2="0" y1="0" y2="1"><stop offset="0" stop-color="#1e78f0"/><stop offset="0.08" stop-color="#10c8ff"/><stop offset="0.22" stop-color="#00f4f4"/><stop offset="0.45" stop-color="#60ff9e"/><stop offset="0.62" stop-color="#c8ff30"/><stop offset="0.74" stop-color="#ffff00"/><stop offset="0.86" stop-color="#ffa000"/><stop offset="1" stop-color="#ff2a00"/></linearGradient><linearGradient id="gShade" x1="0" x2="1" y1="0" y2="0"><stop offset="0" stop-color="#000" stop-opacity="0.06"/><stop offset="0.3" stop-color="#000" stop-opacity="0"/><stop offset="0.8" stop-color="#000" stop-opacity="0"/><stop offset="1" stop-color="#000" stop-opacity="0.05"/></linearGradient><linearGradient id="gPl" x1="0" x2="0" y1="0" y2="1"><stop offset="0" stop-color="#3060f0"/><stop offset="1" stop-color="#0a1ed0"/></linearGradient><linearGradient id="gBlk" x1="0" x2="1" y1="0" y2="0"><stop offset="0" stop-color="#c80000"/><stop offset="0.12" stop-color="#b40000"/><stop offset="0.25" stop-color="#e60000"/><stop offset="0.5" stop-color="#e80000"/><stop offset="0.75" stop-color="#e60000"/><stop offset="0.88" stop-color="#b40000"/><stop offset="1" stop-color="#c80000"/></linearGradient><linearGradient id="gT" x1="0" x2="0" y1="0" y2="1"><stop offset="0" stop-color="#7f0000"/><stop offset="0.11" stop-color="#ff0000"/><stop offset="0.36" stop-color="#ffff00"/><stop offset="0.62" stop-color="#00ffff"/><stop offset="0.88" stop-color="#0000ff"/><stop offset="1" stop-color="#00007f"/></linearGradient></defs>
<rect x="180.5" y="1990" width="90.3" height="46" fill="#22b2f2"/>
<rect x="192.5" y="1992" width="66.3" height="20" fill="#fff"/>
<rect x="198.5" y="2010" width="54.3" height="19" fill="url(#gPl)"/>
<ellipse cx="225.7" cy="1990" rx="45" ry="4" fill="#fff" stroke="#000" stroke-width="1.2"/>
<ellipse cx="225.7" cy="2011" rx="28" ry="3" fill="none" stroke="#000" stroke-width="1"/>
<path d="M186.5 1994 L186.5 2025 L196.5 2025 M264.8 1994 L264.8 2025 L254.8 2025" fill="none" stroke="#000" stroke-width="1.2"/>
<rect x="180.5" y="2029" width="90.3" height="7" fill="#20aef0" stroke="#000" stroke-width="1"/>
<rect x="188.2" y="2036" width="75.3" height="168" fill="url(#gBody)"/>
<rect x="188.2" y="2036" width="75.3" height="168" fill="url(#gShade)"/>
<line x1="199" y1="2036" x2="199" y2="2204" stroke="#000" stroke-width="1.1"/>
<line x1="225.5" y1="2036" x2="225.5" y2="2204" stroke="#000" stroke-width="1.1"/>
<line x1="252.7" y1="2036" x2="252.7" y2="2204" stroke="#000" stroke-width="1.1"/>
<line x1="225.7" y1="1990" x2="225.7" y2="2036" stroke="#000" stroke-width="1"/>
<rect x="330.5" y="1990" width="90.3" height="46" fill="#22b2f2"/>
<rect x="342.5" y="1992" width="66.3" height="20" fill="#fff"/>
<rect x="348.5" y="2010" width="54.3" height="19" fill="url(#gPl)"/>
<ellipse cx="375.6" cy="1990" rx="45" ry="4" fill="#fff" stroke="#000" stroke-width="1.2"/>
<ellipse cx="375.6" cy="2011" rx="28" ry="3" fill="none" stroke="#000" stroke-width="1"/>
<path d="M336.5 1994 L336.5 2025 L346.5 2025 M414.8 1994 L414.8 2025 L404.8 2025" fill="none" stroke="#000" stroke-width="1.2"/>
<rect x="330.5" y="2029" width="90.3" height="7" fill="#20aef0" stroke="#000" stroke-width="1"/>
<rect x="338.2" y="2036" width="75.3" height="168" fill="url(#gBody)"/>
<rect x="338.2" y="2036" width="75.3" height="168" fill="url(#gShade)"/>
<line x1="349" y1="2036" x2="349" y2="2204" stroke="#000" stroke-width="1.1"/>
<line x1="375.5" y1="2036" x2="375.5" y2="2204" stroke="#000" stroke-width="1.1"/>
<line x1="402.7" y1="2036" x2="402.7" y2="2204" stroke="#000" stroke-width="1.1"/>
<line x1="375.6" y1="1990" x2="375.6" y2="2036" stroke="#000" stroke-width="1"/>
<rect x="291.2" y="2170" width="19.3" height="34" fill="#f20000" stroke="#000" stroke-width="0.8"/>
<rect x="169.1" y="2203.6" width="263.5" height="132.7" fill="url(#gBlk)" stroke="#000" stroke-width="1.3"/>
<ellipse cx="230" cy="2295" rx="30" ry="14" fill="#ff5000" opacity="0.5" filter="url(#bl8)"/>
<ellipse cx="372" cy="2295" rx="30" ry="14" fill="#ff5000" opacity="0.5" filter="url(#bl8)"/>
<rect x="173" y="2205.4" width="6" height="92.6" fill="#fff" stroke="#000" stroke-width="0.6"/>
<rect x="180" y="2205.4" width="4.5" height="92.6" fill="#fff" stroke="#000" stroke-width="0.6"/>
<rect x="417.7" y="2205.4" width="4" height="92.6" fill="#fff" stroke="#000" stroke-width="0.6"/>
<rect x="423.5" y="2205.4" width="5.1" height="92.6" fill="#fff" stroke="#000" stroke-width="0.6"/>
<rect x="205.4" y="2317.2" width="40" height="16.3" fill="#fff" stroke="#000" stroke-width="0.8"/>
<rect x="205.4" y="2324" width="40" height="3" fill="#e00000"/>
<rect x="356.3" y="2317.2" width="39.9" height="16.3" fill="#fff" stroke="#000" stroke-width="0.8"/>
<rect x="356.3" y="2324" width="39.9" height="3" fill="#e00000"/>
<rect x="278" y="2226" width="12" height="27.6" fill="#fff" stroke="#000" stroke-width="0.8"/>
<rect x="312.6" y="2226" width="10.9" height="27.6" fill="#fff" stroke="#000" stroke-width="0.8"/>
<path d="M185.4 2204 L185.4 2336 M199 2204 L199 2336 M225.5 2204 L225.5 2336 M252.7 2204 L252.7 2336 M270 2204 L270 2336 M281 2204 L281 2336 M321 2204 L321 2336 M331.7 2204 L331.7 2336 M350 2204 L350 2336 M377 2204 L377 2336 M402.6 2204 L402.6 2336 M416.2 2204 L416.2 2336 M270 2214 L332 2214 M270 2268 L332 2268 M270 2300 L332 2300 M270 2312 L332 2312 M270 2330 L332 2330 M199 2300 L250 2312 L352 2312 L403 2300 Z M260 2236 L342 2236 M254 2272 L348 2272" fill="none" stroke="#000" stroke-width="1"/>
<ellipse cx="246" cy="2236" rx="8" ry="12" fill="none" stroke="#000" stroke-width="1"/>
<ellipse cx="355" cy="2236" rx="6" ry="5" fill="none" stroke="#000" stroke-width="1"/>
<ellipse cx="248" cy="2272" rx="4" ry="6" fill="none" stroke="#000" stroke-width="1"/>
<ellipse cx="353" cy="2272" rx="4" ry="6" fill="none" stroke="#000" stroke-width="1"/>
<ellipse cx="248" cy="2310" rx="6" ry="8" fill="none" stroke="#000" stroke-width="1"/>
<ellipse cx="354" cy="2310" rx="8" ry="8" fill="none" stroke="#000" stroke-width="1"/>
<rect x="270" y="2336" width="61.7" height="50" fill="#ee0c00" stroke="#000" stroke-width="1"/>
<rect x="225.4" y="2382.6" width="150.8" height="14.4" fill="#ff3200" stroke="#000" stroke-width="1"/>
<rect x="259" y="2397" width="83.6" height="78.3" fill="#ff4000" stroke="#000" stroke-width="1"/>
<rect x="268" y="2419" width="6.5" height="55" fill="#fff"/>
<rect x="327" y="2419" width="7.5" height="55" fill="#fff"/>
<rect x="274.5" y="2411.7" width="52.5" height="58.1" fill="url(#gNz)" stroke="#000" stroke-width="1"/>
<defs><linearGradient id="gNz" x1="0" x2="0" y1="0" y2="1"><stop offset="0" stop-color="#ff6a00"/><stop offset="1" stop-color="#ffb000"/></linearGradient></defs>
<rect x="289" y="2300" width="23.6" height="150" fill="#ff7000" opacity="0.7"/>
<path d="M300 2300 L289 2303 L312.6 2306.5 L289 2310.6 L312.6 2314.1 L289 2318.2 L312.6 2321.7 L289 2325.8 L312.6 2329.3 L289 2333.4 L312.6 2336.9 L289 2341 L312.6 2344.5 L289 2348.6 L312.6 2352.1 L289 2356.2 L312.6 2359.7 L289 2363.8 L312.6 2367.3 L289 2371.4 L312.6 2374.9 L289 2379 L312.6 2382.5 L289 2386.6 L312.6 2390.1 L289 2394.2 L312.6 2397.7 L289 2401.8 L312.6 2405.3 L289 2409.4 L312.6 2412.9 L289 2417 L312.6 2420.5 L289 2424.6 L312.6 2428.1 L289 2432.2 L312.6 2435.7 L289 2439.8 L312.6 2443.3 L289 2447.4 L312.6 2450.9" fill="none" stroke="#000" stroke-width="1.2"/>
<line x1="300.8" y1="2300" x2="300.8" y2="2480" stroke="#000" stroke-width="0.8"/>
<path d="M288 2458 L300.8 2470 L313 2458" fill="none" stroke="#000" stroke-width="1"/>
<rect x="298.5" y="2470" width="4.5" height="12.5" fill="#e0a000" stroke="#000" stroke-width="0.8"/>
<ellipse cx="300.8" cy="2474" rx="30" ry="3" fill="none" stroke="#000" stroke-width="1"/>
<rect x="467.3" y="2036.4" width="15.3" height="372.3" fill="url(#gT)" stroke="#555" stroke-width="0.6"/>
<text x="488.9" y="2046.8" font-family="'DejaVu Sans', 'Liberation Sans', sans-serif" font-size="30" fill="#000" textLength="58.1" lengthAdjust="spacingAndGlyphs">220</text>
<line x1="478" y1="2035.8" x2="482.6" y2="2035.8" stroke="#333" stroke-width="1"/>
<text x="488.9" y="2108.8" font-family="'DejaVu Sans', 'Liberation Sans', sans-serif" font-size="30" fill="#000" textLength="58.1" lengthAdjust="spacingAndGlyphs">200</text>
<line x1="478" y1="2097.8" x2="482.6" y2="2097.8" stroke="#333" stroke-width="1"/>
<text x="488.9" y="2170.8" font-family="'DejaVu Sans', 'Liberation Sans', sans-serif" font-size="30" fill="#000" textLength="58.1" lengthAdjust="spacingAndGlyphs">180</text>
<line x1="478" y1="2159.8" x2="482.6" y2="2159.8" stroke="#333" stroke-width="1"/>
<text x="488.9" y="2232" font-family="'DejaVu Sans', 'Liberation Sans', sans-serif" font-size="30" fill="#000" textLength="58.1" lengthAdjust="spacingAndGlyphs">160</text>
<line x1="478" y1="2221" x2="482.6" y2="2221" stroke="#333" stroke-width="1"/>
<text x="488.9" y="2294" font-family="'DejaVu Sans', 'Liberation Sans', sans-serif" font-size="30" fill="#000" textLength="58.1" lengthAdjust="spacingAndGlyphs">140</text>
<line x1="478" y1="2283" x2="482.6" y2="2283" stroke="#333" stroke-width="1"/>
<text x="488.9" y="2357" font-family="'DejaVu Sans', 'Liberation Sans', sans-serif" font-size="30" fill="#000" textLength="58.1" lengthAdjust="spacingAndGlyphs">120</text>
<line x1="478" y1="2346" x2="482.6" y2="2346" stroke="#333" stroke-width="1"/>
<text x="488.9" y="2418.2" font-family="'DejaVu Sans', 'Liberation Sans', sans-serif" font-size="30" fill="#000" textLength="58.1" lengthAdjust="spacingAndGlyphs">100</text>
<line x1="478" y1="2407.2" x2="482.6" y2="2407.2" stroke="#333" stroke-width="1"/>
<path d="M454 1976.5 L488 1976.5 L471 1948.4 Z" fill="#000"/>
<text x="500.6" y="1976.5" font-family="'DejaVu Sans', 'Liberation Sans', sans-serif" font-size="30" fill="#000" textLength="61.1" lengthAdjust="spacingAndGlyphs">220</text>
<path d="M454 2433.5 L488 2433.5 L471 2462.4 Z" fill="#000"/>
<text x="501.4" y="2458.3" font-family="'DejaVu Sans', 'Liberation Sans', sans-serif" font-size="30" fill="#000" textLength="61.1" lengthAdjust="spacingAndGlyphs">106</text>
<text x="9.6" y="1905" font-family="'Liberation Sans', Arial, sans-serif" font-size="44" font-weight="bold" fill="#000" textLength="61" lengthAdjust="spacingAndGlyphs">(G)</text>
<text x="69.1" y="1916.4" font-family="'DejaVu Sans', 'Liberation Sans', sans-serif" font-size="30.5" fill="#000" textLength="551.1" lengthAdjust="spacingAndGlyphs">Temperature (<tspan font-size="19" dy="-14">o</tspan><tspan dy="14">C) - Radiative Loss</tspan></text>
<text x="15.3" y="2319" font-family="'Liberation Sans', Arial, sans-serif" font-size="33" font-weight="bold" fill="#000" textLength="105.8" lengthAdjust="spacingAndGlyphs">10mm</text>
<rect x="49.6" y="2328" width="38.4" height="7.5" fill="#000"/>
<line x1="84.8" y1="2435" x2="84.8" y2="2410" stroke="#20a020" stroke-width="1.5"/>
<path d="M84.8 2406 L87.3 2413 L82.3 2413 Z" fill="#20a020"/>
<line x1="84.8" y1="2434.7" x2="108" y2="2434.7" stroke="#d02060" stroke-width="1.5"/>
<path d="M112 2434.7 L105 2437.2 L105 2432.2 Z" fill="#d02060"/>
<text x="76.5" y="2394" font-family="'DejaVu Sans', 'Liberation Sans', sans-serif" font-size="28" fill="#000">y</text>
<text x="75" y="2446" font-family="'DejaVu Sans', 'Liberation Sans', sans-serif" font-size="28" fill="#000">z</text>
<text x="120.8" y="2446" font-family="'DejaVu Sans', 'Liberation Sans', sans-serif" font-size="28" fill="#000">x</text>
<defs><g id="wf" fill="none" stroke="#000" stroke-width="0.7"><ellipse cx="17" cy="35" rx="19" ry="23" transform="rotate(-25 17 35)"/><ellipse cx="18.5" cy="36" rx="15" ry="19" transform="rotate(-25 17 35)"/><ellipse cx="20" cy="37" rx="12" ry="15" transform="rotate(-25 17 35)"/><ellipse cx="21.5" cy="38" rx="9" ry="12" transform="rotate(-25 17 35)"/><ellipse cx="74" cy="19" rx="19" ry="23" transform="rotate(-25 74 19)"/><ellipse cx="75.5" cy="20" rx="15" ry="19" transform="rotate(-25 74 19)"/><ellipse cx="77" cy="21" rx="12" ry="15" transform="rotate(-25 74 19)"/><ellipse cx="78.5" cy="22" rx="9" ry="12" transform="rotate(-25 74 19)"/><path d="M0 60 l95 52 M10 70 l95 52 M20 20 l95 52 M30 30 l95 52 M60 35 l95 52 M75 5 l95 52 M95 10 l95 52 M50 45 l95 52 M85 25 L98 20 L175 60 L175 120 L162 128 L85 85 Z M98 20 L98 80 M85 85 L98 80 L175 120 M60 90 L100 112 L140 134 M70 82 L150 126 M55 70 L60 95 M120 10 L195 50 L195 140 M150 5 L150 60 M25 125 L110 80 M40 135 L160 70 M0 45 Q0 30 12 28 L150 100 Q160 108 150 118 L130 128 Q120 132 110 126 L5 68 Q0 62 0 45 Z M45 20 Q50 8 65 6 L190 72 Q200 80 190 90 M70 55 L175 110 M80 40 L190 98" stroke-opacity="0.55"/><g stroke-width="0.9"><circle cx="107.9" cy="67.4" r="7"/><circle cx="140.4" cy="73.6" r="7.6"/><circle cx="135.2" cy="82.2" r="7.7"/><circle cx="106.7" cy="61" r="3.6"/><circle cx="113.1" cy="81.6" r="5.7"/><circle cx="120.3" cy="79.2" r="4.1"/><circle cx="117.1" cy="104.1" r="6.8"/><circle cx="133.5" cy="96.6" r="3.7"/><circle cx="117.4" cy="76.1" r="3"/><circle cx="127.7" cy="74.5" r="4.1"/><circle cx="146.2" cy="77.5" r="4.4"/><circle cx="136.5" cy="76.7" r="6.4"/><circle cx="130" cy="105.1" r="6.5"/><circle cx="146.9" cy="75.1" r="4.5"/><circle cx="117.4" cy="85.1" r="3.7"/><circle cx="131.3" cy="83.7" r="6"/><circle cx="140.1" cy="80.4" r="4.7"/><circle cx="113.8" cy="98.9" r="5.4"/><circle cx="116.5" cy="91.5" r="6.5"/><circle cx="152.5" cy="90.5" r="3.1"/><circle cx="122" cy="58.8" r="3.1"/><circle cx="124.7" cy="69.8" r="5.9"/><circle cx="125.7" cy="80.2" r="3.9"/><circle cx="129.6" cy="78" r="6.8"/><circle cx="147.9" cy="68.8" r="4.7"/><circle cx="113" cy="90.6" r="6.9"/><circle cx="137.5" cy="91.5" r="7"/><circle cx="124.1" cy="77.7" r="7.7"/><circle cx="131.2" cy="85.4" r="6.1"/><circle cx="131.5" cy="75.1" r="7.6"/><circle cx="112" cy="77.3" r="4.6"/><circle cx="124.1" cy="84" r="3.7"/><circle cx="106.9" cy="45.5" r="3.8"/><circle cx="155.6" cy="89.7" r="5.7"/><circle cx="114.7" cy="84.5" r="6"/><circle cx="128.1" cy="69.2" r="5.1"/><circle cx="147.1" cy="88.4" r="3.2"/><circle cx="99.1" cy="80.8" r="3.7"/><circle cx="118.6" cy="53.3" r="6.2"/><circle cx="123.3" cy="74.9" r="5.2"/><circle cx="135.7" cy="97.1" r="4.5"/><circle cx="78.2" cy="92.2" r="7.3"/><circle cx="135" cy="78.2" r="5.4"/><circle cx="120.2" cy="67.5" r="4.5"/><circle cx="116.4" cy="83.5" r="4.9"/><circle cx="152.3" cy="78" r="6.1"/><circle cx="111.1" cy="80" r="3.4"/><circle cx="119.1" cy="99" r="7.3"/><circle cx="108.4" cy="94.8" r="6.9"/><circle cx="116" cy="64.7" r="6.8"/><circle cx="109.7" cy="93" r="4.4"/><circle cx="101.5" cy="81.7" r="6.5"/><circle cx="114.1" cy="105.5" r="6.2"/><circle cx="120.4" cy="79.2" r="5.7"/><circle cx="121.9" cy="96.4" r="5.3"/></g><ellipse cx="60" cy="78" rx="22" ry="26" stroke-opacity="0.6"/><ellipse cx="150" cy="60" rx="18" ry="22" stroke-opacity="0.6"/></g></defs>
<text x="668.4" y="1905" font-family="'Liberation Sans', Arial, sans-serif" font-size="44" font-weight="bold" fill="#000" textLength="61.3" lengthAdjust="spacingAndGlyphs">(H)</text>
<line x1="895" y1="1908.8" x2="1444" y2="1908.8" stroke="#d9d9d9" stroke-width="1.6"/>
<text x="858.7" y="1919.7" font-family="'Liberation Sans', Arial, sans-serif" font-size="33" fill="#404040" text-anchor="end" textLength="59.3" lengthAdjust="spacingAndGlyphs">200</text>
<line x1="895" y1="1983.2" x2="1444" y2="1983.2" stroke="#d9d9d9" stroke-width="1.6"/>
<text x="858.7" y="1994.1" font-family="'Liberation Sans', Arial, sans-serif" font-size="33" fill="#404040" text-anchor="end" textLength="59.3" lengthAdjust="spacingAndGlyphs">195</text>
<line x1="895" y1="2056.9" x2="1444" y2="2056.9" stroke="#d9d9d9" stroke-width="1.6"/>
<text x="858.7" y="2067.8" font-family="'Liberation Sans', Arial, sans-serif" font-size="33" fill="#404040" text-anchor="end" textLength="59.3" lengthAdjust="spacingAndGlyphs">190</text>
<line x1="895" y1="2131.4" x2="1444" y2="2131.4" stroke="#d9d9d9" stroke-width="1.6"/>
<text x="858.7" y="2142.3" font-family="'Liberation Sans', Arial, sans-serif" font-size="33" fill="#404040" text-anchor="end" textLength="59.3" lengthAdjust="spacingAndGlyphs">185</text>
<line x1="895" y1="2205.7" x2="1444" y2="2205.7" stroke="#d9d9d9" stroke-width="1.6"/>
<text x="858.7" y="2216.6" font-family="'Liberation Sans', Arial, sans-serif" font-size="33" fill="#404040" text-anchor="end" textLength="59.3" lengthAdjust="spacingAndGlyphs">180</text>
<line x1="895" y1="2280" x2="1444" y2="2280" stroke="#d9d9d9" stroke-width="1.6"/>
<text x="858.7" y="2290.9" font-family="'Liberation Sans', Arial, sans-serif" font-size="33" fill="#404040" text-anchor="end" textLength="59.3" lengthAdjust="spacingAndGlyphs">175</text>
<rect x="963.2" y="1945.3" width="61.6" height="334" fill="#5b9bd5"/>
<rect x="1041.7" y="2041" width="61.3" height="238.3" fill="#ed7d31"/>
<rect x="1238.4" y="2145.8" width="60.2" height="133.5" fill="#5b9bd5"/>
<rect x="1315.8" y="2152.7" width="61.5" height="126.6" fill="#ed7d31"/>
<rect x="1434.1" y="1999" width="50.9" height="50" fill="#5b9bd5"/>
<rect x="1434.1" y="2127" width="50.9" height="50.5" fill="#ed7d31"/>
<text x="0" y="0" font-family="'Liberation Sans', Arial, sans-serif" font-size="35" font-weight="bold" fill="#595959" text-anchor="middle" textLength="196" lengthAdjust="spacingAndGlyphs" transform="translate(733 2094.2) rotate(-90)">Avg. Needle</text>
<text x="0" y="0" font-family="'Liberation Sans', Arial, sans-serif" font-size="35" font-weight="bold" fill="#595959" text-anchor="middle" textLength="280" lengthAdjust="spacingAndGlyphs" transform="translate(778 2093.1) rotate(-90)">Temperature (°C)</text>
<text x="929.2" y="2319" font-family="'Liberation Sans', Arial, sans-serif" font-size="36" font-weight="bold" fill="#000" textLength="183.9" lengthAdjust="spacingAndGlyphs">Convective</text>
<text x="948.4" y="2363.4" font-family="'Liberation Sans', Arial, sans-serif" font-size="36" font-weight="bold" fill="#000" textLength="146.2" lengthAdjust="spacingAndGlyphs">heat loss</text>
<text x="1146.7" y="2319" font-family="'Liberation Sans', Arial, sans-serif" font-size="36" font-weight="bold" fill="#000" textLength="238" lengthAdjust="spacingAndGlyphs">Radiative heat</text>
<text x="1233.7" y="2363.4" font-family="'Liberation Sans', Arial, sans-serif" font-size="36" font-weight="bold" fill="#000" textLength="64.1" lengthAdjust="spacingAndGlyphs">loss</text>
<use href="#wf" transform="translate(1503.7 1914.2)"/>
<use href="#wf" transform="translate(1503.7 2111)"/>
<ellipse cx="1660" cy="2015" rx="31" ry="38" fill="#b3b3f2" stroke="#5a5aff" stroke-width="1"/>
<path d="M1650 1980 L1685 1995 L1700 2020 L1700 2050 L1672 2053 Z" fill="#b3b3f2"/>
<ellipse cx="1690" cy="2037" rx="15" ry="18" fill="#b3b3f2" stroke="#5a5aff" stroke-width="1"/>
<ellipse cx="1691" cy="2038" rx="8" ry="10" fill="none" stroke="#5a5aff" stroke-width="1"/>
<circle cx="1692" cy="2039" r="2.5" fill="#000"/>
<path d="M1668 2000 Q1648 2010 1652 2030 M1645 2035 L1690 2040" fill="none" stroke="#5a5aff" stroke-width="1"/>
<g fill="none" stroke="#000" stroke-width="1"><ellipse cx="1640" cy="2205" rx="7" ry="9"/><ellipse cx="1643.6" cy="2207.1" rx="7" ry="9"/><ellipse cx="1647.2" cy="2209.2" rx="7" ry="9"/><ellipse cx="1650.8" cy="2211.3" rx="7" ry="9"/><ellipse cx="1654.4" cy="2213.4" rx="7" ry="9"/><ellipse cx="1658" cy="2215.5" rx="7" ry="9"/><ellipse cx="1661.6" cy="2217.6" rx="7" ry="9"/><ellipse cx="1665.2" cy="2219.7" rx="7" ry="9"/><ellipse cx="1668.8" cy="2221.8" rx="7" ry="9"/><ellipse cx="1672.4" cy="2223.9" rx="7" ry="9"/><ellipse cx="1676" cy="2226" rx="7" ry="9"/><ellipse cx="1679.6" cy="2228.1" rx="7" ry="9"/><ellipse cx="1683.2" cy="2230.2" rx="7" ry="9"/><ellipse cx="1686.8" cy="2232.3" rx="7" ry="9"/></g>
<text x="1507.8" y="2079.6" font-family="'Liberation Sans', Arial, sans-serif" font-size="30" fill="#000" textLength="203.8" lengthAdjust="spacingAndGlyphs">with insulator</text>
<text x="1593.5" y="2282.4" font-family="'Liberation Sans', Arial, sans-serif" font-size="30" fill="#000" textLength="117.1" lengthAdjust="spacingAndGlyphs">without</text>
<text x="1580.4" y="2324.7" font-family="'Liberation Sans', Arial, sans-serif" font-size="30" fill="#000" textLength="130.2" lengthAdjust="spacingAndGlyphs">insulator</text>
<rect x="901.8" y="2392.9" width="220.2" height="105.3" fill="#fff" stroke="#000" stroke-width="1.5"/>
<rect x="1133" y="2418.2" width="327.8" height="58.1" fill="#fff" stroke="#000" stroke-width="1.5"/>
<text x="905.6" y="2414.8" font-family="'Liberation Serif', 'DejaVu Serif', serif" font-size="30" fill="#000" textLength="149.1" lengthAdjust="spacingAndGlyphs">-<tspan font-weight="bold">n</tspan> · <tspan font-weight="bold">q</tspan> = <tspan font-style="italic">q</tspan><tspan font-size="20" dy="5">0</tspan></text>
<line x1="1025" y1="2428.4" x2="1053" y2="2428.4" stroke="#000" stroke-width="1.6" stroke-dasharray="2 3"/>
<text x="905.6" y="2486.6" font-family="'Liberation Serif', 'DejaVu Serif', serif" font-size="30" fill="#000" textLength="214.1" lengthAdjust="spacingAndGlyphs"><tspan font-style="italic">q</tspan><tspan font-size="20" dy="5">0</tspan><tspan dy="-5"> = </tspan><tspan font-style="italic">h</tspan>(<tspan font-style="italic">T</tspan><tspan font-size="20" dy="5">ext</tspan><tspan dy="-5"> - </tspan><tspan font-style="italic">T</tspan>)</text>
<text x="1143" y="2455.8" font-family="'Liberation Serif', 'DejaVu Serif', serif" font-size="30" fill="#000" textLength="307.1" lengthAdjust="spacingAndGlyphs">-<tspan font-weight="bold">n</tspan> · <tspan font-weight="bold">q</tspan> = <tspan font-style="italic">εσ</tspan>(<tspan font-style="italic">T</tspan><tspan font-size="20" dy="-13">4</tspan><tspan font-size="20" dx="-11" dy="20">amb</tspan><tspan dy="-7"> - </tspan><tspan font-style="italic">T</tspan><tspan font-size="20" dy="-13">4</tspan><tspan dy="13">)</tspan></text>
</svg>
</body></html>
